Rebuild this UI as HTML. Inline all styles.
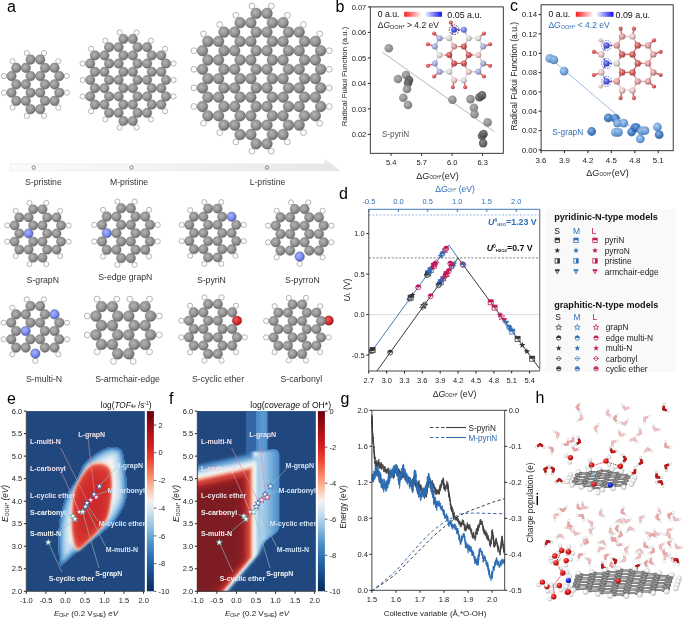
<!DOCTYPE html>
<html><head><meta charset="utf-8"><style>
html,body{margin:0;padding:0;background:#fff;}
svg{display:block;will-change:transform;}
text{font-family:"Liberation Sans", sans-serif;}
</style></head><body>
<svg width="685" height="618" viewBox="0 0 685 618">
<defs><radialGradient id="gC" cx="40%" cy="38%" r="62%"><stop offset="0" stop-color="#b4b4b4"/><stop offset="0.6" stop-color="#939393"/><stop offset="1" stop-color="#6c6c6c"/></radialGradient>
<radialGradient id="gN" cx="40%" cy="38%" r="62%"><stop offset="0" stop-color="#a8b4ff"/><stop offset="0.6" stop-color="#7a8cf0"/><stop offset="1" stop-color="#5060c8"/></radialGradient>
<radialGradient id="gO" cx="40%" cy="38%" r="62%"><stop offset="0" stop-color="#f06060"/><stop offset="0.6" stop-color="#d42a2a"/><stop offset="1" stop-color="#a01818"/></radialGradient>
<linearGradient id="arrowG" x1="0" x2="1" y1="0" y2="0"><stop offset="0" stop-color="#fbfbfb"/><stop offset="0.5" stop-color="#f2f2f2"/><stop offset="1" stop-color="#e6e6e6"/></linearGradient>
<radialGradient id="gGr" cx="38%" cy="35%" r="65%"><stop offset="0" stop-color="#a8a8a8"/><stop offset="0.55" stop-color="#8a8a8a"/><stop offset="1" stop-color="#6a6a6a"/></radialGradient><radialGradient id="gGr2" cx="38%" cy="35%" r="65%"><stop offset="0" stop-color="#7a7a7a"/><stop offset="0.55" stop-color="#5a5a5a"/><stop offset="1" stop-color="#3a3a3a"/></radialGradient><radialGradient id="gBl" cx="38%" cy="35%" r="65%"><stop offset="0" stop-color="#a6c8ee"/><stop offset="0.55" stop-color="#6c9fd8"/><stop offset="1" stop-color="#4378ba"/></radialGradient><radialGradient id="gBl2" cx="38%" cy="35%" r="65%"><stop offset="0" stop-color="#7eaae0"/><stop offset="0.55" stop-color="#3a74bc"/><stop offset="1" stop-color="#275d9e"/></radialGradient><linearGradient id="redbar" x1="0" x2="1"><stop offset="0" stop-color="#ff1a1a"/><stop offset="1" stop-color="#fff0f0"/></linearGradient><linearGradient id="bluebar" x1="0" x2="1"><stop offset="0" stop-color="#eef0ff"/><stop offset="1" stop-color="#1010f0"/></linearGradient><radialGradient id="bg0" cx="38%" cy="35%" r="65%"><stop offset="0" stop-color="#eda3a3"/><stop offset="0.5" stop-color="#e05858"/><stop offset="1" stop-color="#a13f3f"/></radialGradient><radialGradient id="bg1" cx="38%" cy="35%" r="65%"><stop offset="0" stop-color="#edcaca"/><stop offset="0.5" stop-color="#e0a0a0"/><stop offset="1" stop-color="#a17373"/></radialGradient><radialGradient id="bg2" cx="38%" cy="35%" r="65%"><stop offset="0" stop-color="#e6a4a4"/><stop offset="0.5" stop-color="#d25a5a"/><stop offset="1" stop-color="#974040"/></radialGradient><radialGradient id="bg3" cx="38%" cy="35%" r="65%"><stop offset="0" stop-color="#ebebeb"/><stop offset="0.5" stop-color="#dcdcdc"/><stop offset="1" stop-color="#9e9e9e"/></radialGradient><radialGradient id="bg4" cx="38%" cy="35%" r="65%"><stop offset="0" stop-color="#d0d3ed"/><stop offset="0.5" stop-color="#aab0e0"/><stop offset="1" stop-color="#7a7ea1"/></radialGradient><radialGradient id="bg5" cx="38%" cy="35%" r="65%"><stop offset="0" stop-color="#9b9fed"/><stop offset="0.5" stop-color="#4a52e0"/><stop offset="1" stop-color="#353ba1"/></radialGradient><radialGradient id="bg6" cx="38%" cy="35%" r="65%"><stop offset="0" stop-color="#b6bdf2"/><stop offset="0.5" stop-color="#7c88e8"/><stop offset="1" stop-color="#5961a7"/></radialGradient><radialGradient id="bg7" cx="38%" cy="35%" r="65%"><stop offset="0" stop-color="#f4e0e0"/><stop offset="0.5" stop-color="#ecc8c8"/><stop offset="1" stop-color="#a99090"/></radialGradient><radialGradient id="bg8" cx="38%" cy="35%" r="65%"><stop offset="0" stop-color="#e9a4a4"/><stop offset="0.5" stop-color="#d85a5a"/><stop offset="1" stop-color="#9b4040"/></radialGradient><radialGradient id="bg9" cx="38%" cy="35%" r="65%"><stop offset="0" stop-color="#f4dede"/><stop offset="0.5" stop-color="#ecc4c4"/><stop offset="1" stop-color="#a98d8d"/></radialGradient><radialGradient id="bg10" cx="38%" cy="35%" r="65%"><stop offset="0" stop-color="#e7a9a9"/><stop offset="0.5" stop-color="#d46464"/><stop offset="1" stop-color="#984848"/></radialGradient><radialGradient id="bg11" cx="38%" cy="35%" r="65%"><stop offset="0" stop-color="#a4a4ed"/><stop offset="0.5" stop-color="#5a5ae0"/><stop offset="1" stop-color="#4040a1"/></radialGradient><radialGradient id="bg12" cx="38%" cy="35%" r="65%"><stop offset="0" stop-color="#f4e1e1"/><stop offset="0.5" stop-color="#ebcaca"/><stop offset="1" stop-color="#a99191"/></radialGradient><radialGradient id="bg13" cx="38%" cy="35%" r="65%"><stop offset="0" stop-color="#efcccc"/><stop offset="0.5" stop-color="#e2a4a4"/><stop offset="1" stop-color="#a27676"/></radialGradient><linearGradient id="cbar" x1="0" y1="0" x2="0" y2="1"><stop offset="0" stop-color="#67000d"/><stop offset="0.1" stop-color="#a50f15"/><stop offset="0.2" stop-color="#d42020"/><stop offset="0.28" stop-color="#ef4a35"/><stop offset="0.36" stop-color="#f98a6a"/><stop offset="0.43" stop-color="#fcc0a8"/><stop offset="0.5" stop-color="#f5f3f3"/><stop offset="0.57" stop-color="#c9ddef"/><stop offset="0.65" stop-color="#8cbde0"/><stop offset="0.73" stop-color="#4f93cb"/><stop offset="0.82" stop-color="#2a6cae"/><stop offset="0.91" stop-color="#174a8a"/><stop offset="1" stop-color="#0a2a5c"/></linearGradient><filter id="bl0_7" x="-30%" y="-30%" width="160%" height="160%"><feGaussianBlur stdDeviation="0.7"/></filter><filter id="bl1" x="-30%" y="-30%" width="160%" height="160%"><feGaussianBlur stdDeviation="1"/></filter><filter id="bl1_5" x="-30%" y="-30%" width="160%" height="160%"><feGaussianBlur stdDeviation="1.5"/></filter><filter id="bl2" x="-30%" y="-30%" width="160%" height="160%"><feGaussianBlur stdDeviation="2"/></filter><filter id="bl2_5" x="-30%" y="-30%" width="160%" height="160%"><feGaussianBlur stdDeviation="2.5"/></filter><filter id="bl3" x="-30%" y="-30%" width="160%" height="160%"><feGaussianBlur stdDeviation="3"/></filter><filter id="bl4" x="-30%" y="-30%" width="160%" height="160%"><feGaussianBlur stdDeviation="4"/></filter><filter id="bl5" x="-30%" y="-30%" width="160%" height="160%"><feGaussianBlur stdDeviation="5"/></filter><clipPath id="clipE"><rect x="26.3" y="411.1" width="118.6" height="180.2"/></clipPath><clipPath id="clipEo"><path d="M114.5,447.2 C117.1,447.5 120.1,447.7 121.8,450.5 C123.5,453.3 124.0,459.2 124.7,464.0 C125.5,468.8 126.0,473.9 126.3,479.0 C126.6,484.1 126.8,490.3 126.5,494.6 C126.2,498.9 126.4,500.2 124.3,504.8 C122.2,509.4 117.8,517.6 114.1,522.2 C110.4,526.8 106.5,529.0 102.4,532.4 C98.3,535.8 93.7,539.2 89.3,542.6 C84.9,546.0 80.3,549.4 76.2,552.8 C72.1,556.2 67.3,560.9 64.6,563.0 C61.9,565.1 61.2,567.6 60.2,565.2 C59.2,562.8 58.9,555.3 58.7,548.4 C58.5,541.5 58.2,532.0 59.2,524.0 C60.2,516.0 62.7,506.3 64.6,500.4 C66.5,494.5 68.2,492.4 70.4,488.7 C72.6,485.0 75.5,482.1 77.7,478.0 C79.9,473.9 80.8,468.2 83.8,464.2 C86.8,460.2 91.8,456.6 95.5,454.0 C99.2,451.4 102.8,449.6 106.0,448.5 C109.2,447.4 111.9,446.9 114.5,447.2 Z"/></clipPath><clipPath id="clipF"><rect x="197.3" y="411.1" width="118.6" height="180.2"/></clipPath><linearGradient id="colF" x1="0" x2="1"><stop offset="0" stop-color="#21487e" stop-opacity="0"/><stop offset="0.3" stop-color="#6aa3d6"/><stop offset="0.55" stop-color="#b6d6ee"/><stop offset="0.8" stop-color="#5d98cf"/><stop offset="1" stop-color="#21487e" stop-opacity="0"/></linearGradient><linearGradient id="colFv" x1="0" x2="0" y1="0" y2="1"><stop offset="0" stop-color="#fff" stop-opacity="0.5"/><stop offset="1" stop-color="#fff" stop-opacity="1"/></linearGradient><linearGradient id="platF" x1="0" x2="1"><stop offset="0" stop-color="#ffffff"/><stop offset="0.25" stop-color="#c8e0f2"/><stop offset="0.6" stop-color="#8abde3"/><stop offset="0.85" stop-color="#5290cc"/><stop offset="1" stop-color="#3a76b6"/></linearGradient><linearGradient id="redF" x1="0" x2="1"><stop offset="0" stop-color="#8e1a20"/><stop offset="0.7" stop-color="#9a1c22"/><stop offset="0.86" stop-color="#b81f26"/><stop offset="0.96" stop-color="#dc5a44"/><stop offset="1" stop-color="#f1b39c"/></linearGradient><linearGradient id="colF2" x1="0" x2="1"><stop offset="0" stop-color="#4a88c6"/><stop offset="0.6" stop-color="#5e9ad2"/><stop offset="1" stop-color="#4f8ccb"/></linearGradient><linearGradient id="platG" x1="0" x2="1"><stop offset="0" stop-color="#f4f7fa"/><stop offset="0.3" stop-color="#b9d8ee"/><stop offset="0.65" stop-color="#7fb4de"/><stop offset="1" stop-color="#4e8ecb"/></linearGradient><radialGradient id="gWh" cx="38%" cy="35%" r="65%"><stop offset="0" stop-color="#ffffff"/><stop offset="0.55" stop-color="#f0f0f0"/><stop offset="1" stop-color="#b8b8b8"/></radialGradient><radialGradient id="gRd" cx="38%" cy="35%" r="65%"><stop offset="0" stop-color="#ff7070"/><stop offset="0.55" stop-color="#e01a1a"/><stop offset="1" stop-color="#a00c0c"/></radialGradient><radialGradient id="gBn" cx="38%" cy="35%" r="65%"><stop offset="0" stop-color="#5a6aff"/><stop offset="0.55" stop-color="#1a2ae0"/><stop offset="1" stop-color="#0a148c"/></radialGradient><radialGradient id="gGy" cx="38%" cy="35%" r="65%"><stop offset="0" stop-color="#b0b0b0"/><stop offset="0.55" stop-color="#8a8a8a"/><stop offset="1" stop-color="#5a5a5a"/></radialGradient></defs>
<rect width="685" height="618" fill="#fff"/>
<text x="7.0" y="11.6" font-size="16" fill="#000" text-anchor="start" font-weight="normal" font-style="normal" >a</text>
<circle cx="3.9" cy="76.1" r="2.58" fill="#fff" stroke="#9c9c9c" stroke-width="0.75"/>
<circle cx="12.5" cy="61.2" r="2.58" fill="#fff" stroke="#9c9c9c" stroke-width="0.75"/>
<circle cx="12.5" cy="107.6" r="2.58" fill="#fff" stroke="#9c9c9c" stroke-width="0.75"/>
<circle cx="3.9" cy="92.7" r="2.58" fill="#fff" stroke="#9c9c9c" stroke-width="0.75"/>
<circle cx="26.8" cy="53.0" r="2.58" fill="#fff" stroke="#9c9c9c" stroke-width="0.75"/>
<circle cx="44.0" cy="53.0" r="2.58" fill="#fff" stroke="#9c9c9c" stroke-width="0.75"/>
<circle cx="44.0" cy="115.8" r="2.58" fill="#fff" stroke="#9c9c9c" stroke-width="0.75"/>
<circle cx="26.8" cy="115.8" r="2.58" fill="#fff" stroke="#9c9c9c" stroke-width="0.75"/>
<circle cx="66.9" cy="76.1" r="2.58" fill="#fff" stroke="#9c9c9c" stroke-width="0.75"/>
<circle cx="58.3" cy="61.2" r="2.58" fill="#fff" stroke="#9c9c9c" stroke-width="0.75"/>
<circle cx="66.9" cy="92.7" r="2.58" fill="#fff" stroke="#9c9c9c" stroke-width="0.75"/>
<circle cx="58.3" cy="107.6" r="2.58" fill="#fff" stroke="#9c9c9c" stroke-width="0.75"/>
<circle cx="30.6" cy="59.6" r="4.78" fill="url(#gC)" stroke="#5e5e5e" stroke-width="0.35"/>
<circle cx="40.2" cy="59.6" r="4.78" fill="url(#gC)" stroke="#5e5e5e" stroke-width="0.35"/>
<circle cx="16.3" cy="67.9" r="4.78" fill="url(#gC)" stroke="#5e5e5e" stroke-width="0.35"/>
<circle cx="25.8" cy="67.9" r="4.78" fill="url(#gC)" stroke="#5e5e5e" stroke-width="0.35"/>
<circle cx="45.0" cy="67.9" r="4.78" fill="url(#gC)" stroke="#5e5e5e" stroke-width="0.35"/>
<circle cx="54.5" cy="67.9" r="4.78" fill="url(#gC)" stroke="#5e5e5e" stroke-width="0.35"/>
<circle cx="11.5" cy="76.1" r="4.78" fill="url(#gC)" stroke="#5e5e5e" stroke-width="0.35"/>
<circle cx="30.6" cy="76.1" r="4.78" fill="url(#gC)" stroke="#5e5e5e" stroke-width="0.35"/>
<circle cx="40.2" cy="76.1" r="4.78" fill="url(#gC)" stroke="#5e5e5e" stroke-width="0.35"/>
<circle cx="59.3" cy="76.1" r="4.78" fill="url(#gC)" stroke="#5e5e5e" stroke-width="0.35"/>
<circle cx="16.3" cy="84.4" r="4.78" fill="url(#gC)" stroke="#5e5e5e" stroke-width="0.35"/>
<circle cx="25.8" cy="84.4" r="4.78" fill="url(#gC)" stroke="#5e5e5e" stroke-width="0.35"/>
<circle cx="45.0" cy="84.4" r="4.78" fill="url(#gC)" stroke="#5e5e5e" stroke-width="0.35"/>
<circle cx="54.5" cy="84.4" r="4.78" fill="url(#gC)" stroke="#5e5e5e" stroke-width="0.35"/>
<circle cx="11.5" cy="92.7" r="4.78" fill="url(#gC)" stroke="#5e5e5e" stroke-width="0.35"/>
<circle cx="30.6" cy="92.7" r="4.78" fill="url(#gC)" stroke="#5e5e5e" stroke-width="0.35"/>
<circle cx="40.2" cy="92.7" r="4.78" fill="url(#gC)" stroke="#5e5e5e" stroke-width="0.35"/>
<circle cx="59.3" cy="92.7" r="4.78" fill="url(#gC)" stroke="#5e5e5e" stroke-width="0.35"/>
<circle cx="16.3" cy="100.9" r="4.78" fill="url(#gC)" stroke="#5e5e5e" stroke-width="0.35"/>
<circle cx="25.8" cy="100.9" r="4.78" fill="url(#gC)" stroke="#5e5e5e" stroke-width="0.35"/>
<circle cx="45.0" cy="100.9" r="4.78" fill="url(#gC)" stroke="#5e5e5e" stroke-width="0.35"/>
<circle cx="54.5" cy="100.9" r="4.78" fill="url(#gC)" stroke="#5e5e5e" stroke-width="0.35"/>
<circle cx="30.6" cy="109.2" r="4.78" fill="url(#gC)" stroke="#5e5e5e" stroke-width="0.35"/>
<circle cx="40.2" cy="109.2" r="4.78" fill="url(#gC)" stroke="#5e5e5e" stroke-width="0.35"/>
<circle cx="82.6" cy="63.6" r="2.56" fill="#fff" stroke="#9c9c9c" stroke-width="0.75"/>
<circle cx="91.1" cy="48.8" r="2.56" fill="#fff" stroke="#9c9c9c" stroke-width="0.75"/>
<circle cx="82.6" cy="80.0" r="2.56" fill="#fff" stroke="#9c9c9c" stroke-width="0.75"/>
<circle cx="91.1" cy="111.2" r="2.56" fill="#fff" stroke="#9c9c9c" stroke-width="0.75"/>
<circle cx="82.6" cy="96.4" r="2.56" fill="#fff" stroke="#9c9c9c" stroke-width="0.75"/>
<circle cx="105.3" cy="40.6" r="2.56" fill="#fff" stroke="#9c9c9c" stroke-width="0.75"/>
<circle cx="105.3" cy="119.4" r="2.56" fill="#fff" stroke="#9c9c9c" stroke-width="0.75"/>
<circle cx="119.6" cy="32.4" r="2.56" fill="#fff" stroke="#9c9c9c" stroke-width="0.75"/>
<circle cx="136.6" cy="32.4" r="2.56" fill="#fff" stroke="#9c9c9c" stroke-width="0.75"/>
<circle cx="136.6" cy="127.6" r="2.56" fill="#fff" stroke="#9c9c9c" stroke-width="0.75"/>
<circle cx="119.6" cy="127.6" r="2.56" fill="#fff" stroke="#9c9c9c" stroke-width="0.75"/>
<circle cx="150.9" cy="40.6" r="2.56" fill="#fff" stroke="#9c9c9c" stroke-width="0.75"/>
<circle cx="150.9" cy="119.4" r="2.56" fill="#fff" stroke="#9c9c9c" stroke-width="0.75"/>
<circle cx="173.6" cy="63.6" r="2.56" fill="#fff" stroke="#9c9c9c" stroke-width="0.75"/>
<circle cx="165.1" cy="48.8" r="2.56" fill="#fff" stroke="#9c9c9c" stroke-width="0.75"/>
<circle cx="173.6" cy="80.0" r="2.56" fill="#fff" stroke="#9c9c9c" stroke-width="0.75"/>
<circle cx="173.6" cy="96.4" r="2.56" fill="#fff" stroke="#9c9c9c" stroke-width="0.75"/>
<circle cx="165.1" cy="111.2" r="2.56" fill="#fff" stroke="#9c9c9c" stroke-width="0.75"/>
<circle cx="123.4" cy="39.0" r="4.74" fill="url(#gC)" stroke="#5e5e5e" stroke-width="0.35"/>
<circle cx="132.8" cy="39.0" r="4.74" fill="url(#gC)" stroke="#5e5e5e" stroke-width="0.35"/>
<circle cx="109.1" cy="47.2" r="4.74" fill="url(#gC)" stroke="#5e5e5e" stroke-width="0.35"/>
<circle cx="118.6" cy="47.2" r="4.74" fill="url(#gC)" stroke="#5e5e5e" stroke-width="0.35"/>
<circle cx="137.6" cy="47.2" r="4.74" fill="url(#gC)" stroke="#5e5e5e" stroke-width="0.35"/>
<circle cx="147.1" cy="47.2" r="4.74" fill="url(#gC)" stroke="#5e5e5e" stroke-width="0.35"/>
<circle cx="94.9" cy="55.4" r="4.74" fill="url(#gC)" stroke="#5e5e5e" stroke-width="0.35"/>
<circle cx="104.4" cy="55.4" r="4.74" fill="url(#gC)" stroke="#5e5e5e" stroke-width="0.35"/>
<circle cx="123.4" cy="55.4" r="4.74" fill="url(#gC)" stroke="#5e5e5e" stroke-width="0.35"/>
<circle cx="132.8" cy="55.4" r="4.74" fill="url(#gC)" stroke="#5e5e5e" stroke-width="0.35"/>
<circle cx="151.8" cy="55.4" r="4.74" fill="url(#gC)" stroke="#5e5e5e" stroke-width="0.35"/>
<circle cx="161.3" cy="55.4" r="4.74" fill="url(#gC)" stroke="#5e5e5e" stroke-width="0.35"/>
<circle cx="90.2" cy="63.6" r="4.74" fill="url(#gC)" stroke="#5e5e5e" stroke-width="0.35"/>
<circle cx="109.1" cy="63.6" r="4.74" fill="url(#gC)" stroke="#5e5e5e" stroke-width="0.35"/>
<circle cx="118.6" cy="63.6" r="4.74" fill="url(#gC)" stroke="#5e5e5e" stroke-width="0.35"/>
<circle cx="137.6" cy="63.6" r="4.74" fill="url(#gC)" stroke="#5e5e5e" stroke-width="0.35"/>
<circle cx="147.1" cy="63.6" r="4.74" fill="url(#gC)" stroke="#5e5e5e" stroke-width="0.35"/>
<circle cx="166.0" cy="63.6" r="4.74" fill="url(#gC)" stroke="#5e5e5e" stroke-width="0.35"/>
<circle cx="94.9" cy="71.8" r="4.74" fill="url(#gC)" stroke="#5e5e5e" stroke-width="0.35"/>
<circle cx="104.4" cy="71.8" r="4.74" fill="url(#gC)" stroke="#5e5e5e" stroke-width="0.35"/>
<circle cx="123.4" cy="71.8" r="4.74" fill="url(#gC)" stroke="#5e5e5e" stroke-width="0.35"/>
<circle cx="132.8" cy="71.8" r="4.74" fill="url(#gC)" stroke="#5e5e5e" stroke-width="0.35"/>
<circle cx="151.8" cy="71.8" r="4.74" fill="url(#gC)" stroke="#5e5e5e" stroke-width="0.35"/>
<circle cx="161.3" cy="71.8" r="4.74" fill="url(#gC)" stroke="#5e5e5e" stroke-width="0.35"/>
<circle cx="90.2" cy="80.0" r="4.74" fill="url(#gC)" stroke="#5e5e5e" stroke-width="0.35"/>
<circle cx="109.1" cy="80.0" r="4.74" fill="url(#gC)" stroke="#5e5e5e" stroke-width="0.35"/>
<circle cx="118.6" cy="80.0" r="4.74" fill="url(#gC)" stroke="#5e5e5e" stroke-width="0.35"/>
<circle cx="137.6" cy="80.0" r="4.74" fill="url(#gC)" stroke="#5e5e5e" stroke-width="0.35"/>
<circle cx="147.1" cy="80.0" r="4.74" fill="url(#gC)" stroke="#5e5e5e" stroke-width="0.35"/>
<circle cx="166.0" cy="80.0" r="4.74" fill="url(#gC)" stroke="#5e5e5e" stroke-width="0.35"/>
<circle cx="94.9" cy="88.2" r="4.74" fill="url(#gC)" stroke="#5e5e5e" stroke-width="0.35"/>
<circle cx="104.4" cy="88.2" r="4.74" fill="url(#gC)" stroke="#5e5e5e" stroke-width="0.35"/>
<circle cx="123.4" cy="88.2" r="4.74" fill="url(#gC)" stroke="#5e5e5e" stroke-width="0.35"/>
<circle cx="132.8" cy="88.2" r="4.74" fill="url(#gC)" stroke="#5e5e5e" stroke-width="0.35"/>
<circle cx="151.8" cy="88.2" r="4.74" fill="url(#gC)" stroke="#5e5e5e" stroke-width="0.35"/>
<circle cx="161.3" cy="88.2" r="4.74" fill="url(#gC)" stroke="#5e5e5e" stroke-width="0.35"/>
<circle cx="90.2" cy="96.4" r="4.74" fill="url(#gC)" stroke="#5e5e5e" stroke-width="0.35"/>
<circle cx="109.1" cy="96.4" r="4.74" fill="url(#gC)" stroke="#5e5e5e" stroke-width="0.35"/>
<circle cx="118.6" cy="96.4" r="4.74" fill="url(#gC)" stroke="#5e5e5e" stroke-width="0.35"/>
<circle cx="137.6" cy="96.4" r="4.74" fill="url(#gC)" stroke="#5e5e5e" stroke-width="0.35"/>
<circle cx="147.1" cy="96.4" r="4.74" fill="url(#gC)" stroke="#5e5e5e" stroke-width="0.35"/>
<circle cx="166.0" cy="96.4" r="4.74" fill="url(#gC)" stroke="#5e5e5e" stroke-width="0.35"/>
<circle cx="94.9" cy="104.6" r="4.74" fill="url(#gC)" stroke="#5e5e5e" stroke-width="0.35"/>
<circle cx="104.4" cy="104.6" r="4.74" fill="url(#gC)" stroke="#5e5e5e" stroke-width="0.35"/>
<circle cx="123.4" cy="104.6" r="4.74" fill="url(#gC)" stroke="#5e5e5e" stroke-width="0.35"/>
<circle cx="132.8" cy="104.6" r="4.74" fill="url(#gC)" stroke="#5e5e5e" stroke-width="0.35"/>
<circle cx="151.8" cy="104.6" r="4.74" fill="url(#gC)" stroke="#5e5e5e" stroke-width="0.35"/>
<circle cx="161.3" cy="104.6" r="4.74" fill="url(#gC)" stroke="#5e5e5e" stroke-width="0.35"/>
<circle cx="109.1" cy="112.8" r="4.74" fill="url(#gC)" stroke="#5e5e5e" stroke-width="0.35"/>
<circle cx="118.6" cy="112.8" r="4.74" fill="url(#gC)" stroke="#5e5e5e" stroke-width="0.35"/>
<circle cx="137.6" cy="112.8" r="4.74" fill="url(#gC)" stroke="#5e5e5e" stroke-width="0.35"/>
<circle cx="147.1" cy="112.8" r="4.74" fill="url(#gC)" stroke="#5e5e5e" stroke-width="0.35"/>
<circle cx="123.4" cy="121.0" r="4.74" fill="url(#gC)" stroke="#5e5e5e" stroke-width="0.35"/>
<circle cx="132.8" cy="121.0" r="4.74" fill="url(#gC)" stroke="#5e5e5e" stroke-width="0.35"/>
<circle cx="193.9" cy="50.7" r="2.90" fill="#fff" stroke="#9c9c9c" stroke-width="0.75"/>
<circle cx="203.5" cy="33.9" r="2.90" fill="#fff" stroke="#9c9c9c" stroke-width="0.75"/>
<circle cx="193.9" cy="69.3" r="2.90" fill="#fff" stroke="#9c9c9c" stroke-width="0.75"/>
<circle cx="193.9" cy="87.9" r="2.90" fill="#fff" stroke="#9c9c9c" stroke-width="0.75"/>
<circle cx="203.5" cy="123.3" r="2.90" fill="#fff" stroke="#9c9c9c" stroke-width="0.75"/>
<circle cx="193.9" cy="106.5" r="2.90" fill="#fff" stroke="#9c9c9c" stroke-width="0.75"/>
<circle cx="219.7" cy="24.6" r="2.90" fill="#fff" stroke="#9c9c9c" stroke-width="0.75"/>
<circle cx="219.7" cy="132.6" r="2.90" fill="#fff" stroke="#9c9c9c" stroke-width="0.75"/>
<circle cx="235.8" cy="15.3" r="2.90" fill="#fff" stroke="#9c9c9c" stroke-width="0.75"/>
<circle cx="235.8" cy="141.9" r="2.90" fill="#fff" stroke="#9c9c9c" stroke-width="0.75"/>
<circle cx="251.9" cy="6.0" r="2.90" fill="#fff" stroke="#9c9c9c" stroke-width="0.75"/>
<circle cx="271.3" cy="6.0" r="2.90" fill="#fff" stroke="#9c9c9c" stroke-width="0.75"/>
<circle cx="271.3" cy="151.2" r="2.90" fill="#fff" stroke="#9c9c9c" stroke-width="0.75"/>
<circle cx="251.9" cy="151.2" r="2.90" fill="#fff" stroke="#9c9c9c" stroke-width="0.75"/>
<circle cx="287.4" cy="15.3" r="2.90" fill="#fff" stroke="#9c9c9c" stroke-width="0.75"/>
<circle cx="287.4" cy="141.9" r="2.90" fill="#fff" stroke="#9c9c9c" stroke-width="0.75"/>
<circle cx="303.5" cy="24.6" r="2.90" fill="#fff" stroke="#9c9c9c" stroke-width="0.75"/>
<circle cx="303.5" cy="132.6" r="2.90" fill="#fff" stroke="#9c9c9c" stroke-width="0.75"/>
<circle cx="329.3" cy="50.7" r="2.90" fill="#fff" stroke="#9c9c9c" stroke-width="0.75"/>
<circle cx="319.7" cy="33.9" r="2.90" fill="#fff" stroke="#9c9c9c" stroke-width="0.75"/>
<circle cx="329.3" cy="69.3" r="2.90" fill="#fff" stroke="#9c9c9c" stroke-width="0.75"/>
<circle cx="329.3" cy="87.9" r="2.90" fill="#fff" stroke="#9c9c9c" stroke-width="0.75"/>
<circle cx="329.3" cy="106.5" r="2.90" fill="#fff" stroke="#9c9c9c" stroke-width="0.75"/>
<circle cx="319.7" cy="123.3" r="2.90" fill="#fff" stroke="#9c9c9c" stroke-width="0.75"/>
<circle cx="256.2" cy="13.4" r="5.38" fill="url(#gC)" stroke="#5e5e5e" stroke-width="0.35"/>
<circle cx="267.0" cy="13.4" r="5.38" fill="url(#gC)" stroke="#5e5e5e" stroke-width="0.35"/>
<circle cx="240.1" cy="22.7" r="5.38" fill="url(#gC)" stroke="#5e5e5e" stroke-width="0.35"/>
<circle cx="250.9" cy="22.7" r="5.38" fill="url(#gC)" stroke="#5e5e5e" stroke-width="0.35"/>
<circle cx="272.4" cy="22.7" r="5.38" fill="url(#gC)" stroke="#5e5e5e" stroke-width="0.35"/>
<circle cx="283.1" cy="22.7" r="5.38" fill="url(#gC)" stroke="#5e5e5e" stroke-width="0.35"/>
<circle cx="224.0" cy="32.1" r="5.38" fill="url(#gC)" stroke="#5e5e5e" stroke-width="0.35"/>
<circle cx="234.7" cy="32.1" r="5.38" fill="url(#gC)" stroke="#5e5e5e" stroke-width="0.35"/>
<circle cx="256.2" cy="32.1" r="5.38" fill="url(#gC)" stroke="#5e5e5e" stroke-width="0.35"/>
<circle cx="267.0" cy="32.1" r="5.38" fill="url(#gC)" stroke="#5e5e5e" stroke-width="0.35"/>
<circle cx="288.5" cy="32.1" r="5.38" fill="url(#gC)" stroke="#5e5e5e" stroke-width="0.35"/>
<circle cx="299.2" cy="32.1" r="5.38" fill="url(#gC)" stroke="#5e5e5e" stroke-width="0.35"/>
<circle cx="207.9" cy="41.4" r="5.38" fill="url(#gC)" stroke="#5e5e5e" stroke-width="0.35"/>
<circle cx="218.6" cy="41.4" r="5.38" fill="url(#gC)" stroke="#5e5e5e" stroke-width="0.35"/>
<circle cx="240.1" cy="41.4" r="5.38" fill="url(#gC)" stroke="#5e5e5e" stroke-width="0.35"/>
<circle cx="250.9" cy="41.4" r="5.38" fill="url(#gC)" stroke="#5e5e5e" stroke-width="0.35"/>
<circle cx="272.4" cy="41.4" r="5.38" fill="url(#gC)" stroke="#5e5e5e" stroke-width="0.35"/>
<circle cx="283.1" cy="41.4" r="5.38" fill="url(#gC)" stroke="#5e5e5e" stroke-width="0.35"/>
<circle cx="304.6" cy="41.4" r="5.38" fill="url(#gC)" stroke="#5e5e5e" stroke-width="0.35"/>
<circle cx="315.4" cy="41.4" r="5.38" fill="url(#gC)" stroke="#5e5e5e" stroke-width="0.35"/>
<circle cx="202.5" cy="50.7" r="5.38" fill="url(#gC)" stroke="#5e5e5e" stroke-width="0.35"/>
<circle cx="224.0" cy="50.7" r="5.38" fill="url(#gC)" stroke="#5e5e5e" stroke-width="0.35"/>
<circle cx="234.7" cy="50.7" r="5.38" fill="url(#gC)" stroke="#5e5e5e" stroke-width="0.35"/>
<circle cx="256.2" cy="50.7" r="5.38" fill="url(#gC)" stroke="#5e5e5e" stroke-width="0.35"/>
<circle cx="267.0" cy="50.7" r="5.38" fill="url(#gC)" stroke="#5e5e5e" stroke-width="0.35"/>
<circle cx="288.5" cy="50.7" r="5.38" fill="url(#gC)" stroke="#5e5e5e" stroke-width="0.35"/>
<circle cx="299.2" cy="50.7" r="5.38" fill="url(#gC)" stroke="#5e5e5e" stroke-width="0.35"/>
<circle cx="320.7" cy="50.7" r="5.38" fill="url(#gC)" stroke="#5e5e5e" stroke-width="0.35"/>
<circle cx="207.9" cy="60.0" r="5.38" fill="url(#gC)" stroke="#5e5e5e" stroke-width="0.35"/>
<circle cx="218.6" cy="60.0" r="5.38" fill="url(#gC)" stroke="#5e5e5e" stroke-width="0.35"/>
<circle cx="240.1" cy="60.0" r="5.38" fill="url(#gC)" stroke="#5e5e5e" stroke-width="0.35"/>
<circle cx="250.9" cy="60.0" r="5.38" fill="url(#gC)" stroke="#5e5e5e" stroke-width="0.35"/>
<circle cx="272.4" cy="60.0" r="5.38" fill="url(#gC)" stroke="#5e5e5e" stroke-width="0.35"/>
<circle cx="283.1" cy="60.0" r="5.38" fill="url(#gC)" stroke="#5e5e5e" stroke-width="0.35"/>
<circle cx="304.6" cy="60.0" r="5.38" fill="url(#gC)" stroke="#5e5e5e" stroke-width="0.35"/>
<circle cx="315.4" cy="60.0" r="5.38" fill="url(#gC)" stroke="#5e5e5e" stroke-width="0.35"/>
<circle cx="202.5" cy="69.3" r="5.38" fill="url(#gC)" stroke="#5e5e5e" stroke-width="0.35"/>
<circle cx="224.0" cy="69.3" r="5.38" fill="url(#gC)" stroke="#5e5e5e" stroke-width="0.35"/>
<circle cx="234.7" cy="69.3" r="5.38" fill="url(#gC)" stroke="#5e5e5e" stroke-width="0.35"/>
<circle cx="256.2" cy="69.3" r="5.38" fill="url(#gC)" stroke="#5e5e5e" stroke-width="0.35"/>
<circle cx="267.0" cy="69.3" r="5.38" fill="url(#gC)" stroke="#5e5e5e" stroke-width="0.35"/>
<circle cx="288.5" cy="69.3" r="5.38" fill="url(#gC)" stroke="#5e5e5e" stroke-width="0.35"/>
<circle cx="299.2" cy="69.3" r="5.38" fill="url(#gC)" stroke="#5e5e5e" stroke-width="0.35"/>
<circle cx="320.7" cy="69.3" r="5.38" fill="url(#gC)" stroke="#5e5e5e" stroke-width="0.35"/>
<circle cx="207.9" cy="78.6" r="5.38" fill="url(#gC)" stroke="#5e5e5e" stroke-width="0.35"/>
<circle cx="218.6" cy="78.6" r="5.38" fill="url(#gC)" stroke="#5e5e5e" stroke-width="0.35"/>
<circle cx="240.1" cy="78.6" r="5.38" fill="url(#gC)" stroke="#5e5e5e" stroke-width="0.35"/>
<circle cx="250.9" cy="78.6" r="5.38" fill="url(#gC)" stroke="#5e5e5e" stroke-width="0.35"/>
<circle cx="272.4" cy="78.6" r="5.38" fill="url(#gC)" stroke="#5e5e5e" stroke-width="0.35"/>
<circle cx="283.1" cy="78.6" r="5.38" fill="url(#gC)" stroke="#5e5e5e" stroke-width="0.35"/>
<circle cx="304.6" cy="78.6" r="5.38" fill="url(#gC)" stroke="#5e5e5e" stroke-width="0.35"/>
<circle cx="315.4" cy="78.6" r="5.38" fill="url(#gC)" stroke="#5e5e5e" stroke-width="0.35"/>
<circle cx="202.5" cy="87.9" r="5.38" fill="url(#gC)" stroke="#5e5e5e" stroke-width="0.35"/>
<circle cx="224.0" cy="87.9" r="5.38" fill="url(#gC)" stroke="#5e5e5e" stroke-width="0.35"/>
<circle cx="234.7" cy="87.9" r="5.38" fill="url(#gC)" stroke="#5e5e5e" stroke-width="0.35"/>
<circle cx="256.2" cy="87.9" r="5.38" fill="url(#gC)" stroke="#5e5e5e" stroke-width="0.35"/>
<circle cx="267.0" cy="87.9" r="5.38" fill="url(#gC)" stroke="#5e5e5e" stroke-width="0.35"/>
<circle cx="288.5" cy="87.9" r="5.38" fill="url(#gC)" stroke="#5e5e5e" stroke-width="0.35"/>
<circle cx="299.2" cy="87.9" r="5.38" fill="url(#gC)" stroke="#5e5e5e" stroke-width="0.35"/>
<circle cx="320.7" cy="87.9" r="5.38" fill="url(#gC)" stroke="#5e5e5e" stroke-width="0.35"/>
<circle cx="207.9" cy="97.2" r="5.38" fill="url(#gC)" stroke="#5e5e5e" stroke-width="0.35"/>
<circle cx="218.6" cy="97.2" r="5.38" fill="url(#gC)" stroke="#5e5e5e" stroke-width="0.35"/>
<circle cx="240.1" cy="97.2" r="5.38" fill="url(#gC)" stroke="#5e5e5e" stroke-width="0.35"/>
<circle cx="250.9" cy="97.2" r="5.38" fill="url(#gC)" stroke="#5e5e5e" stroke-width="0.35"/>
<circle cx="272.4" cy="97.2" r="5.38" fill="url(#gC)" stroke="#5e5e5e" stroke-width="0.35"/>
<circle cx="283.1" cy="97.2" r="5.38" fill="url(#gC)" stroke="#5e5e5e" stroke-width="0.35"/>
<circle cx="304.6" cy="97.2" r="5.38" fill="url(#gC)" stroke="#5e5e5e" stroke-width="0.35"/>
<circle cx="315.4" cy="97.2" r="5.38" fill="url(#gC)" stroke="#5e5e5e" stroke-width="0.35"/>
<circle cx="202.5" cy="106.5" r="5.38" fill="url(#gC)" stroke="#5e5e5e" stroke-width="0.35"/>
<circle cx="224.0" cy="106.5" r="5.38" fill="url(#gC)" stroke="#5e5e5e" stroke-width="0.35"/>
<circle cx="234.7" cy="106.5" r="5.38" fill="url(#gC)" stroke="#5e5e5e" stroke-width="0.35"/>
<circle cx="256.2" cy="106.5" r="5.38" fill="url(#gC)" stroke="#5e5e5e" stroke-width="0.35"/>
<circle cx="267.0" cy="106.5" r="5.38" fill="url(#gC)" stroke="#5e5e5e" stroke-width="0.35"/>
<circle cx="288.5" cy="106.5" r="5.38" fill="url(#gC)" stroke="#5e5e5e" stroke-width="0.35"/>
<circle cx="299.2" cy="106.5" r="5.38" fill="url(#gC)" stroke="#5e5e5e" stroke-width="0.35"/>
<circle cx="320.7" cy="106.5" r="5.38" fill="url(#gC)" stroke="#5e5e5e" stroke-width="0.35"/>
<circle cx="207.9" cy="115.8" r="5.38" fill="url(#gC)" stroke="#5e5e5e" stroke-width="0.35"/>
<circle cx="218.6" cy="115.8" r="5.38" fill="url(#gC)" stroke="#5e5e5e" stroke-width="0.35"/>
<circle cx="240.1" cy="115.8" r="5.38" fill="url(#gC)" stroke="#5e5e5e" stroke-width="0.35"/>
<circle cx="250.9" cy="115.8" r="5.38" fill="url(#gC)" stroke="#5e5e5e" stroke-width="0.35"/>
<circle cx="272.4" cy="115.8" r="5.38" fill="url(#gC)" stroke="#5e5e5e" stroke-width="0.35"/>
<circle cx="283.1" cy="115.8" r="5.38" fill="url(#gC)" stroke="#5e5e5e" stroke-width="0.35"/>
<circle cx="304.6" cy="115.8" r="5.38" fill="url(#gC)" stroke="#5e5e5e" stroke-width="0.35"/>
<circle cx="315.4" cy="115.8" r="5.38" fill="url(#gC)" stroke="#5e5e5e" stroke-width="0.35"/>
<circle cx="224.0" cy="125.1" r="5.38" fill="url(#gC)" stroke="#5e5e5e" stroke-width="0.35"/>
<circle cx="234.7" cy="125.1" r="5.38" fill="url(#gC)" stroke="#5e5e5e" stroke-width="0.35"/>
<circle cx="256.2" cy="125.1" r="5.38" fill="url(#gC)" stroke="#5e5e5e" stroke-width="0.35"/>
<circle cx="267.0" cy="125.1" r="5.38" fill="url(#gC)" stroke="#5e5e5e" stroke-width="0.35"/>
<circle cx="288.5" cy="125.1" r="5.38" fill="url(#gC)" stroke="#5e5e5e" stroke-width="0.35"/>
<circle cx="299.2" cy="125.1" r="5.38" fill="url(#gC)" stroke="#5e5e5e" stroke-width="0.35"/>
<circle cx="240.1" cy="134.5" r="5.38" fill="url(#gC)" stroke="#5e5e5e" stroke-width="0.35"/>
<circle cx="250.9" cy="134.5" r="5.38" fill="url(#gC)" stroke="#5e5e5e" stroke-width="0.35"/>
<circle cx="272.4" cy="134.5" r="5.38" fill="url(#gC)" stroke="#5e5e5e" stroke-width="0.35"/>
<circle cx="283.1" cy="134.5" r="5.38" fill="url(#gC)" stroke="#5e5e5e" stroke-width="0.35"/>
<circle cx="256.2" cy="143.8" r="5.38" fill="url(#gC)" stroke="#5e5e5e" stroke-width="0.35"/>
<circle cx="267.0" cy="143.8" r="5.38" fill="url(#gC)" stroke="#5e5e5e" stroke-width="0.35"/>
<path d="M10,164 L325,164 L325,159.5 L340,170.8 L10,170.8 Z" fill="url(#arrowG)" stroke="#e4e4e4" stroke-width="0.6"/>
<circle cx="33.7" cy="167.6" r="1.7" fill="none" stroke="#666" stroke-width="0.75"/>
<circle cx="131.5" cy="167.6" r="1.7" fill="none" stroke="#666" stroke-width="0.75"/>
<circle cx="267" cy="167.6" r="1.7" fill="none" stroke="#666" stroke-width="0.75"/>
<text x="43.4" y="184.8" font-size="8.7" fill="#333" text-anchor="middle" font-weight="normal" font-style="normal" >S-pristine</text>
<text x="129.0" y="184.8" font-size="8.7" fill="#333" text-anchor="middle" font-weight="normal" font-style="normal" >M-pristine</text>
<text x="267.5" y="184.8" font-size="8.7" fill="#333" text-anchor="middle" font-weight="normal" font-style="normal" >L-pristine</text>
<circle cx="7.2" cy="225.4" r="2.51" fill="#fff" stroke="#9c9c9c" stroke-width="0.75"/>
<circle cx="15.6" cy="210.9" r="2.51" fill="#fff" stroke="#9c9c9c" stroke-width="0.75"/>
<circle cx="15.6" cy="256.1" r="2.51" fill="#fff" stroke="#9c9c9c" stroke-width="0.75"/>
<circle cx="7.2" cy="241.6" r="2.51" fill="#fff" stroke="#9c9c9c" stroke-width="0.75"/>
<circle cx="29.5" cy="202.9" r="2.51" fill="#fff" stroke="#9c9c9c" stroke-width="0.75"/>
<circle cx="46.3" cy="202.9" r="2.51" fill="#fff" stroke="#9c9c9c" stroke-width="0.75"/>
<circle cx="46.3" cy="264.1" r="2.51" fill="#fff" stroke="#9c9c9c" stroke-width="0.75"/>
<circle cx="29.5" cy="264.1" r="2.51" fill="#fff" stroke="#9c9c9c" stroke-width="0.75"/>
<circle cx="68.6" cy="225.4" r="2.51" fill="#fff" stroke="#9c9c9c" stroke-width="0.75"/>
<circle cx="60.2" cy="210.9" r="2.51" fill="#fff" stroke="#9c9c9c" stroke-width="0.75"/>
<circle cx="68.6" cy="241.6" r="2.51" fill="#fff" stroke="#9c9c9c" stroke-width="0.75"/>
<circle cx="60.2" cy="256.1" r="2.51" fill="#fff" stroke="#9c9c9c" stroke-width="0.75"/>
<circle cx="33.2" cy="209.3" r="4.65" fill="url(#gC)" stroke="#5e5e5e" stroke-width="0.35"/>
<circle cx="42.5" cy="209.3" r="4.65" fill="url(#gC)" stroke="#5e5e5e" stroke-width="0.35"/>
<circle cx="19.3" cy="217.4" r="4.65" fill="url(#gC)" stroke="#5e5e5e" stroke-width="0.35"/>
<circle cx="28.6" cy="217.4" r="4.65" fill="url(#gC)" stroke="#5e5e5e" stroke-width="0.35"/>
<circle cx="47.2" cy="217.4" r="4.65" fill="url(#gC)" stroke="#5e5e5e" stroke-width="0.35"/>
<circle cx="56.5" cy="217.4" r="4.65" fill="url(#gC)" stroke="#5e5e5e" stroke-width="0.35"/>
<circle cx="14.6" cy="225.4" r="4.65" fill="url(#gC)" stroke="#5e5e5e" stroke-width="0.35"/>
<circle cx="33.2" cy="225.4" r="4.65" fill="url(#gC)" stroke="#5e5e5e" stroke-width="0.35"/>
<circle cx="42.5" cy="225.4" r="4.65" fill="url(#gC)" stroke="#5e5e5e" stroke-width="0.35"/>
<circle cx="61.1" cy="225.4" r="4.65" fill="url(#gC)" stroke="#5e5e5e" stroke-width="0.35"/>
<circle cx="19.3" cy="233.5" r="4.65" fill="url(#gC)" stroke="#5e5e5e" stroke-width="0.35"/>
<circle cx="28.6" cy="233.5" r="4.65" fill="url(#gN)" stroke="#5e5e5e" stroke-width="0.35"/>
<circle cx="47.2" cy="233.5" r="4.65" fill="url(#gC)" stroke="#5e5e5e" stroke-width="0.35"/>
<circle cx="56.5" cy="233.5" r="4.65" fill="url(#gC)" stroke="#5e5e5e" stroke-width="0.35"/>
<circle cx="14.6" cy="241.6" r="4.65" fill="url(#gC)" stroke="#5e5e5e" stroke-width="0.35"/>
<circle cx="33.2" cy="241.6" r="4.65" fill="url(#gC)" stroke="#5e5e5e" stroke-width="0.35"/>
<circle cx="42.5" cy="241.6" r="4.65" fill="url(#gC)" stroke="#5e5e5e" stroke-width="0.35"/>
<circle cx="61.1" cy="241.6" r="4.65" fill="url(#gC)" stroke="#5e5e5e" stroke-width="0.35"/>
<circle cx="19.3" cy="249.6" r="4.65" fill="url(#gC)" stroke="#5e5e5e" stroke-width="0.35"/>
<circle cx="28.6" cy="249.6" r="4.65" fill="url(#gC)" stroke="#5e5e5e" stroke-width="0.35"/>
<circle cx="47.2" cy="249.6" r="4.65" fill="url(#gC)" stroke="#5e5e5e" stroke-width="0.35"/>
<circle cx="56.5" cy="249.6" r="4.65" fill="url(#gC)" stroke="#5e5e5e" stroke-width="0.35"/>
<circle cx="33.2" cy="257.7" r="4.65" fill="url(#gC)" stroke="#5e5e5e" stroke-width="0.35"/>
<circle cx="42.5" cy="257.7" r="4.65" fill="url(#gC)" stroke="#5e5e5e" stroke-width="0.35"/>
<circle cx="94.3" cy="224.9" r="2.59" fill="#fff" stroke="#9c9c9c" stroke-width="0.75"/>
<circle cx="103.0" cy="209.9" r="2.59" fill="#fff" stroke="#9c9c9c" stroke-width="0.75"/>
<circle cx="103.0" cy="256.5" r="2.59" fill="#fff" stroke="#9c9c9c" stroke-width="0.75"/>
<circle cx="94.3" cy="241.5" r="2.59" fill="#fff" stroke="#9c9c9c" stroke-width="0.75"/>
<circle cx="117.4" cy="201.6" r="2.59" fill="#fff" stroke="#9c9c9c" stroke-width="0.75"/>
<circle cx="134.6" cy="201.6" r="2.59" fill="#fff" stroke="#9c9c9c" stroke-width="0.75"/>
<circle cx="134.6" cy="264.8" r="2.59" fill="#fff" stroke="#9c9c9c" stroke-width="0.75"/>
<circle cx="117.4" cy="264.8" r="2.59" fill="#fff" stroke="#9c9c9c" stroke-width="0.75"/>
<circle cx="157.7" cy="224.9" r="2.59" fill="#fff" stroke="#9c9c9c" stroke-width="0.75"/>
<circle cx="149.0" cy="209.9" r="2.59" fill="#fff" stroke="#9c9c9c" stroke-width="0.75"/>
<circle cx="157.7" cy="241.5" r="2.59" fill="#fff" stroke="#9c9c9c" stroke-width="0.75"/>
<circle cx="149.0" cy="256.5" r="2.59" fill="#fff" stroke="#9c9c9c" stroke-width="0.75"/>
<circle cx="121.2" cy="208.3" r="4.80" fill="url(#gC)" stroke="#5e5e5e" stroke-width="0.35"/>
<circle cx="130.8" cy="208.3" r="4.80" fill="url(#gC)" stroke="#5e5e5e" stroke-width="0.35"/>
<circle cx="106.8" cy="216.6" r="4.80" fill="url(#gC)" stroke="#5e5e5e" stroke-width="0.35"/>
<circle cx="116.4" cy="216.6" r="4.80" fill="url(#gC)" stroke="#5e5e5e" stroke-width="0.35"/>
<circle cx="135.6" cy="216.6" r="4.80" fill="url(#gC)" stroke="#5e5e5e" stroke-width="0.35"/>
<circle cx="145.2" cy="216.6" r="4.80" fill="url(#gC)" stroke="#5e5e5e" stroke-width="0.35"/>
<circle cx="102.0" cy="224.9" r="4.80" fill="url(#gC)" stroke="#5e5e5e" stroke-width="0.35"/>
<circle cx="121.2" cy="224.9" r="4.80" fill="url(#gC)" stroke="#5e5e5e" stroke-width="0.35"/>
<circle cx="130.8" cy="224.9" r="4.80" fill="url(#gC)" stroke="#5e5e5e" stroke-width="0.35"/>
<circle cx="150.0" cy="224.9" r="4.80" fill="url(#gC)" stroke="#5e5e5e" stroke-width="0.35"/>
<circle cx="106.8" cy="233.2" r="4.80" fill="url(#gN)" stroke="#5e5e5e" stroke-width="0.35"/>
<circle cx="116.4" cy="233.2" r="4.80" fill="url(#gC)" stroke="#5e5e5e" stroke-width="0.35"/>
<circle cx="135.6" cy="233.2" r="4.80" fill="url(#gC)" stroke="#5e5e5e" stroke-width="0.35"/>
<circle cx="145.2" cy="233.2" r="4.80" fill="url(#gC)" stroke="#5e5e5e" stroke-width="0.35"/>
<circle cx="102.0" cy="241.5" r="4.80" fill="url(#gC)" stroke="#5e5e5e" stroke-width="0.35"/>
<circle cx="121.2" cy="241.5" r="4.80" fill="url(#gC)" stroke="#5e5e5e" stroke-width="0.35"/>
<circle cx="130.8" cy="241.5" r="4.80" fill="url(#gC)" stroke="#5e5e5e" stroke-width="0.35"/>
<circle cx="150.0" cy="241.5" r="4.80" fill="url(#gC)" stroke="#5e5e5e" stroke-width="0.35"/>
<circle cx="106.8" cy="249.8" r="4.80" fill="url(#gC)" stroke="#5e5e5e" stroke-width="0.35"/>
<circle cx="116.4" cy="249.8" r="4.80" fill="url(#gC)" stroke="#5e5e5e" stroke-width="0.35"/>
<circle cx="135.6" cy="249.8" r="4.80" fill="url(#gC)" stroke="#5e5e5e" stroke-width="0.35"/>
<circle cx="145.2" cy="249.8" r="4.80" fill="url(#gC)" stroke="#5e5e5e" stroke-width="0.35"/>
<circle cx="121.2" cy="258.1" r="4.80" fill="url(#gC)" stroke="#5e5e5e" stroke-width="0.35"/>
<circle cx="130.8" cy="258.1" r="4.80" fill="url(#gC)" stroke="#5e5e5e" stroke-width="0.35"/>
<circle cx="181.8" cy="224.9" r="2.54" fill="#fff" stroke="#9c9c9c" stroke-width="0.75"/>
<circle cx="190.2" cy="210.2" r="2.54" fill="#fff" stroke="#9c9c9c" stroke-width="0.75"/>
<circle cx="190.2" cy="255.8" r="2.54" fill="#fff" stroke="#9c9c9c" stroke-width="0.75"/>
<circle cx="181.8" cy="241.1" r="2.54" fill="#fff" stroke="#9c9c9c" stroke-width="0.75"/>
<circle cx="204.3" cy="202.1" r="2.54" fill="#fff" stroke="#9c9c9c" stroke-width="0.75"/>
<circle cx="221.3" cy="202.1" r="2.54" fill="#fff" stroke="#9c9c9c" stroke-width="0.75"/>
<circle cx="221.3" cy="263.9" r="2.54" fill="#fff" stroke="#9c9c9c" stroke-width="0.75"/>
<circle cx="204.3" cy="263.9" r="2.54" fill="#fff" stroke="#9c9c9c" stroke-width="0.75"/>
<circle cx="243.8" cy="224.9" r="2.54" fill="#fff" stroke="#9c9c9c" stroke-width="0.75"/>
<circle cx="243.8" cy="241.1" r="2.54" fill="#fff" stroke="#9c9c9c" stroke-width="0.75"/>
<circle cx="235.4" cy="255.8" r="2.54" fill="#fff" stroke="#9c9c9c" stroke-width="0.75"/>
<circle cx="208.1" cy="208.6" r="4.70" fill="url(#gC)" stroke="#5e5e5e" stroke-width="0.35"/>
<circle cx="217.5" cy="208.6" r="4.70" fill="url(#gC)" stroke="#5e5e5e" stroke-width="0.35"/>
<circle cx="194.0" cy="216.7" r="4.70" fill="url(#gC)" stroke="#5e5e5e" stroke-width="0.35"/>
<circle cx="203.4" cy="216.7" r="4.70" fill="url(#gC)" stroke="#5e5e5e" stroke-width="0.35"/>
<circle cx="222.2" cy="216.7" r="4.70" fill="url(#gC)" stroke="#5e5e5e" stroke-width="0.35"/>
<circle cx="231.6" cy="216.7" r="4.70" fill="url(#gN)" stroke="#5e5e5e" stroke-width="0.35"/>
<circle cx="189.3" cy="224.9" r="4.70" fill="url(#gC)" stroke="#5e5e5e" stroke-width="0.35"/>
<circle cx="208.1" cy="224.9" r="4.70" fill="url(#gC)" stroke="#5e5e5e" stroke-width="0.35"/>
<circle cx="217.5" cy="224.9" r="4.70" fill="url(#gC)" stroke="#5e5e5e" stroke-width="0.35"/>
<circle cx="236.3" cy="224.9" r="4.70" fill="url(#gC)" stroke="#5e5e5e" stroke-width="0.35"/>
<circle cx="194.0" cy="233.0" r="4.70" fill="url(#gC)" stroke="#5e5e5e" stroke-width="0.35"/>
<circle cx="203.4" cy="233.0" r="4.70" fill="url(#gC)" stroke="#5e5e5e" stroke-width="0.35"/>
<circle cx="222.2" cy="233.0" r="4.70" fill="url(#gC)" stroke="#5e5e5e" stroke-width="0.35"/>
<circle cx="231.6" cy="233.0" r="4.70" fill="url(#gC)" stroke="#5e5e5e" stroke-width="0.35"/>
<circle cx="189.3" cy="241.1" r="4.70" fill="url(#gC)" stroke="#5e5e5e" stroke-width="0.35"/>
<circle cx="208.1" cy="241.1" r="4.70" fill="url(#gC)" stroke="#5e5e5e" stroke-width="0.35"/>
<circle cx="217.5" cy="241.1" r="4.70" fill="url(#gC)" stroke="#5e5e5e" stroke-width="0.35"/>
<circle cx="236.3" cy="241.1" r="4.70" fill="url(#gC)" stroke="#5e5e5e" stroke-width="0.35"/>
<circle cx="194.0" cy="249.3" r="4.70" fill="url(#gC)" stroke="#5e5e5e" stroke-width="0.35"/>
<circle cx="203.4" cy="249.3" r="4.70" fill="url(#gC)" stroke="#5e5e5e" stroke-width="0.35"/>
<circle cx="222.2" cy="249.3" r="4.70" fill="url(#gC)" stroke="#5e5e5e" stroke-width="0.35"/>
<circle cx="231.6" cy="249.3" r="4.70" fill="url(#gC)" stroke="#5e5e5e" stroke-width="0.35"/>
<circle cx="208.1" cy="257.4" r="4.70" fill="url(#gC)" stroke="#5e5e5e" stroke-width="0.35"/>
<circle cx="217.5" cy="257.4" r="4.70" fill="url(#gC)" stroke="#5e5e5e" stroke-width="0.35"/>
<circle cx="268.0" cy="225.7" r="2.59" fill="#fff" stroke="#9c9c9c" stroke-width="0.75"/>
<circle cx="276.7" cy="210.7" r="2.59" fill="#fff" stroke="#9c9c9c" stroke-width="0.75"/>
<circle cx="276.7" cy="257.3" r="2.59" fill="#fff" stroke="#9c9c9c" stroke-width="0.75"/>
<circle cx="268.0" cy="242.3" r="2.59" fill="#fff" stroke="#9c9c9c" stroke-width="0.75"/>
<circle cx="291.1" cy="202.4" r="2.59" fill="#fff" stroke="#9c9c9c" stroke-width="0.75"/>
<circle cx="308.3" cy="202.4" r="2.59" fill="#fff" stroke="#9c9c9c" stroke-width="0.75"/>
<circle cx="331.4" cy="225.7" r="2.59" fill="#fff" stroke="#9c9c9c" stroke-width="0.75"/>
<circle cx="322.7" cy="210.7" r="2.59" fill="#fff" stroke="#9c9c9c" stroke-width="0.75"/>
<circle cx="331.4" cy="242.3" r="2.59" fill="#fff" stroke="#9c9c9c" stroke-width="0.75"/>
<circle cx="322.7" cy="257.3" r="2.59" fill="#fff" stroke="#9c9c9c" stroke-width="0.75"/>
<circle cx="299.7" cy="263.8" r="2.59" fill="#fff" stroke="#9c9c9c" stroke-width="0.75"/>
<circle cx="294.9" cy="209.1" r="4.80" fill="url(#gC)" stroke="#5e5e5e" stroke-width="0.35"/>
<circle cx="304.5" cy="209.1" r="4.80" fill="url(#gC)" stroke="#5e5e5e" stroke-width="0.35"/>
<circle cx="280.5" cy="217.4" r="4.80" fill="url(#gC)" stroke="#5e5e5e" stroke-width="0.35"/>
<circle cx="290.1" cy="217.4" r="4.80" fill="url(#gC)" stroke="#5e5e5e" stroke-width="0.35"/>
<circle cx="309.3" cy="217.4" r="4.80" fill="url(#gC)" stroke="#5e5e5e" stroke-width="0.35"/>
<circle cx="318.9" cy="217.4" r="4.80" fill="url(#gC)" stroke="#5e5e5e" stroke-width="0.35"/>
<circle cx="275.7" cy="225.7" r="4.80" fill="url(#gC)" stroke="#5e5e5e" stroke-width="0.35"/>
<circle cx="294.9" cy="225.7" r="4.80" fill="url(#gC)" stroke="#5e5e5e" stroke-width="0.35"/>
<circle cx="304.5" cy="225.7" r="4.80" fill="url(#gC)" stroke="#5e5e5e" stroke-width="0.35"/>
<circle cx="323.7" cy="225.7" r="4.80" fill="url(#gC)" stroke="#5e5e5e" stroke-width="0.35"/>
<circle cx="280.5" cy="234.0" r="4.80" fill="url(#gC)" stroke="#5e5e5e" stroke-width="0.35"/>
<circle cx="290.1" cy="234.0" r="4.80" fill="url(#gC)" stroke="#5e5e5e" stroke-width="0.35"/>
<circle cx="309.3" cy="234.0" r="4.80" fill="url(#gC)" stroke="#5e5e5e" stroke-width="0.35"/>
<circle cx="318.9" cy="234.0" r="4.80" fill="url(#gC)" stroke="#5e5e5e" stroke-width="0.35"/>
<circle cx="275.7" cy="242.3" r="4.80" fill="url(#gC)" stroke="#5e5e5e" stroke-width="0.35"/>
<circle cx="294.9" cy="242.3" r="4.80" fill="url(#gC)" stroke="#5e5e5e" stroke-width="0.35"/>
<circle cx="304.5" cy="242.3" r="4.80" fill="url(#gC)" stroke="#5e5e5e" stroke-width="0.35"/>
<circle cx="323.7" cy="242.3" r="4.80" fill="url(#gC)" stroke="#5e5e5e" stroke-width="0.35"/>
<circle cx="280.5" cy="250.6" r="4.80" fill="url(#gC)" stroke="#5e5e5e" stroke-width="0.35"/>
<circle cx="290.1" cy="250.6" r="4.80" fill="url(#gC)" stroke="#5e5e5e" stroke-width="0.35"/>
<circle cx="309.3" cy="250.6" r="4.80" fill="url(#gC)" stroke="#5e5e5e" stroke-width="0.35"/>
<circle cx="318.9" cy="250.6" r="4.80" fill="url(#gC)" stroke="#5e5e5e" stroke-width="0.35"/>
<circle cx="299.7" cy="256.6" r="4.80" fill="url(#gN)" stroke="#5e5e5e" stroke-width="0.35"/>
<text x="42.8" y="282.7" font-size="8.7" fill="#333" text-anchor="middle" font-weight="normal" font-style="normal" >S-grapN</text>
<text x="125.3" y="279.7" font-size="8.7" fill="#333" text-anchor="middle" font-weight="normal" font-style="normal" >S-edge grapN</text>
<text x="211.4" y="282.5" font-size="8.7" fill="#333" text-anchor="middle" font-weight="normal" font-style="normal" >S-pyriN</text>
<text x="302.3" y="282.5" font-size="8.7" fill="#333" text-anchor="middle" font-weight="normal" font-style="normal" >S-pyrroN</text>
<circle cx="3.6" cy="322.7" r="2.59" fill="#fff" stroke="#9c9c9c" stroke-width="0.75"/>
<circle cx="12.3" cy="307.7" r="2.59" fill="#fff" stroke="#9c9c9c" stroke-width="0.75"/>
<circle cx="12.3" cy="354.3" r="2.59" fill="#fff" stroke="#9c9c9c" stroke-width="0.75"/>
<circle cx="3.6" cy="339.3" r="2.59" fill="#fff" stroke="#9c9c9c" stroke-width="0.75"/>
<circle cx="26.7" cy="299.4" r="2.59" fill="#fff" stroke="#9c9c9c" stroke-width="0.75"/>
<circle cx="43.9" cy="299.4" r="2.59" fill="#fff" stroke="#9c9c9c" stroke-width="0.75"/>
<circle cx="67.0" cy="322.7" r="2.59" fill="#fff" stroke="#9c9c9c" stroke-width="0.75"/>
<circle cx="67.0" cy="339.3" r="2.59" fill="#fff" stroke="#9c9c9c" stroke-width="0.75"/>
<circle cx="58.3" cy="354.3" r="2.59" fill="#fff" stroke="#9c9c9c" stroke-width="0.75"/>
<circle cx="35.3" cy="360.8" r="2.59" fill="#fff" stroke="#9c9c9c" stroke-width="0.75"/>
<circle cx="30.5" cy="306.1" r="4.80" fill="url(#gC)" stroke="#5e5e5e" stroke-width="0.35"/>
<circle cx="40.1" cy="306.1" r="4.80" fill="url(#gC)" stroke="#5e5e5e" stroke-width="0.35"/>
<circle cx="16.1" cy="314.4" r="4.80" fill="url(#gC)" stroke="#5e5e5e" stroke-width="0.35"/>
<circle cx="25.7" cy="314.4" r="4.80" fill="url(#gC)" stroke="#5e5e5e" stroke-width="0.35"/>
<circle cx="44.9" cy="314.4" r="4.80" fill="url(#gC)" stroke="#5e5e5e" stroke-width="0.35"/>
<circle cx="54.5" cy="314.4" r="4.80" fill="url(#gN)" stroke="#5e5e5e" stroke-width="0.35"/>
<circle cx="11.3" cy="322.7" r="4.80" fill="url(#gC)" stroke="#5e5e5e" stroke-width="0.35"/>
<circle cx="30.5" cy="322.7" r="4.80" fill="url(#gC)" stroke="#5e5e5e" stroke-width="0.35"/>
<circle cx="40.1" cy="322.7" r="4.80" fill="url(#gC)" stroke="#5e5e5e" stroke-width="0.35"/>
<circle cx="59.3" cy="322.7" r="4.80" fill="url(#gC)" stroke="#5e5e5e" stroke-width="0.35"/>
<circle cx="16.1" cy="331.0" r="4.80" fill="url(#gC)" stroke="#5e5e5e" stroke-width="0.35"/>
<circle cx="25.7" cy="331.0" r="4.80" fill="url(#gN)" stroke="#5e5e5e" stroke-width="0.35"/>
<circle cx="44.9" cy="331.0" r="4.80" fill="url(#gC)" stroke="#5e5e5e" stroke-width="0.35"/>
<circle cx="54.5" cy="331.0" r="4.80" fill="url(#gC)" stroke="#5e5e5e" stroke-width="0.35"/>
<circle cx="11.3" cy="339.3" r="4.80" fill="url(#gC)" stroke="#5e5e5e" stroke-width="0.35"/>
<circle cx="30.5" cy="339.3" r="4.80" fill="url(#gC)" stroke="#5e5e5e" stroke-width="0.35"/>
<circle cx="40.1" cy="339.3" r="4.80" fill="url(#gC)" stroke="#5e5e5e" stroke-width="0.35"/>
<circle cx="59.3" cy="339.3" r="4.80" fill="url(#gC)" stroke="#5e5e5e" stroke-width="0.35"/>
<circle cx="16.1" cy="347.6" r="4.80" fill="url(#gC)" stroke="#5e5e5e" stroke-width="0.35"/>
<circle cx="25.7" cy="347.6" r="4.80" fill="url(#gC)" stroke="#5e5e5e" stroke-width="0.35"/>
<circle cx="44.9" cy="347.6" r="4.80" fill="url(#gC)" stroke="#5e5e5e" stroke-width="0.35"/>
<circle cx="54.5" cy="347.6" r="4.80" fill="url(#gC)" stroke="#5e5e5e" stroke-width="0.35"/>
<circle cx="35.3" cy="353.6" r="4.80" fill="url(#gN)" stroke="#5e5e5e" stroke-width="0.35"/>
<circle cx="87.3" cy="316.1" r="2.94" fill="#fff" stroke="#9c9c9c" stroke-width="0.75"/>
<circle cx="97.1" cy="299.1" r="2.94" fill="#fff" stroke="#9c9c9c" stroke-width="0.75"/>
<circle cx="116.8" cy="299.1" r="2.94" fill="#fff" stroke="#9c9c9c" stroke-width="0.75"/>
<circle cx="97.1" cy="351.9" r="2.94" fill="#fff" stroke="#9c9c9c" stroke-width="0.75"/>
<circle cx="87.3" cy="334.9" r="2.94" fill="#fff" stroke="#9c9c9c" stroke-width="0.75"/>
<circle cx="133.1" cy="361.4" r="2.94" fill="#fff" stroke="#9c9c9c" stroke-width="0.75"/>
<circle cx="113.5" cy="361.4" r="2.94" fill="#fff" stroke="#9c9c9c" stroke-width="0.75"/>
<circle cx="159.3" cy="316.1" r="2.94" fill="#fff" stroke="#9c9c9c" stroke-width="0.75"/>
<circle cx="129.8" cy="299.1" r="2.94" fill="#fff" stroke="#9c9c9c" stroke-width="0.75"/>
<circle cx="149.5" cy="299.1" r="2.94" fill="#fff" stroke="#9c9c9c" stroke-width="0.75"/>
<circle cx="159.3" cy="334.9" r="2.94" fill="#fff" stroke="#9c9c9c" stroke-width="0.75"/>
<circle cx="149.5" cy="351.9" r="2.94" fill="#fff" stroke="#9c9c9c" stroke-width="0.75"/>
<circle cx="101.5" cy="306.6" r="5.45" fill="url(#gC)" stroke="#5e5e5e" stroke-width="0.35"/>
<circle cx="112.4" cy="306.6" r="5.45" fill="url(#gC)" stroke="#5e5e5e" stroke-width="0.35"/>
<circle cx="134.2" cy="306.6" r="5.45" fill="url(#gC)" stroke="#5e5e5e" stroke-width="0.35"/>
<circle cx="145.1" cy="306.6" r="5.45" fill="url(#gC)" stroke="#5e5e5e" stroke-width="0.35"/>
<circle cx="96.0" cy="316.1" r="5.45" fill="url(#gC)" stroke="#5e5e5e" stroke-width="0.35"/>
<circle cx="117.8" cy="316.1" r="5.45" fill="url(#gC)" stroke="#5e5e5e" stroke-width="0.35"/>
<circle cx="128.8" cy="316.1" r="5.45" fill="url(#gC)" stroke="#5e5e5e" stroke-width="0.35"/>
<circle cx="150.6" cy="316.1" r="5.45" fill="url(#gC)" stroke="#5e5e5e" stroke-width="0.35"/>
<circle cx="101.5" cy="325.5" r="5.45" fill="url(#gC)" stroke="#5e5e5e" stroke-width="0.35"/>
<circle cx="112.4" cy="325.5" r="5.45" fill="url(#gC)" stroke="#5e5e5e" stroke-width="0.35"/>
<circle cx="134.2" cy="325.5" r="5.45" fill="url(#gC)" stroke="#5e5e5e" stroke-width="0.35"/>
<circle cx="145.1" cy="325.5" r="5.45" fill="url(#gC)" stroke="#5e5e5e" stroke-width="0.35"/>
<circle cx="96.0" cy="334.9" r="5.45" fill="url(#gC)" stroke="#5e5e5e" stroke-width="0.35"/>
<circle cx="117.8" cy="334.9" r="5.45" fill="url(#gC)" stroke="#5e5e5e" stroke-width="0.35"/>
<circle cx="128.8" cy="334.9" r="5.45" fill="url(#gC)" stroke="#5e5e5e" stroke-width="0.35"/>
<circle cx="150.6" cy="334.9" r="5.45" fill="url(#gC)" stroke="#5e5e5e" stroke-width="0.35"/>
<circle cx="101.5" cy="344.4" r="5.45" fill="url(#gC)" stroke="#5e5e5e" stroke-width="0.35"/>
<circle cx="112.4" cy="344.4" r="5.45" fill="url(#gC)" stroke="#5e5e5e" stroke-width="0.35"/>
<circle cx="134.2" cy="344.4" r="5.45" fill="url(#gC)" stroke="#5e5e5e" stroke-width="0.35"/>
<circle cx="145.1" cy="344.4" r="5.45" fill="url(#gC)" stroke="#5e5e5e" stroke-width="0.35"/>
<circle cx="117.8" cy="353.8" r="5.45" fill="url(#gC)" stroke="#5e5e5e" stroke-width="0.35"/>
<circle cx="128.8" cy="353.8" r="5.45" fill="url(#gC)" stroke="#5e5e5e" stroke-width="0.35"/>
<circle cx="181.3" cy="320.7" r="2.59" fill="#fff" stroke="#9c9c9c" stroke-width="0.75"/>
<circle cx="190.0" cy="305.7" r="2.59" fill="#fff" stroke="#9c9c9c" stroke-width="0.75"/>
<circle cx="190.0" cy="352.3" r="2.59" fill="#fff" stroke="#9c9c9c" stroke-width="0.75"/>
<circle cx="181.3" cy="337.3" r="2.59" fill="#fff" stroke="#9c9c9c" stroke-width="0.75"/>
<circle cx="204.4" cy="297.4" r="2.59" fill="#fff" stroke="#9c9c9c" stroke-width="0.75"/>
<circle cx="221.6" cy="297.4" r="2.59" fill="#fff" stroke="#9c9c9c" stroke-width="0.75"/>
<circle cx="221.6" cy="360.6" r="2.59" fill="#fff" stroke="#9c9c9c" stroke-width="0.75"/>
<circle cx="204.4" cy="360.6" r="2.59" fill="#fff" stroke="#9c9c9c" stroke-width="0.75"/>
<circle cx="236.0" cy="305.7" r="2.59" fill="#fff" stroke="#9c9c9c" stroke-width="0.75"/>
<circle cx="244.7" cy="337.3" r="2.59" fill="#fff" stroke="#9c9c9c" stroke-width="0.75"/>
<circle cx="236.0" cy="352.3" r="2.59" fill="#fff" stroke="#9c9c9c" stroke-width="0.75"/>
<circle cx="208.2" cy="304.1" r="4.80" fill="url(#gC)" stroke="#5e5e5e" stroke-width="0.35"/>
<circle cx="217.8" cy="304.1" r="4.80" fill="url(#gC)" stroke="#5e5e5e" stroke-width="0.35"/>
<circle cx="193.8" cy="312.4" r="4.80" fill="url(#gC)" stroke="#5e5e5e" stroke-width="0.35"/>
<circle cx="203.4" cy="312.4" r="4.80" fill="url(#gC)" stroke="#5e5e5e" stroke-width="0.35"/>
<circle cx="222.6" cy="312.4" r="4.80" fill="url(#gC)" stroke="#5e5e5e" stroke-width="0.35"/>
<circle cx="232.2" cy="312.4" r="4.80" fill="url(#gC)" stroke="#5e5e5e" stroke-width="0.35"/>
<circle cx="189.0" cy="320.7" r="4.80" fill="url(#gC)" stroke="#5e5e5e" stroke-width="0.35"/>
<circle cx="208.2" cy="320.7" r="4.80" fill="url(#gC)" stroke="#5e5e5e" stroke-width="0.35"/>
<circle cx="217.8" cy="320.7" r="4.80" fill="url(#gC)" stroke="#5e5e5e" stroke-width="0.35"/>
<circle cx="237.0" cy="320.7" r="4.80" fill="url(#gO)" stroke="#5e5e5e" stroke-width="0.35"/>
<circle cx="193.8" cy="329.0" r="4.80" fill="url(#gC)" stroke="#5e5e5e" stroke-width="0.35"/>
<circle cx="203.4" cy="329.0" r="4.80" fill="url(#gC)" stroke="#5e5e5e" stroke-width="0.35"/>
<circle cx="222.6" cy="329.0" r="4.80" fill="url(#gC)" stroke="#5e5e5e" stroke-width="0.35"/>
<circle cx="232.2" cy="329.0" r="4.80" fill="url(#gC)" stroke="#5e5e5e" stroke-width="0.35"/>
<circle cx="189.0" cy="337.3" r="4.80" fill="url(#gC)" stroke="#5e5e5e" stroke-width="0.35"/>
<circle cx="208.2" cy="337.3" r="4.80" fill="url(#gC)" stroke="#5e5e5e" stroke-width="0.35"/>
<circle cx="217.8" cy="337.3" r="4.80" fill="url(#gC)" stroke="#5e5e5e" stroke-width="0.35"/>
<circle cx="237.0" cy="337.3" r="4.80" fill="url(#gC)" stroke="#5e5e5e" stroke-width="0.35"/>
<circle cx="193.8" cy="345.6" r="4.80" fill="url(#gC)" stroke="#5e5e5e" stroke-width="0.35"/>
<circle cx="203.4" cy="345.6" r="4.80" fill="url(#gC)" stroke="#5e5e5e" stroke-width="0.35"/>
<circle cx="222.6" cy="345.6" r="4.80" fill="url(#gC)" stroke="#5e5e5e" stroke-width="0.35"/>
<circle cx="232.2" cy="345.6" r="4.80" fill="url(#gC)" stroke="#5e5e5e" stroke-width="0.35"/>
<circle cx="208.2" cy="353.9" r="4.80" fill="url(#gC)" stroke="#5e5e5e" stroke-width="0.35"/>
<circle cx="217.8" cy="353.9" r="4.80" fill="url(#gC)" stroke="#5e5e5e" stroke-width="0.35"/>
<circle cx="266.1" cy="321.0" r="2.57" fill="#fff" stroke="#9c9c9c" stroke-width="0.75"/>
<circle cx="274.6" cy="306.2" r="2.57" fill="#fff" stroke="#9c9c9c" stroke-width="0.75"/>
<circle cx="274.6" cy="352.2" r="2.57" fill="#fff" stroke="#9c9c9c" stroke-width="0.75"/>
<circle cx="266.1" cy="337.4" r="2.57" fill="#fff" stroke="#9c9c9c" stroke-width="0.75"/>
<circle cx="288.8" cy="297.9" r="2.57" fill="#fff" stroke="#9c9c9c" stroke-width="0.75"/>
<circle cx="306.0" cy="297.9" r="2.57" fill="#fff" stroke="#9c9c9c" stroke-width="0.75"/>
<circle cx="306.0" cy="360.5" r="2.57" fill="#fff" stroke="#9c9c9c" stroke-width="0.75"/>
<circle cx="288.8" cy="360.5" r="2.57" fill="#fff" stroke="#9c9c9c" stroke-width="0.75"/>
<circle cx="320.2" cy="306.2" r="2.57" fill="#fff" stroke="#9c9c9c" stroke-width="0.75"/>
<circle cx="328.7" cy="337.4" r="2.57" fill="#fff" stroke="#9c9c9c" stroke-width="0.75"/>
<circle cx="320.2" cy="352.2" r="2.57" fill="#fff" stroke="#9c9c9c" stroke-width="0.75"/>
<circle cx="292.6" cy="304.5" r="4.75" fill="url(#gC)" stroke="#5e5e5e" stroke-width="0.35"/>
<circle cx="302.1" cy="304.5" r="4.75" fill="url(#gC)" stroke="#5e5e5e" stroke-width="0.35"/>
<circle cx="278.4" cy="312.7" r="4.75" fill="url(#gC)" stroke="#5e5e5e" stroke-width="0.35"/>
<circle cx="287.9" cy="312.7" r="4.75" fill="url(#gC)" stroke="#5e5e5e" stroke-width="0.35"/>
<circle cx="306.9" cy="312.7" r="4.75" fill="url(#gC)" stroke="#5e5e5e" stroke-width="0.35"/>
<circle cx="316.4" cy="312.7" r="4.75" fill="url(#gC)" stroke="#5e5e5e" stroke-width="0.35"/>
<circle cx="328.8" cy="320.6" r="4.75" fill="url(#gO)" stroke="#5e5e5e" stroke-width="0.35"/>
<circle cx="273.6" cy="321.0" r="4.75" fill="url(#gC)" stroke="#5e5e5e" stroke-width="0.35"/>
<circle cx="292.6" cy="321.0" r="4.75" fill="url(#gC)" stroke="#5e5e5e" stroke-width="0.35"/>
<circle cx="302.1" cy="321.0" r="4.75" fill="url(#gC)" stroke="#5e5e5e" stroke-width="0.35"/>
<circle cx="321.1" cy="321.0" r="4.75" fill="url(#gC)" stroke="#5e5e5e" stroke-width="0.35"/>
<circle cx="278.4" cy="329.2" r="4.75" fill="url(#gC)" stroke="#5e5e5e" stroke-width="0.35"/>
<circle cx="287.9" cy="329.2" r="4.75" fill="url(#gC)" stroke="#5e5e5e" stroke-width="0.35"/>
<circle cx="306.9" cy="329.2" r="4.75" fill="url(#gC)" stroke="#5e5e5e" stroke-width="0.35"/>
<circle cx="316.4" cy="329.2" r="4.75" fill="url(#gC)" stroke="#5e5e5e" stroke-width="0.35"/>
<circle cx="273.6" cy="337.4" r="4.75" fill="url(#gC)" stroke="#5e5e5e" stroke-width="0.35"/>
<circle cx="292.6" cy="337.4" r="4.75" fill="url(#gC)" stroke="#5e5e5e" stroke-width="0.35"/>
<circle cx="302.1" cy="337.4" r="4.75" fill="url(#gC)" stroke="#5e5e5e" stroke-width="0.35"/>
<circle cx="321.1" cy="337.4" r="4.75" fill="url(#gC)" stroke="#5e5e5e" stroke-width="0.35"/>
<circle cx="278.4" cy="345.7" r="4.75" fill="url(#gC)" stroke="#5e5e5e" stroke-width="0.35"/>
<circle cx="287.9" cy="345.7" r="4.75" fill="url(#gC)" stroke="#5e5e5e" stroke-width="0.35"/>
<circle cx="306.9" cy="345.7" r="4.75" fill="url(#gC)" stroke="#5e5e5e" stroke-width="0.35"/>
<circle cx="316.4" cy="345.7" r="4.75" fill="url(#gC)" stroke="#5e5e5e" stroke-width="0.35"/>
<circle cx="292.6" cy="353.9" r="4.75" fill="url(#gC)" stroke="#5e5e5e" stroke-width="0.35"/>
<circle cx="302.1" cy="353.9" r="4.75" fill="url(#gC)" stroke="#5e5e5e" stroke-width="0.35"/>
<text x="44.0" y="381.6" font-size="8.7" fill="#333" text-anchor="middle" font-weight="normal" font-style="normal" >S-multi-N</text>
<text x="127.5" y="381.6" font-size="8.7" fill="#333" text-anchor="middle" font-weight="normal" font-style="normal" >S-armchair-edge</text>
<text x="218.0" y="381.7" font-size="8.7" fill="#333" text-anchor="middle" font-weight="normal" font-style="normal" >S-cyclic ether</text>
<text x="301.3" y="381.7" font-size="8.7" fill="#333" text-anchor="middle" font-weight="normal" font-style="normal" >S-carbonyl</text>
<text x="335.5" y="11.8" font-size="16" fill="#000" text-anchor="start" font-weight="normal" font-style="normal" >b</text>
<rect x="370.3" y="6.9" width="133.0" height="146.4" fill="none" stroke="#222" stroke-width="0.9"/>
<line x1="367.8" y1="6.9" x2="370.3" y2="6.9" stroke="#222" stroke-width="1"/>
<text x="366.3" y="9.5" font-size="7.5" fill="#222" text-anchor="end" font-weight="normal" font-style="normal" >0.07</text>
<line x1="367.8" y1="32.4" x2="370.3" y2="32.4" stroke="#222" stroke-width="1"/>
<text x="366.3" y="35.0" font-size="7.5" fill="#222" text-anchor="end" font-weight="normal" font-style="normal" >0.06</text>
<line x1="367.8" y1="57.9" x2="370.3" y2="57.9" stroke="#222" stroke-width="1"/>
<text x="366.3" y="60.5" font-size="7.5" fill="#222" text-anchor="end" font-weight="normal" font-style="normal" >0.05</text>
<line x1="367.8" y1="83.4" x2="370.3" y2="83.4" stroke="#222" stroke-width="1"/>
<text x="366.3" y="86.0" font-size="7.5" fill="#222" text-anchor="end" font-weight="normal" font-style="normal" >0.04</text>
<line x1="367.8" y1="108.9" x2="370.3" y2="108.9" stroke="#222" stroke-width="1"/>
<text x="366.3" y="111.5" font-size="7.5" fill="#222" text-anchor="end" font-weight="normal" font-style="normal" >0.03</text>
<line x1="367.8" y1="134.4" x2="370.3" y2="134.4" stroke="#222" stroke-width="1"/>
<text x="366.3" y="137.0" font-size="7.5" fill="#222" text-anchor="end" font-weight="normal" font-style="normal" >0.02</text>
<line x1="391.1" y1="153.3" x2="391.1" y2="155.8" stroke="#222" stroke-width="1"/>
<text x="391.1" y="165.2" font-size="7.5" fill="#222" text-anchor="middle" font-weight="normal" font-style="normal" >5.4</text>
<line x1="421.6" y1="153.3" x2="421.6" y2="155.8" stroke="#222" stroke-width="1"/>
<text x="421.6" y="165.2" font-size="7.5" fill="#222" text-anchor="middle" font-weight="normal" font-style="normal" >5.7</text>
<line x1="452.1" y1="153.3" x2="452.1" y2="155.8" stroke="#222" stroke-width="1"/>
<text x="452.1" y="165.2" font-size="7.5" fill="#222" text-anchor="middle" font-weight="normal" font-style="normal" >6.0</text>
<line x1="482.6" y1="153.3" x2="482.6" y2="155.8" stroke="#222" stroke-width="1"/>
<text x="482.6" y="165.2" font-size="7.5" fill="#222" text-anchor="middle" font-weight="normal" font-style="normal" >6.3</text>
<text x="347.0" y="76.5" font-size="7.8" fill="#222" text-anchor="middle" font-weight="normal" font-style="normal" transform="rotate(-90 347 76.5)">Radical Fukui Function (a.u.)</text>
<text x="437.5" y="178.8" font-size="9" fill="#222" text-anchor="middle" font-weight="normal" font-style="normal" >&#916;<tspan font-style="italic">G</tspan><tspan font-size="4.6">OOH*</tspan>(eV)</text>
<line x1="382.3" y1="52.1" x2="494.4" y2="131.8" stroke="#888" stroke-width="0.6"/>
<circle cx="388.8" cy="48.3" r="4.3" fill="url(#gGr)" opacity="0.88"/>
<circle cx="398" cy="79" r="4.3" fill="url(#gGr)" opacity="0.88"/>
<circle cx="406" cy="75" r="4.3" fill="url(#gGr)" opacity="0.88"/>
<circle cx="409" cy="80" r="4.3" fill="url(#gGr2)" opacity="0.88"/>
<circle cx="408" cy="83" r="4.3" fill="url(#gGr2)" opacity="0.88"/>
<circle cx="407" cy="89" r="4.3" fill="url(#gGr)" opacity="0.88"/>
<circle cx="403.3" cy="97.8" r="4.3" fill="url(#gGr)" opacity="0.88"/>
<circle cx="408" cy="105" r="4.3" fill="url(#gGr)" opacity="0.88"/>
<circle cx="452.4" cy="99.7" r="4.3" fill="url(#gGr)" opacity="0.88"/>
<circle cx="470.5" cy="99.1" r="4.3" fill="url(#gGr)" opacity="0.88"/>
<circle cx="479.5" cy="97.3" r="4.3" fill="url(#gGr2)" opacity="0.88"/>
<circle cx="482" cy="95.4" r="4.3" fill="url(#gGr2)" opacity="0.88"/>
<circle cx="473.9" cy="107.8" r="4.3" fill="url(#gGr)" opacity="0.88"/>
<circle cx="474.5" cy="114.3" r="4.3" fill="url(#gGr)" opacity="0.88"/>
<circle cx="487.6" cy="122.4" r="4.3" fill="url(#gGr)" opacity="0.88"/>
<circle cx="482" cy="135.8" r="4.3" fill="url(#gGr2)" opacity="0.88"/>
<circle cx="483.5" cy="134" r="4.3" fill="url(#gGr2)" opacity="0.88"/>
<circle cx="483.1" cy="143.1" r="4.3" fill="url(#gGr2)" opacity="0.88"/>
<text x="381.9" y="137.2" font-size="8.2" fill="#555" text-anchor="start" font-weight="normal" font-style="normal" >S-pyriN</text>
<text x="377.7" y="16.9" font-size="8.7" fill="#111" text-anchor="start" font-weight="normal" font-style="normal" >0 a.u.</text>
<rect x="404.2" y="11.8" width="16.5" height="5" fill="url(#redbar)"/>
<rect x="425.4" y="11.8" width="16.5" height="5" fill="url(#bluebar)"/>
<text x="447.3" y="17.6" font-size="8.9" fill="#111" text-anchor="start" font-weight="normal" font-style="normal" >0.05 a.u.</text>
<text x="377.7" y="27.7" font-size="8.5" fill="#222" text-anchor="start" font-weight="normal" font-style="normal" >&#916;<tspan font-style="italic">G</tspan><tspan font-size="5.5" dy="1.5">OOH*</tspan><tspan dy="-1.5"> &gt; 4.2 eV</tspan></text>
<line x1="454.1" y1="29.8" x2="450.8" y2="22.5" stroke="#e05858" stroke-width="1.3"/>
<line x1="439.6" y1="38.2" x2="434.1" y2="33.4" stroke="#e05858" stroke-width="1.3"/>
<line x1="478.4" y1="38.2" x2="483.9" y2="33.4" stroke="#e05858" stroke-width="1.3"/>
<line x1="434.8" y1="46.6" x2="427.9" y2="44.2" stroke="#e05858" stroke-width="1.3"/>
<line x1="483.2" y1="46.6" x2="490.1" y2="44.2" stroke="#e05858" stroke-width="1.3"/>
<line x1="434.8" y1="63.4" x2="427.9" y2="65.8" stroke="#e05858" stroke-width="1.3"/>
<line x1="483.2" y1="63.4" x2="490.1" y2="65.8" stroke="#e05858" stroke-width="1.3"/>
<line x1="439.6" y1="71.8" x2="434.1" y2="76.6" stroke="#e05858" stroke-width="1.3"/>
<line x1="478.4" y1="71.8" x2="483.9" y2="76.6" stroke="#e05858" stroke-width="1.3"/>
<line x1="454.1" y1="80.2" x2="452.8" y2="87.3" stroke="#e05858" stroke-width="1.3"/>
<line x1="463.9" y1="80.2" x2="465.2" y2="87.3" stroke="#e05858" stroke-width="1.3"/>
<line x1="454.1" y1="63.4" x2="459.0" y2="63.4" stroke="#d25a5a" stroke-width="1.3"/>
<line x1="459.0" y1="63.4" x2="463.9" y2="63.4" stroke="#d25a5a" stroke-width="1.3"/>
<line x1="439.6" y1="55.0" x2="444.5" y2="55.0" stroke="#dcdcdc" stroke-width="1.3"/>
<line x1="444.5" y1="55.0" x2="449.3" y2="55.0" stroke="#d25a5a" stroke-width="1.3"/>
<line x1="434.8" y1="46.6" x2="437.2" y2="50.8" stroke="#aab0e0" stroke-width="1.3"/>
<line x1="437.2" y1="50.8" x2="439.6" y2="55.0" stroke="#dcdcdc" stroke-width="1.3"/>
<line x1="463.9" y1="46.6" x2="466.3" y2="42.4" stroke="#d25a5a" stroke-width="1.3"/>
<line x1="466.3" y1="42.4" x2="468.7" y2="38.2" stroke="#dcdcdc" stroke-width="1.3"/>
<line x1="449.3" y1="71.8" x2="451.7" y2="67.6" stroke="#dcdcdc" stroke-width="1.3"/>
<line x1="451.7" y1="67.6" x2="454.1" y2="63.4" stroke="#d25a5a" stroke-width="1.3"/>
<line x1="449.3" y1="55.0" x2="451.7" y2="59.2" stroke="#d25a5a" stroke-width="1.3"/>
<line x1="451.7" y1="59.2" x2="454.1" y2="63.4" stroke="#d25a5a" stroke-width="1.3"/>
<line x1="449.3" y1="38.2" x2="451.7" y2="42.4" stroke="#dcdcdc" stroke-width="1.3"/>
<line x1="451.7" y1="42.4" x2="454.1" y2="46.6" stroke="#e0a0a0" stroke-width="1.3"/>
<line x1="478.4" y1="55.0" x2="480.8" y2="59.2" stroke="#ecc8c8" stroke-width="1.3"/>
<line x1="480.8" y1="59.2" x2="483.2" y2="63.4" stroke="#aab0e0" stroke-width="1.3"/>
<line x1="478.4" y1="38.2" x2="480.8" y2="42.4" stroke="#dcdcdc" stroke-width="1.3"/>
<line x1="480.8" y1="42.4" x2="483.2" y2="46.6" stroke="#aab0e0" stroke-width="1.3"/>
<line x1="449.3" y1="71.8" x2="451.7" y2="76.0" stroke="#dcdcdc" stroke-width="1.3"/>
<line x1="451.7" y1="76.0" x2="454.1" y2="80.2" stroke="#ecc8c8" stroke-width="1.3"/>
<line x1="449.3" y1="38.2" x2="451.7" y2="34.0" stroke="#dcdcdc" stroke-width="1.3"/>
<line x1="451.7" y1="34.0" x2="454.1" y2="29.8" stroke="#4a52e0" stroke-width="1.3"/>
<line x1="454.1" y1="46.6" x2="459.0" y2="46.6" stroke="#e0a0a0" stroke-width="1.3"/>
<line x1="459.0" y1="46.6" x2="463.9" y2="46.6" stroke="#d25a5a" stroke-width="1.3"/>
<line x1="463.9" y1="63.4" x2="466.3" y2="59.2" stroke="#d25a5a" stroke-width="1.3"/>
<line x1="466.3" y1="59.2" x2="468.7" y2="55.0" stroke="#d25a5a" stroke-width="1.3"/>
<line x1="478.4" y1="55.0" x2="480.8" y2="50.8" stroke="#ecc8c8" stroke-width="1.3"/>
<line x1="480.8" y1="50.8" x2="483.2" y2="46.6" stroke="#aab0e0" stroke-width="1.3"/>
<line x1="468.7" y1="38.2" x2="473.5" y2="38.2" stroke="#dcdcdc" stroke-width="1.3"/>
<line x1="473.5" y1="38.2" x2="478.4" y2="38.2" stroke="#dcdcdc" stroke-width="1.3"/>
<line x1="463.9" y1="80.2" x2="466.3" y2="76.0" stroke="#dcdcdc" stroke-width="1.3"/>
<line x1="466.3" y1="76.0" x2="468.7" y2="71.8" stroke="#ecc8c8" stroke-width="1.3"/>
<line x1="463.9" y1="63.4" x2="466.3" y2="67.6" stroke="#d25a5a" stroke-width="1.3"/>
<line x1="466.3" y1="67.6" x2="468.7" y2="71.8" stroke="#ecc8c8" stroke-width="1.3"/>
<line x1="468.7" y1="55.0" x2="473.5" y2="55.0" stroke="#d25a5a" stroke-width="1.3"/>
<line x1="473.5" y1="55.0" x2="478.4" y2="55.0" stroke="#ecc8c8" stroke-width="1.3"/>
<line x1="439.6" y1="71.8" x2="444.5" y2="71.8" stroke="#aab0e0" stroke-width="1.3"/>
<line x1="444.5" y1="71.8" x2="449.3" y2="71.8" stroke="#dcdcdc" stroke-width="1.3"/>
<line x1="468.7" y1="71.8" x2="473.5" y2="71.8" stroke="#ecc8c8" stroke-width="1.3"/>
<line x1="473.5" y1="71.8" x2="478.4" y2="71.8" stroke="#aab0e0" stroke-width="1.3"/>
<line x1="449.3" y1="55.0" x2="451.7" y2="50.8" stroke="#d25a5a" stroke-width="1.3"/>
<line x1="451.7" y1="50.8" x2="454.1" y2="46.6" stroke="#e0a0a0" stroke-width="1.3"/>
<line x1="434.8" y1="63.4" x2="437.2" y2="59.2" stroke="#aab0e0" stroke-width="1.3"/>
<line x1="437.2" y1="59.2" x2="439.6" y2="55.0" stroke="#dcdcdc" stroke-width="1.3"/>
<line x1="439.6" y1="38.2" x2="444.5" y2="38.2" stroke="#aab0e0" stroke-width="1.3"/>
<line x1="444.5" y1="38.2" x2="449.3" y2="38.2" stroke="#dcdcdc" stroke-width="1.3"/>
<line x1="463.9" y1="46.6" x2="466.3" y2="50.8" stroke="#d25a5a" stroke-width="1.3"/>
<line x1="466.3" y1="50.8" x2="468.7" y2="55.0" stroke="#d25a5a" stroke-width="1.3"/>
<line x1="463.9" y1="29.8" x2="466.3" y2="34.0" stroke="#7c88e8" stroke-width="1.3"/>
<line x1="466.3" y1="34.0" x2="468.7" y2="38.2" stroke="#dcdcdc" stroke-width="1.3"/>
<line x1="454.1" y1="80.2" x2="459.0" y2="80.2" stroke="#ecc8c8" stroke-width="1.3"/>
<line x1="459.0" y1="80.2" x2="463.9" y2="80.2" stroke="#dcdcdc" stroke-width="1.3"/>
<line x1="478.4" y1="71.8" x2="480.8" y2="67.6" stroke="#aab0e0" stroke-width="1.3"/>
<line x1="480.8" y1="67.6" x2="483.2" y2="63.4" stroke="#aab0e0" stroke-width="1.3"/>
<line x1="434.8" y1="46.6" x2="437.2" y2="42.4" stroke="#aab0e0" stroke-width="1.3"/>
<line x1="437.2" y1="42.4" x2="439.6" y2="38.2" stroke="#aab0e0" stroke-width="1.3"/>
<line x1="434.8" y1="63.4" x2="437.2" y2="67.6" stroke="#aab0e0" stroke-width="1.3"/>
<line x1="437.2" y1="67.6" x2="439.6" y2="71.8" stroke="#aab0e0" stroke-width="1.3"/>
<line x1="454.1" y1="29.8" x2="459.0" y2="29.8" stroke="#4a52e0" stroke-width="1.3"/>
<line x1="459.0" y1="29.8" x2="463.9" y2="29.8" stroke="#7c88e8" stroke-width="1.3"/>
<circle cx="450.8" cy="22.5" r="2.0" fill="url(#bg0)"/>
<circle cx="434.1" cy="33.4" r="2.0" fill="url(#bg0)"/>
<circle cx="483.9" cy="33.4" r="2.0" fill="url(#bg0)"/>
<circle cx="427.9" cy="44.2" r="2.0" fill="url(#bg0)"/>
<circle cx="490.1" cy="44.2" r="2.0" fill="url(#bg0)"/>
<circle cx="427.9" cy="65.8" r="2.0" fill="url(#bg0)"/>
<circle cx="490.1" cy="65.8" r="2.0" fill="url(#bg0)"/>
<circle cx="434.1" cy="76.6" r="2.0" fill="url(#bg0)"/>
<circle cx="483.9" cy="76.6" r="2.0" fill="url(#bg0)"/>
<circle cx="452.8" cy="87.3" r="2.0" fill="url(#bg0)"/>
<circle cx="465.2" cy="87.3" r="2.0" fill="url(#bg0)"/>
<circle cx="454.1" cy="46.6" r="3.0" fill="url(#bg1)"/>
<circle cx="449.3" cy="55.0" r="3.0" fill="url(#bg2)"/>
<circle cx="439.6" cy="55.0" r="3.0" fill="url(#bg3)"/>
<circle cx="434.8" cy="46.6" r="3.0" fill="url(#bg4)"/>
<circle cx="439.6" cy="38.2" r="3.0" fill="url(#bg4)"/>
<circle cx="449.3" cy="38.2" r="3.0" fill="url(#bg3)"/>
<circle cx="454.1" cy="63.4" r="3.0" fill="url(#bg2)"/>
<circle cx="449.3" cy="71.8" r="3.0" fill="url(#bg3)"/>
<circle cx="439.6" cy="71.8" r="3.0" fill="url(#bg4)"/>
<circle cx="434.8" cy="63.4" r="3.0" fill="url(#bg4)"/>
<circle cx="468.7" cy="38.2" r="3.0" fill="url(#bg3)"/>
<circle cx="463.9" cy="46.6" r="3.0" fill="url(#bg2)"/>
<circle cx="454.1" cy="29.8" r="3.0" fill="url(#bg5)"/>
<circle cx="463.9" cy="29.8" r="3.0" fill="url(#bg6)"/>
<circle cx="468.7" cy="55.0" r="3.0" fill="url(#bg2)"/>
<circle cx="463.9" cy="63.4" r="3.0" fill="url(#bg2)"/>
<circle cx="468.7" cy="71.8" r="3.0" fill="url(#bg7)"/>
<circle cx="463.9" cy="80.2" r="3.0" fill="url(#bg3)"/>
<circle cx="454.1" cy="80.2" r="3.0" fill="url(#bg7)"/>
<circle cx="483.2" cy="46.6" r="3.0" fill="url(#bg4)"/>
<circle cx="478.4" cy="55.0" r="3.0" fill="url(#bg7)"/>
<circle cx="478.4" cy="38.2" r="3.0" fill="url(#bg3)"/>
<circle cx="483.2" cy="63.4" r="3.0" fill="url(#bg4)"/>
<circle cx="478.4" cy="71.8" r="3.0" fill="url(#bg4)"/>
<circle cx="454.1" cy="29.8" r="4.8" fill="none" stroke="#111" stroke-width="0.8" stroke-dasharray="1.6,1.1"/>
<text x="510.0" y="11.2" font-size="16" fill="#000" text-anchor="start" font-weight="normal" font-style="normal" >c</text>
<rect x="541.1" y="4.8" width="132.10000000000002" height="145.89999999999998" fill="none" stroke="#222" stroke-width="0.9"/>
<line x1="538.6" y1="14.6" x2="541.1" y2="14.6" stroke="#222" stroke-width="1"/>
<text x="537.1" y="17.4" font-size="7.9" fill="#222" text-anchor="end" font-weight="normal" font-style="normal" >0.14</text>
<line x1="538.6" y1="33.9" x2="541.1" y2="33.9" stroke="#222" stroke-width="1"/>
<text x="537.1" y="36.7" font-size="7.9" fill="#222" text-anchor="end" font-weight="normal" font-style="normal" >0.12</text>
<line x1="538.6" y1="53.3" x2="541.1" y2="53.3" stroke="#222" stroke-width="1"/>
<text x="537.1" y="56.0" font-size="7.9" fill="#222" text-anchor="end" font-weight="normal" font-style="normal" >0.10</text>
<line x1="538.6" y1="72.6" x2="541.1" y2="72.6" stroke="#222" stroke-width="1"/>
<text x="537.1" y="75.4" font-size="7.9" fill="#222" text-anchor="end" font-weight="normal" font-style="normal" >0.08</text>
<line x1="538.6" y1="91.9" x2="541.1" y2="91.9" stroke="#222" stroke-width="1"/>
<text x="537.1" y="94.7" font-size="7.9" fill="#222" text-anchor="end" font-weight="normal" font-style="normal" >0.06</text>
<line x1="538.6" y1="111.2" x2="541.1" y2="111.2" stroke="#222" stroke-width="1"/>
<text x="537.1" y="114.0" font-size="7.9" fill="#222" text-anchor="end" font-weight="normal" font-style="normal" >0.04</text>
<line x1="538.6" y1="130.6" x2="541.1" y2="130.6" stroke="#222" stroke-width="1"/>
<text x="537.1" y="133.3" font-size="7.9" fill="#222" text-anchor="end" font-weight="normal" font-style="normal" >0.02</text>
<line x1="538.6" y1="149.9" x2="541.1" y2="149.9" stroke="#222" stroke-width="1"/>
<text x="537.1" y="152.7" font-size="7.9" fill="#222" text-anchor="end" font-weight="normal" font-style="normal" >0.00</text>
<line x1="541.0" y1="150.7" x2="541.0" y2="153.2" stroke="#222" stroke-width="1"/>
<text x="541.0" y="163.1" font-size="7.9" fill="#222" text-anchor="middle" font-weight="normal" font-style="normal" >3.6</text>
<line x1="564.4" y1="150.7" x2="564.4" y2="153.2" stroke="#222" stroke-width="1"/>
<text x="564.4" y="163.1" font-size="7.9" fill="#222" text-anchor="middle" font-weight="normal" font-style="normal" >3.9</text>
<line x1="587.9" y1="150.7" x2="587.9" y2="153.2" stroke="#222" stroke-width="1"/>
<text x="587.9" y="163.1" font-size="7.9" fill="#222" text-anchor="middle" font-weight="normal" font-style="normal" >4.2</text>
<line x1="611.3" y1="150.7" x2="611.3" y2="153.2" stroke="#222" stroke-width="1"/>
<text x="611.3" y="163.1" font-size="7.9" fill="#222" text-anchor="middle" font-weight="normal" font-style="normal" >4.5</text>
<line x1="634.8" y1="150.7" x2="634.8" y2="153.2" stroke="#222" stroke-width="1"/>
<text x="634.8" y="163.1" font-size="7.9" fill="#222" text-anchor="middle" font-weight="normal" font-style="normal" >4.8</text>
<line x1="658.2" y1="150.7" x2="658.2" y2="153.2" stroke="#222" stroke-width="1"/>
<text x="658.2" y="163.1" font-size="7.9" fill="#222" text-anchor="middle" font-weight="normal" font-style="normal" >5.1</text>
<text x="517.3" y="76.2" font-size="8.5" fill="#222" text-anchor="middle" font-weight="normal" font-style="normal" transform="rotate(-90 517.3 76.2)">Radical Fukui Function (a.u.)</text>
<text x="607.5" y="176.0" font-size="9" fill="#222" text-anchor="middle" font-weight="normal" font-style="normal" >&#916;<tspan font-style="italic">G</tspan><tspan font-size="4.6">OOH*</tspan>(eV)</text>
<line x1="550" y1="58" x2="645" y2="139" stroke="#5a8fd0" stroke-width="0.6"/>
<circle cx="549.8" cy="58.4" r="4.4" fill="url(#gBl)" opacity="0.9"/>
<circle cx="553.9" cy="59.9" r="4.4" fill="url(#gBl)" opacity="0.9"/>
<circle cx="564.1" cy="71.1" r="4.4" fill="url(#gBl)" opacity="0.9"/>
<circle cx="608.3" cy="117.9" r="4.4" fill="url(#gBl2)" opacity="0.9"/>
<circle cx="615.4" cy="118.4" r="4.4" fill="url(#gBl2)" opacity="0.9"/>
<circle cx="617.5" cy="123.1" r="4.4" fill="url(#gBl)" opacity="0.9"/>
<circle cx="623.8" cy="123.1" r="4.4" fill="url(#gBl)" opacity="0.9"/>
<circle cx="591.7" cy="131.5" r="4.4" fill="url(#gBl2)" opacity="0.9"/>
<circle cx="615.4" cy="132.3" r="4.4" fill="url(#gBl)" opacity="0.9"/>
<circle cx="618.5" cy="132.3" r="4.4" fill="url(#gBl)" opacity="0.9"/>
<circle cx="631.6" cy="132" r="4.4" fill="url(#gBl2)" opacity="0.9"/>
<circle cx="635" cy="127.6" r="4.4" fill="url(#gBl2)" opacity="0.9"/>
<circle cx="636.4" cy="127.6" r="4.4" fill="url(#gBl2)" opacity="0.9"/>
<circle cx="641.6" cy="131" r="4.4" fill="url(#gBl)" opacity="0.9"/>
<circle cx="645" cy="130.7" r="4.4" fill="url(#gBl)" opacity="0.9"/>
<circle cx="640.3" cy="138.9" r="4.4" fill="url(#gBl)" opacity="0.9"/>
<circle cx="657.4" cy="127" r="4.4" fill="url(#gBl)" opacity="0.9"/>
<circle cx="659.2" cy="134.7" r="4.4" fill="url(#gBl2)" opacity="0.9"/>
<text x="552.3" y="134.5" font-size="8.3" fill="#2f6db5" text-anchor="start" font-weight="normal" font-style="normal" >S-grapN</text>
<text x="548.4" y="16.9" font-size="8.7" fill="#111" text-anchor="start" font-weight="normal" font-style="normal" >0 a.u.</text>
<rect x="575.8" y="11.8" width="16.5" height="5" fill="url(#redbar)"/>
<rect x="597" y="11.8" width="16.5" height="5" fill="url(#bluebar)"/>
<text x="615.5" y="17.9" font-size="8.9" fill="#111" text-anchor="start" font-weight="normal" font-style="normal" >0.09 a.u.</text>
<text x="548.4" y="27.7" font-size="8.5" fill="#2f6db5" text-anchor="start" font-weight="normal" font-style="normal" >&#916;<tspan font-style="italic">G</tspan><tspan font-size="5.5" dy="1.5">OOH*</tspan><tspan dy="-1.5"> &lt; 4.2 eV</tspan></text>
<line x1="622.1" y1="36.4" x2="620.6" y2="28.7" stroke="#d85a5a" stroke-width="1.4"/>
<line x1="632.5" y1="36.4" x2="634.0" y2="28.7" stroke="#d85a5a" stroke-width="1.4"/>
<line x1="606.5" y1="45.4" x2="600.6" y2="40.3" stroke="#ecc4c4" stroke-width="1.4"/>
<line x1="648.1" y1="45.4" x2="654.0" y2="40.3" stroke="#d85a5a" stroke-width="1.4"/>
<line x1="601.3" y1="54.4" x2="593.9" y2="51.8" stroke="#d85a5a" stroke-width="1.4"/>
<line x1="653.3" y1="54.4" x2="660.7" y2="51.8" stroke="#d85a5a" stroke-width="1.4"/>
<line x1="601.3" y1="72.4" x2="593.9" y2="75.0" stroke="#d85a5a" stroke-width="1.4"/>
<line x1="653.3" y1="72.4" x2="660.7" y2="75.0" stroke="#d85a5a" stroke-width="1.4"/>
<line x1="606.5" y1="81.4" x2="600.6" y2="86.5" stroke="#ecc4c4" stroke-width="1.4"/>
<line x1="648.1" y1="81.4" x2="654.0" y2="86.5" stroke="#d85a5a" stroke-width="1.4"/>
<line x1="622.1" y1="90.4" x2="620.6" y2="98.1" stroke="#d85a5a" stroke-width="1.4"/>
<line x1="632.5" y1="90.4" x2="634.0" y2="98.1" stroke="#d85a5a" stroke-width="1.4"/>
<line x1="622.1" y1="72.4" x2="627.3" y2="72.4" stroke="#d46464" stroke-width="1.4"/>
<line x1="627.3" y1="72.4" x2="632.5" y2="72.4" stroke="#d46464" stroke-width="1.4"/>
<line x1="606.5" y1="63.4" x2="611.7" y2="63.4" stroke="#5a5ae0" stroke-width="1.4"/>
<line x1="611.7" y1="63.4" x2="616.9" y2="63.4" stroke="#dcdcdc" stroke-width="1.4"/>
<line x1="601.3" y1="54.4" x2="603.9" y2="58.9" stroke="#ebcaca" stroke-width="1.4"/>
<line x1="603.9" y1="58.9" x2="606.5" y2="63.4" stroke="#5a5ae0" stroke-width="1.4"/>
<line x1="632.5" y1="54.4" x2="635.1" y2="49.9" stroke="#d46464" stroke-width="1.4"/>
<line x1="635.1" y1="49.9" x2="637.7" y2="45.4" stroke="#d46464" stroke-width="1.4"/>
<line x1="616.9" y1="81.4" x2="619.5" y2="76.9" stroke="#e2a4a4" stroke-width="1.4"/>
<line x1="619.5" y1="76.9" x2="622.1" y2="72.4" stroke="#d46464" stroke-width="1.4"/>
<line x1="616.9" y1="63.4" x2="619.5" y2="67.9" stroke="#dcdcdc" stroke-width="1.4"/>
<line x1="619.5" y1="67.9" x2="622.1" y2="72.4" stroke="#d46464" stroke-width="1.4"/>
<line x1="616.9" y1="45.4" x2="619.5" y2="49.9" stroke="#e2a4a4" stroke-width="1.4"/>
<line x1="619.5" y1="49.9" x2="622.1" y2="54.4" stroke="#d46464" stroke-width="1.4"/>
<line x1="648.1" y1="63.4" x2="650.7" y2="67.9" stroke="#e2a4a4" stroke-width="1.4"/>
<line x1="650.7" y1="67.9" x2="653.3" y2="72.4" stroke="#e2a4a4" stroke-width="1.4"/>
<line x1="648.1" y1="45.4" x2="650.7" y2="49.9" stroke="#e2a4a4" stroke-width="1.4"/>
<line x1="650.7" y1="49.9" x2="653.3" y2="54.4" stroke="#e2a4a4" stroke-width="1.4"/>
<line x1="616.9" y1="81.4" x2="619.5" y2="85.9" stroke="#e2a4a4" stroke-width="1.4"/>
<line x1="619.5" y1="85.9" x2="622.1" y2="90.4" stroke="#ebcaca" stroke-width="1.4"/>
<line x1="616.9" y1="45.4" x2="619.5" y2="40.9" stroke="#e2a4a4" stroke-width="1.4"/>
<line x1="619.5" y1="40.9" x2="622.1" y2="36.4" stroke="#e2a4a4" stroke-width="1.4"/>
<line x1="622.1" y1="54.4" x2="627.3" y2="54.4" stroke="#d46464" stroke-width="1.4"/>
<line x1="627.3" y1="54.4" x2="632.5" y2="54.4" stroke="#d46464" stroke-width="1.4"/>
<line x1="632.5" y1="72.4" x2="635.1" y2="67.9" stroke="#d46464" stroke-width="1.4"/>
<line x1="635.1" y1="67.9" x2="637.7" y2="63.4" stroke="#d46464" stroke-width="1.4"/>
<line x1="648.1" y1="63.4" x2="650.7" y2="58.9" stroke="#e2a4a4" stroke-width="1.4"/>
<line x1="650.7" y1="58.9" x2="653.3" y2="54.4" stroke="#e2a4a4" stroke-width="1.4"/>
<line x1="637.7" y1="45.4" x2="642.9" y2="45.4" stroke="#d46464" stroke-width="1.4"/>
<line x1="642.9" y1="45.4" x2="648.1" y2="45.4" stroke="#e2a4a4" stroke-width="1.4"/>
<line x1="632.5" y1="90.4" x2="635.1" y2="85.9" stroke="#ebcaca" stroke-width="1.4"/>
<line x1="635.1" y1="85.9" x2="637.7" y2="81.4" stroke="#e2a4a4" stroke-width="1.4"/>
<line x1="632.5" y1="72.4" x2="635.1" y2="76.9" stroke="#d46464" stroke-width="1.4"/>
<line x1="635.1" y1="76.9" x2="637.7" y2="81.4" stroke="#e2a4a4" stroke-width="1.4"/>
<line x1="637.7" y1="63.4" x2="642.9" y2="63.4" stroke="#d46464" stroke-width="1.4"/>
<line x1="642.9" y1="63.4" x2="648.1" y2="63.4" stroke="#e2a4a4" stroke-width="1.4"/>
<line x1="606.5" y1="81.4" x2="611.7" y2="81.4" stroke="#5a5ae0" stroke-width="1.4"/>
<line x1="611.7" y1="81.4" x2="616.9" y2="81.4" stroke="#e2a4a4" stroke-width="1.4"/>
<line x1="637.7" y1="81.4" x2="642.9" y2="81.4" stroke="#e2a4a4" stroke-width="1.4"/>
<line x1="642.9" y1="81.4" x2="648.1" y2="81.4" stroke="#e2a4a4" stroke-width="1.4"/>
<line x1="616.9" y1="63.4" x2="619.5" y2="58.9" stroke="#dcdcdc" stroke-width="1.4"/>
<line x1="619.5" y1="58.9" x2="622.1" y2="54.4" stroke="#d46464" stroke-width="1.4"/>
<line x1="601.3" y1="72.4" x2="603.9" y2="67.9" stroke="#ebcaca" stroke-width="1.4"/>
<line x1="603.9" y1="67.9" x2="606.5" y2="63.4" stroke="#5a5ae0" stroke-width="1.4"/>
<line x1="606.5" y1="45.4" x2="611.7" y2="45.4" stroke="#5a5ae0" stroke-width="1.4"/>
<line x1="611.7" y1="45.4" x2="616.9" y2="45.4" stroke="#e2a4a4" stroke-width="1.4"/>
<line x1="632.5" y1="54.4" x2="635.1" y2="58.9" stroke="#d46464" stroke-width="1.4"/>
<line x1="635.1" y1="58.9" x2="637.7" y2="63.4" stroke="#d46464" stroke-width="1.4"/>
<line x1="632.5" y1="36.4" x2="635.1" y2="40.9" stroke="#ebcaca" stroke-width="1.4"/>
<line x1="635.1" y1="40.9" x2="637.7" y2="45.4" stroke="#d46464" stroke-width="1.4"/>
<line x1="622.1" y1="90.4" x2="627.3" y2="90.4" stroke="#ebcaca" stroke-width="1.4"/>
<line x1="627.3" y1="90.4" x2="632.5" y2="90.4" stroke="#ebcaca" stroke-width="1.4"/>
<line x1="648.1" y1="81.4" x2="650.7" y2="76.9" stroke="#e2a4a4" stroke-width="1.4"/>
<line x1="650.7" y1="76.9" x2="653.3" y2="72.4" stroke="#e2a4a4" stroke-width="1.4"/>
<line x1="601.3" y1="54.4" x2="603.9" y2="49.9" stroke="#ebcaca" stroke-width="1.4"/>
<line x1="603.9" y1="49.9" x2="606.5" y2="45.4" stroke="#5a5ae0" stroke-width="1.4"/>
<line x1="601.3" y1="72.4" x2="603.9" y2="76.9" stroke="#ebcaca" stroke-width="1.4"/>
<line x1="603.9" y1="76.9" x2="606.5" y2="81.4" stroke="#5a5ae0" stroke-width="1.4"/>
<line x1="622.1" y1="36.4" x2="627.3" y2="36.4" stroke="#e2a4a4" stroke-width="1.4"/>
<line x1="627.3" y1="36.4" x2="632.5" y2="36.4" stroke="#ebcaca" stroke-width="1.4"/>
<circle cx="620.6" cy="28.7" r="2.1" fill="url(#bg8)"/>
<circle cx="634.0" cy="28.7" r="2.1" fill="url(#bg8)"/>
<circle cx="600.6" cy="40.3" r="2.1" fill="url(#bg9)"/>
<circle cx="654.0" cy="40.3" r="2.1" fill="url(#bg8)"/>
<circle cx="593.9" cy="51.8" r="2.1" fill="url(#bg8)"/>
<circle cx="660.7" cy="51.8" r="2.1" fill="url(#bg8)"/>
<circle cx="593.9" cy="75.0" r="2.1" fill="url(#bg8)"/>
<circle cx="660.7" cy="75.0" r="2.1" fill="url(#bg8)"/>
<circle cx="600.6" cy="86.5" r="2.1" fill="url(#bg9)"/>
<circle cx="654.0" cy="86.5" r="2.1" fill="url(#bg8)"/>
<circle cx="620.6" cy="98.1" r="2.1" fill="url(#bg8)"/>
<circle cx="634.0" cy="98.1" r="2.1" fill="url(#bg8)"/>
<circle cx="622.1" cy="54.4" r="3.2" fill="url(#bg10)"/>
<circle cx="616.9" cy="63.4" r="3.2" fill="url(#bg3)"/>
<circle cx="606.5" cy="63.4" r="3.2" fill="url(#bg11)"/>
<circle cx="601.3" cy="54.4" r="3.2" fill="url(#bg12)"/>
<circle cx="606.5" cy="45.4" r="3.2" fill="url(#bg11)"/>
<circle cx="616.9" cy="45.4" r="3.2" fill="url(#bg13)"/>
<circle cx="622.1" cy="72.4" r="3.2" fill="url(#bg10)"/>
<circle cx="616.9" cy="81.4" r="3.2" fill="url(#bg13)"/>
<circle cx="606.5" cy="81.4" r="3.2" fill="url(#bg11)"/>
<circle cx="601.3" cy="72.4" r="3.2" fill="url(#bg12)"/>
<circle cx="637.7" cy="45.4" r="3.2" fill="url(#bg10)"/>
<circle cx="632.5" cy="54.4" r="3.2" fill="url(#bg10)"/>
<circle cx="622.1" cy="36.4" r="3.2" fill="url(#bg13)"/>
<circle cx="632.5" cy="36.4" r="3.2" fill="url(#bg12)"/>
<circle cx="637.7" cy="63.4" r="3.2" fill="url(#bg10)"/>
<circle cx="632.5" cy="72.4" r="3.2" fill="url(#bg10)"/>
<circle cx="637.7" cy="81.4" r="3.2" fill="url(#bg13)"/>
<circle cx="632.5" cy="90.4" r="3.2" fill="url(#bg12)"/>
<circle cx="622.1" cy="90.4" r="3.2" fill="url(#bg12)"/>
<circle cx="653.3" cy="54.4" r="3.2" fill="url(#bg13)"/>
<circle cx="648.1" cy="63.4" r="3.2" fill="url(#bg13)"/>
<circle cx="648.1" cy="45.4" r="3.2" fill="url(#bg13)"/>
<circle cx="653.3" cy="72.4" r="3.2" fill="url(#bg13)"/>
<circle cx="648.1" cy="81.4" r="3.2" fill="url(#bg13)"/>
<circle cx="606.5" cy="45.4" r="5.0" fill="none" stroke="#2f6db5" stroke-width="0.8" stroke-dasharray="1.6,1.1"/>
<circle cx="606.5" cy="63.4" r="5.0" fill="none" stroke="#2f6db5" stroke-width="0.8" stroke-dasharray="1.6,1.1"/>
<circle cx="606.5" cy="81.4" r="5.0" fill="none" stroke="#2f6db5" stroke-width="0.8" stroke-dasharray="1.6,1.1"/>
<text x="339.0" y="198.5" font-size="16" fill="#000" text-anchor="start" font-weight="normal" font-style="normal" >d</text>
<rect x="545" y="209" width="131" height="163" fill="#f9f9f9"/>
<line x1="368.8" y1="314.6" x2="539.7" y2="314.6" stroke="#cfcfcf" stroke-width="0.7"/>
<line x1="368.8" y1="215.0" x2="539.7" y2="215.0" stroke="#8ab4e0" stroke-width="0.9" stroke-dasharray="2,1.6"/>
<line x1="368.8" y1="257.9" x2="539.7" y2="257.9" stroke="#777" stroke-width="0.9" stroke-dasharray="2.2,1.6"/>
<polyline points="368.7,355.4 448.8,245.0 458.1,258.0" fill="none" stroke="#2f6db5" stroke-width="0.9"/>
<polyline points="376.9,371 458.1,258.0 539.7,368.8" fill="none" stroke="#222" stroke-width="0.9"/>
<line x1="368.8" y1="209.3" x2="368.8" y2="371.0" stroke="#333" stroke-width="0.9"/>
<line x1="368.8" y1="371.0" x2="539.7" y2="371.0" stroke="#333" stroke-width="0.9"/>
<line x1="539.7" y1="209.3" x2="539.7" y2="371.0" stroke="#888" stroke-width="1.3"/>
<line x1="368.8" y1="209.3" x2="539.7" y2="209.3" stroke="#2f6db5" stroke-width="0.9"/>
<line x1="366.3" y1="233.6" x2="368.8" y2="233.6" stroke="#222" stroke-width="1"/>
<text x="364.8" y="236.2" font-size="7.5" fill="#222" text-anchor="end" font-weight="normal" font-style="normal" >1.0</text>
<line x1="366.3" y1="274.1" x2="368.8" y2="274.1" stroke="#222" stroke-width="1"/>
<text x="364.8" y="276.7" font-size="7.5" fill="#222" text-anchor="end" font-weight="normal" font-style="normal" >0.5</text>
<line x1="366.3" y1="314.6" x2="368.8" y2="314.6" stroke="#222" stroke-width="1"/>
<text x="364.8" y="317.2" font-size="7.5" fill="#222" text-anchor="end" font-weight="normal" font-style="normal" >0.0</text>
<line x1="366.3" y1="355.1" x2="368.8" y2="355.1" stroke="#222" stroke-width="1"/>
<text x="364.8" y="357.7" font-size="7.5" fill="#222" text-anchor="end" font-weight="normal" font-style="normal" >-0.5</text>
<line x1="368.7" y1="371.0" x2="368.7" y2="373.5" stroke="#222" stroke-width="1"/>
<text x="368.7" y="382.9" font-size="7.5" fill="#222" text-anchor="middle" font-weight="normal" font-style="normal" >2.7</text>
<line x1="386.6" y1="371.0" x2="386.6" y2="373.5" stroke="#222" stroke-width="1"/>
<text x="386.6" y="382.9" font-size="7.5" fill="#222" text-anchor="middle" font-weight="normal" font-style="normal" >3.0</text>
<line x1="404.5" y1="371.0" x2="404.5" y2="373.5" stroke="#222" stroke-width="1"/>
<text x="404.5" y="382.9" font-size="7.5" fill="#222" text-anchor="middle" font-weight="normal" font-style="normal" >3.3</text>
<line x1="422.3" y1="371.0" x2="422.3" y2="373.5" stroke="#222" stroke-width="1"/>
<text x="422.3" y="382.9" font-size="7.5" fill="#222" text-anchor="middle" font-weight="normal" font-style="normal" >3.6</text>
<line x1="440.2" y1="371.0" x2="440.2" y2="373.5" stroke="#222" stroke-width="1"/>
<text x="440.2" y="382.9" font-size="7.5" fill="#222" text-anchor="middle" font-weight="normal" font-style="normal" >3.9</text>
<line x1="458.1" y1="371.0" x2="458.1" y2="373.5" stroke="#222" stroke-width="1"/>
<text x="458.1" y="382.9" font-size="7.5" fill="#222" text-anchor="middle" font-weight="normal" font-style="normal" >4.2</text>
<line x1="476.0" y1="371.0" x2="476.0" y2="373.5" stroke="#222" stroke-width="1"/>
<text x="476.0" y="382.9" font-size="7.5" fill="#222" text-anchor="middle" font-weight="normal" font-style="normal" >4.5</text>
<line x1="493.9" y1="371.0" x2="493.9" y2="373.5" stroke="#222" stroke-width="1"/>
<text x="493.9" y="382.9" font-size="7.5" fill="#222" text-anchor="middle" font-weight="normal" font-style="normal" >4.8</text>
<line x1="511.7" y1="371.0" x2="511.7" y2="373.5" stroke="#222" stroke-width="1"/>
<text x="511.7" y="382.9" font-size="7.5" fill="#222" text-anchor="middle" font-weight="normal" font-style="normal" >5.1</text>
<line x1="529.6" y1="371.0" x2="529.6" y2="373.5" stroke="#222" stroke-width="1"/>
<text x="529.6" y="382.9" font-size="7.5" fill="#222" text-anchor="middle" font-weight="normal" font-style="normal" >5.4</text>
<line x1="368.9" y1="211.8" x2="368.9" y2="209.3" stroke="#2f6db5" stroke-width="1"/>
<text x="368.9" y="204.3" font-size="7.5" fill="#2f6db5" text-anchor="middle" font-weight="normal" font-style="normal" >-0.5</text>
<line x1="398.4" y1="211.8" x2="398.4" y2="209.3" stroke="#2f6db5" stroke-width="1"/>
<text x="398.4" y="204.3" font-size="7.5" fill="#2f6db5" text-anchor="middle" font-weight="normal" font-style="normal" >0.0</text>
<line x1="427.8" y1="211.8" x2="427.8" y2="209.3" stroke="#2f6db5" stroke-width="1"/>
<text x="427.8" y="204.3" font-size="7.5" fill="#2f6db5" text-anchor="middle" font-weight="normal" font-style="normal" >0.5</text>
<line x1="457.3" y1="211.8" x2="457.3" y2="209.3" stroke="#2f6db5" stroke-width="1"/>
<text x="457.3" y="204.3" font-size="7.5" fill="#2f6db5" text-anchor="middle" font-weight="normal" font-style="normal" >1.0</text>
<line x1="486.8" y1="211.8" x2="486.8" y2="209.3" stroke="#2f6db5" stroke-width="1"/>
<text x="486.8" y="204.3" font-size="7.5" fill="#2f6db5" text-anchor="middle" font-weight="normal" font-style="normal" >1.5</text>
<line x1="516.2" y1="211.8" x2="516.2" y2="209.3" stroke="#2f6db5" stroke-width="1"/>
<text x="516.2" y="204.3" font-size="7.5" fill="#2f6db5" text-anchor="middle" font-weight="normal" font-style="normal" >2.0</text>
<text x="455.0" y="192.2" font-size="8.6" fill="#2f6db5" text-anchor="middle" font-weight="normal" font-style="normal" >&#916;<tspan font-style="italic">G</tspan><tspan font-size="4.6">OH*</tspan> (eV)</text>
<text x="454.5" y="396.6" font-size="8.7" fill="#222" text-anchor="middle" font-weight="normal" font-style="normal" >&#916;<tspan font-style="italic">G</tspan><tspan font-size="4.6">OOH*</tspan> (eV)</text>
<text x="349.5" y="290.0" font-size="8.5" fill="#222" text-anchor="middle" font-weight="normal" font-style="normal" transform="rotate(-90 349.5 290)"><tspan font-style="italic">U</tspan><tspan font-size="5.5">L</tspan> (V)</text>
<text x="536.6" y="224.5" font-size="8.8" fill="#2f6db5" text-anchor="end" font-weight="bold" font-style="normal" ><tspan font-style="italic">U</tspan><tspan font-size="5" dy="-3">0</tspan><tspan font-size="4.3" dy="4">H2O</tspan><tspan dy="-1">=1.23 V</tspan></text>
<text x="532.7" y="250.5" font-size="8.8" fill="#111" text-anchor="end" font-weight="bold" font-style="normal" ><tspan font-style="italic">U</tspan><tspan font-size="5" dy="-3">0</tspan><tspan font-size="4.3" dy="4">H2O2</tspan><tspan dy="-1">=0.7 V</tspan></text>
<circle cx="371.8" cy="351.1" r="2.5" fill="none" stroke="#333" stroke-width="0.8"/>
<path d="M369.3,351.1 A2.5,2.5 0 0 1 374.3,351.1 Z" fill="#333"/>
<rect x="370.1" y="347.5" width="5.0" height="5.0" fill="none" stroke="#333" stroke-width="0.8"/>
<rect x="370.1" y="347.5" width="5.0" height="2.5" fill="#333"/>
<polygon points="409.5,296.4 412.2,299.2 409.5,301.9 406.8,299.2" fill="none" stroke="#333" stroke-width="0.7"/>
<line x1="406.8" y1="299.2" x2="412.2" y2="299.2" stroke="#333" stroke-width="0.6"/>
<rect x="408.1" y="295.2" width="5.0" height="5.0" fill="none" stroke="#333" stroke-width="0.8"/>
<rect x="408.1" y="295.2" width="5.0" height="2.5" fill="#333"/>
<polygon points="412.4,291.7 413.2,294.1 415.7,294.1 413.7,295.6 414.5,298.0 412.4,296.6 410.3,298.0 411.1,295.6 409.1,294.1 411.6,294.1" fill="#333"/>
<circle cx="418.2" cy="287.2" r="2.5" fill="none" stroke="#c0185a" stroke-width="0.8"/>
<path d="M415.7,287.2 A2.5,2.5 0 0 1 420.7,287.2 Z" fill="#c0185a"/>
<circle cx="427.0" cy="275.1" r="2.5" fill="none" stroke="#333" stroke-width="0.8"/>
<path d="M424.5,275.1 A2.5,2.5 0 0 1 429.5,275.1 Z" fill="#333"/>
<rect x="425.7" y="270.9" width="5.0" height="5.0" fill="none" stroke="#333" stroke-width="0.8"/>
<rect x="425.7" y="270.9" width="5.0" height="2.5" fill="#333"/>
<circle cx="429.2" cy="272.0" r="2.5" fill="none" stroke="#2f6db5" stroke-width="0.8"/>
<path d="M426.7,272.0 A2.5,2.5 0 0 1 431.7,272.0 Z" fill="#2f6db5"/>
<rect x="428.1" y="267.6" width="5.0" height="5.0" fill="none" stroke="#2f6db5" stroke-width="0.8"/>
<rect x="428.1" y="267.6" width="5.0" height="2.5" fill="#2f6db5"/>
<polygon points="432.8,263.6 433.6,266.0 436.1,266.0 434.1,267.5 434.9,269.9 432.8,268.4 430.7,269.9 431.5,267.5 429.5,266.0 432.0,266.0" fill="#c0185a"/>
<rect x="431.3" y="263.2" width="5.0" height="5.0" fill="none" stroke="#c0185a" stroke-width="0.8"/>
<rect x="431.3" y="263.2" width="5.0" height="2.5" fill="#c0185a"/>
<circle cx="435.0" cy="264.0" r="2.5" fill="none" stroke="#c0185a" stroke-width="0.8"/>
<path d="M432.5,264.0 A2.5,2.5 0 0 1 437.5,264.0 Z" fill="#c0185a"/>
<polygon points="436.2,259.6 438.9,262.4 436.2,265.1 433.4,262.4" fill="none" stroke="#c0185a" stroke-width="0.7"/>
<line x1="433.4" y1="262.4" x2="438.9" y2="262.4" stroke="#c0185a" stroke-width="0.6"/>
<polygon points="440.8,252.5 441.6,254.9 444.1,255.0 442.1,256.5 442.9,258.9 440.8,257.4 438.7,258.9 439.5,256.5 437.5,255.0 440.0,254.9" fill="#2f6db5"/>
<circle cx="442.3" cy="254.0" r="2.5" fill="none" stroke="#2f6db5" stroke-width="0.8"/>
<path d="M439.8,254.0 A2.5,2.5 0 0 1 444.8,254.0 Z" fill="#2f6db5"/>
<polygon points="443.7,249.3 446.4,252.0 443.7,254.8 440.9,252.0" fill="none" stroke="#2f6db5" stroke-width="0.7"/>
<line x1="440.9" y1="252.0" x2="446.4" y2="252.0" stroke="#2f6db5" stroke-width="0.6"/>
<polygon points="445.2,246.5 446.0,248.9 448.5,248.9 446.5,250.4 447.3,252.8 445.2,251.4 443.1,252.8 443.9,250.4 441.9,248.9 444.4,248.9" fill="none" stroke="#c0185a" stroke-width="0.7"/>
<circle cx="446.2" cy="248.6" r="2.5" fill="none" stroke="#c0185a" stroke-width="0.8"/>
<path d="M443.7,248.6 A2.5,2.5 0 0 1 448.7,248.6 Z" fill="#c0185a"/>
<circle cx="390.2" cy="352.5" r="2.5" fill="none" stroke="#333" stroke-width="0.8"/>
<path d="M387.7,352.5 A2.5,2.5 0 0 1 392.7,352.5 Z" fill="#333"/>
<polygon points="422.6,304.6 425.4,307.4 422.6,310.1 419.9,307.4" fill="none" stroke="#333" stroke-width="0.7"/>
<line x1="419.9" y1="307.4" x2="425.4" y2="307.4" stroke="#333" stroke-width="0.6"/>
<polygon points="423.8,302.2 424.6,304.6 427.1,304.6 425.1,306.1 425.9,308.5 423.8,307.1 421.7,308.5 422.5,306.1 420.5,304.6 423.0,304.6" fill="none" stroke="#333" stroke-width="0.7"/>
<polygon points="424.8,301.6 427.6,304.3 424.8,307.1 422.1,304.3" fill="none" stroke="#333" stroke-width="0.7"/>
<line x1="422.1" y1="304.3" x2="427.6" y2="304.3" stroke="#333" stroke-width="0.6"/>
<circle cx="430.6" cy="296.2" r="2.5" fill="none" stroke="#c0185a" stroke-width="0.8"/>
<path d="M428.1,296.2 A2.5,2.5 0 0 1 433.1,296.2 Z" fill="#c0185a"/>
<circle cx="438.6" cy="285.1" r="2.5" fill="none" stroke="#333" stroke-width="0.8"/>
<path d="M436.1,285.1 A2.5,2.5 0 0 1 441.1,285.1 Z" fill="#333"/>
<circle cx="439.6" cy="283.7" r="2.5" fill="none" stroke="#333" stroke-width="0.8"/>
<path d="M437.1,283.7 A2.5,2.5 0 0 1 442.1,283.7 Z" fill="#333"/>
<rect x="438.3" y="279.6" width="5.0" height="5.0" fill="none" stroke="#2f6db5" stroke-width="0.8"/>
<rect x="438.3" y="279.6" width="5.0" height="2.5" fill="#2f6db5"/>
<circle cx="443.0" cy="279.0" r="2.5" fill="none" stroke="#2f6db5" stroke-width="0.8"/>
<path d="M440.5,279.0 A2.5,2.5 0 0 1 445.5,279.0 Z" fill="#2f6db5"/>
<polygon points="443.7,274.5 444.5,276.9 447.0,276.9 445.0,278.4 445.8,280.8 443.7,279.4 441.6,280.8 442.4,278.4 440.4,276.9 442.9,276.9" fill="none" stroke="#c0185a" stroke-width="0.7"/>
<circle cx="445.5" cy="275.5" r="2.5" fill="none" stroke="#c0185a" stroke-width="0.8"/>
<path d="M443.0,275.5 A2.5,2.5 0 0 1 448.0,275.5 Z" fill="#c0185a"/>
<rect x="444.0" y="271.6" width="5.0" height="5.0" fill="none" stroke="#c0185a" stroke-width="0.8"/>
<rect x="444.0" y="271.6" width="5.0" height="2.5" fill="#c0185a"/>
<circle cx="448.8" cy="270.9" r="2.5" fill="none" stroke="#c0185a" stroke-width="0.8"/>
<path d="M446.3,270.9 A2.5,2.5 0 0 1 451.3,270.9 Z" fill="#c0185a"/>
<circle cx="452.0" cy="266.5" r="2.5" fill="none" stroke="#2f6db5" stroke-width="0.8"/>
<path d="M449.5,266.5 A2.5,2.5 0 0 1 454.5,266.5 Z" fill="#2f6db5"/>
<polygon points="454.0,260.2 454.8,262.6 457.3,262.6 455.3,264.1 456.1,266.5 454.0,265.1 451.9,266.5 452.7,264.1 450.7,262.6 453.2,262.6" fill="#2f6db5"/>
<circle cx="450.3" cy="263.5" r="2.5" fill="none" stroke="#c0185a" stroke-width="0.8"/>
<path d="M447.8,263.5 A2.5,2.5 0 0 1 452.8,263.5 Z" fill="#c0185a"/>
<circle cx="451.5" cy="266.0" r="2.5" fill="none" stroke="#c0185a" stroke-width="0.8"/>
<path d="M449.0,266.0 A2.5,2.5 0 0 1 454.0,266.0 Z" fill="#c0185a"/>
<circle cx="462.7" cy="264.3" r="2.5" fill="none" stroke="#c0185a" stroke-width="0.8"/>
<path d="M460.2,264.3 A2.5,2.5 0 0 1 465.2,264.3 Z" fill="#c0185a"/>
<circle cx="463.3" cy="265.1" r="2.5" fill="none" stroke="#2f6db5" stroke-width="0.8"/>
<path d="M460.8,265.1 A2.5,2.5 0 0 1 465.8,265.1 Z" fill="#2f6db5"/>
<rect x="488.2" y="299.8" width="5.0" height="5.0" fill="none" stroke="#c0185a" stroke-width="0.8"/>
<rect x="488.2" y="299.8" width="5.0" height="2.5" fill="#c0185a"/>
<rect x="492.1" y="305.1" width="5.0" height="5.0" fill="none" stroke="#c0185a" stroke-width="0.8"/>
<rect x="492.1" y="305.1" width="5.0" height="2.5" fill="#c0185a"/>
<polygon points="500.0,311.4 500.8,313.8 503.3,313.8 501.3,315.4 502.1,317.8 500.0,316.3 497.9,317.8 498.7,315.4 496.7,313.8 499.2,313.8" fill="#c0185a"/>
<polygon points="501.5,313.5 502.3,315.9 504.8,315.9 502.8,317.4 503.6,319.8 501.5,318.3 499.4,319.8 500.2,317.4 498.2,315.9 500.7,315.9" fill="none" stroke="#c0185a" stroke-width="0.7"/>
<polygon points="501.6,318.5 506.6,318.5 504.1,323.0" fill="none" stroke="#c0185a" stroke-width="0.8"/>
<polygon points="501.6,318.5 506.6,318.5 505.5,320.2 502.7,320.2" fill="#c0185a"/>
<polygon points="503.6,321.2 508.6,321.2 506.1,325.7" fill="none" stroke="#2f6db5" stroke-width="0.8"/>
<polygon points="503.6,321.2 508.6,321.2 507.5,323.0 504.7,323.0" fill="#2f6db5"/>
<circle cx="509.2" cy="327.4" r="2.5" fill="none" stroke="#2f6db5" stroke-width="0.8"/>
<path d="M506.7,327.4 A2.5,2.5 0 0 1 511.7,327.4 Z" fill="#2f6db5"/>
<polygon points="510.2,325.3 511.0,327.7 513.5,327.7 511.5,329.2 512.3,331.6 510.2,330.2 508.1,331.6 508.9,329.2 506.9,327.7 509.4,327.7" fill="#2f6db5"/>
<rect x="509.8" y="329.1" width="5.0" height="5.0" fill="none" stroke="#2f6db5" stroke-width="0.8"/>
<rect x="509.8" y="329.1" width="5.0" height="2.5" fill="#2f6db5"/>
<rect x="515.1" y="336.3" width="5.0" height="5.0" fill="none" stroke="#333" stroke-width="0.8"/>
<rect x="515.1" y="336.3" width="5.0" height="2.5" fill="#333"/>
<polygon points="522.3,341.7 523.1,344.1 525.6,344.1 523.6,345.6 524.4,348.0 522.3,346.6 520.2,348.0 521.0,345.6 519.0,344.1 521.5,344.1" fill="#333"/>
<polygon points="526.9,348.0 527.7,350.3 530.2,350.4 528.2,351.9 529.0,354.3 526.9,352.8 524.8,354.3 525.6,351.9 523.6,350.4 526.1,350.3" fill="#333"/>
<rect x="529.7" y="356.2" width="5.0" height="5.0" fill="none" stroke="#333" stroke-width="0.8"/>
<rect x="529.7" y="356.2" width="5.0" height="2.5" fill="#333"/>
<text x="554.2" y="219.5" font-size="9.1" fill="#111" text-anchor="start" font-weight="bold" font-style="normal" >pyridinic-N-type models</text>
<text x="554.2" y="233.8" font-size="8.5" fill="#111" text-anchor="start" font-weight="normal" font-style="normal" >S</text>
<text x="573.0" y="233.8" font-size="8.5" fill="#2f6db5" text-anchor="start" font-weight="normal" font-style="normal" >M</text>
<text x="591.6" y="233.8" font-size="8.5" fill="#c0185a" text-anchor="start" font-weight="normal" font-style="normal" >L</text>
<rect x="555.1" y="238.1" width="4.4" height="4.4" fill="none" stroke="#333" stroke-width="0.8"/>
<rect x="555.1" y="238.1" width="4.4" height="2.2" fill="#333"/>
<rect x="573.8" y="238.1" width="4.4" height="4.4" fill="none" stroke="#2f6db5" stroke-width="0.8"/>
<rect x="573.8" y="238.1" width="4.4" height="2.2" fill="#2f6db5"/>
<rect x="592.8" y="238.1" width="4.4" height="4.4" fill="none" stroke="#c0185a" stroke-width="0.8"/>
<rect x="592.8" y="238.1" width="4.4" height="2.2" fill="#c0185a"/>
<text x="604.7" y="243.3" font-size="8.4" fill="#222" text-anchor="start" font-weight="normal" font-style="normal" >pyriN</text>
<polygon points="557.3,247.4 558.0,249.5 560.2,249.5 558.5,250.9 559.1,253.0 557.3,251.7 555.5,253.0 556.1,250.9 554.4,249.5 556.6,249.5" fill="#333"/>
<polygon points="576.0,247.4 576.7,249.5 578.9,249.5 577.2,250.9 577.8,253.0 576.0,251.7 574.2,253.0 574.8,250.9 573.1,249.5 575.3,249.5" fill="#2f6db5"/>
<polygon points="595.0,247.4 595.7,249.5 597.9,249.5 596.2,250.9 596.8,253.0 595.0,251.7 593.2,253.0 593.8,250.9 592.1,249.5 594.3,249.5" fill="#c0185a"/>
<text x="604.7" y="253.5" font-size="8.4" fill="#222" text-anchor="start" font-weight="normal" font-style="normal" >pyrroN</text>
<rect x="555.1" y="258.7" width="4.4" height="4.4" fill="none" stroke="#333" stroke-width="0.8"/>
<rect x="557.3" y="258.7" width="2.2" height="4.4" fill="#333"/>
<rect x="573.8" y="258.7" width="4.4" height="4.4" fill="none" stroke="#2f6db5" stroke-width="0.8"/>
<rect x="576.0" y="258.7" width="2.2" height="4.4" fill="#2f6db5"/>
<rect x="592.8" y="258.7" width="4.4" height="4.4" fill="none" stroke="#c0185a" stroke-width="0.8"/>
<rect x="595.0" y="258.7" width="2.2" height="4.4" fill="#c0185a"/>
<text x="604.7" y="263.9" font-size="8.4" fill="#222" text-anchor="start" font-weight="normal" font-style="normal" >pristine</text>
<polygon points="555.1,269.7 559.5,269.7 557.3,273.7" fill="none" stroke="#333" stroke-width="0.8"/>
<polygon points="555.1,269.7 559.5,269.7 558.5,271.3 556.1,271.3" fill="#333"/>
<polygon points="573.8,269.7 578.2,269.7 576.0,273.7" fill="none" stroke="#2f6db5" stroke-width="0.8"/>
<polygon points="573.8,269.7 578.2,269.7 577.2,271.3 574.8,271.3" fill="#2f6db5"/>
<polygon points="592.8,269.7 597.2,269.7 595.0,273.7" fill="none" stroke="#c0185a" stroke-width="0.8"/>
<polygon points="592.8,269.7 597.2,269.7 596.2,271.3 593.8,271.3" fill="#c0185a"/>
<text x="604.7" y="274.5" font-size="8.4" fill="#222" text-anchor="start" font-weight="normal" font-style="normal" >armchair-edge</text>
<text x="554.2" y="307.5" font-size="9.1" fill="#111" text-anchor="start" font-weight="bold" font-style="normal" >graphitic-N-type models</text>
<text x="555.2" y="319.7" font-size="8.5" fill="#111" text-anchor="start" font-weight="normal" font-style="normal" >S</text>
<text x="573.6" y="319.7" font-size="8.5" fill="#2f6db5" text-anchor="start" font-weight="normal" font-style="normal" >M</text>
<text x="592.6" y="319.7" font-size="8.5" fill="#c0185a" text-anchor="start" font-weight="normal" font-style="normal" >L</text>
<polygon points="558.7,324.3 559.4,326.4 561.6,326.4 559.9,327.8 560.5,329.9 558.7,328.6 556.9,329.9 557.5,327.8 555.8,326.4 558.0,326.4" fill="none" stroke="#333" stroke-width="0.7"/>
<polygon points="577.3,324.3 578.0,326.4 580.2,326.4 578.5,327.8 579.1,329.9 577.3,328.6 575.5,329.9 576.1,327.8 574.4,326.4 576.6,326.4" fill="none" stroke="#2f6db5" stroke-width="0.7"/>
<polygon points="596.1,324.3 596.8,326.4 599.0,326.4 597.3,327.8 597.9,329.9 596.1,328.6 594.3,329.9 594.9,327.8 593.2,326.4 595.4,326.4" fill="none" stroke="#c0185a" stroke-width="0.7"/>
<text x="605.7" y="330.4" font-size="8.4" fill="#222" text-anchor="start" font-weight="normal" font-style="normal" >grapN</text>
<circle cx="558.7" cy="338.0" r="2.2" fill="none" stroke="#333" stroke-width="0.8"/>
<path d="M556.5,338.0 A2.2,2.2 0 0 1 560.9,338.0 Z" fill="#333"/>
<circle cx="577.3" cy="338.0" r="2.2" fill="none" stroke="#2f6db5" stroke-width="0.8"/>
<path d="M575.1,338.0 A2.2,2.2 0 0 1 579.5,338.0 Z" fill="#2f6db5"/>
<circle cx="596.1" cy="338.0" r="2.2" fill="none" stroke="#c0185a" stroke-width="0.8"/>
<path d="M593.9,338.0 A2.2,2.2 0 0 1 598.3,338.0 Z" fill="#c0185a"/>
<text x="605.7" y="341.0" font-size="8.4" fill="#222" text-anchor="start" font-weight="normal" font-style="normal" >edge multi-N</text>
<polygon points="558.7,345.1 559.4,347.2 561.6,347.2 559.9,348.6 560.5,350.7 558.7,349.4 556.9,350.7 557.5,348.6 555.8,347.2 558.0,347.2" fill="#333"/>
<polygon points="577.3,345.1 578.0,347.2 580.2,347.2 578.5,348.6 579.1,350.7 577.3,349.4 575.5,350.7 576.1,348.6 574.4,347.2 576.6,347.2" fill="#2f6db5"/>
<polygon points="596.1,345.1 596.8,347.2 599.0,347.2 597.3,348.6 597.9,350.7 596.1,349.4 594.3,350.7 594.9,348.6 593.2,347.2 595.4,347.2" fill="#c0185a"/>
<text x="605.7" y="351.2" font-size="8.4" fill="#222" text-anchor="start" font-weight="normal" font-style="normal" >multi-N</text>
<polygon points="558.7,356.1 561.1,358.5 558.7,360.9 556.3,358.5" fill="none" stroke="#333" stroke-width="0.7"/>
<line x1="556.3" y1="358.5" x2="561.1" y2="358.5" stroke="#333" stroke-width="0.6"/>
<polygon points="577.3,356.1 579.7,358.5 577.3,360.9 574.9,358.5" fill="none" stroke="#2f6db5" stroke-width="0.7"/>
<line x1="574.9" y1="358.5" x2="579.7" y2="358.5" stroke="#2f6db5" stroke-width="0.6"/>
<polygon points="596.1,356.1 598.5,358.5 596.1,360.9 593.7,358.5" fill="none" stroke="#c0185a" stroke-width="0.7"/>
<line x1="593.7" y1="358.5" x2="598.5" y2="358.5" stroke="#c0185a" stroke-width="0.6"/>
<text x="605.7" y="361.5" font-size="8.4" fill="#222" text-anchor="start" font-weight="normal" font-style="normal" >carbonyl</text>
<circle cx="558.7" cy="368.7" r="2.2" fill="none" stroke="#333" stroke-width="0.8"/>
<path d="M556.5,369.2 A2.2,2.2 0 0 1 560.9,369.2 Z" fill="#333"/>
<circle cx="577.3" cy="368.7" r="2.2" fill="none" stroke="#2f6db5" stroke-width="0.8"/>
<path d="M575.1,369.2 A2.2,2.2 0 0 1 579.5,369.2 Z" fill="#2f6db5"/>
<circle cx="596.1" cy="368.7" r="2.2" fill="none" stroke="#c0185a" stroke-width="0.8"/>
<path d="M593.9,369.2 A2.2,2.2 0 0 1 598.3,369.2 Z" fill="#c0185a"/>
<text x="605.7" y="371.7" font-size="8.4" fill="#222" text-anchor="start" font-weight="normal" font-style="normal" >cyclic ether</text>
<text x="7.0" y="404.0" font-size="16" fill="#000" text-anchor="start" font-weight="normal" font-style="normal" >e</text>
<g clip-path="url(#clipE)">
<rect x="26.3" y="411.1" width="118.6" height="180.2" fill="#21487e"/>
<g clip-path="url(#clipEo)">
<path d="M114.5,447.2 C117.1,447.5 120.1,447.7 121.8,450.5 C123.5,453.3 124.0,459.2 124.7,464.0 C125.5,468.8 126.0,473.9 126.3,479.0 C126.6,484.1 126.8,490.3 126.5,494.6 C126.2,498.9 126.4,500.2 124.3,504.8 C122.2,509.4 117.8,517.6 114.1,522.2 C110.4,526.8 106.5,529.0 102.4,532.4 C98.3,535.8 93.7,539.2 89.3,542.6 C84.9,546.0 80.3,549.4 76.2,552.8 C72.1,556.2 67.3,560.9 64.6,563.0 C61.9,565.1 61.2,567.6 60.2,565.2 C59.2,562.8 58.9,555.3 58.7,548.4 C58.5,541.5 58.2,532.0 59.2,524.0 C60.2,516.0 62.7,506.3 64.6,500.4 C66.5,494.5 68.2,492.4 70.4,488.7 C72.6,485.0 75.5,482.1 77.7,478.0 C79.9,473.9 80.8,468.2 83.8,464.2 C86.8,460.2 91.8,456.6 95.5,454.0 C99.2,451.4 102.8,449.6 106.0,448.5 C109.2,447.4 111.9,446.9 114.5,447.2 Z" fill="#f6f6f6"/>
<path d="M114.5,447.2 C117.1,447.5 120.1,447.7 121.8,450.5 C123.5,453.3 124.0,459.2 124.7,464.0 C125.5,468.8 126.0,473.9 126.3,479.0 C126.6,484.1 126.8,490.3 126.5,494.6 C126.2,498.9 126.4,500.2 124.3,504.8 C122.2,509.4 117.8,517.6 114.1,522.2 C110.4,526.8 106.5,529.0 102.4,532.4 C98.3,535.8 93.7,539.2 89.3,542.6 C84.9,546.0 80.3,549.4 76.2,552.8 C72.1,556.2 67.3,560.9 64.6,563.0 C61.9,565.1 61.2,567.6 60.2,565.2 C59.2,562.8 58.9,555.3 58.7,548.4 C58.5,541.5 58.2,532.0 59.2,524.0 C60.2,516.0 62.7,506.3 64.6,500.4 C66.5,494.5 68.2,492.4 70.4,488.7 C72.6,485.0 75.5,482.1 77.7,478.0 C79.9,473.9 80.8,468.2 83.8,464.2 C86.8,460.2 91.8,456.6 95.5,454.0 C99.2,451.4 102.8,449.6 106.0,448.5 C109.2,447.4 111.9,446.9 114.5,447.2 Z" fill="none" stroke="#c2dcef" stroke-width="20" filter="url(#bl2)"/>
<path d="M114.5,447.2 C117.1,447.5 120.1,447.7 121.8,450.5 C123.5,453.3 124.0,459.2 124.7,464.0 C125.5,468.8 126.0,473.9 126.3,479.0 C126.6,484.1 126.8,490.3 126.5,494.6 C126.2,498.9 126.4,500.2 124.3,504.8 C122.2,509.4 117.8,517.6 114.1,522.2 C110.4,526.8 106.5,529.0 102.4,532.4 C98.3,535.8 93.7,539.2 89.3,542.6 C84.9,546.0 80.3,549.4 76.2,552.8 C72.1,556.2 67.3,560.9 64.6,563.0 C61.9,565.1 61.2,567.6 60.2,565.2 C59.2,562.8 58.9,555.3 58.7,548.4 C58.5,541.5 58.2,532.0 59.2,524.0 C60.2,516.0 62.7,506.3 64.6,500.4 C66.5,494.5 68.2,492.4 70.4,488.7 C72.6,485.0 75.5,482.1 77.7,478.0 C79.9,473.9 80.8,468.2 83.8,464.2 C86.8,460.2 91.8,456.6 95.5,454.0 C99.2,451.4 102.8,449.6 106.0,448.5 C109.2,447.4 111.9,446.9 114.5,447.2 Z" fill="none" stroke="#86b9e0" stroke-width="11" filter="url(#bl1_5)"/>
<path d="M114.5,447.2 C117.1,447.5 120.1,447.7 121.8,450.5 C123.5,453.3 124.0,459.2 124.7,464.0 C125.5,468.8 126.0,473.9 126.3,479.0 C126.6,484.1 126.8,490.3 126.5,494.6 C126.2,498.9 126.4,500.2 124.3,504.8 C122.2,509.4 117.8,517.6 114.1,522.2 C110.4,526.8 106.5,529.0 102.4,532.4 C98.3,535.8 93.7,539.2 89.3,542.6 C84.9,546.0 80.3,549.4 76.2,552.8 C72.1,556.2 67.3,560.9 64.6,563.0 C61.9,565.1 61.2,567.6 60.2,565.2 C59.2,562.8 58.9,555.3 58.7,548.4 C58.5,541.5 58.2,532.0 59.2,524.0 C60.2,516.0 62.7,506.3 64.6,500.4 C66.5,494.5 68.2,492.4 70.4,488.7 C72.6,485.0 75.5,482.1 77.7,478.0 C79.9,473.9 80.8,468.2 83.8,464.2 C86.8,460.2 91.8,456.6 95.5,454.0 C99.2,451.4 102.8,449.6 106.0,448.5 C109.2,447.4 111.9,446.9 114.5,447.2 Z" fill="none" stroke="#4485c4" stroke-width="5" filter="url(#bl1)"/>
<path d="M114.5,447.2 C117.1,447.5 120.1,447.7 121.8,450.5 C123.5,453.3 124.0,459.2 124.7,464.0 C125.5,468.8 126.0,473.9 126.3,479.0 C126.6,484.1 126.8,490.3 126.5,494.6 C126.2,498.9 126.4,500.2 124.3,504.8 C122.2,509.4 117.8,517.6 114.1,522.2 C110.4,526.8 106.5,529.0 102.4,532.4 C98.3,535.8 93.7,539.2 89.3,542.6 C84.9,546.0 80.3,549.4 76.2,552.8 C72.1,556.2 67.3,560.9 64.6,563.0 C61.9,565.1 61.2,567.6 60.2,565.2 C59.2,562.8 58.9,555.3 58.7,548.4 C58.5,541.5 58.2,532.0 59.2,524.0 C60.2,516.0 62.7,506.3 64.6,500.4 C66.5,494.5 68.2,492.4 70.4,488.7 C72.6,485.0 75.5,482.1 77.7,478.0 C79.9,473.9 80.8,468.2 83.8,464.2 C86.8,460.2 91.8,456.6 95.5,454.0 C99.2,451.4 102.8,449.6 106.0,448.5 C109.2,447.4 111.9,446.9 114.5,447.2 Z" fill="none" stroke="#2c66a8" stroke-width="1.6"/>
</g>
<path d="M97.4,461.7 C99.6,461.6 102.8,461.9 105.0,462.8 C107.1,463.7 108.9,464.6 110.1,467.1 C111.4,469.6 112.0,473.4 112.3,477.9 C112.6,482.4 112.5,488.4 112.0,494.1 C111.5,499.9 110.5,507.6 109.3,512.5 C108.1,517.3 106.8,520.0 105.0,523.3 C103.2,526.5 101.2,528.9 98.5,531.9 C95.8,535.0 92.0,538.6 88.8,541.6 C85.5,544.7 81.4,549.2 79.0,550.3 C76.7,551.4 76.0,551.2 74.7,548.1 C73.5,545.1 72.0,537.3 71.5,531.9 C70.9,526.5 71.3,521.1 71.5,515.7 C71.7,510.3 72.0,504.0 72.6,499.5 C73.1,495.0 73.5,492.3 74.7,488.7 C75.9,485.1 77.7,481.5 79.8,477.9 C81.9,474.3 85.1,469.6 87.1,467.1 C89.2,464.7 90.3,464.2 92.0,463.3 C93.7,462.4 95.2,461.8 97.4,461.7 Z" fill="#f9d2c0" filter="url(#bl1_5)"/>
<path d="M97.2,463.8 C99.2,463.7 102.3,463.9 104.4,464.8 C106.4,465.7 108.1,466.5 109.3,468.9 C110.5,471.3 111.1,474.9 111.4,479.2 C111.7,483.5 111.5,489.2 111.1,494.7 C110.6,500.2 109.6,507.5 108.5,512.2 C107.4,516.8 106.1,519.4 104.4,522.5 C102.6,525.6 100.8,527.8 98.2,530.7 C95.6,533.6 92.0,537.1 88.9,540.0 C85.8,542.9 81.9,547.2 79.6,548.2 C77.4,549.3 76.7,549.1 75.5,546.2 C74.3,543.3 72.9,535.9 72.4,530.7 C71.9,525.6 72.3,520.4 72.4,515.3 C72.6,510.1 72.9,504.1 73.5,499.8 C74.0,495.5 74.4,493.0 75.5,489.5 C76.7,486.1 78.4,482.7 80.4,479.2 C82.3,475.8 85.4,471.2 87.4,468.9 C89.3,466.6 90.4,466.2 92.0,465.3 C93.6,464.5 95.1,463.9 97.2,463.8 Z" fill="#f08a70" filter="url(#bl1)"/>
<path d="M97.0,465.0 C99.0,464.9 102.0,465.2 104.0,466.0 C106.0,466.8 107.7,467.7 108.8,470.0 C109.9,472.3 110.5,475.8 110.8,480.0 C111.1,484.2 111.0,489.7 110.5,495.0 C110.0,500.3 109.1,507.5 108.0,512.0 C106.9,516.5 105.7,519.0 104.0,522.0 C102.3,525.0 100.5,527.2 98.0,530.0 C95.5,532.8 92.0,536.2 89.0,539.0 C86.0,541.8 82.2,546.0 80.0,547.0 C77.8,548.0 77.2,547.8 76.0,545.0 C74.8,542.2 73.5,535.0 73.0,530.0 C72.5,525.0 72.8,520.0 73.0,515.0 C73.2,510.0 73.5,504.2 74.0,500.0 C74.5,495.8 74.9,493.3 76.0,490.0 C77.1,486.7 78.8,483.3 80.7,480.0 C82.6,476.7 85.6,472.2 87.5,470.0 C89.4,467.8 90.4,467.3 92.0,466.5 C93.6,465.7 95.0,465.1 97.0,465.0 Z" fill="#e04a3c" filter="url(#bl1)"/>
<path d="M96.5,469.1 C98.3,469.0 101.0,469.2 102.8,470.0 C104.6,470.8 106.1,471.5 107.1,473.6 C108.1,475.7 108.7,478.9 108.9,482.6 C109.2,486.4 109.1,491.3 108.7,496.1 C108.2,500.9 107.4,507.3 106.4,511.4 C105.4,515.4 104.3,517.7 102.8,520.4 C101.3,523.1 99.7,525.0 97.4,527.6 C95.2,530.2 92.0,533.2 89.3,535.7 C86.6,538.2 83.2,542.0 81.2,542.9 C79.2,543.8 78.6,543.6 77.6,541.1 C76.5,538.6 75.4,532.1 74.9,527.6 C74.5,523.1 74.8,518.6 74.9,514.1 C75.1,509.6 75.3,504.4 75.8,500.6 C76.2,496.9 76.6,494.6 77.6,491.6 C78.6,488.6 80.1,485.6 81.8,482.6 C83.6,479.6 86.3,475.6 88.0,473.6 C89.6,471.6 90.6,471.2 92.0,470.4 C93.4,469.7 94.7,469.2 96.5,469.1 Z" fill="#d4352f" filter="url(#bl1_5)"/>
<path d="M95.5,477.3 C96.9,477.2 99.0,477.4 100.4,478.0 C101.8,478.6 103.0,479.2 103.8,480.8 C104.6,482.4 105.0,484.9 105.2,487.8 C105.4,490.7 105.3,494.6 105.0,498.3 C104.6,502.0 104.0,507.0 103.2,510.2 C102.4,513.4 101.6,515.1 100.4,517.2 C99.2,519.3 98.0,520.8 96.2,522.8 C94.5,524.8 92.0,527.1 89.9,529.1 C87.8,531.1 85.1,534.0 83.6,534.7 C82.1,535.4 81.6,535.3 80.8,533.3 C80.0,531.3 79.0,526.3 78.7,522.8 C78.4,519.3 78.6,515.8 78.7,512.3 C78.8,508.8 79.1,504.7 79.4,501.8 C79.8,498.9 80.0,497.1 80.8,494.8 C81.6,492.5 82.7,490.1 84.1,487.8 C85.4,485.5 87.5,482.4 88.8,480.8 C90.2,479.2 90.9,478.9 92.0,478.4 C93.1,477.8 94.1,477.4 95.5,477.3 Z" fill="#cc2a2a" filter="url(#bl3)"/>
</g>
<line x1="26.3" y1="411.1" x2="26.3" y2="591.3" stroke="#333" stroke-width="0.9"/>
<line x1="26.3" y1="591.3" x2="144.9" y2="591.3" stroke="#333" stroke-width="0.9"/>
<line x1="23.8" y1="411.1" x2="26.3" y2="411.1" stroke="#222" stroke-width="1"/>
<text x="22.3" y="413.7" font-size="7.5" fill="#222" text-anchor="end" font-weight="normal" font-style="normal" >6.0</text>
<line x1="23.8" y1="433.6" x2="26.3" y2="433.6" stroke="#222" stroke-width="1"/>
<text x="22.3" y="436.2" font-size="7.5" fill="#222" text-anchor="end" font-weight="normal" font-style="normal" >5.5</text>
<line x1="23.8" y1="456.1" x2="26.3" y2="456.1" stroke="#222" stroke-width="1"/>
<text x="22.3" y="458.8" font-size="7.5" fill="#222" text-anchor="end" font-weight="normal" font-style="normal" >5.0</text>
<line x1="23.8" y1="478.7" x2="26.3" y2="478.7" stroke="#222" stroke-width="1"/>
<text x="22.3" y="481.3" font-size="7.5" fill="#222" text-anchor="end" font-weight="normal" font-style="normal" >4.5</text>
<line x1="23.8" y1="501.2" x2="26.3" y2="501.2" stroke="#222" stroke-width="1"/>
<text x="22.3" y="503.8" font-size="7.5" fill="#222" text-anchor="end" font-weight="normal" font-style="normal" >4.0</text>
<line x1="23.8" y1="523.7" x2="26.3" y2="523.7" stroke="#222" stroke-width="1"/>
<text x="22.3" y="526.3" font-size="7.5" fill="#222" text-anchor="end" font-weight="normal" font-style="normal" >3.5</text>
<line x1="23.8" y1="546.2" x2="26.3" y2="546.2" stroke="#222" stroke-width="1"/>
<text x="22.3" y="548.9" font-size="7.5" fill="#222" text-anchor="end" font-weight="normal" font-style="normal" >3.0</text>
<line x1="23.8" y1="568.8" x2="26.3" y2="568.8" stroke="#222" stroke-width="1"/>
<text x="22.3" y="571.4" font-size="7.5" fill="#222" text-anchor="end" font-weight="normal" font-style="normal" >2.5</text>
<line x1="23.8" y1="591.3" x2="26.3" y2="591.3" stroke="#222" stroke-width="1"/>
<text x="22.3" y="593.9" font-size="7.5" fill="#222" text-anchor="end" font-weight="normal" font-style="normal" >2.0</text>
<line x1="26.3" y1="591.3" x2="26.3" y2="593.8" stroke="#222" stroke-width="1"/>
<text x="26.3" y="603.2" font-size="7.5" fill="#222" text-anchor="middle" font-weight="normal" font-style="normal" >-1.0</text>
<line x1="45.9" y1="591.3" x2="45.9" y2="593.8" stroke="#222" stroke-width="1"/>
<text x="45.9" y="603.2" font-size="7.5" fill="#222" text-anchor="middle" font-weight="normal" font-style="normal" >-0.5</text>
<line x1="65.4" y1="591.3" x2="65.4" y2="593.8" stroke="#222" stroke-width="1"/>
<text x="65.4" y="603.2" font-size="7.5" fill="#222" text-anchor="middle" font-weight="normal" font-style="normal" >0.0</text>
<line x1="85.0" y1="591.3" x2="85.0" y2="593.8" stroke="#222" stroke-width="1"/>
<text x="85.0" y="603.2" font-size="7.5" fill="#222" text-anchor="middle" font-weight="normal" font-style="normal" >0.5</text>
<line x1="104.5" y1="591.3" x2="104.5" y2="593.8" stroke="#222" stroke-width="1"/>
<text x="104.5" y="603.2" font-size="7.5" fill="#222" text-anchor="middle" font-weight="normal" font-style="normal" >1.0</text>
<line x1="124.0" y1="591.3" x2="124.0" y2="593.8" stroke="#222" stroke-width="1"/>
<text x="124.0" y="603.2" font-size="7.5" fill="#222" text-anchor="middle" font-weight="normal" font-style="normal" >1.5</text>
<line x1="143.6" y1="591.3" x2="143.6" y2="593.8" stroke="#222" stroke-width="1"/>
<text x="143.6" y="603.2" font-size="7.5" fill="#222" text-anchor="middle" font-weight="normal" font-style="normal" >2.0</text>
<rect x="146.9" y="411.1" width="7" height="180.2" fill="url(#cbar)"/>
<line x1="153.9" y1="425.0" x2="156.4" y2="425.0" stroke="#333" stroke-width="0.8"/>
<text x="158.6" y="427.7" font-size="7.5" fill="#222" text-anchor="start" font-weight="normal" font-style="normal" >2</text>
<line x1="153.9" y1="452.7" x2="156.4" y2="452.7" stroke="#333" stroke-width="0.8"/>
<text x="158.6" y="455.4" font-size="7.5" fill="#222" text-anchor="start" font-weight="normal" font-style="normal" >0</text>
<line x1="153.9" y1="480.4" x2="156.4" y2="480.4" stroke="#333" stroke-width="0.8"/>
<text x="158.6" y="483.1" font-size="7.5" fill="#222" text-anchor="start" font-weight="normal" font-style="normal" >-2</text>
<line x1="153.9" y1="508.1" x2="156.4" y2="508.1" stroke="#333" stroke-width="0.8"/>
<text x="158.6" y="510.8" font-size="7.5" fill="#222" text-anchor="start" font-weight="normal" font-style="normal" >-4</text>
<line x1="153.9" y1="535.9" x2="156.4" y2="535.9" stroke="#333" stroke-width="0.8"/>
<text x="158.6" y="538.6" font-size="7.5" fill="#222" text-anchor="start" font-weight="normal" font-style="normal" >-6</text>
<line x1="153.9" y1="563.6" x2="156.4" y2="563.6" stroke="#333" stroke-width="0.8"/>
<text x="158.6" y="566.3" font-size="7.5" fill="#222" text-anchor="start" font-weight="normal" font-style="normal" >-8</text>
<line x1="153.9" y1="591.3" x2="156.4" y2="591.3" stroke="#333" stroke-width="0.8"/>
<text x="158.6" y="594.0" font-size="7.5" fill="#222" text-anchor="start" font-weight="normal" font-style="normal" >-10</text>
<text x="151.5" y="408.0" font-size="8.2" fill="#111" text-anchor="end" font-weight="normal" font-style="normal" >log(<tspan font-style="italic">TOF</tspan><tspan font-size="4.5" font-style="italic">4e</tspan> /s<tspan font-size="5" dy="-3">-1</tspan><tspan dy="3">)</tspan></text>
<text x="7.8" y="503.5" font-size="8.2" fill="#222" text-anchor="middle" font-weight="normal" font-style="normal" transform="rotate(-90 7.8 503.5)"><tspan font-style="italic">E</tspan><tspan font-size="5.2" dy="1.2">OOH*</tspan><tspan dy="-1.2" font-style="italic"> (eV)</tspan></text>
<text x="86.0" y="615.5" font-size="8" fill="#222" text-anchor="middle" font-weight="normal" font-style="normal" ><tspan font-style="italic">E</tspan><tspan font-size="5.2" dy="1.2">OH*</tspan><tspan dy="-1.2"> (0.2 V</tspan><tspan font-size="5.2" dy="1.2">SHE</tspan><tspan dy="-1.2">) </tspan><tspan font-style="italic">eV</tspan></text>
<text x="169.0" y="404.0" font-size="16" fill="#000" text-anchor="start" font-weight="normal" font-style="normal" >f</text>
<g clip-path="url(#clipF)">
<rect x="197.3" y="411.1" width="118.6" height="180.2" fill="#21487e"/>
<rect x="246" y="405" width="21.4" height="60" fill="#3366a6"/>
<rect x="256" y="405" width="11.4" height="60" fill="url(#colF2)"/>
<path d="M250,452 L274,449 Q279.3,449 279.3,455 L279.3,527 Q279.3,532 272,536 L266,541 L250,564.7 Z" fill="#4a8aca" filter="url(#bl0_7)"/>
<path d="M188.0,467.2 L262.0,451.2 L262.0,549.0 L219.4,600.0 L188.0,600.0 Z" fill="#3f7fc0" filter="url(#bl1_5)"/>
<path d="M253,452 L274,451 Q278.5,451 278.5,457 L278.5,526 Q278,531 270,536 L262,543 L253,559.6 Z" fill="url(#platG)" filter="url(#bl1)"/>
<path d="M188.0,471.2 L260.0,455.6 L260.0,550.8 L218.9,600.0 L188.0,600.0 Z" fill="#94c2e4" filter="url(#bl2)"/>
<path d="M188.0,474.7 L257.0,459.8 L257.0,553.8 L218.4,600.0 L188.0,600.0 Z" fill="#d6e8f4" filter="url(#bl1_5)"/>
<path d="M188.0,477.7 L255.5,463.1 L255.5,554.9 L217.8,600.0 L188.0,600.0 Z" fill="#f7f7f7" filter="url(#bl1_5)"/>
<path d="M188.0,480.2 L252.8,466.2 L252.8,556.3 L216.3,600.0 L188.0,600.0 Z" fill="#f5b59c" filter="url(#bl1)"/>
<path d="M188.0,482.7 L250.5,469.2 L250.5,557.6 L215.1,600.0 L188.0,600.0 Z" fill="#d6473c" filter="url(#bl1)"/>
<path d="M188.0,488.2 L245.5,475.8 L245.5,559.6 L211.7,600.0 L188.0,600.0 Z" fill="#981c24" filter="url(#bl2)"/>
<path d="M188.0,493.7 L240.0,482.5 L240.0,560.1 L206.7,600.0 L188.0,600.0 Z" fill="#7d1b23" filter="url(#bl3)"/>
</g>
<line x1="197.3" y1="411.1" x2="197.3" y2="591.3" stroke="#333" stroke-width="0.9"/>
<line x1="197.3" y1="591.3" x2="315.9" y2="591.3" stroke="#333" stroke-width="0.9"/>
<line x1="194.8" y1="411.1" x2="197.3" y2="411.1" stroke="#222" stroke-width="1"/>
<text x="193.3" y="413.7" font-size="7.5" fill="#222" text-anchor="end" font-weight="normal" font-style="normal" >6.0</text>
<line x1="194.8" y1="433.6" x2="197.3" y2="433.6" stroke="#222" stroke-width="1"/>
<text x="193.3" y="436.2" font-size="7.5" fill="#222" text-anchor="end" font-weight="normal" font-style="normal" >5.5</text>
<line x1="194.8" y1="456.1" x2="197.3" y2="456.1" stroke="#222" stroke-width="1"/>
<text x="193.3" y="458.8" font-size="7.5" fill="#222" text-anchor="end" font-weight="normal" font-style="normal" >5.0</text>
<line x1="194.8" y1="478.7" x2="197.3" y2="478.7" stroke="#222" stroke-width="1"/>
<text x="193.3" y="481.3" font-size="7.5" fill="#222" text-anchor="end" font-weight="normal" font-style="normal" >4.5</text>
<line x1="194.8" y1="501.2" x2="197.3" y2="501.2" stroke="#222" stroke-width="1"/>
<text x="193.3" y="503.8" font-size="7.5" fill="#222" text-anchor="end" font-weight="normal" font-style="normal" >4.0</text>
<line x1="194.8" y1="523.7" x2="197.3" y2="523.7" stroke="#222" stroke-width="1"/>
<text x="193.3" y="526.3" font-size="7.5" fill="#222" text-anchor="end" font-weight="normal" font-style="normal" >3.5</text>
<line x1="194.8" y1="546.2" x2="197.3" y2="546.2" stroke="#222" stroke-width="1"/>
<text x="193.3" y="548.9" font-size="7.5" fill="#222" text-anchor="end" font-weight="normal" font-style="normal" >3.0</text>
<line x1="194.8" y1="568.8" x2="197.3" y2="568.8" stroke="#222" stroke-width="1"/>
<text x="193.3" y="571.4" font-size="7.5" fill="#222" text-anchor="end" font-weight="normal" font-style="normal" >2.5</text>
<line x1="194.8" y1="591.3" x2="197.3" y2="591.3" stroke="#222" stroke-width="1"/>
<text x="193.3" y="593.9" font-size="7.5" fill="#222" text-anchor="end" font-weight="normal" font-style="normal" >2.0</text>
<line x1="197.3" y1="591.3" x2="197.3" y2="593.8" stroke="#222" stroke-width="1"/>
<text x="197.3" y="603.2" font-size="7.5" fill="#222" text-anchor="middle" font-weight="normal" font-style="normal" >-1.0</text>
<line x1="216.9" y1="591.3" x2="216.9" y2="593.8" stroke="#222" stroke-width="1"/>
<text x="216.9" y="603.2" font-size="7.5" fill="#222" text-anchor="middle" font-weight="normal" font-style="normal" >-0.5</text>
<line x1="236.4" y1="591.3" x2="236.4" y2="593.8" stroke="#222" stroke-width="1"/>
<text x="236.4" y="603.2" font-size="7.5" fill="#222" text-anchor="middle" font-weight="normal" font-style="normal" >0.0</text>
<line x1="256.0" y1="591.3" x2="256.0" y2="593.8" stroke="#222" stroke-width="1"/>
<text x="256.0" y="603.2" font-size="7.5" fill="#222" text-anchor="middle" font-weight="normal" font-style="normal" >0.5</text>
<line x1="275.5" y1="591.3" x2="275.5" y2="593.8" stroke="#222" stroke-width="1"/>
<text x="275.5" y="603.2" font-size="7.5" fill="#222" text-anchor="middle" font-weight="normal" font-style="normal" >1.0</text>
<line x1="295.1" y1="591.3" x2="295.1" y2="593.8" stroke="#222" stroke-width="1"/>
<text x="295.1" y="603.2" font-size="7.5" fill="#222" text-anchor="middle" font-weight="normal" font-style="normal" >1.5</text>
<line x1="314.6" y1="591.3" x2="314.6" y2="593.8" stroke="#222" stroke-width="1"/>
<text x="314.6" y="603.2" font-size="7.5" fill="#222" text-anchor="middle" font-weight="normal" font-style="normal" >2.0</text>
<rect x="317.9" y="411.1" width="7" height="180.2" fill="url(#cbar)"/>
<line x1="324.9" y1="411.1" x2="327.4" y2="411.1" stroke="#333" stroke-width="0.8"/>
<text x="329.6" y="413.8" font-size="7.5" fill="#222" text-anchor="start" font-weight="normal" font-style="normal" >0</text>
<line x1="324.9" y1="447.1" x2="327.4" y2="447.1" stroke="#333" stroke-width="0.8"/>
<text x="329.6" y="449.8" font-size="7.5" fill="#222" text-anchor="start" font-weight="normal" font-style="normal" >-2</text>
<line x1="324.9" y1="483.2" x2="327.4" y2="483.2" stroke="#333" stroke-width="0.8"/>
<text x="329.6" y="485.9" font-size="7.5" fill="#222" text-anchor="start" font-weight="normal" font-style="normal" >-4</text>
<line x1="324.9" y1="519.2" x2="327.4" y2="519.2" stroke="#333" stroke-width="0.8"/>
<text x="329.6" y="521.9" font-size="7.5" fill="#222" text-anchor="start" font-weight="normal" font-style="normal" >-6</text>
<line x1="324.9" y1="555.3" x2="327.4" y2="555.3" stroke="#333" stroke-width="0.8"/>
<text x="329.6" y="558.0" font-size="7.5" fill="#222" text-anchor="start" font-weight="normal" font-style="normal" >-8</text>
<line x1="324.9" y1="591.3" x2="327.4" y2="591.3" stroke="#333" stroke-width="0.8"/>
<text x="329.6" y="594.0" font-size="7.5" fill="#222" text-anchor="start" font-weight="normal" font-style="normal" >-10</text>
<text x="331.0" y="408.0" font-size="8.6" fill="#111" text-anchor="end" font-weight="normal" font-style="normal" >log(<tspan font-style="italic">coverage</tspan> of OH*)</text>
<text x="178.8" y="503.5" font-size="8.2" fill="#222" text-anchor="middle" font-weight="normal" font-style="normal" transform="rotate(-90 178.8 503.5)"><tspan font-style="italic">E</tspan><tspan font-size="5.2" dy="1.2">OOH*</tspan><tspan dy="-1.2" font-style="italic"> (eV)</tspan></text>
<text x="257.0" y="615.5" font-size="8" fill="#222" text-anchor="middle" font-weight="normal" font-style="normal" ><tspan font-style="italic">E</tspan><tspan font-size="5.2" dy="1.2">OH*</tspan><tspan dy="-1.2"> (0.2 V</tspan><tspan font-size="5.2" dy="1.2">SHE</tspan><tspan dy="-1.2">) </tspan><tspan font-style="italic">eV</tspan></text>
<line x1="88.0" y1="438.3" x2="94.6" y2="494.0" stroke="#d88aa0" stroke-width="0.6"/>
<line x1="60.7" y1="448.0" x2="87.0" y2="500.5" stroke="#d88aa0" stroke-width="0.6"/>
<line x1="61.8" y1="473.2" x2="79.3" y2="511.4" stroke="#d88aa0" stroke-width="0.6"/>
<line x1="72.8" y1="496.5" x2="78.2" y2="510.0" stroke="#d88aa0" stroke-width="0.6"/>
<line x1="116.4" y1="467.8" x2="100.0" y2="485.2" stroke="#8cc4c4" stroke-width="0.6"/>
<line x1="107.7" y1="490.7" x2="96.8" y2="495.0" stroke="#8cc4c4" stroke-width="0.6"/>
<line x1="97.9" y1="521.0" x2="87.0" y2="504.9" stroke="#8cc4c4" stroke-width="0.6"/>
<line x1="105.5" y1="546.4" x2="85.9" y2="507.0" stroke="#8cc4c4" stroke-width="0.6"/>
<line x1="99.0" y1="568.0" x2="82.6" y2="512.5" stroke="#8cc4c4" stroke-width="0.6"/>
<line x1="67.3" y1="514.7" x2="72.8" y2="516.2" stroke="#8cc4c4" stroke-width="0.6"/>
<line x1="60.7" y1="531.0" x2="74.9" y2="519.0" stroke="#8cc4c4" stroke-width="0.6"/>
<line x1="48.3" y1="542.4" x2="61.8" y2="572.0" stroke="#8cc4c4" stroke-width="0.6"/>
<text x="78.3" y="436.7" font-size="7" fill="#f3e2ea" text-anchor="start" font-weight="bold" font-style="normal" >L-grapN</text>
<text x="30.0" y="444.1" font-size="7" fill="#f3e2ea" text-anchor="start" font-weight="bold" font-style="normal" >L-multi-N</text>
<text x="114.6" y="467.8" font-size="7" fill="#d2e4f5" text-anchor="start" font-weight="bold" font-style="normal" >M-grapN</text>
<text x="30.0" y="471.3" font-size="7" fill="#f3e2ea" text-anchor="start" font-weight="bold" font-style="normal" >L-carbonyl</text>
<text x="107.6" y="492.5" font-size="7" fill="#d2e4f5" text-anchor="start" font-weight="bold" font-style="normal" >M-carbonyl</text>
<text x="30.0" y="497.7" font-size="7" fill="#f3e2ea" text-anchor="start" font-weight="bold" font-style="normal" >L-cyclic ether</text>
<text x="30.0" y="514.7" font-size="7" fill="#eef3f3" text-anchor="start" font-weight="bold" font-style="normal" >S-carbonyl</text>
<text x="98.8" y="526.0" font-size="7" fill="#d2e4f5" text-anchor="start" font-weight="bold" font-style="normal" >M-cyclic ether</text>
<text x="30.0" y="535.8" font-size="7" fill="#eef3f3" text-anchor="start" font-weight="bold" font-style="normal" >S-multi-N</text>
<text x="105.8" y="551.7" font-size="7" fill="#d2e4f5" text-anchor="start" font-weight="bold" font-style="normal" >M-multi-N</text>
<text x="95.2" y="576.0" font-size="7" fill="#eef3f3" text-anchor="start" font-weight="bold" font-style="normal" >S-grapN</text>
<text x="48.7" y="581.3" font-size="7" fill="#eef3f3" text-anchor="start" font-weight="bold" font-style="normal" >S-cyclic ether</text>
<polygon points="99.4,483.1 100.2,485.2 102.4,485.3 100.7,486.7 101.3,488.9 99.4,487.7 97.5,488.9 98.1,486.7 96.4,485.3 98.6,485.2" fill="#fff" stroke="#2a5aa8" stroke-width="0.7" stroke-linejoin="round"/>
<polygon points="94.1,491.2 94.9,493.3 97.1,493.4 95.4,494.8 96.0,497.0 94.1,495.8 92.2,497.0 92.8,494.8 91.1,493.4 93.3,493.3" fill="#fff" stroke="#2a5aa8" stroke-width="0.7" stroke-linejoin="round"/>
<polygon points="96.3,494.0 97.1,496.1 99.3,496.2 97.6,497.6 98.2,499.8 96.3,498.6 94.4,499.8 95.0,497.6 93.3,496.2 95.5,496.1" fill="#fff" stroke="#c02050" stroke-width="0.7" stroke-linejoin="round"/>
<polygon points="90.7,496.8 91.5,498.9 93.7,499.0 92.0,500.4 92.6,502.6 90.7,501.4 88.8,502.6 89.4,500.4 87.7,499.0 89.9,498.9" fill="#fff" stroke="#c02050" stroke-width="0.7" stroke-linejoin="round"/>
<polygon points="86.9,499.9 87.7,502.0 89.9,502.1 88.2,503.5 88.8,505.7 86.9,504.5 85.0,505.7 85.6,503.5 83.9,502.1 86.1,502.0" fill="#fff" stroke="#2a5aa8" stroke-width="0.7" stroke-linejoin="round"/>
<polygon points="85.4,503.4 86.2,505.5 88.4,505.6 86.7,507.0 87.3,509.2 85.4,508.0 83.5,509.2 84.1,507.0 82.4,505.6 84.6,505.5" fill="#fff" stroke="#2a5aa8" stroke-width="0.7" stroke-linejoin="round"/>
<polygon points="79.3,508.7 80.1,510.8 82.3,510.9 80.6,512.3 81.2,514.5 79.3,513.3 77.4,514.5 78.0,512.3 76.3,510.9 78.5,510.8" fill="#fff" stroke="#c02050" stroke-width="0.7" stroke-linejoin="round"/>
<polygon points="82.6,508.7 83.4,510.8 85.6,510.9 83.9,512.3 84.5,514.5 82.6,513.3 80.7,514.5 81.3,512.3 79.6,510.9 81.8,510.8" fill="#fff" stroke="#5aaaa0" stroke-width="0.7" stroke-linejoin="round"/>
<polygon points="72.8,513.0 73.6,515.1 75.8,515.2 74.1,516.6 74.7,518.8 72.8,517.6 70.9,518.8 71.5,516.6 69.8,515.2 72.0,515.1" fill="#fff" stroke="#5aaaa0" stroke-width="0.7" stroke-linejoin="round"/>
<polygon points="74.9,515.9 75.7,518.0 77.9,518.1 76.2,519.5 76.8,521.7 74.9,520.5 73.0,521.7 73.6,519.5 71.9,518.1 74.1,518.0" fill="#fff" stroke="#5aaaa0" stroke-width="0.7" stroke-linejoin="round"/>
<polygon points="48.3,539.2 49.1,541.3 51.3,541.4 49.6,542.8 50.2,545.0 48.3,543.8 46.4,545.0 47.0,542.8 45.3,541.4 47.5,541.3" fill="#fff" stroke="#5aaaa0" stroke-width="0.7" stroke-linejoin="round"/>
<line x1="259.0" y1="438.3" x2="265.6" y2="494.0" stroke="#d88aa0" stroke-width="0.6"/>
<line x1="231.7" y1="448.0" x2="258.0" y2="500.5" stroke="#d88aa0" stroke-width="0.6"/>
<line x1="232.8" y1="473.2" x2="250.3" y2="511.4" stroke="#d88aa0" stroke-width="0.6"/>
<line x1="243.8" y1="496.5" x2="249.2" y2="510.0" stroke="#d88aa0" stroke-width="0.6"/>
<line x1="287.4" y1="467.8" x2="271.0" y2="485.2" stroke="#8cc4c4" stroke-width="0.6"/>
<line x1="278.7" y1="490.7" x2="267.8" y2="495.0" stroke="#8cc4c4" stroke-width="0.6"/>
<line x1="268.9" y1="521.0" x2="258.0" y2="504.9" stroke="#8cc4c4" stroke-width="0.6"/>
<line x1="276.5" y1="546.4" x2="256.9" y2="507.0" stroke="#8cc4c4" stroke-width="0.6"/>
<line x1="270.0" y1="568.0" x2="253.6" y2="512.5" stroke="#8cc4c4" stroke-width="0.6"/>
<line x1="238.3" y1="514.7" x2="243.8" y2="516.2" stroke="#8cc4c4" stroke-width="0.6"/>
<line x1="231.7" y1="531.0" x2="245.9" y2="519.0" stroke="#8cc4c4" stroke-width="0.6"/>
<line x1="219.3" y1="542.4" x2="232.8" y2="572.0" stroke="#8cc4c4" stroke-width="0.6"/>
<text x="249.3" y="436.7" font-size="7" fill="#f3e2ea" text-anchor="start" font-weight="bold" font-style="normal" >L-grapN</text>
<text x="201.0" y="444.1" font-size="7" fill="#f3e2ea" text-anchor="start" font-weight="bold" font-style="normal" >L-multi-N</text>
<text x="285.6" y="467.8" font-size="7" fill="#d2e4f5" text-anchor="start" font-weight="bold" font-style="normal" >M-grapN</text>
<text x="201.0" y="471.3" font-size="7" fill="#f3e2ea" text-anchor="start" font-weight="bold" font-style="normal" >L-carbonyl</text>
<text x="278.6" y="492.5" font-size="7" fill="#d2e4f5" text-anchor="start" font-weight="bold" font-style="normal" >M-carbonyl</text>
<text x="201.0" y="497.7" font-size="7" fill="#f3e2ea" text-anchor="start" font-weight="bold" font-style="normal" >L-cyclic ether</text>
<text x="201.0" y="514.7" font-size="7" fill="#eef3f3" text-anchor="start" font-weight="bold" font-style="normal" >S-carbonyl</text>
<text x="269.8" y="526.0" font-size="7" fill="#d2e4f5" text-anchor="start" font-weight="bold" font-style="normal" >M-cyclic ether</text>
<text x="201.0" y="535.8" font-size="7" fill="#eef3f3" text-anchor="start" font-weight="bold" font-style="normal" >S-multi-N</text>
<text x="276.8" y="551.7" font-size="7" fill="#d2e4f5" text-anchor="start" font-weight="bold" font-style="normal" >M-multi-N</text>
<text x="266.2" y="576.0" font-size="7" fill="#eef3f3" text-anchor="start" font-weight="bold" font-style="normal" >S-grapN</text>
<text x="219.7" y="581.3" font-size="7" fill="#eef3f3" text-anchor="start" font-weight="bold" font-style="normal" >S-cyclic ether</text>
<polygon points="270.4,483.1 271.2,485.2 273.4,485.3 271.7,486.7 272.3,488.9 270.4,487.7 268.5,488.9 269.1,486.7 267.4,485.3 269.6,485.2" fill="#fff" stroke="#2a5aa8" stroke-width="0.7" stroke-linejoin="round"/>
<polygon points="265.1,491.2 265.9,493.3 268.1,493.4 266.4,494.8 267.0,497.0 265.1,495.8 263.2,497.0 263.8,494.8 262.1,493.4 264.3,493.3" fill="#fff" stroke="#2a5aa8" stroke-width="0.7" stroke-linejoin="round"/>
<polygon points="267.3,494.0 268.1,496.1 270.3,496.2 268.6,497.6 269.2,499.8 267.3,498.6 265.4,499.8 266.0,497.6 264.3,496.2 266.5,496.1" fill="#fff" stroke="#c02050" stroke-width="0.7" stroke-linejoin="round"/>
<polygon points="261.7,496.8 262.5,498.9 264.7,499.0 263.0,500.4 263.6,502.6 261.7,501.4 259.8,502.6 260.4,500.4 258.7,499.0 260.9,498.9" fill="#fff" stroke="#c02050" stroke-width="0.7" stroke-linejoin="round"/>
<polygon points="257.9,499.9 258.7,502.0 260.9,502.1 259.2,503.5 259.8,505.7 257.9,504.5 256.0,505.7 256.6,503.5 254.9,502.1 257.1,502.0" fill="#fff" stroke="#2a5aa8" stroke-width="0.7" stroke-linejoin="round"/>
<polygon points="256.4,503.4 257.2,505.5 259.4,505.6 257.7,507.0 258.3,509.2 256.4,508.0 254.5,509.2 255.1,507.0 253.4,505.6 255.6,505.5" fill="#fff" stroke="#2a5aa8" stroke-width="0.7" stroke-linejoin="round"/>
<polygon points="250.3,508.7 251.1,510.8 253.3,510.9 251.6,512.3 252.2,514.5 250.3,513.3 248.4,514.5 249.0,512.3 247.3,510.9 249.5,510.8" fill="#fff" stroke="#c02050" stroke-width="0.7" stroke-linejoin="round"/>
<polygon points="253.6,508.7 254.4,510.8 256.6,510.9 254.9,512.3 255.5,514.5 253.6,513.3 251.7,514.5 252.3,512.3 250.6,510.9 252.8,510.8" fill="#fff" stroke="#5aaaa0" stroke-width="0.7" stroke-linejoin="round"/>
<polygon points="243.8,513.0 244.6,515.1 246.8,515.2 245.1,516.6 245.7,518.8 243.8,517.6 241.9,518.8 242.5,516.6 240.8,515.2 243.0,515.1" fill="#fff" stroke="#5aaaa0" stroke-width="0.7" stroke-linejoin="round"/>
<polygon points="245.9,515.9 246.7,518.0 248.9,518.1 247.2,519.5 247.8,521.7 245.9,520.5 244.0,521.7 244.6,519.5 242.9,518.1 245.1,518.0" fill="#fff" stroke="#5aaaa0" stroke-width="0.7" stroke-linejoin="round"/>
<polygon points="219.3,539.2 220.1,541.3 222.3,541.4 220.6,542.8 221.2,545.0 219.3,543.8 217.4,545.0 218.0,542.8 216.3,541.4 218.5,541.3" fill="#fff" stroke="#5aaaa0" stroke-width="0.7" stroke-linejoin="round"/>
<text x="340.5" y="404.0" font-size="16" fill="#000" text-anchor="start" font-weight="normal" font-style="normal" >g</text>
<path d="M371.8,590.9 C373.7,589.6 379.4,586.0 383.4,583.2 C387.4,580.4 391.6,577.6 395.7,574.0 C399.8,570.4 403.9,565.8 408.0,561.7 C412.1,557.6 416.2,553.5 420.3,549.4 C424.4,545.3 428.5,540.9 432.6,537.1 C436.7,533.3 440.8,529.7 444.9,526.4 C449.0,523.0 453.1,519.7 457.2,517.1 C461.3,514.6 465.4,512.8 469.5,511.0 C473.6,509.2 477.6,507.9 481.7,506.4 C485.8,504.8 490.2,503.1 494.0,501.8 C497.9,500.5 503.0,499.2 504.8,498.7" fill="none" stroke="#404040" stroke-width="1.0" stroke-dasharray="3.2,2.4"/>
<path d="M371.8,590.9 C373.7,589.3 379.4,585.0 383.4,581.7 C387.4,578.3 391.6,575.0 395.7,570.9 C399.8,566.8 403.9,561.7 408.0,557.1 C412.1,552.5 416.2,547.6 420.3,543.2 C424.4,538.9 428.5,534.5 432.6,531.0 C436.7,527.4 441.3,524.0 444.9,521.7 C448.5,519.4 451.5,518.4 454.1,517.1 C456.7,515.9 457.2,514.7 460.2,514.1 C463.3,513.4 467.9,513.2 472.5,513.1 C477.1,513.0 482.5,513.3 487.9,513.4 C493.3,513.6 502.0,513.7 504.8,513.8" fill="none" stroke="#2a6ab0" stroke-width="1.0" stroke-dasharray="3.2,2.4"/>
<path d="M371.9,415.1 L371.9,414.7 L371.9,415.0 L371.9,415.1 L371.9,415.3 L371.9,415.7 L372.0,417.5 L372.0,417.4 L372.0,416.1 L372.0,416.4 L372.0,416.6 L372.0,416.3 L372.0,417.3 L372.0,419.8 L372.0,420.4 L372.0,419.4 L372.0,419.4 L372.1,419.5 L372.1,419.0 L372.1,420.9 L372.1,421.3 L372.1,419.5 L372.1,421.5 L372.1,421.8 L372.1,421.0 L372.1,421.2 L372.1,423.1 L372.1,423.6 L372.1,423.2 L372.2,422.0 L372.2,421.8 L372.2,421.7 L372.2,422.6 L372.2,420.8 L372.2,423.3 L372.2,424.0 L372.2,422.7 L372.2,423.1 L372.2,425.7 L372.2,425.7 L372.3,426.5 L372.3,426.7 L372.3,427.4 L372.3,429.4 L372.3,429.0 L372.3,428.7 L372.3,426.4 L372.3,428.5 L372.4,430.9 L372.4,429.9 L372.4,430.4 L372.4,431.4 L372.4,430.8 L372.4,430.4 L372.5,431.9 L372.5,430.6 L372.5,431.5 L372.5,431.4 L372.5,430.1 L372.6,429.4 L372.6,431.7 L372.6,432.7 L372.6,433.0 L372.6,433.9 L372.7,434.3 L372.7,434.1 L372.7,434.6 L372.7,434.3 L372.7,434.6 L372.8,435.9 L372.8,436.4 L372.8,433.0 L372.8,435.1 L372.8,435.9 L372.8,437.2 L372.9,436.6 L372.9,436.4 L372.9,437.3 L372.9,437.7 L373.0,438.2 L373.0,436.8 L373.0,438.8 L373.1,440.2 L373.1,440.3 L373.1,440.9 L373.1,437.6 L373.2,437.0 L373.2,436.9 L373.2,439.8 L373.3,440.8 L373.3,441.1 L373.3,443.1 L373.4,442.2 L373.4,440.3 L373.4,440.9 L373.5,442.7 L373.5,443.7 L373.5,442.9 L373.6,442.3 L373.6,442.1 L373.6,443.5 L373.6,442.7 L373.7,442.8 L373.7,445.3 L373.7,447.6 L373.8,446.6 L373.8,448.7 L373.8,447.4 L373.9,447.6 L373.9,446.0 L373.9,447.9 L374.0,447.4 L374.0,449.2 L374.0,449.2 L374.0,448.4 L374.1,449.1 L374.1,450.7 L374.1,449.7 L374.1,450.7 L374.2,452.0 L374.2,452.6 L374.2,453.1 L374.2,453.7 L374.3,452.5 L374.3,454.0 L374.3,453.7 L374.3,453.3 L374.4,453.6 L374.4,452.8 L374.4,454.0 L374.4,452.8 L374.5,454.7 L374.5,454.6 L374.5,455.1 L374.5,455.9 L374.6,454.5 L374.6,455.0 L374.6,454.4 L374.6,454.8 L374.7,456.0 L374.7,457.1 L374.7,458.0 L374.7,456.0 L374.8,456.1 L374.8,456.7 L374.8,456.7 L374.8,458.0 L374.9,458.5 L374.9,459.0 L375.0,457.1 L375.0,459.2 L375.1,459.4 L375.1,457.4 L375.2,461.1 L375.2,462.2 L375.3,461.1 L375.4,462.1 L375.4,462.4 L375.5,463.1 L375.5,462.7 L375.6,462.9 L375.6,462.7 L375.7,462.6 L375.7,463.2 L375.8,460.8 L375.9,462.0 L376.0,462.1 L376.1,462.9 L376.2,464.2 L376.3,462.4 L376.4,463.3 L376.5,462.4 L376.6,461.9 L376.7,460.6 L376.8,460.7 L376.9,460.2 L377.0,461.2 L377.0,461.8 L377.1,462.7 L377.2,462.6 L377.3,463.3 L377.3,463.4 L377.4,463.7 L377.5,463.7 L377.6,464.9 L377.6,463.9 L377.7,464.5 L377.8,464.9 L377.9,464.7 L377.9,463.1 L378.0,464.1 L378.1,463.3 L378.1,462.0 L378.2,462.9 L378.2,463.6 L378.3,460.6 L378.4,462.9 L378.4,460.9 L378.5,461.7 L378.6,461.2 L378.6,461.0 L378.7,461.3 L378.7,461.0 L378.8,459.0 L379.0,460.5 L379.1,461.8 L379.3,462.2 L379.5,464.5 L379.7,462.7 L379.8,465.0 L380.0,464.9 L380.2,463.5 L380.4,463.8 L380.5,464.4 L380.7,463.7 L380.8,463.9 L380.9,463.9 L380.9,464.8 L381.0,464.4 L381.1,463.1 L381.2,462.0 L381.2,464.1 L381.3,464.4 L381.4,463.7 L381.5,464.5 L381.5,464.1 L381.6,463.5 L381.7,465.6 L382.0,466.7 L382.3,464.6 L382.6,465.0 L383.0,464.5 L383.3,465.5 L383.6,466.4 L383.7,467.4 L383.9,467.6 L384.0,467.0 L384.2,467.5 L384.3,466.1 L384.5,467.6 L384.6,467.9 L384.7,467.7 L384.9,468.6 L385.0,468.5 L385.2,466.5 L385.3,468.5 L385.5,470.1 L385.6,469.0 L385.9,469.2 L386.1,470.0 L386.4,469.1 L386.7,469.4 L387.0,469.5 L387.2,468.5 L387.5,468.2 L387.7,469.3 L387.9,470.0 L388.0,469.7 L388.2,469.0 L388.4,469.7 L388.6,467.7 L388.8,470.0 L389.0,473.0 L389.1,473.9 L389.3,474.1 L389.5,473.3 L389.7,471.5 L390.0,470.1 L390.2,472.7 L390.4,472.3 L390.7,471.3 L390.9,471.7 L391.2,471.7 L391.4,473.2 L391.6,471.7 L391.9,471.1 L392.1,470.1 L392.4,470.2 L392.6,472.0 L392.8,471.6 L393.1,473.2 L393.3,473.4 L393.5,473.4 L393.7,475.3 L394.0,474.6 L394.2,473.5 L394.4,474.9 L394.6,471.5 L394.9,470.2 L395.1,469.3 L395.3,469.4 L395.6,469.0 L395.8,468.4 L396.1,469.8 L396.4,470.0 L396.7,471.1 L396.9,473.0 L397.2,472.0 L397.4,471.1 L397.6,471.0 L397.9,471.2 L398.1,472.7 L398.3,472.0 L398.5,468.2 L398.8,469.3 L399.0,469.7 L399.2,470.0 L399.4,470.9 L399.5,470.5 L399.7,469.5 L399.9,471.1 L400.1,472.0 L400.2,471.8 L400.4,471.5 L400.6,472.3 L400.8,471.6 L400.9,472.8 L401.1,473.8 L401.3,472.2 L401.5,472.5 L401.8,472.6 L402.0,472.1 L402.2,472.9 L402.4,475.4 L402.7,472.8 L402.9,473.1 L403.1,474.0 L403.4,474.5 L403.7,473.3 L404.1,472.8 L404.4,474.2 L404.7,474.0 L405.0,476.3 L405.2,475.3 L405.4,475.6 L405.7,474.8 L405.9,475.2 L406.1,475.8 L406.3,476.5 L406.6,476.3 L406.8,477.6 L407.0,476.3 L407.2,475.5 L407.5,477.0 L407.7,476.2 L407.9,477.1 L408.2,478.1 L408.4,478.7 L408.7,477.0 L408.9,477.8 L409.1,479.3 L409.3,478.7 L409.6,477.1 L409.8,478.3 L410.0,478.4 L410.2,478.3 L410.5,480.6 L410.7,483.2 L410.9,482.4 L411.1,482.7 L411.4,480.5 L411.6,481.3 L411.9,483.8 L412.1,483.2 L412.3,482.8 L412.6,480.8 L412.8,478.3 L413.0,479.0 L413.3,481.8 L413.5,481.3 L413.8,480.5 L414.0,481.5 L414.2,481.1 L414.5,481.7 L414.7,480.6 L414.8,480.4 L415.0,482.7 L415.1,481.1 L415.3,481.3 L415.4,483.9 L415.6,484.0 L415.7,483.2 L415.8,484.7 L416.0,483.7 L416.1,483.6 L416.3,483.0 L416.4,481.3 L416.6,483.4 L416.7,483.0 L416.9,484.9 L417.1,485.2 L417.3,483.8 L417.5,482.4 L417.8,482.4 L418.0,483.6 L418.2,481.5 L418.4,482.6 L418.6,483.2 L418.7,482.6 L418.9,481.1 L419.0,480.2 L419.2,481.4 L419.3,483.4 L419.5,483.3 L419.6,485.2 L419.7,485.4 L419.9,485.1 L420.0,488.3 L420.2,484.4 L420.3,485.5 L420.5,486.1 L420.6,485.4 L420.7,487.0 L420.9,486.4 L421.0,484.8 L421.1,485.6 L421.3,485.6 L421.4,486.6 L421.6,486.7 L421.7,488.2 L421.8,489.8 L422.0,489.5 L422.1,492.0 L422.2,491.3 L422.4,489.2 L422.5,489.5 L422.6,490.9 L422.8,488.5 L422.9,489.5 L423.1,490.6 L423.2,490.4 L423.4,490.4 L423.5,490.2 L423.6,493.0 L423.8,492.7 L423.9,492.6 L424.1,493.8 L424.2,494.1 L424.4,495.5 L424.5,494.6 L424.7,493.8 L425.0,493.1 L425.2,493.7 L425.4,491.9 L425.7,492.1 L425.9,493.3 L426.2,492.5 L426.4,493.1 L426.5,493.1 L426.5,494.9 L426.6,494.5 L426.6,493.9 L426.7,488.9 L426.8,490.0 L426.8,489.2 L426.9,488.4 L426.9,490.2 L427.0,491.3 L427.1,490.4 L427.1,489.0 L427.2,487.3 L427.2,487.6 L427.3,488.6 L427.4,488.3 L427.4,487.9 L427.5,487.6 L427.6,484.1 L427.6,485.2 L427.7,483.3 L427.7,484.3 L427.8,483.7 L427.9,482.8 L427.9,482.8 L428.0,482.5 L428.0,484.6 L428.1,483.4 L428.2,484.1 L428.2,483.8 L428.3,483.5 L428.3,480.9 L428.4,481.1 L428.6,481.1 L428.9,480.7 L429.1,480.5 L429.4,480.3 L429.6,481.5 L429.8,482.1 L430.1,482.0 L430.3,480.8 L430.4,481.2 L430.6,479.4 L430.7,480.7 L430.9,481.4 L431.0,482.1 L431.2,482.5 L431.3,482.7 L431.4,482.6 L431.6,481.2 L431.7,482.2 L431.9,483.2 L432.0,483.1 L432.2,480.2 L432.3,480.3 L432.5,484.4 L432.8,485.4 L433.0,484.8 L433.2,482.7 L433.5,484.0 L433.7,484.2 L434.0,484.3 L434.2,484.6 L434.3,486.1 L434.5,487.1 L434.6,487.5 L434.7,487.4 L434.9,489.1 L435.0,487.2 L435.1,488.9 L435.3,489.3 L435.4,488.8 L435.5,487.7 L435.7,488.1 L435.8,489.7 L436.0,489.5 L436.1,489.0 L436.2,489.1 L436.4,491.6 L436.5,491.9 L436.6,491.4 L436.8,490.7 L436.9,489.6 L437.1,489.9 L437.3,490.3 L437.6,490.3 L437.8,489.9 L438.0,490.5 L438.2,490.5 L438.5,490.1 L438.7,489.5 L438.9,489.8 L439.0,490.7 L439.1,489.8 L439.2,488.7 L439.3,489.6 L439.4,489.5 L439.5,489.1 L439.6,486.7 L439.7,487.6 L439.8,486.8 L439.9,486.6 L439.9,485.8 L440.0,484.8 L440.1,487.4 L440.2,486.6 L440.3,486.7 L440.4,486.1 L440.5,485.3 L440.6,484.6 L440.7,485.6 L440.8,485.3 L440.9,483.9 L441.1,484.5 L441.2,483.9 L441.3,481.8 L441.5,481.6 L441.6,480.8 L441.7,480.2 L441.9,481.2 L442.0,481.5 L442.1,483.1 L442.3,480.5 L442.4,479.8 L442.5,479.9 L442.7,478.6 L442.8,480.5 L442.9,479.7 L443.1,479.3 L443.2,479.9 L443.3,477.6 L443.3,477.8 L443.4,478.1 L443.4,481.4 L443.5,480.6 L443.5,479.0 L443.6,480.9 L443.6,479.7 L443.7,481.8 L443.7,482.0 L443.8,483.6 L443.8,483.9 L443.9,484.0 L443.9,484.9 L444.0,485.3 L444.0,485.0 L444.1,483.8 L444.1,483.0 L444.2,484.1 L444.2,486.6 L444.3,484.2 L444.3,485.3 L444.4,484.1 L444.4,485.6 L444.5,486.5 L444.5,485.2 L444.6,485.3 L444.6,486.1 L444.7,487.2 L444.8,486.6 L445.0,487.9 L445.1,487.3 L445.3,488.7 L445.4,488.6 L445.6,486.9 L445.7,485.1 L445.8,485.1 L446.0,486.3 L446.1,487.3 L446.3,486.2 L446.4,485.0 L446.6,484.0 L446.7,483.7 L446.8,480.8 L447.0,481.5 L447.1,482.6 L447.2,483.5 L447.3,484.9 L447.5,486.2 L447.6,485.1 L447.6,483.2 L447.7,483.8 L447.7,484.1 L447.8,482.6 L447.8,482.7 L447.8,484.3 L447.9,484.0 L447.9,484.2 L447.9,485.4 L448.0,484.5 L448.0,487.0 L448.1,487.7 L448.1,487.4 L448.1,485.7 L448.2,487.1 L448.2,488.5 L448.3,487.1 L448.3,488.2 L448.3,486.9 L448.4,488.2 L448.4,487.8 L448.4,489.1 L448.5,487.7 L448.5,488.9 L448.6,490.3 L448.6,490.5 L448.6,491.2 L448.7,490.4 L448.7,491.7 L448.8,492.1 L448.8,491.4 L448.8,490.8 L448.9,492.7 L448.9,493.1 L448.9,493.4 L449.0,494.9 L449.0,493.4 L449.1,493.1 L449.1,494.3 L449.1,495.8 L449.2,494.6 L449.2,494.6 L449.3,495.5 L449.3,493.7 L449.3,493.0 L449.4,492.9 L449.4,493.8 L449.4,496.6 L449.5,497.2 L449.5,495.7 L449.6,496.3 L449.6,497.9 L449.7,497.6 L449.7,496.3 L449.8,498.6 L449.9,497.9 L450.0,499.2 L450.0,499.4 L450.1,501.0 L450.2,500.1 L450.3,500.9 L450.3,501.2 L450.4,501.6 L450.5,500.4 L450.6,502.9 L450.6,504.0 L450.7,505.0 L450.8,505.5 L450.8,505.0 L450.9,505.5 L451.0,504.7 L451.1,505.7 L451.1,506.0 L451.2,507.0 L451.3,505.5 L451.4,507.2 L451.4,507.2 L451.5,507.6 L451.6,505.7 L451.7,506.7 L451.7,509.2 L451.8,509.8 L451.9,507.0 L452.0,507.7 L452.0,507.9 L452.1,507.1 L452.2,507.0 L452.3,508.5 L452.3,509.3 L452.4,508.9 L452.5,510.1 L452.6,511.4 L452.7,512.0 L452.7,510.9 L452.8,509.5 L452.9,510.4 L453.0,509.5 L453.0,511.7 L453.1,511.9 L453.2,511.6 L453.3,511.7 L453.3,512.5 L453.4,514.6 L453.5,514.8 L453.6,513.0 L453.8,515.1 L453.9,514.3 L454.0,513.0 L454.2,511.8 L454.3,514.5 L454.4,515.1 L454.6,516.6 L454.7,516.4 L454.9,516.9 L455.0,517.0 L455.1,517.3 L455.3,517.7 L455.4,517.6 L455.7,517.0 L456.0,517.9 L456.3,516.5 L456.5,518.0 L456.8,517.8 L457.1,517.2 L457.4,517.5 L457.6,516.2 L457.7,520.3 L457.9,520.2 L458.1,519.7 L458.3,518.5 L458.4,521.1 L458.6,521.9 L458.8,521.6 L459.0,522.2 L459.1,522.7 L459.3,521.3 L459.4,520.5 L459.6,521.3 L459.7,522.1 L459.9,521.1 L460.0,522.7 L460.2,524.2 L460.3,522.9 L460.4,523.1 L460.6,522.4 L460.7,523.2 L460.9,523.6 L461.0,523.1 L461.2,522.8 L461.3,522.8 L461.4,522.8 L461.6,522.1 L461.7,522.2 L461.8,521.9 L462.0,521.9 L462.1,522.5 L462.2,520.3 L462.4,520.5 L462.5,519.3 L462.7,520.2 L462.8,521.8 L462.9,522.7 L463.1,520.6 L463.2,520.6 L463.3,521.1 L463.4,520.2 L463.5,520.3 L463.6,521.1 L463.7,521.1 L463.8,521.5 L463.9,522.7 L464.0,522.8 L464.1,523.4 L464.2,523.4 L464.3,525.2 L464.4,525.8 L464.5,525.8 L464.6,525.1 L464.7,524.9 L464.8,525.4 L464.9,524.2 L465.0,524.9 L465.1,525.0 L465.2,527.0 L465.3,529.2 L465.5,527.8 L465.6,526.6 L465.7,525.8 L465.9,527.3 L466.0,527.7 L466.1,526.6 L466.3,527.0 L466.4,526.8 L466.6,526.6 L466.7,526.8 L466.8,524.8 L467.0,525.6 L467.1,523.3 L467.2,523.4 L467.4,523.9 L467.5,522.5 L467.6,524.8 L467.8,524.0 L467.9,524.2 L468.1,526.1 L468.2,527.3 L468.3,525.9 L468.5,525.1 L468.6,525.5 L468.7,527.0 L468.9,524.9 L469.0,525.8 L469.2,524.5 L469.4,525.7 L469.7,524.8 L469.9,524.4 L470.1,526.4 L470.3,527.1 L470.6,529.2 L470.8,528.6 L471.0,528.3 L471.1,529.1 L471.2,531.1 L471.3,529.6 L471.4,530.4 L471.5,529.8 L471.6,529.8 L471.7,529.3 L471.8,530.9 L471.9,531.8 L471.9,533.2 L472.0,534.2 L472.1,534.6 L472.2,534.2 L472.3,533.5 L472.4,534.1 L472.5,533.5 L472.6,533.5 L472.7,534.0 L472.8,534.0 L472.9,533.4 L473.1,534.1 L473.3,533.6 L473.6,533.4 L473.8,531.8 L474.0,533.9 L474.2,535.4 L474.5,536.0 L474.7,536.1 L474.9,537.5 L475.0,536.5 L475.1,535.8 L475.2,536.8 L475.3,537.4 L475.4,534.9 L475.5,534.0 L475.6,534.4 L475.7,532.5 L475.8,533.3 L475.9,534.3 L475.9,532.0 L476.0,532.0 L476.1,530.6 L476.2,529.4 L476.3,530.3 L476.4,528.4 L476.5,528.9 L476.6,529.3 L476.7,530.1 L476.8,530.7 L476.9,530.7 L477.0,530.9 L477.0,530.2 L477.1,529.2 L477.2,528.8 L477.3,531.0 L477.3,527.9 L477.4,528.6 L477.5,529.0 L477.6,527.0 L477.6,527.7 L477.7,526.2 L477.8,526.0 L477.9,526.4 L478.0,525.1 L478.0,526.5 L478.1,527.1 L478.2,526.8 L478.3,525.1 L478.3,525.7 L478.4,527.3 L478.5,527.1 L478.6,525.8 L478.6,524.4 L478.7,524.2 L478.8,524.3 L479.0,526.3 L479.1,523.9 L479.3,523.4 L479.5,522.4 L479.7,521.3 L479.8,521.1 L480.0,520.1 L480.2,520.3 L480.4,519.1 L480.5,520.4 L480.7,519.6 L480.8,520.1 L480.9,521.8 L481.1,521.1 L481.2,521.5 L481.3,521.3 L481.4,522.4 L481.5,521.8 L481.6,520.8 L481.8,522.1 L481.9,521.6 L482.0,522.2 L482.1,521.9 L482.2,520.9 L482.3,522.5 L482.5,522.5 L482.6,522.9 L482.7,525.4 L482.8,526.2 L482.9,527.4 L483.0,526.6 L483.1,527.4 L483.2,527.9 L483.3,525.5 L483.4,528.0 L483.5,529.4 L483.6,529.0 L483.6,528.1 L483.7,528.6 L483.8,528.8 L483.9,528.6 L484.0,529.3 L484.1,531.4 L484.2,530.8 L484.3,530.1 L484.4,530.0 L484.5,530.2 L484.6,530.2 L484.7,529.2 L484.9,530.3 L485.0,531.4 L485.2,532.3 L485.3,532.9 L485.5,532.2 L485.6,533.3 L485.7,532.8 L485.9,530.7 L486.0,533.0 L486.2,532.3 L486.3,535.1 L486.5,534.0 L486.6,535.3 L486.7,536.9 L486.9,534.1 L487.0,532.8 L487.1,534.2 L487.3,533.9 L487.4,536.2 L487.6,536.1 L487.7,536.6 L487.8,537.8 L488.0,537.7 L488.1,537.0 L488.2,536.7 L488.4,535.4 L488.5,536.7 L488.6,537.3 L488.8,537.6 L488.9,538.3 L489.0,538.7 L489.2,539.5 L489.3,539.4 L489.4,541.6 L489.6,542.0 L489.7,541.2 L489.9,542.6 L490.0,542.5 L490.1,542.7 L490.3,543.7 L490.4,544.2 L490.5,543.5 L490.5,541.3 L490.6,541.1 L490.6,542.3 L490.7,542.3 L490.7,541.0 L490.8,541.3 L490.8,541.7 L490.9,542.0 L490.9,540.5 L491.0,539.1 L491.0,538.8 L491.1,541.6 L491.1,541.9 L491.2,540.4 L491.2,538.1 L491.3,537.7 L491.3,538.4 L491.4,537.8 L491.4,536.2 L491.5,536.7 L491.5,537.7 L491.6,535.8 L491.6,534.1 L491.7,532.7 L491.7,532.1 L491.8,531.2 L491.8,531.8 L491.9,532.4 L491.9,531.3 L492.0,532.4 L492.0,532.2 L492.1,530.0 L492.1,530.4 L492.2,531.5 L492.2,530.6 L492.3,531.8 L492.3,532.1 L492.4,529.3 L492.4,530.5 L492.5,531.7 L492.5,532.6 L492.6,532.5 L492.6,531.9 L492.6,530.5 L492.7,531.3 L492.7,533.7 L492.8,533.7 L492.8,533.8 L492.9,532.7 L492.9,533.2 L492.9,534.2 L493.0,533.8 L493.0,535.9 L493.1,538.3 L493.1,536.5 L493.1,536.8 L493.2,537.9 L493.2,537.1 L493.3,536.6 L493.3,538.0 L493.4,537.7 L493.4,538.1 L493.4,538.9 L493.5,538.1 L493.5,538.7 L493.6,537.8 L493.6,535.5 L493.6,536.5 L493.7,538.7 L493.7,539.9 L493.8,540.8 L493.8,540.4 L493.8,543.8 L493.9,542.9 L493.9,544.0 L494.0,545.0 L494.0,543.8 L494.1,542.2 L494.1,542.3 L494.1,543.3 L494.2,545.0 L494.2,544.5 L494.3,544.3 L494.3,544.8 L494.4,543.9 L494.5,543.9 L494.6,543.8 L494.7,542.7 L494.8,542.6 L494.9,541.5 L495.0,540.9 L495.1,541.7 L495.2,542.3 L495.3,541.7 L495.4,541.9 L495.5,541.4 L495.6,540.2 L495.7,541.0 L495.8,540.7 L495.9,538.7 L496.0,541.1 L496.1,539.3 L496.2,537.9 L496.3,538.5 L496.4,539.7 L496.4,539.0 L496.5,541.5 L496.6,541.6 L496.7,541.7 L496.7,542.0 L496.8,541.2 L496.9,541.3 L497.0,541.6 L497.0,542.0 L497.1,543.0 L497.2,543.6 L497.2,544.0 L497.3,544.0 L497.4,543.2 L497.5,544.5 L497.5,544.6 L497.6,544.0 L497.7,545.5 L497.8,544.6 L497.8,546.5 L497.9,548.3 L498.0,549.5 L498.1,548.4 L498.1,547.9 L498.2,546.8 L498.3,545.8 L498.5,547.1 L498.6,547.1 L498.8,546.9 L498.9,547.7 L499.1,549.8 L499.2,550.7 L499.3,549.9 L499.5,550.0 L499.6,551.3 L499.8,552.3 L499.9,551.9 L500.1,552.5 L500.2,552.1 L500.2,551.8 L500.3,551.6 L500.3,551.6 L500.4,549.0 L500.4,547.0 L500.5,547.9 L500.5,547.7 L500.5,547.0 L500.6,548.2 L500.6,547.0 L500.7,545.9 L500.7,545.7 L500.7,546.7 L500.8,544.8 L500.8,545.0 L500.9,545.5 L500.9,546.2 L501.0,545.4 L501.0,544.6 L501.0,543.0 L501.1,542.5 L501.1,543.8 L501.2,543.5 L501.2,541.3 L501.3,542.0 L501.3,540.7 L501.3,541.1 L501.4,542.0 L501.4,543.6 L501.5,542.1 L501.5,540.7 L501.6,538.6 L501.6,539.6 L501.6,538.9 L501.7,538.0 L501.7,536.6 L501.8,536.9 L501.8,537.5 L501.8,538.6 L501.9,537.9 L501.9,537.4 L502.0,535.8 L502.0,537.5 L502.1,536.4 L502.1,536.4 L502.1,536.9 L502.2,537.8 L502.2,538.5 L502.3,537.1 L502.3,538.4 L502.4,538.9 L502.4,538.4 L502.5,541.0 L502.5,541.3 L502.5,542.7 L502.6,541.8 L502.6,542.4 L502.7,541.5 L502.7,539.5 L502.8,540.7 L502.8,541.9 L502.9,542.1 L502.9,543.6 L502.9,543.7 L503.0,544.6 L503.0,544.8 L503.1,544.4 L503.1,543.7 L503.2,544.4 L503.2,544.0 L503.3,544.9 L503.3,545.6 L503.3,545.6 L503.4,544.7 L503.4,544.1 L503.5,544.6 L503.5,546.0 L503.6,546.2 L503.6,545.9 L503.7,547.8 L503.7,545.6 L503.7,548.0 L503.8,546.6 L503.8,548.3 L503.9,547.8 L503.9,549.7 L504.0,551.5 L504.0,551.2 L504.1,550.7 L504.1,549.1 L504.1,551.7 L504.1,552.5 L504.0,553.5 L504.0,553.4 L503.9,552.2 L503.9,551.0 L503.8,551.4 L503.8,550.5 L503.7,552.0 L503.7,549.6 L503.7,551.3 L503.6,549.4 L503.6,549.9 L503.5,548.5 L503.5,546.8 L503.4,546.4 L503.4,548.3 L503.3,548.5 L503.3,548.7 L503.3,549.0 L503.2,548.3 L503.2,548.5 L503.1,547.4 L503.1,547.0 L503.0,547.1 L503.0,547.1 L502.9,546.4 L502.9,547.0 L502.9,545.3 L502.8,544.6 L502.8,543.8 L502.7,542.1 L502.7,543.7 L502.6,545.1 L502.6,543.5 L502.5,545.1 L502.5,544.5 L502.5,543.5 L502.4,541.3 L502.4,540.9 L502.3,541.1 L502.3,539.6 L502.2,541.1 L502.2,540.5 L502.1,540.2 L502.1,539.1 L502.1,540.0 L502.0,540.1 L502.0,538.3 L501.9,540.3 L501.9,540.9 L501.8,541.2 L501.8,541.1 L501.8,539.5 L501.7,539.9 L501.7,542.0 L501.6,542.3 L501.6,542.3 L501.6,541.4 L501.5,543.5 L501.5,545.4 L501.4,547.4 L501.4,546.0 L501.3,544.6 L501.3,544.1 L501.3,545.0 L501.2,544.5 L501.2,545.8 L501.1,545.8 L501.1,545.4 L501.0,546.2 L501.0,547.4 L501.0,548.8 L500.9,549.0 L500.9,548.7 L500.8,548.2 L500.8,548.0 L500.7,550.4 L500.7,548.3 L500.7,548.8 L500.6,549.4 L500.6,550.5 L500.5,550.2 L500.5,552.0 L500.5,551.8 L500.4,551.2 L500.4,552.8 L500.3,554.6 L500.3,554.9 L500.2,554.4 L500.2,554.8 L500.1,555.0 L499.9,555.2 L499.8,554.8 L499.6,554.3 L499.5,552.1 L499.3,551.7 L499.2,552.5 L499.1,552.0 L498.9,549.8 L498.8,549.8 L498.6,549.5 L498.5,549.9 L498.3,549.0 L498.2,549.2 L498.1,550.1 L498.1,550.6 L498.0,552.1 L497.9,549.9 L497.8,548.6 L497.8,547.2 L497.7,547.6 L497.6,547.3 L497.5,548.0 L497.5,547.7 L497.4,545.7 L497.3,546.9 L497.2,547.0 L497.2,546.4 L497.1,546.4 L497.0,544.3 L497.0,543.7 L496.9,543.9 L496.8,544.2 L496.7,544.2 L496.7,543.9 L496.6,543.2 L496.5,543.6 L496.4,541.4 L496.4,541.9 L496.3,540.0 L496.2,539.9 L496.1,542.3 L496.0,543.8 L495.9,542.4 L495.8,543.0 L495.7,542.8 L495.6,542.6 L495.5,545.2 L495.4,544.2 L495.3,544.6 L495.2,546.3 L495.1,544.7 L495.0,543.4 L494.9,544.1 L494.8,544.8 L494.7,544.2 L494.6,545.8 L494.5,547.0 L494.4,546.5 L494.3,547.3 L494.3,546.0 L494.2,546.2 L494.2,547.3 L494.1,545.3 L494.1,545.1 L494.1,545.5 L494.0,546.7 L494.0,546.8 L493.9,545.5 L493.9,545.0 L493.8,545.4 L493.8,542.6 L493.8,543.6 L493.7,542.3 L493.7,542.4 L493.6,540.4 L493.6,539.6 L493.6,541.5 L493.5,541.8 L493.5,542.0 L493.4,541.6 L493.4,540.1 L493.4,540.7 L493.3,540.0 L493.3,539.5 L493.2,538.7 L493.2,540.1 L493.1,539.6 L493.1,538.3 L493.1,539.7 L493.0,537.7 L493.0,535.9 L492.9,535.9 L492.9,535.4 L492.9,536.1 L492.8,535.9 L492.8,536.4 L492.7,536.0 L492.7,534.9 L492.6,534.2 L492.6,535.2 L492.6,535.3 L492.5,535.9 L492.5,534.3 L492.4,532.6 L492.4,532.0 L492.3,534.0 L492.3,533.7 L492.2,532.8 L492.2,533.3 L492.1,532.6 L492.1,532.6 L492.0,534.0 L492.0,534.4 L491.9,534.3 L491.9,535.4 L491.8,535.0 L491.8,534.2 L491.7,534.9 L491.7,535.3 L491.6,536.8 L491.6,537.7 L491.5,540.4 L491.5,540.3 L491.4,540.1 L491.4,540.7 L491.3,540.7 L491.3,541.3 L491.2,541.3 L491.2,543.0 L491.1,544.1 L491.1,543.8 L491.0,541.1 L491.0,542.3 L490.9,543.6 L490.9,544.1 L490.8,544.3 L490.8,543.5 L490.7,542.9 L490.7,544.4 L490.6,545.2 L490.6,543.4 L490.5,544.9 L490.5,546.9 L490.4,546.8 L490.3,546.4 L490.1,545.6 L490.0,545.1 L489.9,545.8 L489.7,544.9 L489.6,545.3 L489.4,544.0 L489.3,542.2 L489.2,541.2 L489.0,540.6 L488.9,540.1 L488.8,540.2 L488.6,540.1 L488.5,540.2 L488.4,539.4 L488.2,540.9 L488.1,540.9 L488.0,540.5 L487.8,539.9 L487.7,539.2 L487.6,539.0 L487.4,539.9 L487.3,538.6 L487.1,538.0 L487.0,536.1 L486.9,536.8 L486.7,538.8 L486.6,538.0 L486.5,536.5 L486.3,537.2 L486.2,535.4 L486.0,535.6 L485.9,534.2 L485.7,535.5 L485.6,536.1 L485.5,533.9 L485.3,535.2 L485.2,534.8 L485.0,533.8 L484.9,533.7 L484.7,532.6 L484.6,532.8 L484.5,532.8 L484.4,533.7 L484.3,532.9 L484.2,533.9 L484.1,534.3 L484.0,532.4 L483.9,531.7 L483.8,531.3 L483.7,531.2 L483.6,532.0 L483.6,532.6 L483.5,531.4 L483.4,530.7 L483.3,529.1 L483.2,531.2 L483.1,529.7 L483.0,529.9 L482.9,529.7 L482.8,529.1 L482.7,529.1 L482.6,526.4 L482.5,526.1 L482.3,525.5 L482.2,524.5 L482.1,524.9 L482.0,524.9 L481.9,524.4 L481.8,524.9 L481.6,523.5 L481.5,523.7 L481.4,524.9 L481.3,523.6 L481.2,524.6 L481.1,524.1 L480.9,525.1 L480.8,522.9 L480.7,523.0 L480.5,523.7 L480.4,522.4 L480.2,523.3 L480.0,523.2 L479.8,524.2 L479.7,524.3 L479.5,525.9 L479.3,527.1 L479.1,527.6 L479.0,528.1 L478.8,527.0 L478.7,526.9 L478.6,527.9 L478.6,530.5 L478.5,531.1 L478.4,529.9 L478.3,529.1 L478.3,528.4 L478.2,530.0 L478.1,530.2 L478.0,530.0 L478.0,527.7 L477.9,529.2 L477.8,528.8 L477.7,529.3 L477.6,530.6 L477.6,531.2 L477.5,533.6 L477.4,532.6 L477.3,532.1 L477.3,534.7 L477.2,533.0 L477.1,531.8 L477.0,532.8 L477.0,533.5 L476.9,533.1 L476.8,533.5 L476.7,532.8 L476.6,531.1 L476.5,531.5 L476.4,531.3 L476.3,533.2 L476.2,531.6 L476.1,534.0 L476.0,535.6 L475.9,536.1 L475.9,537.5 L475.8,536.9 L475.7,536.9 L475.6,536.5 L475.5,536.1 L475.4,537.0 L475.3,540.6 L475.2,540.4 L475.1,537.9 L475.0,538.9 L474.9,539.1 L474.7,538.2 L474.5,539.2 L474.2,538.7 L474.0,537.3 L473.8,535.8 L473.6,537.3 L473.3,536.6 L473.1,537.2 L472.9,537.6 L472.8,538.6 L472.7,536.6 L472.6,536.1 L472.5,536.9 L472.4,537.9 L472.3,536.8 L472.2,536.7 L472.1,536.6 L472.0,536.6 L471.9,536.3 L471.9,534.4 L471.8,533.0 L471.7,532.4 L471.6,532.0 L471.5,533.2 L471.4,534.2 L471.3,532.4 L471.2,533.5 L471.1,531.2 L471.0,530.5 L470.8,531.7 L470.6,531.8 L470.3,528.9 L470.1,529.0 L469.9,527.0 L469.7,528.3 L469.4,528.6 L469.2,528.4 L469.0,529.9 L468.9,527.9 L468.7,529.2 L468.6,528.5 L468.5,527.4 L468.3,527.3 L468.2,529.0 L468.1,528.0 L467.9,527.1 L467.8,527.8 L467.6,527.3 L467.5,525.7 L467.4,528.1 L467.2,525.9 L467.1,526.5 L467.0,527.2 L466.8,526.9 L466.7,529.0 L466.6,529.5 L466.4,528.5 L466.3,529.3 L466.1,529.5 L466.0,531.1 L465.9,529.9 L465.7,529.1 L465.6,530.2 L465.5,530.2 L465.3,531.4 L465.2,528.5 L465.1,527.2 L465.0,527.8 L464.9,527.3 L464.8,529.4 L464.7,527.8 L464.6,528.3 L464.5,529.6 L464.4,530.5 L464.3,529.7 L464.2,527.1 L464.1,526.2 L464.0,525.3 L463.9,525.5 L463.8,524.8 L463.7,523.5 L463.6,524.9 L463.5,523.9 L463.4,523.5 L463.3,524.3 L463.2,523.6 L463.1,522.3 L462.9,525.0 L462.8,524.3 L462.7,522.8 L462.5,522.5 L462.4,523.0 L462.2,523.3 L462.1,525.3 L462.0,524.5 L461.8,524.2 L461.7,524.6 L461.6,524.5 L461.4,525.3 L461.3,526.3 L461.2,525.6 L461.0,527.1 L460.9,527.3 L460.7,526.9 L460.6,526.0 L460.4,526.4 L460.3,524.7 L460.2,526.3 L460.0,524.6 L459.9,522.7 L459.7,523.8 L459.6,523.7 L459.4,523.4 L459.3,523.9 L459.1,524.6 L459.0,524.5 L458.8,523.0 L458.6,523.8 L458.4,523.1 L458.3,520.8 L458.1,522.0 L457.9,521.7 L457.7,522.0 L457.6,518.7 L457.4,520.8 L457.1,519.3 L456.8,520.4 L456.5,519.9 L456.3,518.4 L456.0,520.2 L455.7,520.3 L455.4,519.0 L455.3,519.5 L455.1,519.5 L455.0,519.3 L454.9,519.2 L454.7,518.1 L454.6,518.2 L454.4,517.1 L454.3,517.6 L454.2,514.5 L454.0,515.0 L453.9,516.8 L453.8,519.0 L453.6,516.8 L453.5,517.6 L453.4,517.8 L453.3,515.9 L453.3,515.2 L453.2,516.3 L453.1,515.4 L453.0,516.1 L453.0,514.0 L452.9,514.7 L452.8,513.0 L452.7,512.9 L452.7,514.0 L452.6,514.1 L452.5,513.2 L452.4,512.5 L452.3,511.6 L452.3,511.1 L452.2,510.1 L452.1,509.9 L452.0,510.2 L452.0,510.1 L451.9,510.0 L451.8,512.1 L451.7,512.0 L451.7,509.1 L451.6,509.2 L451.5,511.1 L451.4,510.0 L451.4,510.5 L451.3,508.9 L451.2,509.7 L451.1,508.2 L451.1,508.0 L451.0,508.1 L450.9,508.4 L450.8,508.1 L450.8,509.1 L450.7,506.8 L450.6,506.5 L450.6,504.7 L450.5,503.1 L450.4,503.4 L450.3,503.7 L450.3,504.9 L450.2,504.0 L450.1,504.6 L450.0,502.6 L450.0,501.2 L449.9,500.7 L449.8,501.2 L449.7,498.1 L449.7,499.6 L449.6,500.0 L449.6,498.9 L449.5,498.9 L449.5,500.3 L449.4,498.9 L449.4,496.4 L449.4,496.2 L449.3,495.6 L449.3,495.8 L449.3,497.4 L449.2,496.5 L449.2,497.5 L449.1,497.8 L449.1,497.3 L449.1,495.1 L449.0,495.6 L449.0,496.9 L448.9,496.4 L448.9,496.6 L448.9,496.2 L448.8,494.4 L448.8,496.0 L448.8,496.3 L448.7,496.2 L448.7,494.0 L448.6,493.7 L448.6,492.9 L448.6,493.2 L448.5,491.9 L448.5,490.4 L448.4,492.5 L448.4,491.3 L448.4,491.6 L448.3,489.9 L448.3,491.2 L448.3,489.5 L448.2,491.7 L448.2,489.4 L448.1,488.0 L448.1,489.2 L448.1,490.3 L448.0,489.2 L448.0,488.0 L447.9,488.3 L447.9,487.1 L447.9,486.7 L447.8,486.4 L447.8,485.3 L447.8,485.6 L447.7,488.1 L447.7,487.1 L447.6,485.7 L447.6,487.6 L447.5,488.6 L447.3,487.1 L447.2,486.4 L447.1,485.0 L447.0,485.2 L446.8,484.0 L446.7,487.0 L446.6,486.8 L446.4,487.6 L446.3,488.2 L446.1,489.3 L446.0,488.7 L445.8,489.0 L445.7,488.7 L445.6,490.2 L445.4,491.0 L445.3,491.5 L445.1,490.5 L445.0,490.4 L444.8,489.4 L444.7,490.0 L444.6,488.4 L444.6,487.9 L444.5,489.0 L444.5,490.1 L444.4,489.7 L444.4,488.8 L444.3,489.5 L444.3,487.3 L444.2,488.9 L444.2,487.5 L444.1,485.4 L444.1,486.5 L444.0,488.3 L444.0,488.6 L443.9,489.1 L443.9,487.4 L443.8,487.8 L443.8,486.0 L443.7,483.6 L443.7,483.1 L443.6,481.3 L443.6,482.2 L443.5,480.7 L443.5,482.9 L443.4,484.5 L443.4,481.3 L443.3,480.6 L443.3,480.4 L443.2,482.8 L443.1,482.4 L442.9,482.8 L442.8,483.1 L442.7,481.2 L442.5,481.9 L442.4,482.1 L442.3,482.7 L442.1,485.4 L442.0,484.5 L441.9,484.2 L441.7,483.3 L441.6,484.4 L441.5,486.0 L441.3,485.4 L441.2,487.8 L441.1,487.1 L440.9,486.6 L440.8,487.6 L440.7,489.2 L440.6,488.4 L440.5,489.4 L440.4,490.0 L440.3,489.6 L440.2,490.4 L440.1,490.7 L440.0,488.6 L439.9,488.7 L439.9,490.0 L439.8,491.4 L439.7,491.2 L439.6,491.6 L439.5,493.6 L439.4,493.3 L439.3,493.9 L439.2,491.5 L439.1,493.1 L439.0,494.7 L438.9,494.1 L438.7,493.5 L438.5,493.2 L438.2,493.6 L438.0,492.4 L437.8,492.7 L437.6,493.7 L437.3,492.9 L437.1,491.7 L436.9,491.9 L436.8,494.2 L436.6,494.5 L436.5,494.7 L436.4,494.7 L436.2,493.6 L436.1,492.7 L436.0,493.1 L435.8,494.6 L435.7,490.6 L435.5,491.8 L435.4,492.2 L435.3,493.7 L435.1,492.8 L435.0,490.4 L434.9,493.5 L434.7,490.9 L434.6,490.1 L434.5,490.2 L434.3,488.5 L434.2,488.5 L434.0,488.4 L433.7,488.1 L433.5,488.2 L433.2,486.5 L433.0,488.3 L432.8,488.2 L432.5,488.9 L432.3,484.3 L432.2,485.2 L432.0,486.5 L431.9,485.6 L431.7,485.3 L431.6,484.4 L431.4,485.9 L431.3,486.3 L431.2,486.7 L431.0,485.8 L430.9,484.1 L430.7,483.6 L430.6,482.7 L430.4,484.2 L430.3,484.4 L430.1,483.8 L429.8,483.9 L429.6,483.6 L429.4,482.9 L429.1,483.4 L428.9,484.5 L428.6,484.9 L428.4,485.3 L428.3,484.1 L428.3,486.9 L428.2,486.5 L428.2,487.5 L428.1,486.5 L428.0,487.1 L428.0,486.5 L427.9,487.1 L427.9,487.7 L427.8,488.2 L427.7,488.5 L427.7,488.9 L427.6,489.1 L427.6,488.3 L427.5,491.1 L427.4,490.2 L427.4,491.9 L427.3,491.6 L427.2,491.5 L427.2,489.9 L427.1,492.8 L427.1,492.6 L427.0,493.3 L426.9,493.2 L426.9,493.5 L426.8,492.6 L426.8,493.7 L426.7,493.6 L426.6,496.4 L426.6,497.1 L426.5,497.4 L426.5,496.2 L426.4,496.9 L426.2,495.4 L425.9,496.1 L425.7,495.9 L425.4,495.5 L425.2,496.9 L425.0,496.5 L424.7,497.8 L424.5,497.8 L424.4,499.0 L424.2,497.8 L424.1,497.0 L423.9,495.4 L423.8,496.7 L423.6,496.9 L423.5,494.8 L423.4,495.2 L423.2,495.2 L423.1,494.8 L422.9,493.8 L422.8,492.3 L422.6,493.2 L422.5,493.2 L422.4,492.4 L422.2,493.5 L422.1,494.1 L422.0,492.7 L421.8,494.0 L421.7,491.5 L421.6,489.7 L421.4,489.4 L421.3,489.2 L421.1,488.6 L421.0,487.9 L420.9,489.1 L420.7,490.6 L420.6,489.1 L420.5,490.6 L420.3,489.6 L420.2,489.2 L420.0,491.2 L419.9,489.6 L419.7,489.0 L419.6,488.9 L419.5,486.6 L419.3,486.5 L419.2,484.7 L419.0,484.4 L418.9,485.0 L418.7,486.2 L418.6,486.1 L418.4,486.6 L418.2,487.0 L418.0,487.6 L417.8,486.8 L417.5,487.3 L417.3,488.4 L417.1,488.5 L416.9,488.7 L416.7,487.3 L416.6,486.6 L416.4,485.0 L416.3,486.9 L416.1,487.0 L416.0,486.6 L415.8,487.0 L415.7,486.7 L415.6,487.3 L415.4,486.5 L415.3,485.6 L415.1,484.5 L415.0,485.5 L414.8,484.4 L414.7,484.3 L414.5,484.8 L414.2,484.2 L414.0,484.3 L413.8,483.8 L413.5,485.3 L413.3,486.3 L413.0,483.3 L412.8,482.3 L412.6,485.9 L412.3,487.1 L412.1,487.0 L411.9,487.7 L411.6,484.7 L411.4,482.8 L411.1,485.9 L410.9,485.2 L410.7,486.3 L410.5,484.5 L410.2,482.1 L410.0,482.2 L409.8,481.3 L409.6,480.6 L409.3,481.5 L409.1,482.0 L408.9,480.6 L408.7,479.1 L408.4,481.2 L408.2,480.7 L407.9,481.2 L407.7,481.1 L407.5,481.0 L407.2,480.0 L407.0,480.5 L406.8,480.4 L406.6,479.2 L406.3,479.0 L406.1,478.1 L405.9,478.5 L405.7,477.6 L405.4,479.4 L405.2,478.6 L405.0,480.3 L404.7,478.1 L404.4,476.5 L404.1,475.8 L403.7,477.4 L403.4,477.1 L403.1,478.1 L402.9,477.2 L402.7,476.5 L402.4,478.0 L402.2,477.0 L402.0,476.9 L401.8,477.5 L401.5,476.5 L401.3,476.6 L401.1,476.5 L400.9,476.1 L400.8,474.9 L400.6,474.8 L400.4,475.3 L400.2,475.3 L400.1,474.4 L399.9,473.4 L399.7,472.3 L399.5,472.7 L399.4,474.3 L399.2,473.5 L399.0,473.5 L398.8,473.2 L398.5,473.5 L398.3,475.0 L398.1,476.4 L397.9,474.4 L397.6,473.5 L397.4,474.3 L397.2,475.7 L396.9,475.8 L396.7,474.0 L396.4,473.7 L396.1,473.2 L395.8,471.8 L395.6,472.4 L395.3,473.0 L395.1,473.1 L394.9,472.6 L394.6,475.2 L394.4,476.9 L394.2,476.4 L394.0,478.1 L393.7,478.8 L393.5,477.9 L393.3,476.7 L393.1,476.6 L392.8,476.1 L392.6,475.5 L392.4,474.8 L392.1,475.0 L391.9,475.3 L391.6,476.2 L391.4,476.2 L391.2,475.5 L390.9,475.0 L390.7,475.8 L390.4,475.9 L390.2,477.0 L390.0,474.8 L389.7,475.7 L389.5,477.5 L389.3,478.3 L389.1,477.9 L389.0,477.0 L388.8,473.7 L388.6,472.9 L388.4,474.8 L388.2,474.2 L388.0,473.0 L387.9,472.5 L387.7,471.7 L387.5,471.2 L387.2,471.6 L387.0,473.4 L386.7,472.7 L386.4,472.6 L386.1,473.5 L385.9,472.1 L385.6,471.7 L385.5,472.0 L385.3,471.1 L385.2,469.8 L385.0,472.0 L384.9,472.3 L384.7,470.8 L384.6,470.7 L384.5,470.1 L384.3,469.6 L384.2,470.3 L384.0,469.4 L383.9,470.6 L383.7,472.1 L383.6,470.1 L383.3,468.4 L383.0,466.8 L382.6,467.3 L382.3,468.1 L382.0,469.3 L381.7,469.9 L381.6,467.5 L381.5,469.0 L381.5,469.3 L381.4,467.0 L381.3,467.9 L381.2,466.8 L381.2,464.9 L381.1,466.1 L381.0,467.1 L380.9,468.3 L380.9,467.9 L380.8,468.2 L380.7,467.7 L380.5,467.9 L380.4,466.7 L380.2,467.7 L380.0,468.3 L379.8,468.9 L379.7,467.1 L379.5,468.0 L379.3,466.1 L379.1,465.3 L379.0,464.5 L378.8,463.9 L378.7,466.0 L378.7,465.2 L378.6,465.4 L378.6,464.4 L378.5,464.0 L378.4,463.3 L378.4,464.8 L378.3,462.6 L378.2,465.9 L378.2,465.3 L378.1,465.9 L378.1,467.2 L378.0,467.7 L377.9,466.3 L377.9,468.0 L377.8,468.0 L377.7,467.5 L377.6,467.3 L377.6,468.3 L377.5,467.6 L377.4,467.0 L377.3,466.0 L377.3,466.1 L377.2,465.0 L377.1,466.5 L377.0,467.2 L377.0,465.8 L376.9,463.4 L376.8,465.5 L376.7,463.6 L376.6,465.2 L376.5,465.2 L376.4,467.7 L376.3,465.7 L376.2,466.9 L376.1,467.2 L376.0,467.4 L375.9,466.6 L375.8,465.6 L375.7,468.4 L375.7,465.5 L375.6,466.4 L375.6,465.5 L375.5,466.2 L375.5,466.6 L375.4,465.7 L375.4,466.6 L375.3,465.8 L375.2,465.5 L375.2,465.7 L375.1,462.4 L375.1,463.1 L375.0,463.8 L375.0,461.5 L374.9,463.8 L374.9,462.6 L374.8,461.8 L374.8,459.7 L374.8,458.8 L374.8,459.3 L374.7,457.9 L374.7,459.4 L374.7,458.9 L374.7,457.9 L374.6,457.6 L374.6,458.0 L374.6,457.2 L374.6,458.0 L374.5,459.4 L374.5,458.6 L374.5,456.7 L374.5,457.8 L374.4,456.5 L374.4,458.2 L374.4,457.1 L374.4,456.0 L374.3,455.6 L374.3,455.3 L374.3,455.6 L374.3,454.7 L374.2,457.1 L374.2,457.6 L374.2,456.0 L374.2,455.3 L374.1,453.9 L374.1,452.6 L374.1,452.6 L374.1,451.9 L374.0,453.0 L374.0,452.8 L374.0,453.0 L374.0,452.6 L373.9,452.8 L373.9,450.6 L373.9,451.1 L373.8,450.3 L373.8,451.2 L373.8,450.6 L373.7,450.8 L373.7,449.7 L373.7,446.9 L373.6,447.5 L373.6,447.5 L373.6,444.8 L373.6,445.7 L373.5,445.5 L373.5,447.8 L373.5,447.2 L373.4,446.3 L373.4,446.3 L373.4,446.6 L373.3,446.8 L373.3,445.2 L373.3,444.4 L373.2,443.9 L373.2,441.3 L373.2,441.5 L373.1,441.5 L373.1,443.6 L373.1,442.9 L373.1,444.3 L373.0,442.2 L373.0,440.4 L373.0,440.4 L372.9,441.2 L372.9,441.2 L372.9,441.8 L372.9,440.1 L372.8,440.3 L372.8,439.5 L372.8,438.4 L372.8,437.8 L372.8,439.7 L372.8,439.6 L372.7,438.6 L372.7,439.7 L372.7,438.8 L372.7,438.0 L372.7,437.8 L372.6,437.7 L372.6,437.2 L372.6,437.0 L372.6,435.2 L372.6,434.2 L372.5,434.4 L372.5,434.4 L372.5,434.3 L372.5,435.0 L372.5,434.9 L372.4,434.4 L372.4,433.8 L372.4,435.0 L372.4,434.0 L372.4,433.2 L372.4,433.2 L372.3,431.8 L372.3,430.0 L372.3,431.1 L372.3,432.8 L372.3,432.2 L372.3,431.9 L372.3,431.5 L372.3,430.2 L372.2,429.4 L372.2,428.2 L372.2,426.3 L372.2,425.3 L372.2,428.1 L372.2,425.9 L372.2,424.8 L372.2,425.2 L372.2,425.1 L372.2,426.0 L372.2,426.0 L372.1,427.7 L372.1,427.0 L372.1,425.4 L372.1,424.6 L372.1,423.7 L372.1,424.0 L372.1,424.9 L372.1,422.8 L372.1,423.9 L372.1,423.8 L372.1,422.1 L372.1,423.2 L372.0,422.4 L372.0,422.4 L372.0,424.0 L372.0,422.9 L372.0,421.1 L372.0,419.9 L372.0,419.6 L372.0,418.5 L372.0,418.3 L372.0,420.8 L372.0,420.0 L371.9,419.9 L371.9,419.6 L371.9,418.9 L371.9,417.4 L371.9,417.5 L371.9,417.6 Z" fill="#404040" stroke="#404040" stroke-width="0.7" stroke-linejoin="round"/>
<path d="M371.9,477.3 L372.1,474.6 L372.3,475.2 L372.6,475.5 L372.8,474.1 L373.0,473.8 L373.2,473.6 L373.5,473.2 L373.7,470.8 L373.9,470.9 L374.0,471.6 L374.2,471.9 L374.3,472.4 L374.4,471.5 L374.6,473.6 L374.7,473.2 L374.9,473.1 L375.0,472.6 L375.1,468.9 L375.3,467.2 L375.4,469.3 L375.5,469.8 L375.7,468.2 L375.8,467.0 L376.1,465.7 L376.4,466.5 L376.7,466.0 L376.9,466.2 L377.2,466.9 L377.5,466.5 L377.8,467.1 L377.9,466.2 L378.0,467.7 L378.1,468.5 L378.2,468.2 L378.4,469.2 L378.5,470.9 L378.6,471.3 L378.7,471.4 L378.8,472.1 L378.9,470.2 L379.0,473.8 L379.1,474.0 L379.3,471.3 L379.4,472.2 L379.5,473.4 L379.6,472.2 L379.7,473.2 L379.8,473.4 L379.9,475.3 L380.0,476.4 L380.1,474.4 L380.2,474.9 L380.3,475.3 L380.4,473.0 L380.5,474.9 L380.6,472.6 L380.7,476.3 L380.8,474.6 L380.9,476.2 L381.0,475.5 L381.1,478.2 L381.2,480.4 L381.3,479.4 L381.4,480.1 L381.5,479.5 L381.6,479.8 L381.7,479.2 L381.8,478.4 L382.0,478.4 L382.1,479.5 L382.2,480.5 L382.4,480.7 L382.5,483.6 L382.6,481.2 L382.8,480.2 L382.9,480.9 L383.1,480.0 L383.2,478.7 L383.3,479.5 L383.5,482.3 L383.6,487.9 L383.8,485.7 L384.0,482.4 L384.3,481.1 L384.5,479.2 L384.7,483.3 L384.9,481.0 L385.2,484.6 L385.4,482.8 L385.6,483.3 L385.7,483.5 L385.9,483.4 L386.0,481.8 L386.1,481.4 L386.3,480.5 L386.4,483.4 L386.6,482.8 L386.7,481.8 L386.8,482.5 L387.0,481.0 L387.1,480.4 L387.2,480.6 L387.4,482.6 L387.5,482.1 L387.6,479.4 L387.7,481.8 L387.8,482.8 L387.9,482.2 L388.0,477.7 L388.1,476.7 L388.2,477.4 L388.3,478.1 L388.4,475.2 L388.5,473.7 L388.6,475.8 L388.7,477.1 L388.8,477.8 L388.9,476.7 L389.0,479.0 L389.1,476.6 L389.2,476.1 L389.3,475.3 L389.4,473.8 L389.5,476.5 L389.6,475.2 L389.8,474.9 L389.9,473.3 L390.0,473.5 L390.2,472.9 L390.3,472.3 L390.4,468.8 L390.6,469.6 L390.7,471.1 L390.9,470.5 L391.0,470.3 L391.1,471.8 L391.3,470.3 L391.4,470.0 L391.6,472.4 L391.9,470.8 L392.1,468.5 L392.4,469.4 L392.6,468.8 L392.8,470.6 L393.1,467.4 L393.3,466.8 L393.4,467.1 L393.6,465.6 L393.7,465.7 L393.9,468.5 L394.0,465.6 L394.2,467.1 L394.3,470.0 L394.4,467.2 L394.6,466.7 L394.7,467.0 L394.9,466.5 L395.0,465.5 L395.2,464.4 L395.3,467.0 L395.5,466.7 L395.8,467.4 L396.0,464.6 L396.2,464.1 L396.5,464.8 L396.7,467.0 L397.0,469.3 L397.2,468.0 L397.3,466.1 L397.3,468.3 L397.4,465.3 L397.4,468.6 L397.5,467.7 L397.5,468.6 L397.6,469.5 L397.7,469.6 L397.7,468.6 L397.8,471.8 L397.8,471.6 L397.9,471.0 L397.9,471.5 L398.0,469.2 L398.1,471.9 L398.1,472.5 L398.2,469.6 L398.2,471.9 L398.3,473.6 L398.3,473.0 L398.4,473.1 L398.5,474.2 L398.5,473.6 L398.6,476.0 L398.6,475.8 L398.7,476.1 L398.7,476.8 L398.8,477.1 L398.9,478.1 L398.9,477.7 L399.0,478.6 L399.0,477.5 L399.1,475.5 L399.1,475.4 L399.2,474.4 L399.3,474.3 L399.4,478.5 L399.5,481.3 L399.6,478.5 L399.8,479.3 L399.9,478.4 L400.0,475.7 L400.1,474.7 L400.2,476.7 L400.3,475.3 L400.4,473.1 L400.5,472.9 L400.7,474.3 L400.8,474.9 L400.9,474.3 L401.0,473.6 L401.1,473.5 L401.2,472.9 L401.3,473.0 L401.4,468.1 L401.5,468.9 L401.6,469.3 L401.7,471.7 L401.8,472.8 L401.9,472.3 L402.0,471.2 L402.1,468.7 L402.2,469.7 L402.3,468.2 L402.4,468.9 L402.5,468.8 L402.6,466.1 L402.7,465.0 L402.8,465.6 L402.9,466.1 L403.0,464.8 L403.1,468.3 L403.2,466.1 L403.4,465.5 L403.5,463.9 L403.6,464.4 L403.8,464.9 L403.9,466.2 L404.1,469.1 L404.2,468.7 L404.3,468.6 L404.5,471.9 L404.6,470.7 L404.7,469.9 L404.9,470.8 L405.0,469.9 L405.1,469.1 L405.3,470.0 L405.4,470.5 L405.6,472.4 L405.7,472.3 L405.9,473.2 L406.0,475.9 L406.1,475.3 L406.3,473.4 L406.4,472.7 L406.6,473.0 L406.7,473.6 L406.9,473.2 L407.0,474.9 L407.2,476.0 L407.5,475.9 L407.7,474.8 L407.9,476.1 L408.2,477.3 L408.4,476.2 L408.7,478.5 L408.9,478.1 L409.0,478.2 L409.2,479.0 L409.3,481.5 L409.5,479.7 L409.6,477.3 L409.8,477.8 L409.9,479.9 L410.0,479.0 L410.2,480.3 L410.3,478.9 L410.5,477.7 L410.6,478.9 L410.8,479.3 L410.9,480.3 L411.0,480.9 L411.2,482.8 L411.3,483.1 L411.4,482.7 L411.6,480.9 L411.7,479.7 L411.9,480.4 L412.0,482.1 L412.1,481.0 L412.3,483.3 L412.4,482.6 L412.5,483.2 L412.7,482.9 L412.8,487.0 L412.8,483.2 L412.9,483.3 L412.9,484.7 L413.0,483.9 L413.0,483.5 L413.1,483.0 L413.1,483.1 L413.1,484.1 L413.2,483.8 L413.2,480.5 L413.3,480.5 L413.3,478.6 L413.3,478.4 L413.4,480.0 L413.4,478.5 L413.5,477.1 L413.5,479.5 L413.6,476.4 L413.6,478.3 L413.6,478.3 L413.7,478.1 L413.7,478.2 L413.8,477.1 L413.8,476.4 L413.9,478.0 L413.9,477.3 L413.9,475.2 L414.0,476.1 L414.0,478.1 L414.1,477.5 L414.1,475.1 L414.2,471.9 L414.2,471.6 L414.2,471.5 L414.3,473.8 L414.3,471.2 L414.4,473.2 L414.4,474.4 L414.4,474.9 L414.5,474.8 L414.5,471.9 L414.6,470.0 L414.6,471.8 L414.7,470.4 L414.7,469.9 L414.8,471.3 L414.8,470.2 L414.9,470.7 L414.9,472.1 L415.0,472.4 L415.1,470.3 L415.1,471.6 L415.2,473.4 L415.3,473.4 L415.3,475.7 L415.4,476.3 L415.4,476.9 L415.5,474.8 L415.6,476.2 L415.6,474.4 L415.7,473.8 L415.8,472.9 L415.8,472.0 L415.9,471.3 L415.9,472.4 L416.0,475.6 L416.1,475.1 L416.1,477.1 L416.2,474.2 L416.3,476.9 L416.3,478.8 L416.4,482.7 L416.4,481.3 L416.5,481.3 L416.6,480.2 L416.6,480.3 L416.7,480.8 L416.8,480.7 L416.8,481.7 L416.9,483.6 L417.0,483.1 L417.1,483.5 L417.1,484.5 L417.2,485.8 L417.3,483.3 L417.4,486.1 L417.4,484.2 L417.5,484.8 L417.6,485.3 L417.6,484.3 L417.7,483.4 L417.8,485.0 L417.9,489.3 L417.9,487.5 L418.0,486.3 L418.1,489.0 L418.2,486.8 L418.2,487.4 L418.3,488.6 L418.4,486.7 L418.5,485.9 L418.5,488.4 L418.6,489.5 L418.7,488.0 L418.9,486.1 L419.0,487.7 L419.2,488.3 L419.3,490.1 L419.5,488.9 L419.6,488.5 L419.7,488.2 L419.9,489.0 L420.0,489.2 L420.2,490.8 L420.3,492.4 L420.5,493.7 L420.6,493.2 L420.7,494.2 L420.9,495.1 L421.0,493.5 L421.1,494.6 L421.3,490.8 L421.4,489.9 L421.6,489.3 L421.7,489.7 L421.8,487.5 L422.0,487.4 L422.1,487.9 L422.2,489.9 L422.4,490.4 L422.5,491.4 L422.7,491.1 L422.9,489.3 L423.2,487.9 L423.4,487.7 L423.6,488.0 L423.8,489.1 L424.1,488.4 L424.3,490.0 L424.5,488.5 L424.6,489.0 L424.7,489.6 L424.8,489.9 L424.9,488.2 L425.0,489.3 L425.1,486.5 L425.2,488.2 L425.3,488.2 L425.4,489.8 L425.4,487.1 L425.5,486.2 L425.6,485.7 L425.7,488.0 L425.8,487.3 L425.9,487.8 L426.0,484.8 L426.1,485.9 L426.2,483.9 L426.3,485.8 L426.4,485.9 L426.5,484.1 L426.5,482.1 L426.6,484.7 L426.6,483.9 L426.7,483.3 L426.8,483.1 L426.8,485.9 L426.9,485.6 L426.9,484.7 L427.0,484.3 L427.1,483.6 L427.1,482.5 L427.2,477.6 L427.2,476.9 L427.3,478.7 L427.4,482.0 L427.4,482.4 L427.5,480.1 L427.6,479.6 L427.6,478.8 L427.7,476.5 L427.7,476.6 L427.8,475.8 L427.9,478.1 L427.9,477.2 L428.0,477.9 L428.0,477.7 L428.1,477.1 L428.2,476.9 L428.2,476.4 L428.3,475.6 L428.3,474.8 L428.4,473.2 L428.5,475.2 L428.6,474.9 L428.7,473.3 L428.8,476.2 L428.9,473.5 L429.0,476.3 L429.1,476.9 L429.2,477.7 L429.3,480.0 L429.4,479.5 L429.4,476.7 L429.5,475.9 L429.6,476.1 L429.7,477.3 L429.8,478.6 L429.9,479.9 L430.0,479.5 L430.1,480.4 L430.2,481.9 L430.3,482.0 L430.4,478.5 L430.5,478.6 L430.6,482.1 L430.7,483.8 L430.8,483.6 L430.9,483.3 L431.0,483.7 L431.1,483.6 L431.2,484.7 L431.3,485.0 L431.4,482.3 L431.5,484.6 L431.6,484.7 L431.7,483.9 L431.8,486.3 L431.9,483.0 L432.0,485.1 L432.1,488.7 L432.2,487.0 L432.3,485.7 L432.4,487.0 L432.4,482.8 L432.5,486.3 L432.5,488.9 L432.6,488.7 L432.7,487.9 L432.7,485.8 L432.8,486.9 L432.8,486.0 L432.9,488.0 L433.0,489.8 L433.0,489.5 L433.1,490.6 L433.1,489.7 L433.2,492.4 L433.2,490.3 L433.3,492.0 L433.4,490.4 L433.4,493.3 L433.5,493.3 L433.5,494.9 L433.6,494.6 L433.7,494.2 L433.7,496.4 L433.8,495.6 L433.8,494.4 L433.9,496.4 L434.0,497.8 L434.0,496.8 L434.1,498.2 L434.1,500.5 L434.2,499.3 L434.3,498.6 L434.4,499.9 L434.5,497.2 L434.6,498.7 L434.8,497.3 L434.9,497.0 L435.0,496.8 L435.1,497.5 L435.2,500.1 L435.3,497.4 L435.4,499.6 L435.5,501.2 L435.7,501.0 L435.8,500.7 L435.9,501.0 L436.0,501.3 L436.1,500.6 L436.4,501.9 L436.6,503.5 L436.9,501.8 L437.1,501.9 L437.4,501.0 L437.6,501.9 L437.9,501.7 L438.1,500.7 L438.4,502.4 L438.6,502.3 L438.9,502.3 L439.0,503.3 L439.1,500.6 L439.2,501.3 L439.3,502.5 L439.5,502.4 L439.6,503.2 L439.7,502.9 L439.8,504.1 L439.9,503.9 L440.0,503.3 L440.1,504.5 L440.2,504.8 L440.4,504.6 L440.5,502.9 L440.6,504.8 L440.7,505.1 L440.8,506.5 L441.0,507.3 L441.2,506.2 L441.5,506.4 L441.7,506.3 L441.9,508.4 L442.1,506.4 L442.4,505.7 L442.6,508.4 L442.8,509.9 L442.9,510.2 L443.0,510.7 L443.1,510.6 L443.2,511.2 L443.3,511.8 L443.4,510.4 L443.5,509.5 L443.6,510.3 L443.7,509.4 L443.8,510.2 L443.8,511.3 L443.9,513.5 L444.0,511.9 L444.1,512.5 L444.2,511.7 L444.3,510.1 L444.4,511.0 L444.5,513.1 L444.6,513.9 L444.7,516.0 L444.9,515.2 L445.1,515.5 L445.4,515.0 L445.6,514.7 L445.8,516.0 L446.0,515.6 L446.3,514.6 L446.5,513.2 L446.7,514.7 L446.8,517.2 L446.9,517.7 L447.0,516.5 L447.1,517.8 L447.2,517.9 L447.3,517.5 L447.4,517.2 L447.5,517.1 L447.6,515.6 L447.6,518.5 L447.7,516.5 L447.8,516.7 L447.9,517.5 L448.0,519.2 L448.1,519.7 L448.2,521.4 L448.3,521.8 L448.4,522.5 L448.5,523.3 L448.6,523.1 L448.9,523.4 L449.2,523.3 L449.5,520.9 L449.7,520.5 L450.0,521.3 L450.3,521.0 L450.6,520.7 L450.7,520.5 L450.8,521.7 L450.9,521.5 L451.0,520.3 L451.2,522.8 L451.3,523.8 L451.4,521.8 L451.5,523.7 L451.6,522.2 L451.7,521.8 L451.8,523.5 L451.9,526.0 L452.1,524.3 L452.2,524.1 L452.3,525.3 L452.4,526.4 L452.5,525.7 L452.8,526.1 L453.1,524.8 L453.4,524.2 L453.6,525.0 L453.9,525.1 L454.2,524.5 L454.5,523.8 L454.7,523.6 L454.8,526.5 L455.0,527.9 L455.2,525.4 L455.4,524.4 L455.5,526.3 L455.7,526.8 L455.9,527.6 L456.1,525.8 L456.2,527.2 L456.4,528.0 L456.5,528.0 L456.6,528.1 L456.7,528.9 L456.8,529.4 L456.9,527.8 L457.0,530.1 L457.1,529.5 L457.2,531.1 L457.3,529.5 L457.4,529.0 L457.4,528.7 L457.5,531.6 L457.6,529.2 L457.7,529.9 L457.8,529.1 L457.9,528.1 L458.0,530.5 L458.1,530.7 L458.2,531.8 L458.3,531.3 L458.4,531.9 L458.5,531.6 L458.5,532.0 L458.6,530.6 L458.7,532.4 L458.8,533.7 L458.8,536.4 L458.9,536.0 L459.0,536.3 L459.1,536.2 L459.1,537.3 L459.2,534.7 L459.3,536.9 L459.4,536.1 L459.5,536.3 L459.5,535.7 L459.6,536.1 L459.7,537.5 L459.8,537.5 L459.8,538.4 L459.9,539.1 L460.0,539.3 L460.1,539.1 L460.1,540.9 L460.2,541.7 L460.3,541.5 L460.4,540.0 L460.5,540.0 L460.6,540.6 L460.7,542.1 L460.9,541.2 L461.0,538.8 L461.1,538.7 L461.2,537.3 L461.3,540.3 L461.4,535.5 L461.5,537.4 L461.6,536.4 L461.8,536.3 L461.9,536.5 L462.0,538.1 L462.1,538.6 L462.2,537.1 L462.5,536.3 L462.8,535.9 L463.1,533.5 L463.3,535.8 L463.6,533.3 L463.9,533.6 L464.2,533.3 L464.3,533.4 L464.3,534.1 L464.4,534.7 L464.4,536.3 L464.5,534.9 L464.5,537.2 L464.6,538.1 L464.7,537.0 L464.7,537.7 L464.8,537.1 L464.8,536.1 L464.9,536.6 L464.9,537.8 L465.0,539.6 L465.1,539.3 L465.1,540.4 L465.2,540.1 L465.2,542.4 L465.3,543.8 L465.4,544.2 L465.4,544.9 L465.5,544.7 L465.5,543.0 L465.6,544.5 L465.6,543.1 L465.7,544.0 L465.8,543.4 L465.8,542.8 L465.9,542.7 L465.9,542.0 L466.0,541.3 L466.0,543.0 L466.1,544.8 L466.2,543.9 L466.4,543.6 L466.5,545.2 L466.7,544.9 L466.8,545.5 L467.0,545.2 L467.1,545.3 L467.2,545.5 L467.4,547.5 L467.5,546.5 L467.7,543.5 L467.8,547.2 L468.0,549.6 L468.1,549.6 L468.3,547.2 L468.5,546.0 L468.7,545.1 L468.9,545.9 L469.2,544.6 L469.4,547.7 L469.6,548.0 L469.8,546.6 L470.0,548.2 L470.1,548.0 L470.3,546.4 L470.4,549.0 L470.6,546.6 L470.7,547.0 L470.9,546.8 L471.0,548.1 L471.1,548.4 L471.3,546.7 L471.4,548.3 L471.6,550.9 L471.7,549.3 L471.9,550.4 L472.0,552.1 L472.1,550.0 L472.3,552.1 L472.4,552.1 L472.5,553.0 L472.7,552.1 L472.8,551.5 L472.9,552.4 L473.1,551.5 L473.2,552.5 L473.4,551.9 L473.5,553.4 L473.6,553.1 L473.8,552.6 L473.9,554.7 L474.0,555.9 L474.1,557.1 L474.2,557.4 L474.3,557.1 L474.4,558.4 L474.5,559.1 L474.6,560.6 L474.7,561.6 L474.8,558.8 L474.9,557.5 L475.0,556.0 L475.1,557.1 L475.2,558.3 L475.3,560.0 L475.4,561.4 L475.5,559.8 L475.6,560.2 L475.7,559.3 L475.8,560.4 L475.9,558.0 L476.1,558.6 L476.3,560.4 L476.5,561.0 L476.7,562.9 L477.0,561.5 L477.2,559.2 L477.4,560.1 L477.6,561.5 L477.8,562.3 L477.8,560.6 L477.9,559.3 L477.9,559.5 L478.0,558.2 L478.0,555.3 L478.1,557.3 L478.1,559.6 L478.1,562.7 L478.2,562.2 L478.2,561.5 L478.3,559.7 L478.3,560.3 L478.3,558.2 L478.4,560.1 L478.4,556.8 L478.5,557.4 L478.5,556.7 L478.6,555.0 L478.6,555.3 L478.6,555.5 L478.7,556.3 L478.7,557.3 L478.8,557.0 L478.8,556.2 L478.9,555.6 L478.9,553.9 L478.9,554.0 L479.0,554.8 L479.0,553.9 L479.1,552.7 L479.1,551.8 L479.2,551.2 L479.2,552.7 L479.2,549.2 L479.3,550.1 L479.3,551.8 L479.4,549.5 L479.4,550.7 L479.4,550.3 L479.5,553.2 L479.5,550.1 L479.6,549.6 L479.6,549.4 L479.7,550.2 L479.7,550.8 L479.9,548.3 L480.1,547.7 L480.4,548.8 L480.6,549.9 L480.8,548.9 L481.0,550.5 L481.3,550.8 L481.5,551.5 L481.7,551.2 L481.8,551.4 L481.8,551.4 L481.9,552.0 L482.0,552.9 L482.1,552.9 L482.1,551.4 L482.2,551.7 L482.3,552.2 L482.4,551.5 L482.4,553.9 L482.5,554.8 L482.6,553.9 L482.6,555.6 L482.7,555.5 L482.8,555.4 L482.9,556.4 L482.9,554.9 L483.0,554.2 L483.1,557.0 L483.2,557.9 L483.2,556.6 L483.3,559.2 L483.4,556.8 L483.5,557.5 L483.5,557.9 L483.6,557.8 L483.8,558.0 L484.0,557.0 L484.3,557.8 L484.5,557.2 L484.7,555.4 L484.9,556.7 L485.2,556.7 L485.4,556.9 L485.6,559.0 L485.8,560.1 L486.0,559.9 L486.2,561.4 L486.4,560.3 L486.7,561.0 L486.9,564.3 L487.1,562.8 L487.3,563.6 L487.5,563.0 L487.6,564.1 L487.6,563.8 L487.7,564.4 L487.7,562.0 L487.8,563.2 L487.8,565.3 L487.9,565.7 L487.9,566.6 L488.0,567.0 L488.0,567.2 L488.1,566.2 L488.1,567.4 L488.2,565.8 L488.2,565.8 L488.3,565.8 L488.3,565.6 L488.4,568.4 L488.4,568.0 L488.5,568.3 L488.5,570.1 L488.6,570.6 L488.6,569.2 L488.7,568.2 L488.7,569.1 L488.8,568.8 L488.8,571.8 L488.9,571.2 L488.9,570.8 L489.0,571.6 L489.0,570.4 L489.1,570.4 L489.1,570.2 L489.2,572.4 L489.2,572.2 L489.3,570.9 L489.3,569.7 L489.4,570.3 L489.4,570.7 L489.5,574.6 L489.7,573.6 L490.0,574.2 L490.2,574.5 L490.4,575.6 L490.7,576.2 L490.9,576.9 L491.2,577.9 L491.4,576.5 L491.5,573.6 L491.6,573.4 L491.6,572.3 L491.7,571.1 L491.8,571.1 L491.9,572.2 L491.9,574.6 L492.0,575.1 L492.1,575.8 L492.2,573.5 L492.2,572.7 L492.3,575.0 L492.4,574.8 L492.5,573.0 L492.6,571.6 L492.6,571.0 L492.7,570.3 L492.8,569.7 L492.9,569.3 L492.9,569.1 L493.0,568.4 L493.1,566.5 L493.2,567.3 L493.2,567.7 L493.3,567.8 L493.4,567.8 L493.5,566.4 L493.7,566.7 L493.8,567.1 L493.9,566.1 L494.1,566.6 L494.2,568.1 L494.4,565.0 L494.5,563.6 L494.6,561.6 L494.8,562.7 L494.9,562.9 L495.0,562.6 L495.2,562.7 L495.3,563.1 L495.4,563.1 L495.6,560.2 L495.7,561.2 L495.9,559.9 L496.0,561.0 L496.2,559.1 L496.3,560.0 L496.4,557.1 L496.6,557.5 L496.7,559.9 L496.9,559.8 L497.0,561.6 L497.2,561.0 L497.3,559.4 L497.6,562.2 L497.8,562.1 L498.1,563.0 L498.4,561.1 L498.6,562.8 L498.9,563.7 L499.1,565.3 L499.4,564.6 L499.7,564.6 L499.9,561.9 L500.2,560.5 L500.5,561.4 L500.7,562.3 L501.0,564.2 L501.3,563.9 L501.5,559.9 L501.8,560.8 L502.0,558.5 L502.3,561.3 L502.6,561.7 L502.8,560.3 L503.1,560.8 L503.4,560.0 L503.7,560.1 L503.9,559.2 L504.2,561.4 L504.5,559.0 L504.5,563.4 L504.2,564.6 L503.9,562.3 L503.7,562.8 L503.4,562.8 L503.1,562.1 L502.8,561.9 L502.6,563.9 L502.3,563.8 L502.0,561.8 L501.8,564.0 L501.5,563.9 L501.3,566.0 L501.0,566.3 L500.7,565.6 L500.5,565.2 L500.2,563.4 L499.9,564.5 L499.7,567.3 L499.4,567.6 L499.1,568.1 L498.9,566.6 L498.6,565.8 L498.4,564.0 L498.1,565.8 L497.8,565.0 L497.6,564.9 L497.3,561.7 L497.2,563.5 L497.0,564.9 L496.9,563.6 L496.7,562.7 L496.6,560.9 L496.4,560.5 L496.3,562.9 L496.2,561.7 L496.0,563.4 L495.9,563.5 L495.7,564.7 L495.6,564.0 L495.4,565.7 L495.3,565.0 L495.2,565.4 L495.0,564.7 L494.9,565.7 L494.8,567.2 L494.6,566.4 L494.5,568.5 L494.4,569.3 L494.2,570.7 L494.1,569.9 L493.9,569.1 L493.8,568.9 L493.7,569.0 L493.5,568.6 L493.4,569.8 L493.3,569.9 L493.2,570.3 L493.2,570.6 L493.1,570.7 L493.0,572.6 L492.9,572.8 L492.9,572.2 L492.8,572.9 L492.7,573.6 L492.6,573.8 L492.6,574.9 L492.5,576.2 L492.4,578.7 L492.3,577.8 L492.2,575.1 L492.2,576.6 L492.1,577.9 L492.0,577.9 L491.9,577.3 L491.9,576.2 L491.8,573.6 L491.7,573.0 L491.6,574.9 L491.6,576.0 L491.5,577.3 L491.4,579.5 L491.2,580.6 L490.9,579.8 L490.7,579.3 L490.4,578.0 L490.2,576.8 L490.0,577.0 L489.7,576.4 L489.5,577.6 L489.4,574.6 L489.4,573.5 L489.3,573.6 L489.3,573.8 L489.2,575.0 L489.2,575.6 L489.1,573.4 L489.1,573.7 L489.0,574.0 L489.0,574.0 L488.9,573.2 L488.9,574.7 L488.8,574.0 L488.8,571.4 L488.7,571.4 L488.7,570.9 L488.6,570.6 L488.6,572.5 L488.5,572.6 L488.5,572.0 L488.4,570.3 L488.4,571.1 L488.3,568.4 L488.3,568.8 L488.2,567.9 L488.2,568.6 L488.1,569.4 L488.1,568.6 L488.0,570.5 L488.0,570.2 L487.9,569.8 L487.9,568.6 L487.8,566.6 L487.8,564.7 L487.7,563.8 L487.7,566.7 L487.6,566.7 L487.6,567.3 L487.5,564.7 L487.3,566.0 L487.1,564.5 L486.9,566.7 L486.7,564.1 L486.4,563.1 L486.2,565.1 L486.0,562.7 L485.8,563.0 L485.6,561.2 L485.4,559.7 L485.2,559.5 L484.9,559.4 L484.7,557.5 L484.5,560.1 L484.3,561.0 L484.0,560.7 L483.8,560.6 L483.6,560.4 L483.5,562.1 L483.5,561.4 L483.4,559.8 L483.3,562.0 L483.2,560.4 L483.2,562.3 L483.1,559.8 L483.0,557.5 L482.9,557.7 L482.9,559.0 L482.8,557.8 L482.7,557.0 L482.6,557.6 L482.6,555.6 L482.5,556.8 L482.4,555.7 L482.4,553.6 L482.3,555.3 L482.2,555.0 L482.1,553.8 L482.1,555.1 L482.0,555.3 L481.9,554.8 L481.8,554.1 L481.8,555.2 L481.7,554.6 L481.5,553.2 L481.3,552.7 L481.0,552.6 L480.8,551.3 L480.6,552.0 L480.4,551.0 L480.1,551.0 L479.9,550.6 L479.7,553.9 L479.7,554.3 L479.6,552.8 L479.6,552.6 L479.5,552.1 L479.5,555.8 L479.4,553.7 L479.4,554.1 L479.4,552.6 L479.3,555.5 L479.3,553.3 L479.2,552.9 L479.2,555.2 L479.2,554.8 L479.1,554.8 L479.1,555.4 L479.0,556.0 L479.0,557.7 L478.9,556.6 L478.9,556.6 L478.9,558.1 L478.8,559.6 L478.8,560.5 L478.7,560.3 L478.7,560.0 L478.6,558.3 L478.6,559.7 L478.6,559.8 L478.5,560.9 L478.5,560.6 L478.4,559.4 L478.4,562.6 L478.3,560.6 L478.3,563.7 L478.3,562.8 L478.2,564.8 L478.2,565.3 L478.1,565.7 L478.1,561.9 L478.1,560.7 L478.0,558.0 L478.0,562.1 L477.9,563.6 L477.9,563.4 L477.8,562.8 L477.8,564.6 L477.6,564.4 L477.4,564.3 L477.2,563.0 L477.0,563.9 L476.7,565.4 L476.5,564.7 L476.3,564.0 L476.1,560.8 L475.9,561.1 L475.8,562.7 L475.7,562.1 L475.6,562.4 L475.5,562.0 L475.4,563.4 L475.3,561.6 L475.2,560.6 L475.1,559.7 L475.0,558.9 L474.9,560.6 L474.8,561.0 L474.7,563.8 L474.6,562.9 L474.5,561.3 L474.4,560.0 L474.3,558.5 L474.2,559.3 L474.1,559.3 L474.0,559.2 L473.9,557.5 L473.8,555.8 L473.6,557.0 L473.5,556.4 L473.4,555.5 L473.2,555.3 L473.1,553.8 L472.9,554.9 L472.8,553.3 L472.7,554.5 L472.5,555.7 L472.4,555.2 L472.3,555.8 L472.1,553.9 L472.0,555.7 L471.9,554.3 L471.7,551.0 L471.6,553.2 L471.4,551.9 L471.3,550.5 L471.1,551.7 L471.0,550.6 L470.9,549.5 L470.7,549.3 L470.6,550.3 L470.4,552.1 L470.3,549.7 L470.1,551.5 L470.0,550.8 L469.8,549.4 L469.6,550.3 L469.4,551.0 L469.2,548.4 L468.9,549.3 L468.7,548.8 L468.5,550.1 L468.3,550.5 L468.1,552.4 L468.0,553.2 L467.8,548.9 L467.7,545.9 L467.5,548.7 L467.4,549.2 L467.2,548.1 L467.1,547.0 L467.0,547.2 L466.8,547.7 L466.7,546.8 L466.5,547.5 L466.4,546.1 L466.2,546.7 L466.1,548.1 L466.0,545.0 L466.0,544.1 L465.9,543.7 L465.9,545.1 L465.8,545.5 L465.8,546.8 L465.7,547.2 L465.6,546.4 L465.6,547.1 L465.5,545.6 L465.5,547.5 L465.4,547.4 L465.4,548.2 L465.3,546.1 L465.2,545.1 L465.2,541.9 L465.1,543.1 L465.1,542.7 L465.0,542.2 L464.9,540.8 L464.9,539.2 L464.8,539.0 L464.8,540.1 L464.7,541.0 L464.7,539.8 L464.6,540.1 L464.5,539.0 L464.5,536.8 L464.4,538.5 L464.4,537.2 L464.3,537.2 L464.3,536.4 L464.2,536.9 L463.9,536.7 L463.6,536.1 L463.3,537.6 L463.1,536.2 L462.8,537.9 L462.5,539.3 L462.2,540.0 L462.1,540.8 L462.0,540.4 L461.9,539.6 L461.8,539.4 L461.6,539.0 L461.5,539.9 L461.4,539.5 L461.3,542.8 L461.2,539.9 L461.1,542.2 L461.0,541.5 L460.9,543.4 L460.7,544.9 L460.6,542.8 L460.5,543.4 L460.4,543.2 L460.3,544.3 L460.2,544.1 L460.1,543.6 L460.1,541.4 L460.0,541.7 L459.9,541.8 L459.8,541.2 L459.8,540.8 L459.7,540.5 L459.6,538.9 L459.5,538.3 L459.5,539.3 L459.4,538.1 L459.3,539.6 L459.2,537.5 L459.1,539.4 L459.1,538.4 L459.0,539.2 L458.9,539.2 L458.8,539.5 L458.8,537.5 L458.7,536.9 L458.6,534.8 L458.5,534.2 L458.5,534.1 L458.4,534.6 L458.3,533.3 L458.2,534.7 L458.1,533.6 L458.0,533.9 L457.9,531.3 L457.8,531.5 L457.7,532.3 L457.6,532.4 L457.5,533.8 L457.4,531.4 L457.4,531.8 L457.3,532.6 L457.2,534.2 L457.1,533.0 L457.0,533.9 L456.9,531.2 L456.8,533.1 L456.7,532.5 L456.6,530.9 L456.5,530.4 L456.4,530.6 L456.2,529.9 L456.1,528.3 L455.9,529.9 L455.7,529.3 L455.5,529.9 L455.4,528.0 L455.2,527.4 L455.0,529.9 L454.8,528.5 L454.7,526.2 L454.5,525.0 L454.2,526.0 L453.9,527.1 L453.6,527.8 L453.4,527.8 L453.1,527.5 L452.8,529.2 L452.5,528.9 L452.4,529.3 L452.3,528.7 L452.2,527.2 L452.1,527.2 L451.9,528.2 L451.8,525.6 L451.7,524.3 L451.6,525.6 L451.5,525.6 L451.4,523.9 L451.3,527.0 L451.2,526.0 L451.0,523.9 L450.9,524.7 L450.8,524.2 L450.7,523.1 L450.6,524.4 L450.3,524.1 L450.0,523.6 L449.7,523.2 L449.5,523.6 L449.2,526.5 L448.9,525.9 L448.6,526.0 L448.5,526.2 L448.4,524.7 L448.3,524.4 L448.2,524.0 L448.1,522.7 L448.0,521.4 L447.9,520.1 L447.8,519.4 L447.7,518.4 L447.6,521.2 L447.6,517.9 L447.5,520.2 L447.4,519.6 L447.3,521.2 L447.2,520.6 L447.1,520.4 L447.0,519.3 L446.9,520.0 L446.8,519.8 L446.7,517.6 L446.5,515.7 L446.3,517.0 L446.0,517.9 L445.8,518.5 L445.6,517.4 L445.4,517.9 L445.1,517.8 L444.9,517.8 L444.7,518.8 L444.6,517.8 L444.5,515.7 L444.4,514.1 L444.3,513.2 L444.2,514.8 L444.1,514.9 L444.0,514.2 L443.9,515.5 L443.8,514.3 L443.8,512.9 L443.7,512.1 L443.6,513.2 L443.5,513.1 L443.4,514.1 L443.3,514.5 L443.2,514.3 L443.1,513.6 L443.0,513.7 L442.9,512.6 L442.8,511.7 L442.6,510.6 L442.4,509.2 L442.1,509.5 L441.9,510.8 L441.7,509.4 L441.5,510.0 L441.2,509.5 L441.0,509.2 L440.8,508.4 L440.7,507.8 L440.6,508.2 L440.5,506.7 L440.4,509.3 L440.2,507.3 L440.1,507.1 L440.0,506.4 L439.9,506.7 L439.8,506.0 L439.7,505.6 L439.6,505.2 L439.5,505.5 L439.3,505.6 L439.2,505.2 L439.1,504.3 L439.0,506.9 L438.9,505.8 L438.6,506.1 L438.4,505.1 L438.1,503.5 L437.9,505.5 L437.6,505.6 L437.4,505.1 L437.1,507.0 L436.9,510.8 L436.6,509.3 L436.4,507.4 L436.1,508.1 L436.0,506.3 L435.9,503.8 L435.8,505.2 L435.7,507.3 L435.5,507.9 L435.4,505.8 L435.3,503.1 L435.2,503.8 L435.1,503.2 L435.0,503.3 L434.9,503.1 L434.8,501.4 L434.6,501.9 L434.5,502.6 L434.4,503.4 L434.3,501.8 L434.2,503.1 L434.1,503.5 L434.1,502.9 L434.0,504.3 L434.0,505.4 L433.9,502.8 L433.8,501.4 L433.8,502.9 L433.7,502.3 L433.7,499.6 L433.6,500.8 L433.5,501.7 L433.5,503.7 L433.4,500.6 L433.4,499.1 L433.3,498.9 L433.2,497.2 L433.2,496.8 L433.1,495.0 L433.1,497.4 L433.0,495.6 L433.0,496.1 L432.9,493.7 L432.8,491.9 L432.8,494.6 L432.7,495.1 L432.7,495.1 L432.6,497.0 L432.5,497.7 L432.5,495.1 L432.4,492.6 L432.4,493.1 L432.3,493.2 L432.2,494.1 L432.1,494.8 L432.0,492.6 L431.9,493.6 L431.8,493.6 L431.7,493.2 L431.6,490.8 L431.5,491.0 L431.4,490.9 L431.3,491.5 L431.2,491.7 L431.1,491.0 L431.0,491.8 L430.9,490.4 L430.8,487.0 L430.7,489.6 L430.6,486.3 L430.5,485.1 L430.4,488.0 L430.3,488.2 L430.2,487.8 L430.1,486.6 L430.0,487.6 L429.9,485.3 L429.8,485.9 L429.7,483.1 L429.6,482.1 L429.5,481.4 L429.4,481.5 L429.4,483.6 L429.3,482.1 L429.2,480.7 L429.1,480.0 L429.0,481.4 L428.9,479.9 L428.8,479.5 L428.7,478.9 L428.6,479.5 L428.5,480.9 L428.4,481.1 L428.3,480.3 L428.3,480.9 L428.2,481.0 L428.2,482.1 L428.1,483.3 L428.0,485.2 L428.0,484.5 L427.9,483.0 L427.9,482.9 L427.8,481.8 L427.7,484.4 L427.7,486.9 L427.6,486.1 L427.6,485.9 L427.5,487.3 L427.4,489.4 L427.4,489.3 L427.3,488.4 L427.2,485.8 L427.2,487.4 L427.1,487.8 L427.1,489.7 L427.0,493.7 L426.9,492.9 L426.9,489.9 L426.8,490.0 L426.8,488.1 L426.7,490.8 L426.6,490.4 L426.6,492.7 L426.5,489.2 L426.5,493.1 L426.4,493.9 L426.3,492.4 L426.2,492.5 L426.1,493.7 L426.0,491.1 L425.9,492.1 L425.8,494.6 L425.7,493.9 L425.6,493.4 L425.5,492.3 L425.4,495.0 L425.4,494.1 L425.3,493.8 L425.2,493.5 L425.1,492.6 L425.0,494.4 L424.9,496.1 L424.8,496.5 L424.7,497.2 L424.6,497.0 L424.5,496.1 L424.3,496.8 L424.1,494.3 L423.8,496.3 L423.6,495.1 L423.4,494.7 L423.2,495.8 L422.9,495.1 L422.7,496.5 L422.5,495.7 L422.4,495.9 L422.2,495.2 L422.1,494.6 L422.0,496.2 L421.8,497.9 L421.7,494.9 L421.6,496.1 L421.4,497.7 L421.3,496.9 L421.1,498.3 L421.0,500.1 L420.9,499.3 L420.7,499.0 L420.6,500.8 L420.5,500.2 L420.3,499.8 L420.2,496.1 L420.0,496.7 L419.9,496.6 L419.7,495.8 L419.6,496.5 L419.5,496.7 L419.3,495.5 L419.2,495.9 L419.0,496.8 L418.9,495.7 L418.7,497.7 L418.6,496.8 L418.5,493.6 L418.5,490.1 L418.4,494.1 L418.3,494.5 L418.2,493.8 L418.2,492.2 L418.1,494.3 L418.0,493.9 L417.9,492.9 L417.9,494.6 L417.8,490.6 L417.7,491.6 L417.6,493.1 L417.6,489.7 L417.5,489.2 L417.4,491.9 L417.4,492.7 L417.3,490.4 L417.2,492.2 L417.1,492.2 L417.1,490.1 L417.0,488.9 L416.9,490.5 L416.8,488.5 L416.8,487.0 L416.7,485.5 L416.6,488.8 L416.6,487.8 L416.5,489.7 L416.4,488.5 L416.4,488.2 L416.3,485.3 L416.3,482.5 L416.2,480.1 L416.1,483.0 L416.1,481.8 L416.0,481.5 L415.9,482.3 L415.9,480.5 L415.8,480.8 L415.8,480.8 L415.7,481.1 L415.6,479.8 L415.6,481.4 L415.5,482.4 L415.4,481.3 L415.4,480.7 L415.3,482.9 L415.3,480.4 L415.2,482.2 L415.1,479.6 L415.1,476.3 L415.0,478.4 L414.9,476.7 L414.9,478.2 L414.8,478.5 L414.8,477.3 L414.7,479.0 L414.7,478.7 L414.6,480.0 L414.6,477.7 L414.5,479.0 L414.5,481.4 L414.4,480.1 L414.4,480.7 L414.4,481.2 L414.3,480.7 L414.3,480.6 L414.2,479.7 L414.2,480.7 L414.2,480.9 L414.1,480.5 L414.1,482.8 L414.0,483.1 L414.0,482.6 L413.9,481.9 L413.9,485.0 L413.9,484.8 L413.8,482.6 L413.8,482.6 L413.7,483.8 L413.7,486.0 L413.6,486.3 L413.6,483.0 L413.6,481.8 L413.5,483.9 L413.5,481.2 L413.4,485.1 L413.4,485.8 L413.3,485.5 L413.3,486.1 L413.3,487.5 L413.2,486.6 L413.2,489.8 L413.1,488.8 L413.1,488.4 L413.1,491.0 L413.0,489.4 L413.0,490.2 L412.9,491.8 L412.9,491.5 L412.8,492.0 L412.8,493.1 L412.7,488.4 L412.5,487.7 L412.4,488.5 L412.3,490.1 L412.1,489.5 L412.0,491.7 L411.9,488.3 L411.7,489.4 L411.6,486.4 L411.4,486.7 L411.3,487.3 L411.2,486.8 L411.0,486.5 L410.9,486.4 L410.8,484.9 L410.6,485.8 L410.5,486.2 L410.3,484.1 L410.2,484.8 L410.0,486.9 L409.9,487.1 L409.8,488.7 L409.6,486.8 L409.5,485.3 L409.3,486.2 L409.2,486.6 L409.0,484.3 L408.9,483.9 L408.7,483.7 L408.4,481.0 L408.2,482.5 L407.9,481.5 L407.7,483.0 L407.5,483.0 L407.2,484.5 L407.0,483.6 L406.9,482.3 L406.7,478.8 L406.6,481.0 L406.4,481.8 L406.3,480.9 L406.1,480.1 L406.0,482.2 L405.9,479.5 L405.7,479.3 L405.6,478.0 L405.4,475.3 L405.3,476.7 L405.1,475.3 L405.0,477.4 L404.9,475.2 L404.7,475.1 L404.6,476.6 L404.5,478.4 L404.3,474.3 L404.2,476.1 L404.1,474.8 L403.9,472.8 L403.8,471.8 L403.6,471.5 L403.5,473.2 L403.4,472.7 L403.2,472.8 L403.1,475.5 L403.0,473.0 L402.9,470.7 L402.8,471.2 L402.7,471.7 L402.6,474.6 L402.5,475.2 L402.4,475.6 L402.3,474.6 L402.2,476.1 L402.1,473.7 L402.0,476.5 L401.9,476.8 L401.8,478.3 L401.7,477.9 L401.6,479.9 L401.5,477.1 L401.4,476.8 L401.3,479.0 L401.2,477.7 L401.1,478.1 L401.0,479.7 L400.9,479.3 L400.8,477.9 L400.7,478.4 L400.5,479.5 L400.4,478.4 L400.3,482.0 L400.2,481.7 L400.1,481.9 L400.0,483.1 L399.9,485.2 L399.8,486.5 L399.6,486.0 L399.5,488.5 L399.4,484.3 L399.3,482.0 L399.2,481.3 L399.1,482.9 L399.1,482.6 L399.0,482.7 L399.0,484.9 L398.9,482.6 L398.9,483.0 L398.8,482.5 L398.7,484.2 L398.7,484.4 L398.6,483.5 L398.6,481.2 L398.5,479.9 L398.5,481.3 L398.4,480.2 L398.3,480.5 L398.3,480.7 L398.2,478.1 L398.2,478.2 L398.1,480.5 L398.1,479.2 L398.0,477.8 L397.9,475.9 L397.9,476.1 L397.8,475.7 L397.8,476.8 L397.7,476.4 L397.7,475.1 L397.6,474.5 L397.5,475.4 L397.5,476.7 L397.4,476.7 L397.4,473.4 L397.3,474.4 L397.3,473.0 L397.2,473.3 L397.0,475.7 L396.7,474.5 L396.5,472.7 L396.2,472.2 L396.0,471.2 L395.8,471.5 L395.5,473.1 L395.3,472.3 L395.2,471.0 L395.0,471.6 L394.9,471.8 L394.7,471.8 L394.6,474.6 L394.4,473.7 L394.3,474.8 L394.2,473.1 L394.0,476.0 L393.9,474.9 L393.7,470.6 L393.6,471.8 L393.4,474.0 L393.3,475.2 L393.1,474.8 L392.8,475.1 L392.6,474.0 L392.4,477.9 L392.1,476.6 L391.9,476.2 L391.6,475.8 L391.4,474.3 L391.3,476.2 L391.1,478.3 L391.0,477.2 L390.9,478.2 L390.7,476.6 L390.6,475.9 L390.4,475.6 L390.3,476.9 L390.2,478.6 L390.0,480.5 L389.9,480.3 L389.8,481.2 L389.6,482.0 L389.5,482.0 L389.4,480.1 L389.3,482.4 L389.2,483.3 L389.1,483.8 L389.0,483.7 L388.9,481.9 L388.8,484.0 L388.7,482.4 L388.6,482.3 L388.5,480.3 L388.4,483.7 L388.3,485.5 L388.2,483.6 L388.1,484.7 L388.0,485.1 L387.9,488.2 L387.8,487.3 L387.7,486.4 L387.6,487.4 L387.5,488.2 L387.4,487.7 L387.2,485.8 L387.1,484.2 L387.0,487.0 L386.8,489.1 L386.7,490.7 L386.6,490.2 L386.4,487.6 L386.3,487.6 L386.1,489.4 L386.0,491.7 L385.9,490.6 L385.7,488.0 L385.6,489.1 L385.4,489.9 L385.2,489.9 L384.9,489.4 L384.7,488.8 L384.5,486.4 L384.3,487.3 L384.0,488.7 L383.8,492.4 L383.6,491.4 L383.5,487.6 L383.3,488.3 L383.2,485.7 L383.1,489.8 L382.9,487.6 L382.8,486.5 L382.6,488.8 L382.5,488.0 L382.4,486.8 L382.2,487.7 L382.1,486.1 L382.0,486.1 L381.8,484.8 L381.7,483.9 L381.6,484.3 L381.5,487.3 L381.4,487.4 L381.3,485.4 L381.2,487.9 L381.1,486.8 L381.0,485.9 L380.9,483.1 L380.8,483.2 L380.7,484.1 L380.6,479.4 L380.5,482.4 L380.4,481.4 L380.3,481.2 L380.2,479.4 L380.1,482.3 L380.0,482.3 L379.9,482.8 L379.8,481.8 L379.7,480.3 L379.6,480.1 L379.5,482.3 L379.4,483.0 L379.3,479.4 L379.1,481.2 L379.0,480.9 L378.9,479.9 L378.8,479.9 L378.7,479.9 L378.6,479.4 L378.5,477.8 L378.4,474.8 L378.2,475.8 L378.1,476.7 L378.0,476.7 L377.9,476.1 L377.8,475.6 L377.5,474.8 L377.2,476.7 L376.9,475.5 L376.7,475.2 L376.4,475.7 L376.1,475.5 L375.8,474.5 L375.7,475.0 L375.5,476.7 L375.4,476.8 L375.3,476.6 L375.1,478.8 L375.0,476.1 L374.9,475.9 L374.7,476.8 L374.6,478.3 L374.4,479.7 L374.3,479.2 L374.2,478.2 L374.0,478.7 L373.9,478.4 L373.7,481.6 L373.5,480.7 L373.2,482.4 L373.0,480.3 L372.8,478.6 L372.6,481.6 L372.3,479.5 L372.1,480.5 L371.9,479.8 Z" fill="#2a6ab0" stroke="#2a6ab0" stroke-width="0.7" stroke-linejoin="round"/>
<line x1="371.9" y1="410.3" x2="371.9" y2="590.3" stroke="#333" stroke-width="0.9"/>
<line x1="371.9" y1="590.3" x2="504.7" y2="590.3" stroke="#333" stroke-width="0.9"/>
<line x1="504.7" y1="410.3" x2="504.7" y2="590.3" stroke="#333" stroke-width="0.9"/>
<line x1="371.9" y1="410.3" x2="504.7" y2="410.3" stroke="#333" stroke-width="0.9"/>
<line x1="369.4" y1="410.3" x2="371.9" y2="410.3" stroke="#222" stroke-width="1"/>
<text x="367.9" y="412.9" font-size="7.5" fill="#222" text-anchor="end" font-weight="normal" font-style="normal" >2.0</text>
<line x1="369.4" y1="446.3" x2="371.9" y2="446.3" stroke="#222" stroke-width="1"/>
<text x="367.9" y="448.9" font-size="7.5" fill="#222" text-anchor="end" font-weight="normal" font-style="normal" >1.6</text>
<line x1="369.4" y1="482.3" x2="371.9" y2="482.3" stroke="#222" stroke-width="1"/>
<text x="367.9" y="484.9" font-size="7.5" fill="#222" text-anchor="end" font-weight="normal" font-style="normal" >1.2</text>
<line x1="369.4" y1="518.3" x2="371.9" y2="518.3" stroke="#222" stroke-width="1"/>
<text x="367.9" y="520.9" font-size="7.5" fill="#222" text-anchor="end" font-weight="normal" font-style="normal" >0.8</text>
<line x1="369.4" y1="554.3" x2="371.9" y2="554.3" stroke="#222" stroke-width="1"/>
<text x="367.9" y="556.9" font-size="7.5" fill="#222" text-anchor="end" font-weight="normal" font-style="normal" >0.4</text>
<line x1="369.4" y1="590.3" x2="371.9" y2="590.3" stroke="#222" stroke-width="1"/>
<text x="367.9" y="592.9" font-size="7.5" fill="#222" text-anchor="end" font-weight="normal" font-style="normal" >0.0</text>
<line x1="504.7" y1="410.3" x2="507.2" y2="410.3" stroke="#222" stroke-width="1"/>
<text x="508.7" y="412.9" font-size="7.5" fill="#222" text-anchor="start" font-weight="normal" font-style="normal" >0.0</text>
<line x1="504.7" y1="446.3" x2="507.2" y2="446.3" stroke="#222" stroke-width="1"/>
<text x="508.7" y="448.9" font-size="7.5" fill="#222" text-anchor="start" font-weight="normal" font-style="normal" >-0.1</text>
<line x1="504.7" y1="482.3" x2="507.2" y2="482.3" stroke="#222" stroke-width="1"/>
<text x="508.7" y="484.9" font-size="7.5" fill="#222" text-anchor="start" font-weight="normal" font-style="normal" >-0.2</text>
<line x1="504.7" y1="518.3" x2="507.2" y2="518.3" stroke="#222" stroke-width="1"/>
<text x="508.7" y="520.9" font-size="7.5" fill="#222" text-anchor="start" font-weight="normal" font-style="normal" >-0.3</text>
<line x1="504.7" y1="554.3" x2="507.2" y2="554.3" stroke="#222" stroke-width="1"/>
<text x="508.7" y="556.9" font-size="7.5" fill="#222" text-anchor="start" font-weight="normal" font-style="normal" >-0.4</text>
<line x1="504.7" y1="590.3" x2="507.2" y2="590.3" stroke="#222" stroke-width="1"/>
<text x="508.7" y="592.9" font-size="7.5" fill="#222" text-anchor="start" font-weight="normal" font-style="normal" >-0.5</text>
<line x1="371.9" y1="590.3" x2="371.9" y2="592.8" stroke="#222" stroke-width="1"/>
<text x="371.9" y="602.2" font-size="7.5" fill="#222" text-anchor="middle" font-weight="normal" font-style="normal" >1.5</text>
<line x1="395.9" y1="590.3" x2="395.9" y2="592.8" stroke="#222" stroke-width="1"/>
<text x="395.9" y="602.2" font-size="7.5" fill="#222" text-anchor="middle" font-weight="normal" font-style="normal" >1.6</text>
<line x1="420.0" y1="590.3" x2="420.0" y2="592.8" stroke="#222" stroke-width="1"/>
<text x="420.0" y="602.2" font-size="7.5" fill="#222" text-anchor="middle" font-weight="normal" font-style="normal" >1.7</text>
<line x1="444.0" y1="590.3" x2="444.0" y2="592.8" stroke="#222" stroke-width="1"/>
<text x="444.0" y="602.2" font-size="7.5" fill="#222" text-anchor="middle" font-weight="normal" font-style="normal" >1.8</text>
<line x1="468.1" y1="590.3" x2="468.1" y2="592.8" stroke="#222" stroke-width="1"/>
<text x="468.1" y="602.2" font-size="7.5" fill="#222" text-anchor="middle" font-weight="normal" font-style="normal" >1.9</text>
<line x1="492.1" y1="590.3" x2="492.1" y2="592.8" stroke="#222" stroke-width="1"/>
<text x="492.1" y="602.2" font-size="7.5" fill="#222" text-anchor="middle" font-weight="normal" font-style="normal" >2.0</text>
<text x="346.0" y="507.0" font-size="8.2" fill="#222" text-anchor="middle" font-weight="normal" font-style="normal" transform="rotate(-90 346 507)">Energy (eV)</text>
<text x="533.0" y="502.6" font-size="8.3" fill="#222" text-anchor="middle" font-weight="normal" font-style="normal" transform="rotate(-90 533 502.6)">Charge population (e)</text>
<text x="435.0" y="616.0" font-size="7.9" fill="#222" text-anchor="middle" font-weight="normal" font-style="normal" >Collective variable (&#197;,*O-OH)</text>
<line x1="430" y1="427.5" x2="445" y2="427.5" stroke="#404040" stroke-width="1.0" stroke-dasharray="3.2,2.4"/>
<line x1="446" y1="427.5" x2="466" y2="427.5" stroke="#404040" stroke-width="1.1"/>
<line x1="430" y1="437.5" x2="445" y2="437.5" stroke="#2a6ab0" stroke-width="1.0" stroke-dasharray="3.2,2.4"/>
<line x1="446" y1="437.5" x2="466" y2="437.5" stroke="#2a6ab0" stroke-width="1.1"/>
<text x="468.5" y="430.5" font-size="8.2" fill="#222" text-anchor="start" font-weight="normal" font-style="normal" >S-pyriN</text>
<text x="468.5" y="441.0" font-size="8.2" fill="#2a6ab0" text-anchor="start" font-weight="normal" font-style="normal" >M-pyriN</text>
<text x="535.5" y="402.5" font-size="16" fill="#000" text-anchor="start" font-weight="normal" font-style="normal" >h</text>
<text x="535.5" y="505.0" font-size="16" fill="#000" text-anchor="start" font-weight="normal" font-style="normal" >i</text>
<line x1="579.8" y1="419.7" x2="577.6" y2="421.1" stroke="#dadada" stroke-width="2.7" stroke-linecap="round"/>
<line x1="579.8" y1="419.7" x2="577.6" y2="421.1" stroke="#f6f6f6" stroke-width="1.9" stroke-linecap="round"/>
<line x1="581.2" y1="415.8" x2="580.4" y2="413.4" stroke="#dadada" stroke-width="2.7" stroke-linecap="round"/>
<line x1="581.2" y1="415.8" x2="580.4" y2="413.4" stroke="#f6f6f6" stroke-width="1.9" stroke-linecap="round"/>
<line x1="582.0" y1="418.3" x2="579.8" y2="419.7" stroke="#d8b0b0" stroke-width="2.7" stroke-linecap="round"/>
<line x1="582.0" y1="418.3" x2="579.8" y2="419.7" stroke="#f4c4c4" stroke-width="1.9" stroke-linecap="round"/>
<line x1="582.0" y1="418.3" x2="581.2" y2="415.8" stroke="#d8b0b0" stroke-width="2.7" stroke-linecap="round"/>
<line x1="582.0" y1="418.3" x2="581.2" y2="415.8" stroke="#f4c4c4" stroke-width="1.9" stroke-linecap="round"/>
<line x1="607.8" y1="411.3" x2="608.6" y2="408.9" stroke="#dadada" stroke-width="2.7" stroke-linecap="round"/>
<line x1="607.8" y1="411.3" x2="608.6" y2="408.9" stroke="#f6f6f6" stroke-width="1.9" stroke-linecap="round"/>
<line x1="609.2" y1="415.2" x2="611.4" y2="416.6" stroke="#dadada" stroke-width="2.7" stroke-linecap="round"/>
<line x1="609.2" y1="415.2" x2="611.4" y2="416.6" stroke="#f6f6f6" stroke-width="1.9" stroke-linecap="round"/>
<line x1="607.0" y1="413.8" x2="607.8" y2="411.3" stroke="#d8b0b0" stroke-width="2.7" stroke-linecap="round"/>
<line x1="607.0" y1="413.8" x2="607.8" y2="411.3" stroke="#f4c4c4" stroke-width="1.9" stroke-linecap="round"/>
<line x1="607.0" y1="413.8" x2="609.2" y2="415.2" stroke="#d8b0b0" stroke-width="2.7" stroke-linecap="round"/>
<line x1="607.0" y1="413.8" x2="609.2" y2="415.2" stroke="#f4c4c4" stroke-width="1.9" stroke-linecap="round"/>
<line x1="646.7" y1="417.3" x2="649.1" y2="416.4" stroke="#dadada" stroke-width="2.7" stroke-linecap="round"/>
<line x1="646.7" y1="417.3" x2="649.1" y2="416.4" stroke="#f6f6f6" stroke-width="1.9" stroke-linecap="round"/>
<line x1="644.7" y1="420.9" x2="645.0" y2="423.4" stroke="#dadada" stroke-width="2.7" stroke-linecap="round"/>
<line x1="644.7" y1="420.9" x2="645.0" y2="423.4" stroke="#f6f6f6" stroke-width="1.9" stroke-linecap="round"/>
<line x1="644.3" y1="418.3" x2="646.7" y2="417.3" stroke="#d8b0b0" stroke-width="2.7" stroke-linecap="round"/>
<line x1="644.3" y1="418.3" x2="646.7" y2="417.3" stroke="#f4c4c4" stroke-width="1.9" stroke-linecap="round"/>
<line x1="644.3" y1="418.3" x2="644.7" y2="420.9" stroke="#d8b0b0" stroke-width="2.7" stroke-linecap="round"/>
<line x1="644.3" y1="418.3" x2="644.7" y2="420.9" stroke="#f4c4c4" stroke-width="1.9" stroke-linecap="round"/>
<line x1="557.5" y1="436.5" x2="556.7" y2="438.9" stroke="#dadada" stroke-width="2.7" stroke-linecap="round"/>
<line x1="557.5" y1="436.5" x2="556.7" y2="438.9" stroke="#f6f6f6" stroke-width="1.9" stroke-linecap="round"/>
<line x1="556.1" y1="432.6" x2="553.9" y2="431.2" stroke="#dadada" stroke-width="2.7" stroke-linecap="round"/>
<line x1="556.1" y1="432.6" x2="553.9" y2="431.2" stroke="#f6f6f6" stroke-width="1.9" stroke-linecap="round"/>
<line x1="558.3" y1="434.0" x2="557.5" y2="436.5" stroke="#d8b0b0" stroke-width="2.7" stroke-linecap="round"/>
<line x1="558.3" y1="434.0" x2="557.5" y2="436.5" stroke="#f4c4c4" stroke-width="1.9" stroke-linecap="round"/>
<line x1="558.3" y1="434.0" x2="556.1" y2="432.6" stroke="#d8b0b0" stroke-width="2.7" stroke-linecap="round"/>
<line x1="558.3" y1="434.0" x2="556.1" y2="432.6" stroke="#f4c4c4" stroke-width="1.9" stroke-linecap="round"/>
<line x1="570.5" y1="441.5" x2="567.9" y2="442.1" stroke="#dadada" stroke-width="2.7" stroke-linecap="round"/>
<line x1="570.5" y1="441.5" x2="567.9" y2="442.1" stroke="#f6f6f6" stroke-width="1.9" stroke-linecap="round"/>
<line x1="573.1" y1="438.4" x2="573.2" y2="435.8" stroke="#dadada" stroke-width="2.7" stroke-linecap="round"/>
<line x1="573.1" y1="438.4" x2="573.2" y2="435.8" stroke="#f6f6f6" stroke-width="1.9" stroke-linecap="round"/>
<line x1="573.0" y1="441.0" x2="570.5" y2="441.5" stroke="#d8b0b0" stroke-width="2.7" stroke-linecap="round"/>
<line x1="573.0" y1="441.0" x2="570.5" y2="441.5" stroke="#eea0a0" stroke-width="1.9" stroke-linecap="round"/>
<line x1="573.0" y1="441.0" x2="573.1" y2="438.4" stroke="#d8b0b0" stroke-width="2.7" stroke-linecap="round"/>
<line x1="573.0" y1="441.0" x2="573.1" y2="438.4" stroke="#eea0a0" stroke-width="1.9" stroke-linecap="round"/>
<line x1="615.1" y1="441.5" x2="617.7" y2="440.9" stroke="#dadada" stroke-width="2.7" stroke-linecap="round"/>
<line x1="615.1" y1="441.5" x2="617.7" y2="440.9" stroke="#f6f6f6" stroke-width="1.9" stroke-linecap="round"/>
<line x1="612.5" y1="444.6" x2="612.4" y2="447.2" stroke="#dadada" stroke-width="2.7" stroke-linecap="round"/>
<line x1="612.5" y1="444.6" x2="612.4" y2="447.2" stroke="#f6f6f6" stroke-width="1.9" stroke-linecap="round"/>
<line x1="612.6" y1="442.0" x2="615.1" y2="441.5" stroke="#d8b0b0" stroke-width="2.7" stroke-linecap="round"/>
<line x1="612.6" y1="442.0" x2="615.1" y2="441.5" stroke="#f4c4c4" stroke-width="1.9" stroke-linecap="round"/>
<line x1="612.6" y1="442.0" x2="612.5" y2="444.6" stroke="#d8b0b0" stroke-width="2.7" stroke-linecap="round"/>
<line x1="612.6" y1="442.0" x2="612.5" y2="444.6" stroke="#f4c4c4" stroke-width="1.9" stroke-linecap="round"/>
<line x1="619.5" y1="432.8" x2="618.6" y2="430.4" stroke="#dadada" stroke-width="2.7" stroke-linecap="round"/>
<line x1="619.5" y1="432.8" x2="618.6" y2="430.4" stroke="#f6f6f6" stroke-width="1.9" stroke-linecap="round"/>
<line x1="623.1" y1="434.8" x2="625.6" y2="434.5" stroke="#dadada" stroke-width="2.7" stroke-linecap="round"/>
<line x1="623.1" y1="434.8" x2="625.6" y2="434.5" stroke="#f6f6f6" stroke-width="1.9" stroke-linecap="round"/>
<line x1="620.5" y1="435.2" x2="619.5" y2="432.8" stroke="#d8b0b0" stroke-width="2.7" stroke-linecap="round"/>
<line x1="620.5" y1="435.2" x2="619.5" y2="432.8" stroke="#f4c4c4" stroke-width="1.9" stroke-linecap="round"/>
<line x1="620.5" y1="435.2" x2="623.1" y2="434.8" stroke="#d8b0b0" stroke-width="2.7" stroke-linecap="round"/>
<line x1="620.5" y1="435.2" x2="623.1" y2="434.8" stroke="#f4c4c4" stroke-width="1.9" stroke-linecap="round"/>
<line x1="635.7" y1="440.5" x2="637.5" y2="442.5" stroke="#dadada" stroke-width="2.7" stroke-linecap="round"/>
<line x1="635.7" y1="440.5" x2="637.5" y2="442.5" stroke="#f6f6f6" stroke-width="1.9" stroke-linecap="round"/>
<line x1="631.7" y1="439.8" x2="629.4" y2="441.0" stroke="#dadada" stroke-width="2.7" stroke-linecap="round"/>
<line x1="631.7" y1="439.8" x2="629.4" y2="441.0" stroke="#f6f6f6" stroke-width="1.9" stroke-linecap="round"/>
<line x1="634.0" y1="438.6" x2="635.7" y2="440.5" stroke="#d8b0b0" stroke-width="2.7" stroke-linecap="round"/>
<line x1="634.0" y1="438.6" x2="635.7" y2="440.5" stroke="#f4c4c4" stroke-width="1.9" stroke-linecap="round"/>
<line x1="634.0" y1="438.6" x2="631.7" y2="439.8" stroke="#d8b0b0" stroke-width="2.7" stroke-linecap="round"/>
<line x1="634.0" y1="438.6" x2="631.7" y2="439.8" stroke="#f4c4c4" stroke-width="1.9" stroke-linecap="round"/>
<line x1="638.7" y1="434.4" x2="636.5" y2="435.8" stroke="#dadada" stroke-width="2.7" stroke-linecap="round"/>
<line x1="638.7" y1="434.4" x2="636.5" y2="435.8" stroke="#f6f6f6" stroke-width="1.9" stroke-linecap="round"/>
<line x1="640.1" y1="430.5" x2="639.3" y2="428.1" stroke="#dadada" stroke-width="2.7" stroke-linecap="round"/>
<line x1="640.1" y1="430.5" x2="639.3" y2="428.1" stroke="#f6f6f6" stroke-width="1.9" stroke-linecap="round"/>
<line x1="640.9" y1="433.0" x2="638.7" y2="434.4" stroke="#d8b0b0" stroke-width="2.7" stroke-linecap="round"/>
<line x1="640.9" y1="433.0" x2="638.7" y2="434.4" stroke="#f4c4c4" stroke-width="1.9" stroke-linecap="round"/>
<line x1="640.9" y1="433.0" x2="640.1" y2="430.5" stroke="#d8b0b0" stroke-width="2.7" stroke-linecap="round"/>
<line x1="640.9" y1="433.0" x2="640.1" y2="430.5" stroke="#f4c4c4" stroke-width="1.9" stroke-linecap="round"/>
<line x1="552.2" y1="451.4" x2="551.9" y2="453.9" stroke="#dadada" stroke-width="2.7" stroke-linecap="round"/>
<line x1="552.2" y1="451.4" x2="551.9" y2="453.9" stroke="#f6f6f6" stroke-width="1.9" stroke-linecap="round"/>
<line x1="550.2" y1="447.8" x2="547.8" y2="446.9" stroke="#dadada" stroke-width="2.7" stroke-linecap="round"/>
<line x1="550.2" y1="447.8" x2="547.8" y2="446.9" stroke="#f6f6f6" stroke-width="1.9" stroke-linecap="round"/>
<line x1="552.6" y1="448.8" x2="552.2" y2="451.4" stroke="#d8b0b0" stroke-width="2.7" stroke-linecap="round"/>
<line x1="552.6" y1="448.8" x2="552.2" y2="451.4" stroke="#eea0a0" stroke-width="1.9" stroke-linecap="round"/>
<line x1="552.6" y1="448.8" x2="550.2" y2="447.8" stroke="#d8b0b0" stroke-width="2.7" stroke-linecap="round"/>
<line x1="552.6" y1="448.8" x2="550.2" y2="447.8" stroke="#eea0a0" stroke-width="1.9" stroke-linecap="round"/>
<line x1="649.9" y1="450.0" x2="652.2" y2="451.2" stroke="#dadada" stroke-width="2.7" stroke-linecap="round"/>
<line x1="649.9" y1="450.0" x2="652.2" y2="451.2" stroke="#f6f6f6" stroke-width="1.9" stroke-linecap="round"/>
<line x1="645.9" y1="450.7" x2="644.1" y2="452.7" stroke="#dadada" stroke-width="2.7" stroke-linecap="round"/>
<line x1="645.9" y1="450.7" x2="644.1" y2="452.7" stroke="#f6f6f6" stroke-width="1.9" stroke-linecap="round"/>
<line x1="647.6" y1="448.8" x2="649.9" y2="450.0" stroke="#d8b0b0" stroke-width="2.7" stroke-linecap="round"/>
<line x1="647.6" y1="448.8" x2="649.9" y2="450.0" stroke="#f4c4c4" stroke-width="1.9" stroke-linecap="round"/>
<line x1="647.6" y1="448.8" x2="645.9" y2="450.7" stroke="#d8b0b0" stroke-width="2.7" stroke-linecap="round"/>
<line x1="647.6" y1="448.8" x2="645.9" y2="450.7" stroke="#f4c4c4" stroke-width="1.9" stroke-linecap="round"/>
<line x1="665.6" y1="444.0" x2="665.5" y2="441.4" stroke="#dadada" stroke-width="2.7" stroke-linecap="round"/>
<line x1="665.6" y1="444.0" x2="665.5" y2="441.4" stroke="#f6f6f6" stroke-width="1.9" stroke-linecap="round"/>
<line x1="668.2" y1="447.1" x2="670.8" y2="447.7" stroke="#dadada" stroke-width="2.7" stroke-linecap="round"/>
<line x1="668.2" y1="447.1" x2="670.8" y2="447.7" stroke="#f6f6f6" stroke-width="1.9" stroke-linecap="round"/>
<line x1="665.7" y1="446.6" x2="665.6" y2="444.0" stroke="#d8b0b0" stroke-width="2.7" stroke-linecap="round"/>
<line x1="665.7" y1="446.6" x2="665.6" y2="444.0" stroke="#eea0a0" stroke-width="1.9" stroke-linecap="round"/>
<line x1="665.7" y1="446.6" x2="668.2" y2="447.1" stroke="#d8b0b0" stroke-width="2.7" stroke-linecap="round"/>
<line x1="665.7" y1="446.6" x2="668.2" y2="447.1" stroke="#eea0a0" stroke-width="1.9" stroke-linecap="round"/>
<line x1="596.9" y1="426.3" x2="598.9" y2="424.5" stroke="#dadada" stroke-width="2.7" stroke-linecap="round"/>
<line x1="596.9" y1="426.3" x2="598.9" y2="424.5" stroke="#f6f6f6" stroke-width="1.9" stroke-linecap="round"/>
<line x1="596.2" y1="430.3" x2="597.4" y2="432.6" stroke="#dadada" stroke-width="2.7" stroke-linecap="round"/>
<line x1="596.2" y1="430.3" x2="597.4" y2="432.6" stroke="#f6f6f6" stroke-width="1.9" stroke-linecap="round"/>
<line x1="595.0" y1="428.0" x2="596.9" y2="426.3" stroke="#d8b0b0" stroke-width="2.7" stroke-linecap="round"/>
<line x1="595.0" y1="428.0" x2="596.9" y2="426.3" stroke="#f4c4c4" stroke-width="1.9" stroke-linecap="round"/>
<line x1="595.0" y1="428.0" x2="596.2" y2="430.3" stroke="#d8b0b0" stroke-width="2.7" stroke-linecap="round"/>
<line x1="595.0" y1="428.0" x2="596.2" y2="430.3" stroke="#f4c4c4" stroke-width="1.9" stroke-linecap="round"/>
<line x1="622.5" y1="423.2" x2="620.1" y2="422.4" stroke="#dadada" stroke-width="2.7" stroke-linecap="round"/>
<line x1="622.5" y1="423.2" x2="620.1" y2="422.4" stroke="#f6f6f6" stroke-width="1.9" stroke-linecap="round"/>
<line x1="626.4" y1="421.8" x2="627.8" y2="419.6" stroke="#dadada" stroke-width="2.7" stroke-linecap="round"/>
<line x1="626.4" y1="421.8" x2="627.8" y2="419.6" stroke="#f6f6f6" stroke-width="1.9" stroke-linecap="round"/>
<line x1="625.0" y1="424.0" x2="622.5" y2="423.2" stroke="#d8b0b0" stroke-width="2.7" stroke-linecap="round"/>
<line x1="625.0" y1="424.0" x2="622.5" y2="423.2" stroke="#f4c4c4" stroke-width="1.9" stroke-linecap="round"/>
<line x1="625.0" y1="424.0" x2="626.4" y2="421.8" stroke="#d8b0b0" stroke-width="2.7" stroke-linecap="round"/>
<line x1="625.0" y1="424.0" x2="626.4" y2="421.8" stroke="#f4c4c4" stroke-width="1.9" stroke-linecap="round"/>
<line x1="654.0" y1="427.6" x2="653.1" y2="425.2" stroke="#dadada" stroke-width="2.7" stroke-linecap="round"/>
<line x1="654.0" y1="427.6" x2="653.1" y2="425.2" stroke="#f6f6f6" stroke-width="1.9" stroke-linecap="round"/>
<line x1="657.6" y1="429.6" x2="660.1" y2="429.3" stroke="#dadada" stroke-width="2.7" stroke-linecap="round"/>
<line x1="657.6" y1="429.6" x2="660.1" y2="429.3" stroke="#f6f6f6" stroke-width="1.9" stroke-linecap="round"/>
<line x1="655.0" y1="430.0" x2="654.0" y2="427.6" stroke="#d8b0b0" stroke-width="2.7" stroke-linecap="round"/>
<line x1="655.0" y1="430.0" x2="654.0" y2="427.6" stroke="#f4c4c4" stroke-width="1.9" stroke-linecap="round"/>
<line x1="655.0" y1="430.0" x2="657.6" y2="429.6" stroke="#d8b0b0" stroke-width="2.7" stroke-linecap="round"/>
<line x1="655.0" y1="430.0" x2="657.6" y2="429.6" stroke="#f4c4c4" stroke-width="1.9" stroke-linecap="round"/>
<line x1="565.0" y1="444.5" x2="562.4" y2="444.6" stroke="#dadada" stroke-width="2.7" stroke-linecap="round"/>
<line x1="565.0" y1="444.5" x2="562.4" y2="444.6" stroke="#f6f6f6" stroke-width="1.9" stroke-linecap="round"/>
<line x1="568.1" y1="441.8" x2="568.6" y2="439.2" stroke="#dadada" stroke-width="2.7" stroke-linecap="round"/>
<line x1="568.1" y1="441.8" x2="568.6" y2="439.2" stroke="#f6f6f6" stroke-width="1.9" stroke-linecap="round"/>
<line x1="567.6" y1="444.3" x2="565.0" y2="444.5" stroke="#d8b0b0" stroke-width="2.7" stroke-linecap="round"/>
<line x1="567.6" y1="444.3" x2="565.0" y2="444.5" stroke="#eea0a0" stroke-width="1.9" stroke-linecap="round"/>
<line x1="567.6" y1="444.3" x2="568.1" y2="441.8" stroke="#d8b0b0" stroke-width="2.7" stroke-linecap="round"/>
<line x1="567.6" y1="444.3" x2="568.1" y2="441.8" stroke="#eea0a0" stroke-width="1.9" stroke-linecap="round"/>
<line x1="573.2" y1="448.0" x2="571.9" y2="445.7" stroke="#dadada" stroke-width="2.7" stroke-linecap="round"/>
<line x1="573.2" y1="448.0" x2="571.9" y2="445.7" stroke="#f6f6f6" stroke-width="1.9" stroke-linecap="round"/>
<line x1="577.1" y1="449.4" x2="579.6" y2="448.6" stroke="#dadada" stroke-width="2.7" stroke-linecap="round"/>
<line x1="577.1" y1="449.4" x2="579.6" y2="448.6" stroke="#f6f6f6" stroke-width="1.9" stroke-linecap="round"/>
<line x1="574.6" y1="450.2" x2="573.2" y2="448.0" stroke="#d8b0b0" stroke-width="2.7" stroke-linecap="round"/>
<line x1="574.6" y1="450.2" x2="573.2" y2="448.0" stroke="#eea0a0" stroke-width="1.9" stroke-linecap="round"/>
<line x1="574.6" y1="450.2" x2="577.1" y2="449.4" stroke="#d8b0b0" stroke-width="2.7" stroke-linecap="round"/>
<line x1="574.6" y1="450.2" x2="577.1" y2="449.4" stroke="#eea0a0" stroke-width="1.9" stroke-linecap="round"/>
<line x1="615.8" y1="416.4" x2="617.5" y2="414.4" stroke="#dadada" stroke-width="2.7" stroke-linecap="round"/>
<line x1="615.8" y1="416.4" x2="617.5" y2="414.4" stroke="#f6f6f6" stroke-width="1.9" stroke-linecap="round"/>
<line x1="615.8" y1="420.5" x2="617.3" y2="422.6" stroke="#dadada" stroke-width="2.7" stroke-linecap="round"/>
<line x1="615.8" y1="420.5" x2="617.3" y2="422.6" stroke="#f6f6f6" stroke-width="1.9" stroke-linecap="round"/>
<line x1="614.2" y1="418.5" x2="615.8" y2="416.4" stroke="#d8b0b0" stroke-width="2.7" stroke-linecap="round"/>
<line x1="614.2" y1="418.5" x2="615.8" y2="416.4" stroke="#eea0a0" stroke-width="1.9" stroke-linecap="round"/>
<line x1="614.2" y1="418.5" x2="615.8" y2="420.5" stroke="#d8b0b0" stroke-width="2.7" stroke-linecap="round"/>
<line x1="614.2" y1="418.5" x2="615.8" y2="420.5" stroke="#eea0a0" stroke-width="1.9" stroke-linecap="round"/>
<line x1="623.7" y1="406.9" x2="622.1" y2="404.8" stroke="#dadada" stroke-width="2.7" stroke-linecap="round"/>
<line x1="623.7" y1="406.9" x2="622.1" y2="404.8" stroke="#f6f6f6" stroke-width="1.9" stroke-linecap="round"/>
<line x1="627.6" y1="408.0" x2="630.0" y2="407.0" stroke="#dadada" stroke-width="2.7" stroke-linecap="round"/>
<line x1="627.6" y1="408.0" x2="630.0" y2="407.0" stroke="#f6f6f6" stroke-width="1.9" stroke-linecap="round"/>
<line x1="625.2" y1="408.9" x2="623.7" y2="406.9" stroke="#d8b0b0" stroke-width="2.7" stroke-linecap="round"/>
<line x1="625.2" y1="408.9" x2="623.7" y2="406.9" stroke="#f4c4c4" stroke-width="1.9" stroke-linecap="round"/>
<line x1="625.2" y1="408.9" x2="627.6" y2="408.0" stroke="#d8b0b0" stroke-width="2.7" stroke-linecap="round"/>
<line x1="625.2" y1="408.9" x2="627.6" y2="408.0" stroke="#f4c4c4" stroke-width="1.9" stroke-linecap="round"/>
<line x1="578.4" y1="405.3" x2="580.0" y2="403.3" stroke="#dadada" stroke-width="2.7" stroke-linecap="round"/>
<line x1="578.4" y1="405.3" x2="580.0" y2="403.3" stroke="#f6f6f6" stroke-width="1.9" stroke-linecap="round"/>
<line x1="578.5" y1="409.4" x2="580.1" y2="411.5" stroke="#dadada" stroke-width="2.7" stroke-linecap="round"/>
<line x1="578.5" y1="409.4" x2="580.1" y2="411.5" stroke="#f6f6f6" stroke-width="1.9" stroke-linecap="round"/>
<line x1="576.9" y1="407.4" x2="578.4" y2="405.3" stroke="#d8b0b0" stroke-width="2.7" stroke-linecap="round"/>
<line x1="576.9" y1="407.4" x2="578.4" y2="405.3" stroke="#eea0a0" stroke-width="1.9" stroke-linecap="round"/>
<line x1="576.9" y1="407.4" x2="578.5" y2="409.4" stroke="#d8b0b0" stroke-width="2.7" stroke-linecap="round"/>
<line x1="576.9" y1="407.4" x2="578.5" y2="409.4" stroke="#eea0a0" stroke-width="1.9" stroke-linecap="round"/>
<line x1="663.8" y1="406.8" x2="664.2" y2="404.3" stroke="#b0b0b0" stroke-width="2.6" stroke-linecap="round"/>
<line x1="663.8" y1="406.8" x2="664.2" y2="404.3" stroke="#f4f4f4" stroke-width="1.8" stroke-linecap="round"/>
<line x1="665.8" y1="410.1" x2="668.1" y2="411.1" stroke="#b0b0b0" stroke-width="2.6" stroke-linecap="round"/>
<line x1="665.8" y1="410.1" x2="668.1" y2="411.1" stroke="#f4f4f4" stroke-width="1.8" stroke-linecap="round"/>
<line x1="663.5" y1="409.2" x2="663.8" y2="406.8" stroke="#8a1010" stroke-width="2.6" stroke-linecap="round"/>
<line x1="663.5" y1="409.2" x2="663.8" y2="406.8" stroke="#d81818" stroke-width="1.8" stroke-linecap="round"/>
<line x1="663.5" y1="409.2" x2="665.8" y2="410.1" stroke="#8a1010" stroke-width="2.6" stroke-linecap="round"/>
<line x1="663.5" y1="409.2" x2="665.8" y2="410.1" stroke="#d81818" stroke-width="1.8" stroke-linecap="round"/>
<line x1="577.7" y1="443.3" x2="575.6" y2="444.6" stroke="#b0b0b0" stroke-width="2.6" stroke-linecap="round"/>
<line x1="577.7" y1="443.3" x2="575.6" y2="444.6" stroke="#f4f4f4" stroke-width="1.8" stroke-linecap="round"/>
<line x1="579.0" y1="439.7" x2="578.3" y2="437.3" stroke="#b0b0b0" stroke-width="2.6" stroke-linecap="round"/>
<line x1="579.0" y1="439.7" x2="578.3" y2="437.3" stroke="#f4f4f4" stroke-width="1.8" stroke-linecap="round"/>
<line x1="579.8" y1="442.0" x2="577.7" y2="443.3" stroke="#8a1010" stroke-width="2.6" stroke-linecap="round"/>
<line x1="579.8" y1="442.0" x2="577.7" y2="443.3" stroke="#d81818" stroke-width="1.8" stroke-linecap="round"/>
<line x1="579.8" y1="442.0" x2="579.0" y2="439.7" stroke="#8a1010" stroke-width="2.6" stroke-linecap="round"/>
<line x1="579.8" y1="442.0" x2="579.0" y2="439.7" stroke="#d81818" stroke-width="1.8" stroke-linecap="round"/>
<line x1="542.1" y1="445.8" x2="544.1" y2="447.3" stroke="#b0b0b0" stroke-width="2.6" stroke-linecap="round"/>
<line x1="542.1" y1="445.8" x2="544.1" y2="447.3" stroke="#f4f4f4" stroke-width="1.8" stroke-linecap="round"/>
<line x1="538.3" y1="445.8" x2="536.3" y2="447.3" stroke="#b0b0b0" stroke-width="2.6" stroke-linecap="round"/>
<line x1="538.3" y1="445.8" x2="536.3" y2="447.3" stroke="#f4f4f4" stroke-width="1.8" stroke-linecap="round"/>
<line x1="540.2" y1="444.3" x2="542.1" y2="445.8" stroke="#8a1010" stroke-width="2.6" stroke-linecap="round"/>
<line x1="540.2" y1="444.3" x2="542.1" y2="445.8" stroke="#d81818" stroke-width="1.8" stroke-linecap="round"/>
<line x1="540.2" y1="444.3" x2="538.3" y2="445.8" stroke="#8a1010" stroke-width="2.6" stroke-linecap="round"/>
<line x1="540.2" y1="444.3" x2="538.3" y2="445.8" stroke="#d81818" stroke-width="1.8" stroke-linecap="round"/>
<line x1="624.2" y1="460.9" x2="622.7" y2="462.9" stroke="#b0b0b0" stroke-width="2.6" stroke-linecap="round"/>
<line x1="624.2" y1="460.9" x2="622.7" y2="462.9" stroke="#f4f4f4" stroke-width="1.8" stroke-linecap="round"/>
<line x1="624.2" y1="457.1" x2="622.7" y2="455.1" stroke="#b0b0b0" stroke-width="2.6" stroke-linecap="round"/>
<line x1="624.2" y1="457.1" x2="622.7" y2="455.1" stroke="#f4f4f4" stroke-width="1.8" stroke-linecap="round"/>
<line x1="625.7" y1="459.0" x2="624.2" y2="460.9" stroke="#8a1010" stroke-width="2.6" stroke-linecap="round"/>
<line x1="625.7" y1="459.0" x2="624.2" y2="460.9" stroke="#d81818" stroke-width="1.8" stroke-linecap="round"/>
<line x1="625.7" y1="459.0" x2="624.2" y2="457.1" stroke="#8a1010" stroke-width="2.6" stroke-linecap="round"/>
<line x1="625.7" y1="459.0" x2="624.2" y2="457.1" stroke="#d81818" stroke-width="1.8" stroke-linecap="round"/>
<line x1="639.9" y1="463.7" x2="637.8" y2="465.0" stroke="#b0b0b0" stroke-width="2.6" stroke-linecap="round"/>
<line x1="639.9" y1="463.7" x2="637.8" y2="465.0" stroke="#f4f4f4" stroke-width="1.8" stroke-linecap="round"/>
<line x1="641.2" y1="460.1" x2="640.5" y2="457.7" stroke="#b0b0b0" stroke-width="2.6" stroke-linecap="round"/>
<line x1="641.2" y1="460.1" x2="640.5" y2="457.7" stroke="#f4f4f4" stroke-width="1.8" stroke-linecap="round"/>
<line x1="642.0" y1="462.4" x2="639.9" y2="463.7" stroke="#8a1010" stroke-width="2.6" stroke-linecap="round"/>
<line x1="642.0" y1="462.4" x2="639.9" y2="463.7" stroke="#d81818" stroke-width="1.8" stroke-linecap="round"/>
<line x1="642.0" y1="462.4" x2="641.2" y2="460.1" stroke="#8a1010" stroke-width="2.6" stroke-linecap="round"/>
<line x1="642.0" y1="462.4" x2="641.2" y2="460.1" stroke="#d81818" stroke-width="1.8" stroke-linecap="round"/>
<line x1="668.0" y1="464.9" x2="670.3" y2="463.9" stroke="#b0b0b0" stroke-width="2.6" stroke-linecap="round"/>
<line x1="668.0" y1="464.9" x2="670.3" y2="463.9" stroke="#f4f4f4" stroke-width="1.8" stroke-linecap="round"/>
<line x1="666.0" y1="468.2" x2="666.4" y2="470.7" stroke="#b0b0b0" stroke-width="2.6" stroke-linecap="round"/>
<line x1="666.0" y1="468.2" x2="666.4" y2="470.7" stroke="#f4f4f4" stroke-width="1.8" stroke-linecap="round"/>
<line x1="665.7" y1="465.8" x2="668.0" y2="464.9" stroke="#8a1010" stroke-width="2.6" stroke-linecap="round"/>
<line x1="665.7" y1="465.8" x2="668.0" y2="464.9" stroke="#d81818" stroke-width="1.8" stroke-linecap="round"/>
<line x1="665.7" y1="465.8" x2="666.0" y2="468.2" stroke="#8a1010" stroke-width="2.6" stroke-linecap="round"/>
<line x1="665.7" y1="465.8" x2="666.0" y2="468.2" stroke="#d81818" stroke-width="1.8" stroke-linecap="round"/>
<line x1="632.5" y1="473.2" x2="630.1" y2="473.7" stroke="#b0b0b0" stroke-width="2.6" stroke-linecap="round"/>
<line x1="632.5" y1="473.2" x2="630.1" y2="473.7" stroke="#f4f4f4" stroke-width="1.8" stroke-linecap="round"/>
<line x1="635.0" y1="470.2" x2="635.1" y2="467.8" stroke="#b0b0b0" stroke-width="2.6" stroke-linecap="round"/>
<line x1="635.0" y1="470.2" x2="635.1" y2="467.8" stroke="#f4f4f4" stroke-width="1.8" stroke-linecap="round"/>
<line x1="634.9" y1="472.7" x2="632.5" y2="473.2" stroke="#8a1010" stroke-width="2.6" stroke-linecap="round"/>
<line x1="634.9" y1="472.7" x2="632.5" y2="473.2" stroke="#d81818" stroke-width="1.8" stroke-linecap="round"/>
<line x1="634.9" y1="472.7" x2="635.0" y2="470.2" stroke="#8a1010" stroke-width="2.6" stroke-linecap="round"/>
<line x1="634.9" y1="472.7" x2="635.0" y2="470.2" stroke="#d81818" stroke-width="1.8" stroke-linecap="round"/>
<line x1="656.6" y1="474.6" x2="656.5" y2="472.2" stroke="#b0b0b0" stroke-width="2.6" stroke-linecap="round"/>
<line x1="656.6" y1="474.6" x2="656.5" y2="472.2" stroke="#f4f4f4" stroke-width="1.8" stroke-linecap="round"/>
<line x1="659.1" y1="477.6" x2="661.5" y2="478.1" stroke="#b0b0b0" stroke-width="2.6" stroke-linecap="round"/>
<line x1="659.1" y1="477.6" x2="661.5" y2="478.1" stroke="#f4f4f4" stroke-width="1.8" stroke-linecap="round"/>
<line x1="656.7" y1="477.1" x2="656.6" y2="474.6" stroke="#8a1010" stroke-width="2.6" stroke-linecap="round"/>
<line x1="656.7" y1="477.1" x2="656.6" y2="474.6" stroke="#d81818" stroke-width="1.8" stroke-linecap="round"/>
<line x1="656.7" y1="477.1" x2="659.1" y2="477.6" stroke="#8a1010" stroke-width="2.6" stroke-linecap="round"/>
<line x1="656.7" y1="477.1" x2="659.1" y2="477.6" stroke="#d81818" stroke-width="1.8" stroke-linecap="round"/>
<line x1="662.1" y1="483.9" x2="663.1" y2="486.2" stroke="#b0b0b0" stroke-width="2.6" stroke-linecap="round"/>
<line x1="662.1" y1="483.9" x2="663.1" y2="486.2" stroke="#f4f4f4" stroke-width="1.8" stroke-linecap="round"/>
<line x1="658.8" y1="481.9" x2="656.3" y2="482.3" stroke="#b0b0b0" stroke-width="2.6" stroke-linecap="round"/>
<line x1="658.8" y1="481.9" x2="656.3" y2="482.3" stroke="#f4f4f4" stroke-width="1.8" stroke-linecap="round"/>
<line x1="661.2" y1="481.6" x2="662.1" y2="483.9" stroke="#8a1010" stroke-width="2.6" stroke-linecap="round"/>
<line x1="661.2" y1="481.6" x2="662.1" y2="483.9" stroke="#d81818" stroke-width="1.8" stroke-linecap="round"/>
<line x1="661.2" y1="481.6" x2="658.8" y2="481.9" stroke="#8a1010" stroke-width="2.6" stroke-linecap="round"/>
<line x1="661.2" y1="481.6" x2="658.8" y2="481.9" stroke="#d81818" stroke-width="1.8" stroke-linecap="round"/>
<line x1="546.8" y1="467.9" x2="548.9" y2="466.6" stroke="#b0b0b0" stroke-width="2.6" stroke-linecap="round"/>
<line x1="546.8" y1="467.9" x2="548.9" y2="466.6" stroke="#f4f4f4" stroke-width="1.8" stroke-linecap="round"/>
<line x1="545.5" y1="471.5" x2="546.2" y2="473.9" stroke="#b0b0b0" stroke-width="2.6" stroke-linecap="round"/>
<line x1="545.5" y1="471.5" x2="546.2" y2="473.9" stroke="#f4f4f4" stroke-width="1.8" stroke-linecap="round"/>
<line x1="544.7" y1="469.2" x2="546.8" y2="467.9" stroke="#8a1010" stroke-width="2.6" stroke-linecap="round"/>
<line x1="544.7" y1="469.2" x2="546.8" y2="467.9" stroke="#d81818" stroke-width="1.8" stroke-linecap="round"/>
<line x1="544.7" y1="469.2" x2="545.5" y2="471.5" stroke="#8a1010" stroke-width="2.6" stroke-linecap="round"/>
<line x1="544.7" y1="469.2" x2="545.5" y2="471.5" stroke="#d81818" stroke-width="1.8" stroke-linecap="round"/>
<line x1="553.0" y1="471.5" x2="552.3" y2="473.9" stroke="#b0b0b0" stroke-width="2.6" stroke-linecap="round"/>
<line x1="553.0" y1="471.5" x2="552.3" y2="473.9" stroke="#f4f4f4" stroke-width="1.8" stroke-linecap="round"/>
<line x1="551.7" y1="467.9" x2="549.6" y2="466.6" stroke="#b0b0b0" stroke-width="2.6" stroke-linecap="round"/>
<line x1="551.7" y1="467.9" x2="549.6" y2="466.6" stroke="#f4f4f4" stroke-width="1.8" stroke-linecap="round"/>
<line x1="553.8" y1="469.2" x2="553.0" y2="471.5" stroke="#8a1010" stroke-width="2.6" stroke-linecap="round"/>
<line x1="553.8" y1="469.2" x2="553.0" y2="471.5" stroke="#d81818" stroke-width="1.8" stroke-linecap="round"/>
<line x1="553.8" y1="469.2" x2="551.7" y2="467.9" stroke="#8a1010" stroke-width="2.6" stroke-linecap="round"/>
<line x1="553.8" y1="469.2" x2="551.7" y2="467.9" stroke="#d81818" stroke-width="1.8" stroke-linecap="round"/>
<line x1="561.3" y1="480.9" x2="563.3" y2="482.4" stroke="#b0b0b0" stroke-width="2.6" stroke-linecap="round"/>
<line x1="561.3" y1="480.9" x2="563.3" y2="482.4" stroke="#f4f4f4" stroke-width="1.8" stroke-linecap="round"/>
<line x1="557.5" y1="480.9" x2="555.5" y2="482.4" stroke="#b0b0b0" stroke-width="2.6" stroke-linecap="round"/>
<line x1="557.5" y1="480.9" x2="555.5" y2="482.4" stroke="#f4f4f4" stroke-width="1.8" stroke-linecap="round"/>
<line x1="559.4" y1="479.4" x2="561.3" y2="480.9" stroke="#8a1010" stroke-width="2.6" stroke-linecap="round"/>
<line x1="559.4" y1="479.4" x2="561.3" y2="480.9" stroke="#d81818" stroke-width="1.8" stroke-linecap="round"/>
<line x1="559.4" y1="479.4" x2="557.5" y2="480.9" stroke="#8a1010" stroke-width="2.6" stroke-linecap="round"/>
<line x1="559.4" y1="479.4" x2="557.5" y2="480.9" stroke="#d81818" stroke-width="1.8" stroke-linecap="round"/>
<line x1="611.1" y1="449.7" x2="610.1" y2="447.4" stroke="#b0b0b0" stroke-width="2.6" stroke-linecap="round"/>
<line x1="611.1" y1="449.7" x2="610.1" y2="447.4" stroke="#f4f4f4" stroke-width="1.8" stroke-linecap="round"/>
<line x1="614.4" y1="451.7" x2="616.9" y2="451.3" stroke="#b0b0b0" stroke-width="2.6" stroke-linecap="round"/>
<line x1="614.4" y1="451.7" x2="616.9" y2="451.3" stroke="#f4f4f4" stroke-width="1.8" stroke-linecap="round"/>
<line x1="612.0" y1="452.0" x2="611.1" y2="449.7" stroke="#8a1010" stroke-width="2.6" stroke-linecap="round"/>
<line x1="612.0" y1="452.0" x2="611.1" y2="449.7" stroke="#d81818" stroke-width="1.8" stroke-linecap="round"/>
<line x1="612.0" y1="452.0" x2="614.4" y2="451.7" stroke="#8a1010" stroke-width="2.6" stroke-linecap="round"/>
<line x1="612.0" y1="452.0" x2="614.4" y2="451.7" stroke="#d81818" stroke-width="1.8" stroke-linecap="round"/>
<line x1="570.5" y1="457.6" x2="569.8" y2="462.4" stroke="#ccc" stroke-width="1.6"/>
<circle cx="569.8" cy="462.4" r="2.0" fill="url(#gWh)" stroke="#aaa" stroke-width="0.3"/>
<line x1="570.5" y1="457.6" x2="566.0" y2="455.8" stroke="#ccc" stroke-width="1.6"/>
<circle cx="566.0" cy="455.8" r="2.0" fill="url(#gWh)" stroke="#aaa" stroke-width="0.3"/>
<circle cx="570.5" cy="457.6" r="2.7" fill="url(#gRd)"/>
<line x1="591.5" y1="464.9" x2="587.4" y2="467.4" stroke="#ccc" stroke-width="1.6"/>
<circle cx="587.4" cy="467.4" r="2.0" fill="url(#gWh)" stroke="#aaa" stroke-width="0.3"/>
<line x1="591.5" y1="464.9" x2="590.0" y2="460.3" stroke="#ccc" stroke-width="1.6"/>
<circle cx="590.0" cy="460.3" r="2.0" fill="url(#gWh)" stroke="#aaa" stroke-width="0.3"/>
<circle cx="591.5" cy="464.9" r="2.7" fill="url(#gRd)"/>
<line x1="606.0" y1="460.9" x2="609.0" y2="457.1" stroke="#ccc" stroke-width="1.6"/>
<circle cx="609.0" cy="457.1" r="2.0" fill="url(#gWh)" stroke="#aaa" stroke-width="0.3"/>
<line x1="606.0" y1="460.9" x2="609.0" y2="464.7" stroke="#ccc" stroke-width="1.6"/>
<circle cx="609.0" cy="464.7" r="2.0" fill="url(#gWh)" stroke="#aaa" stroke-width="0.3"/>
<circle cx="606.0" cy="460.9" r="2.7" fill="url(#gRd)"/>
<line x1="620.4" y1="466.2" x2="622.2" y2="470.7" stroke="#ccc" stroke-width="1.6"/>
<circle cx="622.2" cy="470.7" r="2.0" fill="url(#gWh)" stroke="#aaa" stroke-width="0.3"/>
<line x1="620.4" y1="466.2" x2="615.6" y2="466.9" stroke="#ccc" stroke-width="1.6"/>
<circle cx="615.6" cy="466.9" r="2.0" fill="url(#gWh)" stroke="#aaa" stroke-width="0.3"/>
<circle cx="620.4" cy="466.2" r="2.7" fill="url(#gRd)"/>
<circle cx="599.5" cy="469.2" r="2.5" fill="url(#gWh)" stroke="#aaa" stroke-width="0.25"/>
<circle cx="611.9" cy="469.7" r="2.5" fill="url(#gWh)" stroke="#aaa" stroke-width="0.25"/>
<circle cx="588.9" cy="470.5" r="2.5" fill="url(#gWh)" stroke="#aaa" stroke-width="0.25"/>
<circle cx="601.7" cy="470.9" r="1.7" fill="url(#gGy)"/>
<line x1="601.7" y1="470.9" x2="608.2" y2="471.1" stroke="#555" stroke-width="2.3" stroke-linecap="round"/>
<line x1="601.7" y1="470.9" x2="608.2" y2="471.1" stroke="#a4a4a4" stroke-width="1.3" stroke-linecap="round"/>
<circle cx="608.2" cy="471.1" r="1.7" fill="url(#gGy)"/>
<line x1="597.6" y1="472.4" x2="601.7" y2="470.9" stroke="#555" stroke-width="2.3" stroke-linecap="round"/>
<line x1="597.6" y1="472.4" x2="601.7" y2="470.9" stroke="#a4a4a4" stroke-width="1.3" stroke-linecap="round"/>
<circle cx="578.3" cy="471.8" r="2.5" fill="url(#gWh)" stroke="#aaa" stroke-width="0.25"/>
<circle cx="620.9" cy="471.9" r="2.5" fill="url(#gWh)" stroke="#aaa" stroke-width="0.25"/>
<line x1="608.2" y1="471.1" x2="610.7" y2="473.0" stroke="#555" stroke-width="2.3" stroke-linecap="round"/>
<line x1="608.2" y1="471.1" x2="610.7" y2="473.0" stroke="#a4a4a4" stroke-width="1.3" stroke-linecap="round"/>
<circle cx="591.1" cy="472.2" r="1.7" fill="url(#gGy)"/>
<line x1="591.1" y1="472.2" x2="597.6" y2="472.4" stroke="#555" stroke-width="2.3" stroke-linecap="round"/>
<line x1="591.1" y1="472.2" x2="597.6" y2="472.4" stroke="#a4a4a4" stroke-width="1.3" stroke-linecap="round"/>
<circle cx="597.6" cy="472.4" r="1.7" fill="url(#gGy)"/>
<line x1="587.0" y1="473.7" x2="591.1" y2="472.2" stroke="#555" stroke-width="2.3" stroke-linecap="round"/>
<line x1="587.0" y1="473.7" x2="591.1" y2="472.2" stroke="#a4a4a4" stroke-width="1.3" stroke-linecap="round"/>
<circle cx="610.7" cy="473.0" r="1.7" fill="url(#gGy)"/>
<line x1="610.7" y1="473.0" x2="617.3" y2="473.3" stroke="#555" stroke-width="2.3" stroke-linecap="round"/>
<line x1="610.7" y1="473.0" x2="617.3" y2="473.3" stroke="#a4a4a4" stroke-width="1.3" stroke-linecap="round"/>
<circle cx="617.3" cy="473.3" r="1.7" fill="url(#gGy)"/>
<line x1="597.6" y1="472.4" x2="600.1" y2="474.3" stroke="#555" stroke-width="2.3" stroke-linecap="round"/>
<line x1="597.6" y1="472.4" x2="600.1" y2="474.3" stroke="#a4a4a4" stroke-width="1.3" stroke-linecap="round"/>
<circle cx="580.5" cy="473.4" r="1.7" fill="url(#gGy)"/>
<line x1="580.5" y1="473.4" x2="587.0" y2="473.7" stroke="#555" stroke-width="2.3" stroke-linecap="round"/>
<line x1="580.5" y1="473.4" x2="587.0" y2="473.7" stroke="#a4a4a4" stroke-width="1.3" stroke-linecap="round"/>
<circle cx="587.0" cy="473.7" r="1.7" fill="url(#gGy)"/>
<line x1="606.7" y1="474.5" x2="610.7" y2="473.0" stroke="#555" stroke-width="2.3" stroke-linecap="round"/>
<line x1="606.7" y1="474.5" x2="610.7" y2="473.0" stroke="#a4a4a4" stroke-width="1.3" stroke-linecap="round"/>
<circle cx="629.9" cy="474.0" r="2.5" fill="url(#gWh)" stroke="#aaa" stroke-width="0.25"/>
<line x1="617.3" y1="473.3" x2="619.7" y2="475.1" stroke="#555" stroke-width="2.3" stroke-linecap="round"/>
<line x1="617.3" y1="473.3" x2="619.7" y2="475.1" stroke="#a4a4a4" stroke-width="1.3" stroke-linecap="round"/>
<line x1="576.4" y1="475.0" x2="580.5" y2="473.4" stroke="#555" stroke-width="2.3" stroke-linecap="round"/>
<line x1="576.4" y1="475.0" x2="580.5" y2="473.4" stroke="#a4a4a4" stroke-width="1.3" stroke-linecap="round"/>
<circle cx="600.1" cy="474.3" r="1.7" fill="url(#gGy)"/>
<line x1="600.1" y1="474.3" x2="606.7" y2="474.5" stroke="#555" stroke-width="2.3" stroke-linecap="round"/>
<line x1="600.1" y1="474.3" x2="606.7" y2="474.5" stroke="#a4a4a4" stroke-width="1.3" stroke-linecap="round"/>
<circle cx="606.7" cy="474.5" r="1.7" fill="url(#gGy)"/>
<line x1="587.0" y1="473.7" x2="589.5" y2="475.6" stroke="#555" stroke-width="2.3" stroke-linecap="round"/>
<line x1="587.0" y1="473.7" x2="589.5" y2="475.6" stroke="#a4a4a4" stroke-width="1.3" stroke-linecap="round"/>
<circle cx="570.6" cy="474.8" r="2.5" fill="url(#gWh)" stroke="#aaa" stroke-width="0.25"/>
<circle cx="576.4" cy="475.0" r="1.7" fill="url(#gGy)"/>
<line x1="596.1" y1="475.8" x2="600.1" y2="474.3" stroke="#555" stroke-width="2.3" stroke-linecap="round"/>
<line x1="596.1" y1="475.8" x2="600.1" y2="474.3" stroke="#a4a4a4" stroke-width="1.3" stroke-linecap="round"/>
<circle cx="619.7" cy="475.1" r="1.7" fill="url(#gGy)"/>
<line x1="619.7" y1="475.1" x2="626.3" y2="475.4" stroke="#555" stroke-width="2.3" stroke-linecap="round"/>
<line x1="619.7" y1="475.1" x2="626.3" y2="475.4" stroke="#a4a4a4" stroke-width="1.3" stroke-linecap="round"/>
<circle cx="626.3" cy="475.4" r="1.7" fill="url(#gGy)"/>
<line x1="606.7" y1="474.5" x2="609.1" y2="476.4" stroke="#555" stroke-width="2.3" stroke-linecap="round"/>
<line x1="606.7" y1="474.5" x2="609.1" y2="476.4" stroke="#a4a4a4" stroke-width="1.3" stroke-linecap="round"/>
<circle cx="589.5" cy="475.6" r="1.7" fill="url(#gGy)"/>
<line x1="589.5" y1="475.6" x2="596.1" y2="475.8" stroke="#555" stroke-width="2.3" stroke-linecap="round"/>
<line x1="589.5" y1="475.6" x2="596.1" y2="475.8" stroke="#a4a4a4" stroke-width="1.3" stroke-linecap="round"/>
<circle cx="596.1" cy="475.8" r="1.7" fill="url(#gGy)"/>
<line x1="615.7" y1="476.7" x2="619.7" y2="475.1" stroke="#555" stroke-width="2.3" stroke-linecap="round"/>
<line x1="615.7" y1="476.7" x2="619.7" y2="475.1" stroke="#a4a4a4" stroke-width="1.3" stroke-linecap="round"/>
<line x1="576.4" y1="475.0" x2="578.9" y2="476.8" stroke="#555" stroke-width="2.3" stroke-linecap="round"/>
<line x1="576.4" y1="475.0" x2="578.9" y2="476.8" stroke="#a4a4a4" stroke-width="1.3" stroke-linecap="round"/>
<line x1="626.3" y1="475.4" x2="628.7" y2="477.2" stroke="#555" stroke-width="2.3" stroke-linecap="round"/>
<line x1="626.3" y1="475.4" x2="628.7" y2="477.2" stroke="#a4a4a4" stroke-width="1.3" stroke-linecap="round"/>
<line x1="585.5" y1="477.1" x2="589.5" y2="475.6" stroke="#555" stroke-width="2.3" stroke-linecap="round"/>
<line x1="585.5" y1="477.1" x2="589.5" y2="475.6" stroke="#a4a4a4" stroke-width="1.3" stroke-linecap="round"/>
<circle cx="609.1" cy="476.4" r="1.7" fill="url(#gGy)"/>
<line x1="609.1" y1="476.4" x2="615.7" y2="476.7" stroke="#555" stroke-width="2.3" stroke-linecap="round"/>
<line x1="609.1" y1="476.4" x2="615.7" y2="476.7" stroke="#a4a4a4" stroke-width="1.3" stroke-linecap="round"/>
<circle cx="615.7" cy="476.7" r="1.7" fill="url(#gGy)"/>
<line x1="596.1" y1="475.8" x2="598.5" y2="477.7" stroke="#555" stroke-width="2.3" stroke-linecap="round"/>
<line x1="596.1" y1="475.8" x2="598.5" y2="477.7" stroke="#a4a4a4" stroke-width="1.3" stroke-linecap="round"/>
<circle cx="578.9" cy="476.8" r="1.7" fill="url(#gGy)"/>
<line x1="578.9" y1="476.8" x2="585.5" y2="477.1" stroke="#555" stroke-width="2.3" stroke-linecap="round"/>
<line x1="578.9" y1="476.8" x2="585.5" y2="477.1" stroke="#a4a4a4" stroke-width="1.3" stroke-linecap="round"/>
<circle cx="585.5" cy="477.1" r="1.7" fill="url(#gGy)"/>
<line x1="605.1" y1="477.9" x2="609.1" y2="476.4" stroke="#555" stroke-width="2.3" stroke-linecap="round"/>
<line x1="605.1" y1="477.9" x2="609.1" y2="476.4" stroke="#a4a4a4" stroke-width="1.3" stroke-linecap="round"/>
<circle cx="628.7" cy="477.2" r="1.7" fill="url(#gGy)"/>
<circle cx="634.6" cy="477.5" r="2.5" fill="url(#gWh)" stroke="#aaa" stroke-width="0.25"/>
<line x1="615.7" y1="476.7" x2="618.1" y2="478.5" stroke="#555" stroke-width="2.3" stroke-linecap="round"/>
<line x1="615.7" y1="476.7" x2="618.1" y2="478.5" stroke="#a4a4a4" stroke-width="1.3" stroke-linecap="round"/>
<line x1="574.9" y1="478.4" x2="578.9" y2="476.8" stroke="#555" stroke-width="2.3" stroke-linecap="round"/>
<line x1="574.9" y1="478.4" x2="578.9" y2="476.8" stroke="#a4a4a4" stroke-width="1.3" stroke-linecap="round"/>
<circle cx="598.5" cy="477.7" r="1.7" fill="url(#gGy)"/>
<line x1="598.5" y1="477.7" x2="605.1" y2="477.9" stroke="#555" stroke-width="2.3" stroke-linecap="round"/>
<line x1="598.5" y1="477.7" x2="605.1" y2="477.9" stroke="#a4a4a4" stroke-width="1.3" stroke-linecap="round"/>
<circle cx="605.1" cy="477.9" r="1.7" fill="url(#gGy)"/>
<line x1="624.7" y1="478.8" x2="628.7" y2="477.2" stroke="#555" stroke-width="2.3" stroke-linecap="round"/>
<line x1="624.7" y1="478.8" x2="628.7" y2="477.2" stroke="#a4a4a4" stroke-width="1.3" stroke-linecap="round"/>
<line x1="585.5" y1="477.1" x2="587.9" y2="478.9" stroke="#555" stroke-width="2.3" stroke-linecap="round"/>
<line x1="585.5" y1="477.1" x2="587.9" y2="478.9" stroke="#a4a4a4" stroke-width="1.3" stroke-linecap="round"/>
<circle cx="569.0" cy="478.1" r="2.5" fill="url(#gWh)" stroke="#aaa" stroke-width="0.25"/>
<circle cx="574.9" cy="478.4" r="1.7" fill="url(#gGy)"/>
<line x1="594.5" y1="479.2" x2="598.5" y2="477.7" stroke="#555" stroke-width="2.3" stroke-linecap="round"/>
<line x1="594.5" y1="479.2" x2="598.5" y2="477.7" stroke="#a4a4a4" stroke-width="1.3" stroke-linecap="round"/>
<circle cx="618.1" cy="478.5" r="1.7" fill="url(#gGy)"/>
<line x1="618.1" y1="478.5" x2="624.7" y2="478.8" stroke="#555" stroke-width="2.3" stroke-linecap="round"/>
<line x1="618.1" y1="478.5" x2="624.7" y2="478.8" stroke="#a4a4a4" stroke-width="1.3" stroke-linecap="round"/>
<circle cx="624.7" cy="478.8" r="1.7" fill="url(#gGy)"/>
<line x1="605.1" y1="477.9" x2="607.5" y2="479.8" stroke="#555" stroke-width="2.3" stroke-linecap="round"/>
<line x1="605.1" y1="477.9" x2="607.5" y2="479.8" stroke="#a4a4a4" stroke-width="1.3" stroke-linecap="round"/>
<circle cx="587.9" cy="478.9" r="1.7" fill="url(#gGy)"/>
<line x1="587.9" y1="478.9" x2="594.5" y2="479.2" stroke="#555" stroke-width="2.3" stroke-linecap="round"/>
<line x1="587.9" y1="478.9" x2="594.5" y2="479.2" stroke="#a4a4a4" stroke-width="1.3" stroke-linecap="round"/>
<circle cx="594.5" cy="479.2" r="1.7" fill="url(#gGy)"/>
<line x1="614.1" y1="480.1" x2="618.1" y2="478.5" stroke="#555" stroke-width="2.3" stroke-linecap="round"/>
<line x1="614.1" y1="480.1" x2="618.1" y2="478.5" stroke="#a4a4a4" stroke-width="1.3" stroke-linecap="round"/>
<line x1="574.9" y1="478.4" x2="577.3" y2="480.2" stroke="#555" stroke-width="2.3" stroke-linecap="round"/>
<line x1="574.9" y1="478.4" x2="577.3" y2="480.2" stroke="#a4a4a4" stroke-width="1.3" stroke-linecap="round"/>
<line x1="624.7" y1="478.8" x2="627.1" y2="480.6" stroke="#555" stroke-width="2.3" stroke-linecap="round"/>
<line x1="624.7" y1="478.8" x2="627.1" y2="480.6" stroke="#a4a4a4" stroke-width="1.3" stroke-linecap="round"/>
<line x1="583.9" y1="480.5" x2="587.9" y2="478.9" stroke="#555" stroke-width="2.3" stroke-linecap="round"/>
<line x1="583.9" y1="480.5" x2="587.9" y2="478.9" stroke="#a4a4a4" stroke-width="1.3" stroke-linecap="round"/>
<circle cx="607.5" cy="479.8" r="1.7" fill="url(#gGy)"/>
<line x1="607.5" y1="479.8" x2="614.1" y2="480.1" stroke="#555" stroke-width="2.3" stroke-linecap="round"/>
<line x1="607.5" y1="479.8" x2="614.1" y2="480.1" stroke="#a4a4a4" stroke-width="1.3" stroke-linecap="round"/>
<circle cx="614.1" cy="480.1" r="1.7" fill="url(#gGy)"/>
<line x1="594.5" y1="479.2" x2="596.9" y2="481.1" stroke="#555" stroke-width="2.3" stroke-linecap="round"/>
<line x1="594.5" y1="479.2" x2="596.9" y2="481.1" stroke="#a4a4a4" stroke-width="1.3" stroke-linecap="round"/>
<circle cx="577.3" cy="480.2" r="1.7" fill="url(#gGy)"/>
<line x1="577.3" y1="480.2" x2="583.9" y2="480.5" stroke="#555" stroke-width="2.3" stroke-linecap="round"/>
<line x1="577.3" y1="480.2" x2="583.9" y2="480.5" stroke="#a4a4a4" stroke-width="1.3" stroke-linecap="round"/>
<circle cx="583.9" cy="480.5" r="1.7" fill="url(#gGy)"/>
<line x1="603.5" y1="481.3" x2="607.5" y2="479.8" stroke="#555" stroke-width="2.3" stroke-linecap="round"/>
<line x1="603.5" y1="481.3" x2="607.5" y2="479.8" stroke="#a4a4a4" stroke-width="1.3" stroke-linecap="round"/>
<circle cx="627.1" cy="480.6" r="1.7" fill="url(#gGy)"/>
<circle cx="633.0" cy="480.9" r="2.5" fill="url(#gWh)" stroke="#aaa" stroke-width="0.25"/>
<line x1="614.1" y1="480.1" x2="616.5" y2="481.9" stroke="#555" stroke-width="2.3" stroke-linecap="round"/>
<line x1="614.1" y1="480.1" x2="616.5" y2="481.9" stroke="#a4a4a4" stroke-width="1.3" stroke-linecap="round"/>
<line x1="573.3" y1="481.8" x2="577.3" y2="480.2" stroke="#555" stroke-width="2.3" stroke-linecap="round"/>
<line x1="573.3" y1="481.8" x2="577.3" y2="480.2" stroke="#a4a4a4" stroke-width="1.3" stroke-linecap="round"/>
<circle cx="596.9" cy="481.1" r="1.7" fill="url(#gGy)"/>
<line x1="596.9" y1="481.1" x2="603.5" y2="481.3" stroke="#555" stroke-width="2.3" stroke-linecap="round"/>
<line x1="596.9" y1="481.1" x2="603.5" y2="481.3" stroke="#a4a4a4" stroke-width="1.3" stroke-linecap="round"/>
<circle cx="603.5" cy="481.3" r="1.7" fill="url(#gGy)"/>
<line x1="623.1" y1="482.2" x2="627.1" y2="480.6" stroke="#555" stroke-width="2.3" stroke-linecap="round"/>
<line x1="623.1" y1="482.2" x2="627.1" y2="480.6" stroke="#a4a4a4" stroke-width="1.3" stroke-linecap="round"/>
<line x1="583.9" y1="480.5" x2="586.3" y2="482.3" stroke="#555" stroke-width="2.3" stroke-linecap="round"/>
<line x1="583.9" y1="480.5" x2="586.3" y2="482.3" stroke="#a4a4a4" stroke-width="1.3" stroke-linecap="round"/>
<circle cx="567.4" cy="481.5" r="2.5" fill="url(#gWh)" stroke="#aaa" stroke-width="0.25"/>
<circle cx="573.3" cy="481.8" r="1.7" fill="url(#gGy)"/>
<line x1="592.9" y1="482.6" x2="596.9" y2="481.1" stroke="#555" stroke-width="2.3" stroke-linecap="round"/>
<line x1="592.9" y1="482.6" x2="596.9" y2="481.1" stroke="#a4a4a4" stroke-width="1.3" stroke-linecap="round"/>
<circle cx="616.5" cy="481.9" r="1.7" fill="url(#gGy)"/>
<line x1="616.5" y1="481.9" x2="623.1" y2="482.2" stroke="#555" stroke-width="2.3" stroke-linecap="round"/>
<line x1="616.5" y1="481.9" x2="623.1" y2="482.2" stroke="#a4a4a4" stroke-width="1.3" stroke-linecap="round"/>
<circle cx="623.1" cy="482.2" r="1.7" fill="url(#gGy)"/>
<line x1="603.5" y1="481.3" x2="605.9" y2="483.2" stroke="#555" stroke-width="2.3" stroke-linecap="round"/>
<line x1="603.5" y1="481.3" x2="605.9" y2="483.2" stroke="#a4a4a4" stroke-width="1.3" stroke-linecap="round"/>
<circle cx="586.3" cy="482.3" r="1.7" fill="url(#gGy)"/>
<line x1="586.3" y1="482.3" x2="592.9" y2="482.6" stroke="#555" stroke-width="2.3" stroke-linecap="round"/>
<line x1="586.3" y1="482.3" x2="592.9" y2="482.6" stroke="#a4a4a4" stroke-width="1.3" stroke-linecap="round"/>
<circle cx="592.9" cy="482.6" r="1.7" fill="url(#gGy)"/>
<line x1="612.5" y1="483.4" x2="616.5" y2="481.9" stroke="#555" stroke-width="2.3" stroke-linecap="round"/>
<line x1="612.5" y1="483.4" x2="616.5" y2="481.9" stroke="#a4a4a4" stroke-width="1.3" stroke-linecap="round"/>
<line x1="573.3" y1="481.8" x2="575.7" y2="483.6" stroke="#555" stroke-width="2.3" stroke-linecap="round"/>
<line x1="573.3" y1="481.8" x2="575.7" y2="483.6" stroke="#a4a4a4" stroke-width="1.3" stroke-linecap="round"/>
<line x1="623.1" y1="482.2" x2="625.6" y2="484.0" stroke="#555" stroke-width="2.3" stroke-linecap="round"/>
<line x1="623.1" y1="482.2" x2="625.6" y2="484.0" stroke="#a4a4a4" stroke-width="1.3" stroke-linecap="round"/>
<line x1="582.3" y1="483.9" x2="586.3" y2="482.3" stroke="#555" stroke-width="2.3" stroke-linecap="round"/>
<line x1="582.3" y1="483.9" x2="586.3" y2="482.3" stroke="#a4a4a4" stroke-width="1.3" stroke-linecap="round"/>
<circle cx="605.9" cy="483.2" r="1.7" fill="url(#gGy)"/>
<line x1="605.9" y1="483.2" x2="612.5" y2="483.4" stroke="#555" stroke-width="2.3" stroke-linecap="round"/>
<line x1="605.9" y1="483.2" x2="612.5" y2="483.4" stroke="#a4a4a4" stroke-width="1.3" stroke-linecap="round"/>
<circle cx="612.5" cy="483.4" r="1.7" fill="url(#gGy)"/>
<line x1="592.9" y1="482.6" x2="595.3" y2="484.5" stroke="#555" stroke-width="2.3" stroke-linecap="round"/>
<line x1="592.9" y1="482.6" x2="595.3" y2="484.5" stroke="#a4a4a4" stroke-width="1.3" stroke-linecap="round"/>
<circle cx="575.7" cy="483.6" r="1.7" fill="url(#gGy)"/>
<line x1="575.7" y1="483.6" x2="582.3" y2="483.9" stroke="#555" stroke-width="2.3" stroke-linecap="round"/>
<line x1="575.7" y1="483.6" x2="582.3" y2="483.9" stroke="#a4a4a4" stroke-width="1.3" stroke-linecap="round"/>
<circle cx="582.3" cy="483.9" r="1.7" fill="url(#gGy)"/>
<line x1="601.9" y1="484.7" x2="605.9" y2="483.2" stroke="#555" stroke-width="2.3" stroke-linecap="round"/>
<line x1="601.9" y1="484.7" x2="605.9" y2="483.2" stroke="#a4a4a4" stroke-width="1.3" stroke-linecap="round"/>
<circle cx="625.6" cy="484.0" r="1.7" fill="url(#gGy)"/>
<circle cx="631.4" cy="484.2" r="2.5" fill="url(#gWh)" stroke="#aaa" stroke-width="0.25"/>
<line x1="612.5" y1="483.4" x2="615.0" y2="485.3" stroke="#555" stroke-width="2.3" stroke-linecap="round"/>
<line x1="612.5" y1="483.4" x2="615.0" y2="485.3" stroke="#a4a4a4" stroke-width="1.3" stroke-linecap="round"/>
<circle cx="595.3" cy="484.5" r="1.7" fill="url(#gGy)"/>
<line x1="595.3" y1="484.5" x2="601.9" y2="484.7" stroke="#555" stroke-width="2.3" stroke-linecap="round"/>
<line x1="595.3" y1="484.5" x2="601.9" y2="484.7" stroke="#a4a4a4" stroke-width="1.3" stroke-linecap="round"/>
<circle cx="601.9" cy="484.7" r="1.7" fill="url(#gGy)"/>
<line x1="621.5" y1="485.6" x2="625.6" y2="484.0" stroke="#555" stroke-width="2.3" stroke-linecap="round"/>
<line x1="621.5" y1="485.6" x2="625.6" y2="484.0" stroke="#a4a4a4" stroke-width="1.3" stroke-linecap="round"/>
<line x1="582.3" y1="483.9" x2="584.7" y2="485.7" stroke="#555" stroke-width="2.3" stroke-linecap="round"/>
<line x1="582.3" y1="483.9" x2="584.7" y2="485.7" stroke="#a4a4a4" stroke-width="1.3" stroke-linecap="round"/>
<circle cx="572.1" cy="485.0" r="2.5" fill="url(#gWh)" stroke="#aaa" stroke-width="0.25"/>
<line x1="591.3" y1="486.0" x2="595.3" y2="484.5" stroke="#555" stroke-width="2.3" stroke-linecap="round"/>
<line x1="591.3" y1="486.0" x2="595.3" y2="484.5" stroke="#a4a4a4" stroke-width="1.3" stroke-linecap="round"/>
<circle cx="615.0" cy="485.3" r="1.7" fill="url(#gGy)"/>
<line x1="615.0" y1="485.3" x2="621.5" y2="485.6" stroke="#555" stroke-width="2.3" stroke-linecap="round"/>
<line x1="615.0" y1="485.3" x2="621.5" y2="485.6" stroke="#a4a4a4" stroke-width="1.3" stroke-linecap="round"/>
<circle cx="621.5" cy="485.6" r="1.7" fill="url(#gGy)"/>
<line x1="601.9" y1="484.7" x2="604.4" y2="486.6" stroke="#555" stroke-width="2.3" stroke-linecap="round"/>
<line x1="601.9" y1="484.7" x2="604.4" y2="486.6" stroke="#a4a4a4" stroke-width="1.3" stroke-linecap="round"/>
<circle cx="584.7" cy="485.7" r="1.7" fill="url(#gGy)"/>
<line x1="584.7" y1="485.7" x2="591.3" y2="486.0" stroke="#555" stroke-width="2.3" stroke-linecap="round"/>
<line x1="584.7" y1="485.7" x2="591.3" y2="486.0" stroke="#a4a4a4" stroke-width="1.3" stroke-linecap="round"/>
<circle cx="591.3" cy="486.0" r="1.7" fill="url(#gGy)"/>
<line x1="610.9" y1="486.8" x2="615.0" y2="485.3" stroke="#555" stroke-width="2.3" stroke-linecap="round"/>
<line x1="610.9" y1="486.8" x2="615.0" y2="485.3" stroke="#a4a4a4" stroke-width="1.3" stroke-linecap="round"/>
<circle cx="604.4" cy="486.6" r="1.7" fill="url(#gGy)"/>
<line x1="604.4" y1="486.6" x2="610.9" y2="486.8" stroke="#555" stroke-width="2.3" stroke-linecap="round"/>
<line x1="604.4" y1="486.6" x2="610.9" y2="486.8" stroke="#a4a4a4" stroke-width="1.3" stroke-linecap="round"/>
<circle cx="610.9" cy="486.8" r="1.7" fill="url(#gGy)"/>
<line x1="591.3" y1="486.0" x2="593.8" y2="487.9" stroke="#555" stroke-width="2.3" stroke-linecap="round"/>
<line x1="591.3" y1="486.0" x2="593.8" y2="487.9" stroke="#a4a4a4" stroke-width="1.3" stroke-linecap="round"/>
<circle cx="581.1" cy="487.1" r="2.5" fill="url(#gWh)" stroke="#aaa" stroke-width="0.25"/>
<circle cx="623.7" cy="487.2" r="2.5" fill="url(#gWh)" stroke="#aaa" stroke-width="0.25"/>
<line x1="600.3" y1="488.1" x2="604.4" y2="486.6" stroke="#555" stroke-width="2.3" stroke-linecap="round"/>
<line x1="600.3" y1="488.1" x2="604.4" y2="486.6" stroke="#a4a4a4" stroke-width="1.3" stroke-linecap="round"/>
<circle cx="593.8" cy="487.9" r="1.7" fill="url(#gGy)"/>
<line x1="593.8" y1="487.9" x2="600.3" y2="488.1" stroke="#555" stroke-width="2.3" stroke-linecap="round"/>
<line x1="593.8" y1="487.9" x2="600.3" y2="488.1" stroke="#a4a4a4" stroke-width="1.3" stroke-linecap="round"/>
<circle cx="600.3" cy="488.1" r="1.7" fill="url(#gGy)"/>
<circle cx="613.1" cy="488.5" r="2.5" fill="url(#gWh)" stroke="#aaa" stroke-width="0.25"/>
<circle cx="590.1" cy="489.3" r="2.5" fill="url(#gWh)" stroke="#aaa" stroke-width="0.25"/>
<circle cx="602.5" cy="489.8" r="2.5" fill="url(#gWh)" stroke="#aaa" stroke-width="0.25"/>
<circle cx="594" cy="484" r="2.6" fill="url(#gRd)"/>
<circle cx="610.3" cy="485" r="2.6" fill="url(#gBn)"/>
<circle cx="598" cy="493" r="2.2" fill="url(#gWh)" stroke="#aaa" stroke-width="0.25"/>
<polyline points="592,466 606,461.5 620,466" fill="none" stroke="#e02020" stroke-width="1" stroke-dasharray="1.2,1"/>
<line x1="591" y1="466" x2="593" y2="482" stroke="#3ab" stroke-width="0.9" stroke-dasharray="1.1,1"/>
<line x1="577.9" y1="505.4" x2="577.8" y2="502.8" stroke="#dadada" stroke-width="2.7" stroke-linecap="round"/>
<line x1="577.9" y1="505.4" x2="577.8" y2="502.8" stroke="#f6f6f6" stroke-width="1.9" stroke-linecap="round"/>
<line x1="580.5" y1="508.5" x2="583.1" y2="509.1" stroke="#dadada" stroke-width="2.7" stroke-linecap="round"/>
<line x1="580.5" y1="508.5" x2="583.1" y2="509.1" stroke="#f6f6f6" stroke-width="1.9" stroke-linecap="round"/>
<line x1="578.0" y1="508.0" x2="577.9" y2="505.4" stroke="#d8b0b0" stroke-width="2.7" stroke-linecap="round"/>
<line x1="578.0" y1="508.0" x2="577.9" y2="505.4" stroke="#eea0a0" stroke-width="1.9" stroke-linecap="round"/>
<line x1="578.0" y1="508.0" x2="580.5" y2="508.5" stroke="#d8b0b0" stroke-width="2.7" stroke-linecap="round"/>
<line x1="578.0" y1="508.0" x2="580.5" y2="508.5" stroke="#eea0a0" stroke-width="1.9" stroke-linecap="round"/>
<line x1="557.5" y1="514.5" x2="560.1" y2="513.9" stroke="#dadada" stroke-width="2.7" stroke-linecap="round"/>
<line x1="557.5" y1="514.5" x2="560.1" y2="513.9" stroke="#f6f6f6" stroke-width="1.9" stroke-linecap="round"/>
<line x1="554.9" y1="517.6" x2="554.8" y2="520.2" stroke="#dadada" stroke-width="2.7" stroke-linecap="round"/>
<line x1="554.9" y1="517.6" x2="554.8" y2="520.2" stroke="#f6f6f6" stroke-width="1.9" stroke-linecap="round"/>
<line x1="555.0" y1="515.0" x2="557.5" y2="514.5" stroke="#d8b0b0" stroke-width="2.7" stroke-linecap="round"/>
<line x1="555.0" y1="515.0" x2="557.5" y2="514.5" stroke="#f4c4c4" stroke-width="1.9" stroke-linecap="round"/>
<line x1="555.0" y1="515.0" x2="554.9" y2="517.6" stroke="#d8b0b0" stroke-width="2.7" stroke-linecap="round"/>
<line x1="555.0" y1="515.0" x2="554.9" y2="517.6" stroke="#f4c4c4" stroke-width="1.9" stroke-linecap="round"/>
<line x1="600.8" y1="511.5" x2="601.6" y2="509.1" stroke="#dadada" stroke-width="2.7" stroke-linecap="round"/>
<line x1="600.8" y1="511.5" x2="601.6" y2="509.1" stroke="#f6f6f6" stroke-width="1.9" stroke-linecap="round"/>
<line x1="602.2" y1="515.4" x2="604.4" y2="516.8" stroke="#dadada" stroke-width="2.7" stroke-linecap="round"/>
<line x1="602.2" y1="515.4" x2="604.4" y2="516.8" stroke="#f6f6f6" stroke-width="1.9" stroke-linecap="round"/>
<line x1="600.0" y1="514.0" x2="600.8" y2="511.5" stroke="#d8b0b0" stroke-width="2.7" stroke-linecap="round"/>
<line x1="600.0" y1="514.0" x2="600.8" y2="511.5" stroke="#f4c4c4" stroke-width="1.9" stroke-linecap="round"/>
<line x1="600.0" y1="514.0" x2="602.2" y2="515.4" stroke="#d8b0b0" stroke-width="2.7" stroke-linecap="round"/>
<line x1="600.0" y1="514.0" x2="602.2" y2="515.4" stroke="#f4c4c4" stroke-width="1.9" stroke-linecap="round"/>
<line x1="621.7" y1="521.9" x2="623.5" y2="523.9" stroke="#dadada" stroke-width="2.7" stroke-linecap="round"/>
<line x1="621.7" y1="521.9" x2="623.5" y2="523.9" stroke="#f6f6f6" stroke-width="1.9" stroke-linecap="round"/>
<line x1="617.7" y1="521.2" x2="615.4" y2="522.4" stroke="#dadada" stroke-width="2.7" stroke-linecap="round"/>
<line x1="617.7" y1="521.2" x2="615.4" y2="522.4" stroke="#f6f6f6" stroke-width="1.9" stroke-linecap="round"/>
<line x1="620.0" y1="520.0" x2="621.7" y2="521.9" stroke="#d8b0b0" stroke-width="2.7" stroke-linecap="round"/>
<line x1="620.0" y1="520.0" x2="621.7" y2="521.9" stroke="#f4c4c4" stroke-width="1.9" stroke-linecap="round"/>
<line x1="620.0" y1="520.0" x2="617.7" y2="521.2" stroke="#d8b0b0" stroke-width="2.7" stroke-linecap="round"/>
<line x1="620.0" y1="520.0" x2="617.7" y2="521.2" stroke="#f4c4c4" stroke-width="1.9" stroke-linecap="round"/>
<line x1="642.4" y1="517.0" x2="644.8" y2="516.1" stroke="#dadada" stroke-width="2.7" stroke-linecap="round"/>
<line x1="642.4" y1="517.0" x2="644.8" y2="516.1" stroke="#f6f6f6" stroke-width="1.9" stroke-linecap="round"/>
<line x1="640.4" y1="520.6" x2="640.7" y2="523.1" stroke="#dadada" stroke-width="2.7" stroke-linecap="round"/>
<line x1="640.4" y1="520.6" x2="640.7" y2="523.1" stroke="#f6f6f6" stroke-width="1.9" stroke-linecap="round"/>
<line x1="640.0" y1="518.0" x2="642.4" y2="517.0" stroke="#d8b0b0" stroke-width="2.7" stroke-linecap="round"/>
<line x1="640.0" y1="518.0" x2="642.4" y2="517.0" stroke="#f4c4c4" stroke-width="1.9" stroke-linecap="round"/>
<line x1="640.0" y1="518.0" x2="640.4" y2="520.6" stroke="#d8b0b0" stroke-width="2.7" stroke-linecap="round"/>
<line x1="640.0" y1="518.0" x2="640.4" y2="520.6" stroke="#f4c4c4" stroke-width="1.9" stroke-linecap="round"/>
<line x1="657.8" y1="514.4" x2="655.6" y2="515.8" stroke="#dadada" stroke-width="2.7" stroke-linecap="round"/>
<line x1="657.8" y1="514.4" x2="655.6" y2="515.8" stroke="#f6f6f6" stroke-width="1.9" stroke-linecap="round"/>
<line x1="659.2" y1="510.5" x2="658.4" y2="508.1" stroke="#dadada" stroke-width="2.7" stroke-linecap="round"/>
<line x1="659.2" y1="510.5" x2="658.4" y2="508.1" stroke="#f6f6f6" stroke-width="1.9" stroke-linecap="round"/>
<line x1="660.0" y1="513.0" x2="657.8" y2="514.4" stroke="#d8b0b0" stroke-width="2.7" stroke-linecap="round"/>
<line x1="660.0" y1="513.0" x2="657.8" y2="514.4" stroke="#f4c4c4" stroke-width="1.9" stroke-linecap="round"/>
<line x1="660.0" y1="513.0" x2="659.2" y2="510.5" stroke="#d8b0b0" stroke-width="2.7" stroke-linecap="round"/>
<line x1="660.0" y1="513.0" x2="659.2" y2="510.5" stroke="#f4c4c4" stroke-width="1.9" stroke-linecap="round"/>
<line x1="674.0" y1="517.6" x2="673.1" y2="515.2" stroke="#dadada" stroke-width="2.7" stroke-linecap="round"/>
<line x1="674.0" y1="517.6" x2="673.1" y2="515.2" stroke="#f6f6f6" stroke-width="1.9" stroke-linecap="round"/>
<line x1="677.6" y1="519.6" x2="680.1" y2="519.3" stroke="#dadada" stroke-width="2.7" stroke-linecap="round"/>
<line x1="677.6" y1="519.6" x2="680.1" y2="519.3" stroke="#f6f6f6" stroke-width="1.9" stroke-linecap="round"/>
<line x1="675.0" y1="520.0" x2="674.0" y2="517.6" stroke="#d8b0b0" stroke-width="2.7" stroke-linecap="round"/>
<line x1="675.0" y1="520.0" x2="674.0" y2="517.6" stroke="#f4c4c4" stroke-width="1.9" stroke-linecap="round"/>
<line x1="675.0" y1="520.0" x2="677.6" y2="519.6" stroke="#d8b0b0" stroke-width="2.7" stroke-linecap="round"/>
<line x1="675.0" y1="520.0" x2="677.6" y2="519.6" stroke="#f4c4c4" stroke-width="1.9" stroke-linecap="round"/>
<line x1="571.0" y1="529.4" x2="571.9" y2="531.8" stroke="#dadada" stroke-width="2.7" stroke-linecap="round"/>
<line x1="571.0" y1="529.4" x2="571.9" y2="531.8" stroke="#f6f6f6" stroke-width="1.9" stroke-linecap="round"/>
<line x1="567.4" y1="527.4" x2="564.9" y2="527.7" stroke="#dadada" stroke-width="2.7" stroke-linecap="round"/>
<line x1="567.4" y1="527.4" x2="564.9" y2="527.7" stroke="#f6f6f6" stroke-width="1.9" stroke-linecap="round"/>
<line x1="570.0" y1="527.0" x2="571.0" y2="529.4" stroke="#d8b0b0" stroke-width="2.7" stroke-linecap="round"/>
<line x1="570.0" y1="527.0" x2="571.0" y2="529.4" stroke="#f4c4c4" stroke-width="1.9" stroke-linecap="round"/>
<line x1="570.0" y1="527.0" x2="567.4" y2="527.4" stroke="#d8b0b0" stroke-width="2.7" stroke-linecap="round"/>
<line x1="570.0" y1="527.0" x2="567.4" y2="527.4" stroke="#f4c4c4" stroke-width="1.9" stroke-linecap="round"/>
<line x1="592.2" y1="528.6" x2="594.4" y2="527.2" stroke="#dadada" stroke-width="2.7" stroke-linecap="round"/>
<line x1="592.2" y1="528.6" x2="594.4" y2="527.2" stroke="#f6f6f6" stroke-width="1.9" stroke-linecap="round"/>
<line x1="590.8" y1="532.5" x2="591.6" y2="534.9" stroke="#dadada" stroke-width="2.7" stroke-linecap="round"/>
<line x1="590.8" y1="532.5" x2="591.6" y2="534.9" stroke="#f6f6f6" stroke-width="1.9" stroke-linecap="round"/>
<line x1="590.0" y1="530.0" x2="592.2" y2="528.6" stroke="#d8b0b0" stroke-width="2.7" stroke-linecap="round"/>
<line x1="590.0" y1="530.0" x2="592.2" y2="528.6" stroke="#f4c4c4" stroke-width="1.9" stroke-linecap="round"/>
<line x1="590.0" y1="530.0" x2="590.8" y2="532.5" stroke="#d8b0b0" stroke-width="2.7" stroke-linecap="round"/>
<line x1="590.0" y1="530.0" x2="590.8" y2="532.5" stroke="#f4c4c4" stroke-width="1.9" stroke-linecap="round"/>
<line x1="610.4" y1="529.4" x2="610.7" y2="526.9" stroke="#dadada" stroke-width="2.7" stroke-linecap="round"/>
<line x1="610.4" y1="529.4" x2="610.7" y2="526.9" stroke="#f6f6f6" stroke-width="1.9" stroke-linecap="round"/>
<line x1="612.4" y1="533.0" x2="614.8" y2="533.9" stroke="#dadada" stroke-width="2.7" stroke-linecap="round"/>
<line x1="612.4" y1="533.0" x2="614.8" y2="533.9" stroke="#f6f6f6" stroke-width="1.9" stroke-linecap="round"/>
<line x1="610.0" y1="532.0" x2="610.4" y2="529.4" stroke="#d8b0b0" stroke-width="2.7" stroke-linecap="round"/>
<line x1="610.0" y1="532.0" x2="610.4" y2="529.4" stroke="#f4c4c4" stroke-width="1.9" stroke-linecap="round"/>
<line x1="610.0" y1="532.0" x2="612.4" y2="533.0" stroke="#d8b0b0" stroke-width="2.7" stroke-linecap="round"/>
<line x1="610.0" y1="532.0" x2="612.4" y2="533.0" stroke="#f4c4c4" stroke-width="1.9" stroke-linecap="round"/>
<line x1="632.3" y1="529.2" x2="634.6" y2="530.4" stroke="#dadada" stroke-width="2.7" stroke-linecap="round"/>
<line x1="632.3" y1="529.2" x2="634.6" y2="530.4" stroke="#f6f6f6" stroke-width="1.9" stroke-linecap="round"/>
<line x1="628.3" y1="529.9" x2="626.5" y2="531.9" stroke="#dadada" stroke-width="2.7" stroke-linecap="round"/>
<line x1="628.3" y1="529.9" x2="626.5" y2="531.9" stroke="#f6f6f6" stroke-width="1.9" stroke-linecap="round"/>
<line x1="630.0" y1="528.0" x2="632.3" y2="529.2" stroke="#d8b0b0" stroke-width="2.7" stroke-linecap="round"/>
<line x1="630.0" y1="528.0" x2="632.3" y2="529.2" stroke="#f4c4c4" stroke-width="1.9" stroke-linecap="round"/>
<line x1="630.0" y1="528.0" x2="628.3" y2="529.9" stroke="#d8b0b0" stroke-width="2.7" stroke-linecap="round"/>
<line x1="630.0" y1="528.0" x2="628.3" y2="529.9" stroke="#f4c4c4" stroke-width="1.9" stroke-linecap="round"/>
<line x1="649.6" y1="536.6" x2="649.3" y2="539.1" stroke="#dadada" stroke-width="2.7" stroke-linecap="round"/>
<line x1="649.6" y1="536.6" x2="649.3" y2="539.1" stroke="#f6f6f6" stroke-width="1.9" stroke-linecap="round"/>
<line x1="647.6" y1="533.0" x2="645.2" y2="532.1" stroke="#dadada" stroke-width="2.7" stroke-linecap="round"/>
<line x1="647.6" y1="533.0" x2="645.2" y2="532.1" stroke="#f6f6f6" stroke-width="1.9" stroke-linecap="round"/>
<line x1="650.0" y1="534.0" x2="649.6" y2="536.6" stroke="#d8b0b0" stroke-width="2.7" stroke-linecap="round"/>
<line x1="650.0" y1="534.0" x2="649.6" y2="536.6" stroke="#f4c4c4" stroke-width="1.9" stroke-linecap="round"/>
<line x1="650.0" y1="534.0" x2="647.6" y2="533.0" stroke="#d8b0b0" stroke-width="2.7" stroke-linecap="round"/>
<line x1="650.0" y1="534.0" x2="647.6" y2="533.0" stroke="#f4c4c4" stroke-width="1.9" stroke-linecap="round"/>
<line x1="670.5" y1="529.5" x2="673.1" y2="528.9" stroke="#dadada" stroke-width="2.7" stroke-linecap="round"/>
<line x1="670.5" y1="529.5" x2="673.1" y2="528.9" stroke="#f6f6f6" stroke-width="1.9" stroke-linecap="round"/>
<line x1="667.9" y1="532.6" x2="667.8" y2="535.2" stroke="#dadada" stroke-width="2.7" stroke-linecap="round"/>
<line x1="667.9" y1="532.6" x2="667.8" y2="535.2" stroke="#f6f6f6" stroke-width="1.9" stroke-linecap="round"/>
<line x1="668.0" y1="530.0" x2="670.5" y2="529.5" stroke="#d8b0b0" stroke-width="2.7" stroke-linecap="round"/>
<line x1="668.0" y1="530.0" x2="670.5" y2="529.5" stroke="#f4c4c4" stroke-width="1.9" stroke-linecap="round"/>
<line x1="668.0" y1="530.0" x2="667.9" y2="532.6" stroke="#d8b0b0" stroke-width="2.7" stroke-linecap="round"/>
<line x1="668.0" y1="530.0" x2="667.9" y2="532.6" stroke="#f4c4c4" stroke-width="1.9" stroke-linecap="round"/>
<line x1="582.8" y1="544.4" x2="580.6" y2="545.8" stroke="#dadada" stroke-width="2.7" stroke-linecap="round"/>
<line x1="582.8" y1="544.4" x2="580.6" y2="545.8" stroke="#f6f6f6" stroke-width="1.9" stroke-linecap="round"/>
<line x1="584.2" y1="540.5" x2="583.4" y2="538.1" stroke="#dadada" stroke-width="2.7" stroke-linecap="round"/>
<line x1="584.2" y1="540.5" x2="583.4" y2="538.1" stroke="#f6f6f6" stroke-width="1.9" stroke-linecap="round"/>
<line x1="585.0" y1="543.0" x2="582.8" y2="544.4" stroke="#d8b0b0" stroke-width="2.7" stroke-linecap="round"/>
<line x1="585.0" y1="543.0" x2="582.8" y2="544.4" stroke="#f4c4c4" stroke-width="1.9" stroke-linecap="round"/>
<line x1="585.0" y1="543.0" x2="584.2" y2="540.5" stroke="#d8b0b0" stroke-width="2.7" stroke-linecap="round"/>
<line x1="585.0" y1="543.0" x2="584.2" y2="540.5" stroke="#f4c4c4" stroke-width="1.9" stroke-linecap="round"/>
<line x1="602.6" y1="548.4" x2="605.1" y2="548.7" stroke="#dadada" stroke-width="2.7" stroke-linecap="round"/>
<line x1="602.6" y1="548.4" x2="605.1" y2="548.7" stroke="#f6f6f6" stroke-width="1.9" stroke-linecap="round"/>
<line x1="599.0" y1="550.4" x2="598.1" y2="552.8" stroke="#dadada" stroke-width="2.7" stroke-linecap="round"/>
<line x1="599.0" y1="550.4" x2="598.1" y2="552.8" stroke="#f6f6f6" stroke-width="1.9" stroke-linecap="round"/>
<line x1="600.0" y1="548.0" x2="602.6" y2="548.4" stroke="#d8b0b0" stroke-width="2.7" stroke-linecap="round"/>
<line x1="600.0" y1="548.0" x2="602.6" y2="548.4" stroke="#f4c4c4" stroke-width="1.9" stroke-linecap="round"/>
<line x1="600.0" y1="548.0" x2="599.0" y2="550.4" stroke="#d8b0b0" stroke-width="2.7" stroke-linecap="round"/>
<line x1="600.0" y1="548.0" x2="599.0" y2="550.4" stroke="#f4c4c4" stroke-width="1.9" stroke-linecap="round"/>
<line x1="617.0" y1="542.6" x2="616.1" y2="540.2" stroke="#dadada" stroke-width="2.7" stroke-linecap="round"/>
<line x1="617.0" y1="542.6" x2="616.1" y2="540.2" stroke="#f6f6f6" stroke-width="1.9" stroke-linecap="round"/>
<line x1="620.6" y1="544.6" x2="623.1" y2="544.3" stroke="#dadada" stroke-width="2.7" stroke-linecap="round"/>
<line x1="620.6" y1="544.6" x2="623.1" y2="544.3" stroke="#f6f6f6" stroke-width="1.9" stroke-linecap="round"/>
<line x1="618.0" y1="545.0" x2="617.0" y2="542.6" stroke="#d8b0b0" stroke-width="2.7" stroke-linecap="round"/>
<line x1="618.0" y1="545.0" x2="617.0" y2="542.6" stroke="#eea0a0" stroke-width="1.9" stroke-linecap="round"/>
<line x1="618.0" y1="545.0" x2="620.6" y2="544.6" stroke="#d8b0b0" stroke-width="2.7" stroke-linecap="round"/>
<line x1="618.0" y1="545.0" x2="620.6" y2="544.6" stroke="#eea0a0" stroke-width="1.9" stroke-linecap="round"/>
<line x1="641.7" y1="551.9" x2="643.5" y2="553.9" stroke="#dadada" stroke-width="2.7" stroke-linecap="round"/>
<line x1="641.7" y1="551.9" x2="643.5" y2="553.9" stroke="#f6f6f6" stroke-width="1.9" stroke-linecap="round"/>
<line x1="637.7" y1="551.2" x2="635.4" y2="552.4" stroke="#dadada" stroke-width="2.7" stroke-linecap="round"/>
<line x1="637.7" y1="551.2" x2="635.4" y2="552.4" stroke="#f6f6f6" stroke-width="1.9" stroke-linecap="round"/>
<line x1="640.0" y1="550.0" x2="641.7" y2="551.9" stroke="#d8b0b0" stroke-width="2.7" stroke-linecap="round"/>
<line x1="640.0" y1="550.0" x2="641.7" y2="551.9" stroke="#f4c4c4" stroke-width="1.9" stroke-linecap="round"/>
<line x1="640.0" y1="550.0" x2="637.7" y2="551.2" stroke="#d8b0b0" stroke-width="2.7" stroke-linecap="round"/>
<line x1="640.0" y1="550.0" x2="637.7" y2="551.2" stroke="#f4c4c4" stroke-width="1.9" stroke-linecap="round"/>
<line x1="662.2" y1="544.6" x2="664.4" y2="543.2" stroke="#dadada" stroke-width="2.7" stroke-linecap="round"/>
<line x1="662.2" y1="544.6" x2="664.4" y2="543.2" stroke="#f6f6f6" stroke-width="1.9" stroke-linecap="round"/>
<line x1="660.8" y1="548.5" x2="661.6" y2="550.9" stroke="#dadada" stroke-width="2.7" stroke-linecap="round"/>
<line x1="660.8" y1="548.5" x2="661.6" y2="550.9" stroke="#f6f6f6" stroke-width="1.9" stroke-linecap="round"/>
<line x1="660.0" y1="546.0" x2="662.2" y2="544.6" stroke="#d8b0b0" stroke-width="2.7" stroke-linecap="round"/>
<line x1="660.0" y1="546.0" x2="662.2" y2="544.6" stroke="#f4c4c4" stroke-width="1.9" stroke-linecap="round"/>
<line x1="660.0" y1="546.0" x2="660.8" y2="548.5" stroke="#d8b0b0" stroke-width="2.7" stroke-linecap="round"/>
<line x1="660.0" y1="546.0" x2="660.8" y2="548.5" stroke="#f4c4c4" stroke-width="1.9" stroke-linecap="round"/>
<line x1="676.0" y1="545.6" x2="675.1" y2="543.2" stroke="#dadada" stroke-width="2.7" stroke-linecap="round"/>
<line x1="676.0" y1="545.6" x2="675.1" y2="543.2" stroke="#f6f6f6" stroke-width="1.9" stroke-linecap="round"/>
<line x1="679.6" y1="547.6" x2="682.1" y2="547.3" stroke="#dadada" stroke-width="2.7" stroke-linecap="round"/>
<line x1="679.6" y1="547.6" x2="682.1" y2="547.3" stroke="#f6f6f6" stroke-width="1.9" stroke-linecap="round"/>
<line x1="677.0" y1="548.0" x2="676.0" y2="545.6" stroke="#d8b0b0" stroke-width="2.7" stroke-linecap="round"/>
<line x1="677.0" y1="548.0" x2="676.0" y2="545.6" stroke="#f4c4c4" stroke-width="1.9" stroke-linecap="round"/>
<line x1="677.0" y1="548.0" x2="679.6" y2="547.6" stroke="#d8b0b0" stroke-width="2.7" stroke-linecap="round"/>
<line x1="677.0" y1="548.0" x2="679.6" y2="547.6" stroke="#f4c4c4" stroke-width="1.9" stroke-linecap="round"/>
<line x1="562.0" y1="536.6" x2="564.1" y2="538.2" stroke="#dadada" stroke-width="2.7" stroke-linecap="round"/>
<line x1="562.0" y1="536.6" x2="564.1" y2="538.2" stroke="#f6f6f6" stroke-width="1.9" stroke-linecap="round"/>
<line x1="558.0" y1="536.6" x2="555.9" y2="538.2" stroke="#dadada" stroke-width="2.7" stroke-linecap="round"/>
<line x1="558.0" y1="536.6" x2="555.9" y2="538.2" stroke="#f6f6f6" stroke-width="1.9" stroke-linecap="round"/>
<line x1="560.0" y1="535.0" x2="562.0" y2="536.6" stroke="#d8b0b0" stroke-width="2.7" stroke-linecap="round"/>
<line x1="560.0" y1="535.0" x2="562.0" y2="536.6" stroke="#f4c4c4" stroke-width="1.9" stroke-linecap="round"/>
<line x1="560.0" y1="535.0" x2="558.0" y2="536.6" stroke="#d8b0b0" stroke-width="2.7" stroke-linecap="round"/>
<line x1="560.0" y1="535.0" x2="558.0" y2="536.6" stroke="#f4c4c4" stroke-width="1.9" stroke-linecap="round"/>
<line x1="607.4" y1="555.0" x2="609.8" y2="554.1" stroke="#dadada" stroke-width="2.7" stroke-linecap="round"/>
<line x1="607.4" y1="555.0" x2="609.8" y2="554.1" stroke="#f6f6f6" stroke-width="1.9" stroke-linecap="round"/>
<line x1="605.4" y1="558.6" x2="605.7" y2="561.1" stroke="#dadada" stroke-width="2.7" stroke-linecap="round"/>
<line x1="605.4" y1="558.6" x2="605.7" y2="561.1" stroke="#f6f6f6" stroke-width="1.9" stroke-linecap="round"/>
<line x1="605.0" y1="556.0" x2="607.4" y2="555.0" stroke="#d8b0b0" stroke-width="2.7" stroke-linecap="round"/>
<line x1="605.0" y1="556.0" x2="607.4" y2="555.0" stroke="#eea0a0" stroke-width="1.9" stroke-linecap="round"/>
<line x1="605.0" y1="556.0" x2="605.4" y2="558.6" stroke="#d8b0b0" stroke-width="2.7" stroke-linecap="round"/>
<line x1="605.0" y1="556.0" x2="605.4" y2="558.6" stroke="#eea0a0" stroke-width="1.9" stroke-linecap="round"/>
<line x1="622.6" y1="561.0" x2="620.2" y2="561.9" stroke="#dadada" stroke-width="2.7" stroke-linecap="round"/>
<line x1="622.6" y1="561.0" x2="620.2" y2="561.9" stroke="#f6f6f6" stroke-width="1.9" stroke-linecap="round"/>
<line x1="624.6" y1="557.4" x2="624.3" y2="554.9" stroke="#dadada" stroke-width="2.7" stroke-linecap="round"/>
<line x1="624.6" y1="557.4" x2="624.3" y2="554.9" stroke="#f6f6f6" stroke-width="1.9" stroke-linecap="round"/>
<line x1="625.0" y1="560.0" x2="622.6" y2="561.0" stroke="#d8b0b0" stroke-width="2.7" stroke-linecap="round"/>
<line x1="625.0" y1="560.0" x2="622.6" y2="561.0" stroke="#f4c4c4" stroke-width="1.9" stroke-linecap="round"/>
<line x1="625.0" y1="560.0" x2="624.6" y2="557.4" stroke="#d8b0b0" stroke-width="2.7" stroke-linecap="round"/>
<line x1="625.0" y1="560.0" x2="624.6" y2="557.4" stroke="#f4c4c4" stroke-width="1.9" stroke-linecap="round"/>
<line x1="650.8" y1="559.5" x2="651.6" y2="557.1" stroke="#dadada" stroke-width="2.7" stroke-linecap="round"/>
<line x1="650.8" y1="559.5" x2="651.6" y2="557.1" stroke="#f6f6f6" stroke-width="1.9" stroke-linecap="round"/>
<line x1="652.2" y1="563.4" x2="654.4" y2="564.8" stroke="#dadada" stroke-width="2.7" stroke-linecap="round"/>
<line x1="652.2" y1="563.4" x2="654.4" y2="564.8" stroke="#f6f6f6" stroke-width="1.9" stroke-linecap="round"/>
<line x1="650.0" y1="562.0" x2="650.8" y2="559.5" stroke="#d8b0b0" stroke-width="2.7" stroke-linecap="round"/>
<line x1="650.0" y1="562.0" x2="650.8" y2="559.5" stroke="#eea0a0" stroke-width="1.9" stroke-linecap="round"/>
<line x1="650.0" y1="562.0" x2="652.2" y2="563.4" stroke="#d8b0b0" stroke-width="2.7" stroke-linecap="round"/>
<line x1="650.0" y1="562.0" x2="652.2" y2="563.4" stroke="#eea0a0" stroke-width="1.9" stroke-linecap="round"/>
<line x1="667.5" y1="555.5" x2="670.1" y2="554.9" stroke="#dadada" stroke-width="2.7" stroke-linecap="round"/>
<line x1="667.5" y1="555.5" x2="670.1" y2="554.9" stroke="#f6f6f6" stroke-width="1.9" stroke-linecap="round"/>
<line x1="664.9" y1="558.6" x2="664.8" y2="561.2" stroke="#dadada" stroke-width="2.7" stroke-linecap="round"/>
<line x1="664.9" y1="558.6" x2="664.8" y2="561.2" stroke="#f6f6f6" stroke-width="1.9" stroke-linecap="round"/>
<line x1="665.0" y1="556.0" x2="667.5" y2="555.5" stroke="#d8b0b0" stroke-width="2.7" stroke-linecap="round"/>
<line x1="665.0" y1="556.0" x2="667.5" y2="555.5" stroke="#f4c4c4" stroke-width="1.9" stroke-linecap="round"/>
<line x1="665.0" y1="556.0" x2="664.9" y2="558.6" stroke="#d8b0b0" stroke-width="2.7" stroke-linecap="round"/>
<line x1="665.0" y1="556.0" x2="664.9" y2="558.6" stroke="#f4c4c4" stroke-width="1.9" stroke-linecap="round"/>
<line x1="589.6" y1="562.6" x2="589.3" y2="565.1" stroke="#dadada" stroke-width="2.7" stroke-linecap="round"/>
<line x1="589.6" y1="562.6" x2="589.3" y2="565.1" stroke="#f6f6f6" stroke-width="1.9" stroke-linecap="round"/>
<line x1="587.6" y1="559.0" x2="585.2" y2="558.1" stroke="#dadada" stroke-width="2.7" stroke-linecap="round"/>
<line x1="587.6" y1="559.0" x2="585.2" y2="558.1" stroke="#f6f6f6" stroke-width="1.9" stroke-linecap="round"/>
<line x1="590.0" y1="560.0" x2="589.6" y2="562.6" stroke="#d8b0b0" stroke-width="2.7" stroke-linecap="round"/>
<line x1="590.0" y1="560.0" x2="589.6" y2="562.6" stroke="#f4c4c4" stroke-width="1.9" stroke-linecap="round"/>
<line x1="590.0" y1="560.0" x2="587.6" y2="559.0" stroke="#d8b0b0" stroke-width="2.7" stroke-linecap="round"/>
<line x1="590.0" y1="560.0" x2="587.6" y2="559.0" stroke="#f4c4c4" stroke-width="1.9" stroke-linecap="round"/>
<line x1="670.5" y1="540.9" x2="672.5" y2="539.2" stroke="#dadada" stroke-width="2.7" stroke-linecap="round"/>
<line x1="670.5" y1="540.9" x2="672.5" y2="539.2" stroke="#f6f6f6" stroke-width="1.9" stroke-linecap="round"/>
<line x1="669.6" y1="544.9" x2="670.8" y2="547.3" stroke="#dadada" stroke-width="2.7" stroke-linecap="round"/>
<line x1="669.6" y1="544.9" x2="670.8" y2="547.3" stroke="#f6f6f6" stroke-width="1.9" stroke-linecap="round"/>
<line x1="668.5" y1="542.6" x2="670.5" y2="540.9" stroke="#d8b0b0" stroke-width="2.7" stroke-linecap="round"/>
<line x1="668.5" y1="542.6" x2="670.5" y2="540.9" stroke="#eea0a0" stroke-width="1.9" stroke-linecap="round"/>
<line x1="668.5" y1="542.6" x2="669.6" y2="544.9" stroke="#d8b0b0" stroke-width="2.7" stroke-linecap="round"/>
<line x1="668.5" y1="542.6" x2="669.6" y2="544.9" stroke="#eea0a0" stroke-width="1.9" stroke-linecap="round"/>
<line x1="622.6" y1="509.6" x2="623.5" y2="507.2" stroke="#dadada" stroke-width="2.7" stroke-linecap="round"/>
<line x1="622.6" y1="509.6" x2="623.5" y2="507.2" stroke="#f6f6f6" stroke-width="1.9" stroke-linecap="round"/>
<line x1="623.8" y1="513.5" x2="626.0" y2="515.0" stroke="#dadada" stroke-width="2.7" stroke-linecap="round"/>
<line x1="623.8" y1="513.5" x2="626.0" y2="515.0" stroke="#f6f6f6" stroke-width="1.9" stroke-linecap="round"/>
<line x1="621.7" y1="512.1" x2="622.6" y2="509.6" stroke="#d8b0b0" stroke-width="2.7" stroke-linecap="round"/>
<line x1="621.7" y1="512.1" x2="622.6" y2="509.6" stroke="#eea0a0" stroke-width="1.9" stroke-linecap="round"/>
<line x1="621.7" y1="512.1" x2="623.8" y2="513.5" stroke="#d8b0b0" stroke-width="2.7" stroke-linecap="round"/>
<line x1="621.7" y1="512.1" x2="623.8" y2="513.5" stroke="#eea0a0" stroke-width="1.9" stroke-linecap="round"/>
<line x1="581.8" y1="554.5" x2="584.4" y2="554.2" stroke="#dadada" stroke-width="2.7" stroke-linecap="round"/>
<line x1="581.8" y1="554.5" x2="584.4" y2="554.2" stroke="#f6f6f6" stroke-width="1.9" stroke-linecap="round"/>
<line x1="578.9" y1="557.4" x2="578.6" y2="560.0" stroke="#dadada" stroke-width="2.7" stroke-linecap="round"/>
<line x1="578.9" y1="557.4" x2="578.6" y2="560.0" stroke="#f6f6f6" stroke-width="1.9" stroke-linecap="round"/>
<line x1="579.2" y1="554.9" x2="581.8" y2="554.5" stroke="#d8b0b0" stroke-width="2.7" stroke-linecap="round"/>
<line x1="579.2" y1="554.9" x2="581.8" y2="554.5" stroke="#eea0a0" stroke-width="1.9" stroke-linecap="round"/>
<line x1="579.2" y1="554.9" x2="578.9" y2="557.4" stroke="#d8b0b0" stroke-width="2.7" stroke-linecap="round"/>
<line x1="579.2" y1="554.9" x2="578.9" y2="557.4" stroke="#eea0a0" stroke-width="1.9" stroke-linecap="round"/>
<line x1="617.0" y1="541.1" x2="617.8" y2="543.6" stroke="#dadada" stroke-width="2.7" stroke-linecap="round"/>
<line x1="617.0" y1="541.1" x2="617.8" y2="543.6" stroke="#f6f6f6" stroke-width="1.9" stroke-linecap="round"/>
<line x1="613.6" y1="538.9" x2="611.0" y2="539.1" stroke="#dadada" stroke-width="2.7" stroke-linecap="round"/>
<line x1="613.6" y1="538.9" x2="611.0" y2="539.1" stroke="#f6f6f6" stroke-width="1.9" stroke-linecap="round"/>
<line x1="616.2" y1="538.7" x2="617.0" y2="541.1" stroke="#d8b0b0" stroke-width="2.7" stroke-linecap="round"/>
<line x1="616.2" y1="538.7" x2="617.0" y2="541.1" stroke="#eea0a0" stroke-width="1.9" stroke-linecap="round"/>
<line x1="616.2" y1="538.7" x2="613.6" y2="538.9" stroke="#d8b0b0" stroke-width="2.7" stroke-linecap="round"/>
<line x1="616.2" y1="538.7" x2="613.6" y2="538.9" stroke="#eea0a0" stroke-width="1.9" stroke-linecap="round"/>
<line x1="582.7" y1="504.7" x2="582.2" y2="502.1" stroke="#dadada" stroke-width="2.7" stroke-linecap="round"/>
<line x1="582.7" y1="504.7" x2="582.2" y2="502.1" stroke="#f6f6f6" stroke-width="1.9" stroke-linecap="round"/>
<line x1="585.8" y1="507.4" x2="588.4" y2="507.6" stroke="#dadada" stroke-width="2.7" stroke-linecap="round"/>
<line x1="585.8" y1="507.4" x2="588.4" y2="507.6" stroke="#f6f6f6" stroke-width="1.9" stroke-linecap="round"/>
<line x1="583.2" y1="507.3" x2="582.7" y2="504.7" stroke="#d8b0b0" stroke-width="2.7" stroke-linecap="round"/>
<line x1="583.2" y1="507.3" x2="582.7" y2="504.7" stroke="#f4c4c4" stroke-width="1.9" stroke-linecap="round"/>
<line x1="583.2" y1="507.3" x2="585.8" y2="507.4" stroke="#d8b0b0" stroke-width="2.7" stroke-linecap="round"/>
<line x1="583.2" y1="507.3" x2="585.8" y2="507.4" stroke="#f4c4c4" stroke-width="1.9" stroke-linecap="round"/>
<line x1="657.9" y1="515.4" x2="659.1" y2="513.1" stroke="#dadada" stroke-width="2.7" stroke-linecap="round"/>
<line x1="657.9" y1="515.4" x2="659.1" y2="513.1" stroke="#f6f6f6" stroke-width="1.9" stroke-linecap="round"/>
<line x1="658.7" y1="519.4" x2="660.7" y2="521.1" stroke="#dadada" stroke-width="2.7" stroke-linecap="round"/>
<line x1="658.7" y1="519.4" x2="660.7" y2="521.1" stroke="#f6f6f6" stroke-width="1.9" stroke-linecap="round"/>
<line x1="656.8" y1="517.7" x2="657.9" y2="515.4" stroke="#d8b0b0" stroke-width="2.7" stroke-linecap="round"/>
<line x1="656.8" y1="517.7" x2="657.9" y2="515.4" stroke="#eea0a0" stroke-width="1.9" stroke-linecap="round"/>
<line x1="656.8" y1="517.7" x2="658.7" y2="519.4" stroke="#d8b0b0" stroke-width="2.7" stroke-linecap="round"/>
<line x1="656.8" y1="517.7" x2="658.7" y2="519.4" stroke="#eea0a0" stroke-width="1.9" stroke-linecap="round"/>
<line x1="651.2" y1="552.5" x2="648.8" y2="553.6" stroke="#dadada" stroke-width="2.7" stroke-linecap="round"/>
<line x1="651.2" y1="552.5" x2="648.8" y2="553.6" stroke="#f6f6f6" stroke-width="1.9" stroke-linecap="round"/>
<line x1="653.2" y1="549.0" x2="652.8" y2="546.4" stroke="#dadada" stroke-width="2.7" stroke-linecap="round"/>
<line x1="653.2" y1="549.0" x2="652.8" y2="546.4" stroke="#f6f6f6" stroke-width="1.9" stroke-linecap="round"/>
<line x1="653.6" y1="551.5" x2="651.2" y2="552.5" stroke="#d8b0b0" stroke-width="2.7" stroke-linecap="round"/>
<line x1="653.6" y1="551.5" x2="651.2" y2="552.5" stroke="#eea0a0" stroke-width="1.9" stroke-linecap="round"/>
<line x1="653.6" y1="551.5" x2="653.2" y2="549.0" stroke="#d8b0b0" stroke-width="2.7" stroke-linecap="round"/>
<line x1="653.6" y1="551.5" x2="653.2" y2="549.0" stroke="#eea0a0" stroke-width="1.9" stroke-linecap="round"/>
<line x1="574.1" y1="531.7" x2="573.0" y2="529.3" stroke="#dadada" stroke-width="2.7" stroke-linecap="round"/>
<line x1="574.1" y1="531.7" x2="573.0" y2="529.3" stroke="#f6f6f6" stroke-width="1.9" stroke-linecap="round"/>
<line x1="577.7" y1="533.6" x2="580.3" y2="533.1" stroke="#dadada" stroke-width="2.7" stroke-linecap="round"/>
<line x1="577.7" y1="533.6" x2="580.3" y2="533.1" stroke="#f6f6f6" stroke-width="1.9" stroke-linecap="round"/>
<line x1="575.2" y1="534.1" x2="574.1" y2="531.7" stroke="#d8b0b0" stroke-width="2.7" stroke-linecap="round"/>
<line x1="575.2" y1="534.1" x2="574.1" y2="531.7" stroke="#f4c4c4" stroke-width="1.9" stroke-linecap="round"/>
<line x1="575.2" y1="534.1" x2="577.7" y2="533.6" stroke="#d8b0b0" stroke-width="2.7" stroke-linecap="round"/>
<line x1="575.2" y1="534.1" x2="577.7" y2="533.6" stroke="#f4c4c4" stroke-width="1.9" stroke-linecap="round"/>
<line x1="674.2" y1="561.7" x2="674.0" y2="564.3" stroke="#dadada" stroke-width="2.7" stroke-linecap="round"/>
<line x1="674.2" y1="561.7" x2="674.0" y2="564.3" stroke="#f6f6f6" stroke-width="1.9" stroke-linecap="round"/>
<line x1="672.0" y1="558.3" x2="669.6" y2="557.4" stroke="#dadada" stroke-width="2.7" stroke-linecap="round"/>
<line x1="672.0" y1="558.3" x2="669.6" y2="557.4" stroke="#f6f6f6" stroke-width="1.9" stroke-linecap="round"/>
<line x1="674.5" y1="559.1" x2="674.2" y2="561.7" stroke="#d8b0b0" stroke-width="2.7" stroke-linecap="round"/>
<line x1="674.5" y1="559.1" x2="674.2" y2="561.7" stroke="#eea0a0" stroke-width="1.9" stroke-linecap="round"/>
<line x1="674.5" y1="559.1" x2="672.0" y2="558.3" stroke="#d8b0b0" stroke-width="2.7" stroke-linecap="round"/>
<line x1="674.5" y1="559.1" x2="672.0" y2="558.3" stroke="#eea0a0" stroke-width="1.9" stroke-linecap="round"/>
<line x1="617.5" y1="526.4" x2="619.0" y2="524.3" stroke="#dadada" stroke-width="2.7" stroke-linecap="round"/>
<line x1="617.5" y1="526.4" x2="619.0" y2="524.3" stroke="#f6f6f6" stroke-width="1.9" stroke-linecap="round"/>
<line x1="617.6" y1="530.5" x2="619.3" y2="532.5" stroke="#dadada" stroke-width="2.7" stroke-linecap="round"/>
<line x1="617.6" y1="530.5" x2="619.3" y2="532.5" stroke="#f6f6f6" stroke-width="1.9" stroke-linecap="round"/>
<line x1="616.0" y1="528.5" x2="617.5" y2="526.4" stroke="#d8b0b0" stroke-width="2.7" stroke-linecap="round"/>
<line x1="616.0" y1="528.5" x2="617.5" y2="526.4" stroke="#eea0a0" stroke-width="1.9" stroke-linecap="round"/>
<line x1="616.0" y1="528.5" x2="617.6" y2="530.5" stroke="#d8b0b0" stroke-width="2.7" stroke-linecap="round"/>
<line x1="616.0" y1="528.5" x2="617.6" y2="530.5" stroke="#eea0a0" stroke-width="1.9" stroke-linecap="round"/>
<line x1="561.0" y1="509.5" x2="558.7" y2="508.4" stroke="#dadada" stroke-width="2.7" stroke-linecap="round"/>
<line x1="561.0" y1="509.5" x2="558.7" y2="508.4" stroke="#f6f6f6" stroke-width="1.9" stroke-linecap="round"/>
<line x1="565.0" y1="508.7" x2="566.7" y2="506.7" stroke="#dadada" stroke-width="2.7" stroke-linecap="round"/>
<line x1="565.0" y1="508.7" x2="566.7" y2="506.7" stroke="#f6f6f6" stroke-width="1.9" stroke-linecap="round"/>
<line x1="563.3" y1="510.7" x2="561.0" y2="509.5" stroke="#d8b0b0" stroke-width="2.7" stroke-linecap="round"/>
<line x1="563.3" y1="510.7" x2="561.0" y2="509.5" stroke="#eea0a0" stroke-width="1.9" stroke-linecap="round"/>
<line x1="563.3" y1="510.7" x2="565.0" y2="508.7" stroke="#d8b0b0" stroke-width="2.7" stroke-linecap="round"/>
<line x1="563.3" y1="510.7" x2="565.0" y2="508.7" stroke="#eea0a0" stroke-width="1.9" stroke-linecap="round"/>
<line x1="619.3" y1="536.4" x2="617.2" y2="537.9" stroke="#dadada" stroke-width="2.7" stroke-linecap="round"/>
<line x1="619.3" y1="536.4" x2="617.2" y2="537.9" stroke="#f6f6f6" stroke-width="1.9" stroke-linecap="round"/>
<line x1="620.6" y1="532.5" x2="619.7" y2="530.1" stroke="#dadada" stroke-width="2.7" stroke-linecap="round"/>
<line x1="620.6" y1="532.5" x2="619.7" y2="530.1" stroke="#f6f6f6" stroke-width="1.9" stroke-linecap="round"/>
<line x1="621.5" y1="535.0" x2="619.3" y2="536.4" stroke="#d8b0b0" stroke-width="2.7" stroke-linecap="round"/>
<line x1="621.5" y1="535.0" x2="619.3" y2="536.4" stroke="#eea0a0" stroke-width="1.9" stroke-linecap="round"/>
<line x1="621.5" y1="535.0" x2="620.6" y2="532.5" stroke="#d8b0b0" stroke-width="2.7" stroke-linecap="round"/>
<line x1="621.5" y1="535.0" x2="620.6" y2="532.5" stroke="#eea0a0" stroke-width="1.9" stroke-linecap="round"/>
<line x1="585.3" y1="543.5" x2="583.1" y2="544.9" stroke="#dadada" stroke-width="2.7" stroke-linecap="round"/>
<line x1="585.3" y1="543.5" x2="583.1" y2="544.9" stroke="#f6f6f6" stroke-width="1.9" stroke-linecap="round"/>
<line x1="586.7" y1="539.7" x2="586.0" y2="537.2" stroke="#dadada" stroke-width="2.7" stroke-linecap="round"/>
<line x1="586.7" y1="539.7" x2="586.0" y2="537.2" stroke="#f6f6f6" stroke-width="1.9" stroke-linecap="round"/>
<line x1="587.5" y1="542.1" x2="585.3" y2="543.5" stroke="#d8b0b0" stroke-width="2.7" stroke-linecap="round"/>
<line x1="587.5" y1="542.1" x2="585.3" y2="543.5" stroke="#eea0a0" stroke-width="1.9" stroke-linecap="round"/>
<line x1="587.5" y1="542.1" x2="586.7" y2="539.7" stroke="#d8b0b0" stroke-width="2.7" stroke-linecap="round"/>
<line x1="587.5" y1="542.1" x2="586.7" y2="539.7" stroke="#eea0a0" stroke-width="1.9" stroke-linecap="round"/>
<line x1="583.1" y1="517.9" x2="583.9" y2="520.4" stroke="#dadada" stroke-width="2.7" stroke-linecap="round"/>
<line x1="583.1" y1="517.9" x2="583.9" y2="520.4" stroke="#f6f6f6" stroke-width="1.9" stroke-linecap="round"/>
<line x1="579.8" y1="515.5" x2="577.2" y2="515.6" stroke="#dadada" stroke-width="2.7" stroke-linecap="round"/>
<line x1="579.8" y1="515.5" x2="577.2" y2="515.6" stroke="#f6f6f6" stroke-width="1.9" stroke-linecap="round"/>
<line x1="582.4" y1="515.4" x2="583.1" y2="517.9" stroke="#d8b0b0" stroke-width="2.7" stroke-linecap="round"/>
<line x1="582.4" y1="515.4" x2="583.1" y2="517.9" stroke="#eea0a0" stroke-width="1.9" stroke-linecap="round"/>
<line x1="582.4" y1="515.4" x2="579.8" y2="515.5" stroke="#d8b0b0" stroke-width="2.7" stroke-linecap="round"/>
<line x1="582.4" y1="515.4" x2="579.8" y2="515.5" stroke="#eea0a0" stroke-width="1.9" stroke-linecap="round"/>
<line x1="604.3" y1="543.6" x2="605.7" y2="545.9" stroke="#dadada" stroke-width="2.7" stroke-linecap="round"/>
<line x1="604.3" y1="543.6" x2="605.7" y2="545.9" stroke="#f6f6f6" stroke-width="1.9" stroke-linecap="round"/>
<line x1="600.5" y1="542.2" x2="598.0" y2="543.0" stroke="#dadada" stroke-width="2.7" stroke-linecap="round"/>
<line x1="600.5" y1="542.2" x2="598.0" y2="543.0" stroke="#f6f6f6" stroke-width="1.9" stroke-linecap="round"/>
<line x1="603.0" y1="541.4" x2="604.3" y2="543.6" stroke="#d8b0b0" stroke-width="2.7" stroke-linecap="round"/>
<line x1="603.0" y1="541.4" x2="604.3" y2="543.6" stroke="#f4c4c4" stroke-width="1.9" stroke-linecap="round"/>
<line x1="603.0" y1="541.4" x2="600.5" y2="542.2" stroke="#d8b0b0" stroke-width="2.7" stroke-linecap="round"/>
<line x1="603.0" y1="541.4" x2="600.5" y2="542.2" stroke="#f4c4c4" stroke-width="1.9" stroke-linecap="round"/>
<line x1="566.4" y1="552.7" x2="564.6" y2="550.8" stroke="#dadada" stroke-width="2.7" stroke-linecap="round"/>
<line x1="566.4" y1="552.7" x2="564.6" y2="550.8" stroke="#f6f6f6" stroke-width="1.9" stroke-linecap="round"/>
<line x1="570.4" y1="553.4" x2="572.7" y2="552.2" stroke="#dadada" stroke-width="2.7" stroke-linecap="round"/>
<line x1="570.4" y1="553.4" x2="572.7" y2="552.2" stroke="#f6f6f6" stroke-width="1.9" stroke-linecap="round"/>
<line x1="568.1" y1="554.6" x2="566.4" y2="552.7" stroke="#d8b0b0" stroke-width="2.7" stroke-linecap="round"/>
<line x1="568.1" y1="554.6" x2="566.4" y2="552.7" stroke="#eea0a0" stroke-width="1.9" stroke-linecap="round"/>
<line x1="568.1" y1="554.6" x2="570.4" y2="553.4" stroke="#d8b0b0" stroke-width="2.7" stroke-linecap="round"/>
<line x1="568.1" y1="554.6" x2="570.4" y2="553.4" stroke="#eea0a0" stroke-width="1.9" stroke-linecap="round"/>
<line x1="644.8" y1="543.6" x2="644.9" y2="541.0" stroke="#dadada" stroke-width="2.7" stroke-linecap="round"/>
<line x1="644.8" y1="543.6" x2="644.9" y2="541.0" stroke="#f6f6f6" stroke-width="1.9" stroke-linecap="round"/>
<line x1="647.2" y1="546.9" x2="649.7" y2="547.6" stroke="#dadada" stroke-width="2.7" stroke-linecap="round"/>
<line x1="647.2" y1="546.9" x2="649.7" y2="547.6" stroke="#f6f6f6" stroke-width="1.9" stroke-linecap="round"/>
<line x1="644.7" y1="546.2" x2="644.8" y2="543.6" stroke="#d8b0b0" stroke-width="2.7" stroke-linecap="round"/>
<line x1="644.7" y1="546.2" x2="644.8" y2="543.6" stroke="#eea0a0" stroke-width="1.9" stroke-linecap="round"/>
<line x1="644.7" y1="546.2" x2="647.2" y2="546.9" stroke="#d8b0b0" stroke-width="2.7" stroke-linecap="round"/>
<line x1="644.7" y1="546.2" x2="647.2" y2="546.9" stroke="#eea0a0" stroke-width="1.9" stroke-linecap="round"/>
<line x1="611.5" y1="563.0" x2="612.6" y2="560.6" stroke="#dadada" stroke-width="2.7" stroke-linecap="round"/>
<line x1="611.5" y1="563.0" x2="612.6" y2="560.6" stroke="#f6f6f6" stroke-width="1.9" stroke-linecap="round"/>
<line x1="612.5" y1="566.9" x2="614.6" y2="568.5" stroke="#dadada" stroke-width="2.7" stroke-linecap="round"/>
<line x1="612.5" y1="566.9" x2="614.6" y2="568.5" stroke="#f6f6f6" stroke-width="1.9" stroke-linecap="round"/>
<line x1="610.5" y1="565.3" x2="611.5" y2="563.0" stroke="#d8b0b0" stroke-width="2.7" stroke-linecap="round"/>
<line x1="610.5" y1="565.3" x2="611.5" y2="563.0" stroke="#eea0a0" stroke-width="1.9" stroke-linecap="round"/>
<line x1="610.5" y1="565.3" x2="612.5" y2="566.9" stroke="#d8b0b0" stroke-width="2.7" stroke-linecap="round"/>
<line x1="610.5" y1="565.3" x2="612.5" y2="566.9" stroke="#eea0a0" stroke-width="1.9" stroke-linecap="round"/>
<line x1="669.8" y1="537.5" x2="670.1" y2="540.1" stroke="#dadada" stroke-width="2.7" stroke-linecap="round"/>
<line x1="669.8" y1="537.5" x2="670.1" y2="540.1" stroke="#f6f6f6" stroke-width="1.9" stroke-linecap="round"/>
<line x1="666.9" y1="534.6" x2="664.4" y2="534.3" stroke="#dadada" stroke-width="2.7" stroke-linecap="round"/>
<line x1="666.9" y1="534.6" x2="664.4" y2="534.3" stroke="#f6f6f6" stroke-width="1.9" stroke-linecap="round"/>
<line x1="669.5" y1="534.9" x2="669.8" y2="537.5" stroke="#d8b0b0" stroke-width="2.7" stroke-linecap="round"/>
<line x1="669.5" y1="534.9" x2="669.8" y2="537.5" stroke="#f4c4c4" stroke-width="1.9" stroke-linecap="round"/>
<line x1="669.5" y1="534.9" x2="666.9" y2="534.6" stroke="#d8b0b0" stroke-width="2.7" stroke-linecap="round"/>
<line x1="669.5" y1="534.9" x2="666.9" y2="534.6" stroke="#f4c4c4" stroke-width="1.9" stroke-linecap="round"/>
<line x1="671.0" y1="513.7" x2="673.3" y2="512.5" stroke="#dadada" stroke-width="2.7" stroke-linecap="round"/>
<line x1="671.0" y1="513.7" x2="673.3" y2="512.5" stroke="#f6f6f6" stroke-width="1.9" stroke-linecap="round"/>
<line x1="669.2" y1="517.4" x2="669.8" y2="520.0" stroke="#dadada" stroke-width="2.7" stroke-linecap="round"/>
<line x1="669.2" y1="517.4" x2="669.8" y2="520.0" stroke="#f6f6f6" stroke-width="1.9" stroke-linecap="round"/>
<line x1="668.6" y1="514.9" x2="671.0" y2="513.7" stroke="#d8b0b0" stroke-width="2.7" stroke-linecap="round"/>
<line x1="668.6" y1="514.9" x2="671.0" y2="513.7" stroke="#eea0a0" stroke-width="1.9" stroke-linecap="round"/>
<line x1="668.6" y1="514.9" x2="669.2" y2="517.4" stroke="#d8b0b0" stroke-width="2.7" stroke-linecap="round"/>
<line x1="668.6" y1="514.9" x2="669.2" y2="517.4" stroke="#eea0a0" stroke-width="1.9" stroke-linecap="round"/>
<line x1="655.0" y1="532.0" x2="654.1" y2="529.6" stroke="#dadada" stroke-width="2.7" stroke-linecap="round"/>
<line x1="655.0" y1="532.0" x2="654.1" y2="529.6" stroke="#f6f6f6" stroke-width="1.9" stroke-linecap="round"/>
<line x1="658.5" y1="534.2" x2="661.1" y2="533.9" stroke="#dadada" stroke-width="2.7" stroke-linecap="round"/>
<line x1="658.5" y1="534.2" x2="661.1" y2="533.9" stroke="#f6f6f6" stroke-width="1.9" stroke-linecap="round"/>
<line x1="656.0" y1="534.5" x2="655.0" y2="532.0" stroke="#d8b0b0" stroke-width="2.7" stroke-linecap="round"/>
<line x1="656.0" y1="534.5" x2="655.0" y2="532.0" stroke="#f4c4c4" stroke-width="1.9" stroke-linecap="round"/>
<line x1="656.0" y1="534.5" x2="658.5" y2="534.2" stroke="#d8b0b0" stroke-width="2.7" stroke-linecap="round"/>
<line x1="656.0" y1="534.5" x2="658.5" y2="534.2" stroke="#f4c4c4" stroke-width="1.9" stroke-linecap="round"/>
<line x1="591.6" y1="525.3" x2="591.2" y2="527.8" stroke="#dadada" stroke-width="2.7" stroke-linecap="round"/>
<line x1="591.6" y1="525.3" x2="591.2" y2="527.8" stroke="#f6f6f6" stroke-width="1.9" stroke-linecap="round"/>
<line x1="589.6" y1="521.7" x2="587.2" y2="520.6" stroke="#dadada" stroke-width="2.7" stroke-linecap="round"/>
<line x1="589.6" y1="521.7" x2="587.2" y2="520.6" stroke="#f6f6f6" stroke-width="1.9" stroke-linecap="round"/>
<line x1="592.0" y1="522.7" x2="591.6" y2="525.3" stroke="#d8b0b0" stroke-width="2.7" stroke-linecap="round"/>
<line x1="592.0" y1="522.7" x2="591.6" y2="525.3" stroke="#f4c4c4" stroke-width="1.9" stroke-linecap="round"/>
<line x1="592.0" y1="522.7" x2="589.6" y2="521.7" stroke="#d8b0b0" stroke-width="2.7" stroke-linecap="round"/>
<line x1="592.0" y1="522.7" x2="589.6" y2="521.7" stroke="#f4c4c4" stroke-width="1.9" stroke-linecap="round"/>
<line x1="568.7" y1="523.0" x2="568.8" y2="520.4" stroke="#dadada" stroke-width="2.7" stroke-linecap="round"/>
<line x1="568.7" y1="523.0" x2="568.8" y2="520.4" stroke="#f6f6f6" stroke-width="1.9" stroke-linecap="round"/>
<line x1="571.1" y1="526.3" x2="573.6" y2="527.0" stroke="#dadada" stroke-width="2.7" stroke-linecap="round"/>
<line x1="571.1" y1="526.3" x2="573.6" y2="527.0" stroke="#f6f6f6" stroke-width="1.9" stroke-linecap="round"/>
<line x1="568.6" y1="525.6" x2="568.7" y2="523.0" stroke="#d8b0b0" stroke-width="2.7" stroke-linecap="round"/>
<line x1="568.6" y1="525.6" x2="568.7" y2="523.0" stroke="#eea0a0" stroke-width="1.9" stroke-linecap="round"/>
<line x1="568.6" y1="525.6" x2="571.1" y2="526.3" stroke="#d8b0b0" stroke-width="2.7" stroke-linecap="round"/>
<line x1="568.6" y1="525.6" x2="571.1" y2="526.3" stroke="#eea0a0" stroke-width="1.9" stroke-linecap="round"/>
<line x1="654.5" y1="535.8" x2="656.5" y2="537.5" stroke="#dadada" stroke-width="2.7" stroke-linecap="round"/>
<line x1="654.5" y1="535.8" x2="656.5" y2="537.5" stroke="#f6f6f6" stroke-width="1.9" stroke-linecap="round"/>
<line x1="650.4" y1="535.8" x2="648.3" y2="537.4" stroke="#dadada" stroke-width="2.7" stroke-linecap="round"/>
<line x1="650.4" y1="535.8" x2="648.3" y2="537.4" stroke="#f6f6f6" stroke-width="1.9" stroke-linecap="round"/>
<line x1="652.5" y1="534.2" x2="654.5" y2="535.8" stroke="#d8b0b0" stroke-width="2.7" stroke-linecap="round"/>
<line x1="652.5" y1="534.2" x2="654.5" y2="535.8" stroke="#eea0a0" stroke-width="1.9" stroke-linecap="round"/>
<line x1="652.5" y1="534.2" x2="650.4" y2="535.8" stroke="#d8b0b0" stroke-width="2.7" stroke-linecap="round"/>
<line x1="652.5" y1="534.2" x2="650.4" y2="535.8" stroke="#eea0a0" stroke-width="1.9" stroke-linecap="round"/>
<line x1="627.1" y1="547.7" x2="629.1" y2="546.0" stroke="#dadada" stroke-width="2.7" stroke-linecap="round"/>
<line x1="627.1" y1="547.7" x2="629.1" y2="546.0" stroke="#f6f6f6" stroke-width="1.9" stroke-linecap="round"/>
<line x1="626.4" y1="551.7" x2="627.6" y2="554.0" stroke="#dadada" stroke-width="2.7" stroke-linecap="round"/>
<line x1="626.4" y1="551.7" x2="627.6" y2="554.0" stroke="#f6f6f6" stroke-width="1.9" stroke-linecap="round"/>
<line x1="625.2" y1="549.4" x2="627.1" y2="547.7" stroke="#d8b0b0" stroke-width="2.7" stroke-linecap="round"/>
<line x1="625.2" y1="549.4" x2="627.1" y2="547.7" stroke="#f4c4c4" stroke-width="1.9" stroke-linecap="round"/>
<line x1="625.2" y1="549.4" x2="626.4" y2="551.7" stroke="#d8b0b0" stroke-width="2.7" stroke-linecap="round"/>
<line x1="625.2" y1="549.4" x2="626.4" y2="551.7" stroke="#f4c4c4" stroke-width="1.9" stroke-linecap="round"/>
<line x1="663.7" y1="550.9" x2="663.5" y2="548.3" stroke="#dadada" stroke-width="2.7" stroke-linecap="round"/>
<line x1="663.7" y1="550.9" x2="663.5" y2="548.3" stroke="#f6f6f6" stroke-width="1.9" stroke-linecap="round"/>
<line x1="666.5" y1="553.9" x2="669.1" y2="554.4" stroke="#dadada" stroke-width="2.7" stroke-linecap="round"/>
<line x1="666.5" y1="553.9" x2="669.1" y2="554.4" stroke="#f6f6f6" stroke-width="1.9" stroke-linecap="round"/>
<line x1="663.9" y1="553.5" x2="663.7" y2="550.9" stroke="#d8b0b0" stroke-width="2.7" stroke-linecap="round"/>
<line x1="663.9" y1="553.5" x2="663.7" y2="550.9" stroke="#eea0a0" stroke-width="1.9" stroke-linecap="round"/>
<line x1="663.9" y1="553.5" x2="666.5" y2="553.9" stroke="#d8b0b0" stroke-width="2.7" stroke-linecap="round"/>
<line x1="663.9" y1="553.5" x2="666.5" y2="553.9" stroke="#eea0a0" stroke-width="1.9" stroke-linecap="round"/>
<line x1="612.1" y1="538.0" x2="611.4" y2="535.5" stroke="#dadada" stroke-width="2.7" stroke-linecap="round"/>
<line x1="612.1" y1="538.0" x2="611.4" y2="535.5" stroke="#f6f6f6" stroke-width="1.9" stroke-linecap="round"/>
<line x1="615.4" y1="540.3" x2="618.0" y2="540.2" stroke="#dadada" stroke-width="2.7" stroke-linecap="round"/>
<line x1="615.4" y1="540.3" x2="618.0" y2="540.2" stroke="#f6f6f6" stroke-width="1.9" stroke-linecap="round"/>
<line x1="612.8" y1="540.4" x2="612.1" y2="538.0" stroke="#d8b0b0" stroke-width="2.7" stroke-linecap="round"/>
<line x1="612.8" y1="540.4" x2="612.1" y2="538.0" stroke="#eea0a0" stroke-width="1.9" stroke-linecap="round"/>
<line x1="612.8" y1="540.4" x2="615.4" y2="540.3" stroke="#d8b0b0" stroke-width="2.7" stroke-linecap="round"/>
<line x1="612.8" y1="540.4" x2="615.4" y2="540.3" stroke="#eea0a0" stroke-width="1.9" stroke-linecap="round"/>
<line x1="624.4" y1="520.0" x2="622.6" y2="518.2" stroke="#dadada" stroke-width="2.7" stroke-linecap="round"/>
<line x1="624.4" y1="520.0" x2="622.6" y2="518.2" stroke="#f6f6f6" stroke-width="1.9" stroke-linecap="round"/>
<line x1="628.5" y1="520.5" x2="630.7" y2="519.1" stroke="#dadada" stroke-width="2.7" stroke-linecap="round"/>
<line x1="628.5" y1="520.5" x2="630.7" y2="519.1" stroke="#f6f6f6" stroke-width="1.9" stroke-linecap="round"/>
<line x1="626.3" y1="521.8" x2="624.4" y2="520.0" stroke="#d8b0b0" stroke-width="2.7" stroke-linecap="round"/>
<line x1="626.3" y1="521.8" x2="624.4" y2="520.0" stroke="#f4c4c4" stroke-width="1.9" stroke-linecap="round"/>
<line x1="626.3" y1="521.8" x2="628.5" y2="520.5" stroke="#d8b0b0" stroke-width="2.7" stroke-linecap="round"/>
<line x1="626.3" y1="521.8" x2="628.5" y2="520.5" stroke="#f4c4c4" stroke-width="1.9" stroke-linecap="round"/>
<line x1="646.9" y1="561.4" x2="648.7" y2="559.6" stroke="#dadada" stroke-width="2.7" stroke-linecap="round"/>
<line x1="646.9" y1="561.4" x2="648.7" y2="559.6" stroke="#f6f6f6" stroke-width="1.9" stroke-linecap="round"/>
<line x1="646.3" y1="565.5" x2="647.5" y2="567.7" stroke="#dadada" stroke-width="2.7" stroke-linecap="round"/>
<line x1="646.3" y1="565.5" x2="647.5" y2="567.7" stroke="#f6f6f6" stroke-width="1.9" stroke-linecap="round"/>
<line x1="645.0" y1="563.2" x2="646.9" y2="561.4" stroke="#d8b0b0" stroke-width="2.7" stroke-linecap="round"/>
<line x1="645.0" y1="563.2" x2="646.9" y2="561.4" stroke="#eea0a0" stroke-width="1.9" stroke-linecap="round"/>
<line x1="645.0" y1="563.2" x2="646.3" y2="565.5" stroke="#d8b0b0" stroke-width="2.7" stroke-linecap="round"/>
<line x1="645.0" y1="563.2" x2="646.3" y2="565.5" stroke="#eea0a0" stroke-width="1.9" stroke-linecap="round"/>
<line x1="637.4" y1="557.9" x2="635.0" y2="558.9" stroke="#dadada" stroke-width="2.7" stroke-linecap="round"/>
<line x1="637.4" y1="557.9" x2="635.0" y2="558.9" stroke="#f6f6f6" stroke-width="1.9" stroke-linecap="round"/>
<line x1="639.5" y1="554.4" x2="639.1" y2="551.8" stroke="#dadada" stroke-width="2.7" stroke-linecap="round"/>
<line x1="639.5" y1="554.4" x2="639.1" y2="551.8" stroke="#f6f6f6" stroke-width="1.9" stroke-linecap="round"/>
<line x1="639.8" y1="557.0" x2="637.4" y2="557.9" stroke="#d8b0b0" stroke-width="2.7" stroke-linecap="round"/>
<line x1="639.8" y1="557.0" x2="637.4" y2="557.9" stroke="#f4c4c4" stroke-width="1.9" stroke-linecap="round"/>
<line x1="639.8" y1="557.0" x2="639.5" y2="554.4" stroke="#d8b0b0" stroke-width="2.7" stroke-linecap="round"/>
<line x1="639.8" y1="557.0" x2="639.5" y2="554.4" stroke="#f4c4c4" stroke-width="1.9" stroke-linecap="round"/>
<line x1="615.2" y1="562.9" x2="614.5" y2="565.3" stroke="#b0b0b0" stroke-width="2.6" stroke-linecap="round"/>
<line x1="615.2" y1="562.9" x2="614.5" y2="565.3" stroke="#f4f4f4" stroke-width="1.8" stroke-linecap="round"/>
<line x1="613.9" y1="559.3" x2="611.8" y2="558.0" stroke="#b0b0b0" stroke-width="2.6" stroke-linecap="round"/>
<line x1="613.9" y1="559.3" x2="611.8" y2="558.0" stroke="#f4f4f4" stroke-width="1.8" stroke-linecap="round"/>
<line x1="616.0" y1="560.6" x2="615.2" y2="562.9" stroke="#8a1010" stroke-width="2.6" stroke-linecap="round"/>
<line x1="616.0" y1="560.6" x2="615.2" y2="562.9" stroke="#d81818" stroke-width="1.8" stroke-linecap="round"/>
<line x1="616.0" y1="560.6" x2="613.9" y2="559.3" stroke="#8a1010" stroke-width="2.6" stroke-linecap="round"/>
<line x1="616.0" y1="560.6" x2="613.9" y2="559.3" stroke="#d81818" stroke-width="1.8" stroke-linecap="round"/>
<line x1="638.6" y1="565.4" x2="640.9" y2="564.4" stroke="#b0b0b0" stroke-width="2.6" stroke-linecap="round"/>
<line x1="638.6" y1="565.4" x2="640.9" y2="564.4" stroke="#f4f4f4" stroke-width="1.8" stroke-linecap="round"/>
<line x1="636.6" y1="568.7" x2="637.0" y2="571.2" stroke="#b0b0b0" stroke-width="2.6" stroke-linecap="round"/>
<line x1="636.6" y1="568.7" x2="637.0" y2="571.2" stroke="#f4f4f4" stroke-width="1.8" stroke-linecap="round"/>
<line x1="636.3" y1="566.3" x2="638.6" y2="565.4" stroke="#8a1010" stroke-width="2.6" stroke-linecap="round"/>
<line x1="636.3" y1="566.3" x2="638.6" y2="565.4" stroke="#d81818" stroke-width="1.8" stroke-linecap="round"/>
<line x1="636.3" y1="566.3" x2="636.6" y2="568.7" stroke="#8a1010" stroke-width="2.6" stroke-linecap="round"/>
<line x1="636.3" y1="566.3" x2="636.6" y2="568.7" stroke="#d81818" stroke-width="1.8" stroke-linecap="round"/>
<line x1="602.3" y1="564.9" x2="602.2" y2="562.5" stroke="#b0b0b0" stroke-width="2.6" stroke-linecap="round"/>
<line x1="602.3" y1="564.9" x2="602.2" y2="562.5" stroke="#f4f4f4" stroke-width="1.8" stroke-linecap="round"/>
<line x1="604.8" y1="567.9" x2="607.2" y2="568.4" stroke="#b0b0b0" stroke-width="2.6" stroke-linecap="round"/>
<line x1="604.8" y1="567.9" x2="607.2" y2="568.4" stroke="#f4f4f4" stroke-width="1.8" stroke-linecap="round"/>
<line x1="602.4" y1="567.4" x2="602.3" y2="564.9" stroke="#8a1010" stroke-width="2.6" stroke-linecap="round"/>
<line x1="602.4" y1="567.4" x2="602.3" y2="564.9" stroke="#d81818" stroke-width="1.8" stroke-linecap="round"/>
<line x1="602.4" y1="567.4" x2="604.8" y2="567.9" stroke="#8a1010" stroke-width="2.6" stroke-linecap="round"/>
<line x1="602.4" y1="567.4" x2="604.8" y2="567.9" stroke="#d81818" stroke-width="1.8" stroke-linecap="round"/>
<line x1="677.9" y1="561.8" x2="678.9" y2="564.1" stroke="#b0b0b0" stroke-width="2.6" stroke-linecap="round"/>
<line x1="677.9" y1="561.8" x2="678.9" y2="564.1" stroke="#f4f4f4" stroke-width="1.8" stroke-linecap="round"/>
<line x1="674.6" y1="559.8" x2="672.1" y2="560.2" stroke="#b0b0b0" stroke-width="2.6" stroke-linecap="round"/>
<line x1="674.6" y1="559.8" x2="672.1" y2="560.2" stroke="#f4f4f4" stroke-width="1.8" stroke-linecap="round"/>
<line x1="677.0" y1="559.5" x2="677.9" y2="561.8" stroke="#8a1010" stroke-width="2.6" stroke-linecap="round"/>
<line x1="677.0" y1="559.5" x2="677.9" y2="561.8" stroke="#d81818" stroke-width="1.8" stroke-linecap="round"/>
<line x1="677.0" y1="559.5" x2="674.6" y2="559.8" stroke="#8a1010" stroke-width="2.6" stroke-linecap="round"/>
<line x1="677.0" y1="559.5" x2="674.6" y2="559.8" stroke="#d81818" stroke-width="1.8" stroke-linecap="round"/>
<line x1="549.4" y1="541.7" x2="551.9" y2="542.1" stroke="#b0b0b0" stroke-width="2.6" stroke-linecap="round"/>
<line x1="549.4" y1="541.7" x2="551.9" y2="542.1" stroke="#f4f4f4" stroke-width="1.8" stroke-linecap="round"/>
<line x1="546.1" y1="543.7" x2="545.1" y2="546.0" stroke="#b0b0b0" stroke-width="2.6" stroke-linecap="round"/>
<line x1="546.1" y1="543.7" x2="545.1" y2="546.0" stroke="#f4f4f4" stroke-width="1.8" stroke-linecap="round"/>
<line x1="547.0" y1="541.4" x2="549.4" y2="541.7" stroke="#8a1010" stroke-width="2.6" stroke-linecap="round"/>
<line x1="547.0" y1="541.4" x2="549.4" y2="541.7" stroke="#d81818" stroke-width="1.8" stroke-linecap="round"/>
<line x1="547.0" y1="541.4" x2="546.1" y2="543.7" stroke="#8a1010" stroke-width="2.6" stroke-linecap="round"/>
<line x1="547.0" y1="541.4" x2="546.1" y2="543.7" stroke="#d81818" stroke-width="1.8" stroke-linecap="round"/>
<line x1="561.7" y1="550.4" x2="557.6" y2="552.9" stroke="#ccc" stroke-width="1.6"/>
<circle cx="557.6" cy="552.9" r="2.0" fill="url(#gWh)" stroke="#aaa" stroke-width="0.3"/>
<line x1="561.7" y1="550.4" x2="560.2" y2="545.8" stroke="#ccc" stroke-width="1.6"/>
<circle cx="560.2" cy="545.8" r="2.0" fill="url(#gWh)" stroke="#aaa" stroke-width="0.3"/>
<circle cx="561.7" cy="550.4" r="2.7" fill="url(#gRd)"/>
<line x1="568.5" y1="551.6" x2="569.2" y2="546.8" stroke="#ccc" stroke-width="1.6"/>
<circle cx="569.2" cy="546.8" r="2.0" fill="url(#gWh)" stroke="#aaa" stroke-width="0.3"/>
<line x1="568.5" y1="551.6" x2="573.0" y2="553.4" stroke="#ccc" stroke-width="1.6"/>
<circle cx="573.0" cy="553.4" r="2.0" fill="url(#gWh)" stroke="#aaa" stroke-width="0.3"/>
<circle cx="568.5" cy="551.6" r="2.7" fill="url(#gRd)"/>
<line x1="554.9" y1="556.0" x2="558.1" y2="559.6" stroke="#ccc" stroke-width="1.6"/>
<circle cx="558.1" cy="559.6" r="2.0" fill="url(#gWh)" stroke="#aaa" stroke-width="0.3"/>
<line x1="554.9" y1="556.0" x2="550.7" y2="558.3" stroke="#ccc" stroke-width="1.6"/>
<circle cx="550.7" cy="558.3" r="2.0" fill="url(#gWh)" stroke="#aaa" stroke-width="0.3"/>
<circle cx="554.9" cy="556.0" r="2.7" fill="url(#gRd)"/>
<line x1="556.0" y1="562.9" x2="551.4" y2="561.4" stroke="#ccc" stroke-width="1.6"/>
<circle cx="551.4" cy="561.4" r="2.0" fill="url(#gWh)" stroke="#aaa" stroke-width="0.3"/>
<line x1="556.0" y1="562.9" x2="558.5" y2="558.8" stroke="#ccc" stroke-width="1.6"/>
<circle cx="558.5" cy="558.8" r="2.0" fill="url(#gWh)" stroke="#aaa" stroke-width="0.3"/>
<circle cx="556.0" cy="562.9" r="2.7" fill="url(#gRd)"/>
<line x1="566.2" y1="560.6" x2="570.9" y2="559.6" stroke="#ccc" stroke-width="1.6"/>
<circle cx="570.9" cy="559.6" r="2.0" fill="url(#gWh)" stroke="#aaa" stroke-width="0.3"/>
<line x1="566.2" y1="560.6" x2="566.0" y2="565.4" stroke="#ccc" stroke-width="1.6"/>
<circle cx="566.0" cy="565.4" r="2.0" fill="url(#gWh)" stroke="#aaa" stroke-width="0.3"/>
<circle cx="566.2" cy="560.6" r="2.7" fill="url(#gRd)"/>
<line x1="562.8" y1="573.0" x2="561.0" y2="568.5" stroke="#ccc" stroke-width="1.6"/>
<circle cx="561.0" cy="568.5" r="2.0" fill="url(#gWh)" stroke="#aaa" stroke-width="0.3"/>
<line x1="562.8" y1="573.0" x2="567.6" y2="572.3" stroke="#ccc" stroke-width="1.6"/>
<circle cx="567.6" cy="572.3" r="2.0" fill="url(#gWh)" stroke="#aaa" stroke-width="0.3"/>
<circle cx="562.8" cy="573.0" r="2.7" fill="url(#gRd)"/>
<line x1="547.0" y1="586.6" x2="551.5" y2="584.8" stroke="#ccc" stroke-width="1.6"/>
<circle cx="551.5" cy="584.8" r="2.0" fill="url(#gWh)" stroke="#aaa" stroke-width="0.3"/>
<line x1="547.0" y1="586.6" x2="547.7" y2="591.4" stroke="#ccc" stroke-width="1.6"/>
<circle cx="547.7" cy="591.4" r="2.0" fill="url(#gWh)" stroke="#aaa" stroke-width="0.3"/>
<circle cx="547.0" cy="586.6" r="2.7" fill="url(#gRd)"/>
<line x1="553.8" y1="596.8" x2="549.7" y2="599.3" stroke="#ccc" stroke-width="1.6"/>
<circle cx="549.7" cy="599.3" r="2.0" fill="url(#gWh)" stroke="#aaa" stroke-width="0.3"/>
<line x1="553.8" y1="596.8" x2="552.3" y2="592.2" stroke="#ccc" stroke-width="1.6"/>
<circle cx="552.3" cy="592.2" r="2.0" fill="url(#gWh)" stroke="#aaa" stroke-width="0.3"/>
<circle cx="553.8" cy="596.8" r="2.7" fill="url(#gRd)"/>
<line x1="559.4" y1="585.5" x2="561.2" y2="590.0" stroke="#ccc" stroke-width="1.6"/>
<circle cx="561.2" cy="590.0" r="2.0" fill="url(#gWh)" stroke="#aaa" stroke-width="0.3"/>
<line x1="559.4" y1="585.5" x2="554.6" y2="586.2" stroke="#ccc" stroke-width="1.6"/>
<circle cx="554.6" cy="586.2" r="2.0" fill="url(#gWh)" stroke="#aaa" stroke-width="0.3"/>
<circle cx="559.4" cy="585.5" r="2.7" fill="url(#gRd)"/>
<line x1="567.3" y1="592.3" x2="568.8" y2="587.7" stroke="#ccc" stroke-width="1.6"/>
<circle cx="568.8" cy="587.7" r="2.0" fill="url(#gWh)" stroke="#aaa" stroke-width="0.3"/>
<line x1="567.3" y1="592.3" x2="571.4" y2="594.8" stroke="#ccc" stroke-width="1.6"/>
<circle cx="571.4" cy="594.8" r="2.0" fill="url(#gWh)" stroke="#aaa" stroke-width="0.3"/>
<circle cx="567.3" cy="592.3" r="2.7" fill="url(#gRd)"/>
<line x1="542.4" y1="582.1" x2="546.2" y2="585.1" stroke="#ccc" stroke-width="1.6"/>
<circle cx="546.2" cy="585.1" r="2.0" fill="url(#gWh)" stroke="#aaa" stroke-width="0.3"/>
<line x1="542.4" y1="582.1" x2="538.6" y2="585.1" stroke="#ccc" stroke-width="1.6"/>
<circle cx="538.6" cy="585.1" r="2.0" fill="url(#gWh)" stroke="#aaa" stroke-width="0.3"/>
<circle cx="542.4" cy="582.1" r="2.7" fill="url(#gRd)"/>
<circle cx="618.5" cy="568.9" r="2.6" fill="url(#gWh)" stroke="#aaa" stroke-width="0.25"/>
<circle cx="634.8" cy="569.1" r="2.6" fill="url(#gWh)" stroke="#aaa" stroke-width="0.25"/>
<circle cx="605.1" cy="570.4" r="2.6" fill="url(#gWh)" stroke="#aaa" stroke-width="0.25"/>
<circle cx="621.8" cy="570.5" r="2.0" fill="url(#gGy)"/>
<line x1="621.8" y1="570.5" x2="630.4" y2="570.6" stroke="#555" stroke-width="2.2" stroke-linecap="round"/>
<line x1="621.8" y1="570.5" x2="630.4" y2="570.6" stroke="#a4a4a4" stroke-width="1.3" stroke-linecap="round"/>
<circle cx="630.4" cy="570.6" r="2.0" fill="url(#gGy)"/>
<circle cx="647.1" cy="571.0" r="2.6" fill="url(#gWh)" stroke="#aaa" stroke-width="0.25"/>
<line x1="617.0" y1="572.1" x2="621.8" y2="570.5" stroke="#555" stroke-width="2.2" stroke-linecap="round"/>
<line x1="617.0" y1="572.1" x2="621.8" y2="570.5" stroke="#a4a4a4" stroke-width="1.3" stroke-linecap="round"/>
<line x1="630.4" y1="570.6" x2="634.2" y2="572.4" stroke="#555" stroke-width="2.2" stroke-linecap="round"/>
<line x1="630.4" y1="570.6" x2="634.2" y2="572.4" stroke="#a4a4a4" stroke-width="1.3" stroke-linecap="round"/>
<circle cx="591.7" cy="571.9" r="2.6" fill="url(#gWh)" stroke="#aaa" stroke-width="0.25"/>
<circle cx="608.5" cy="572.0" r="2.0" fill="url(#gGy)"/>
<line x1="608.5" y1="572.0" x2="617.0" y2="572.1" stroke="#555" stroke-width="2.2" stroke-linecap="round"/>
<line x1="608.5" y1="572.0" x2="617.0" y2="572.1" stroke="#a4a4a4" stroke-width="1.3" stroke-linecap="round"/>
<circle cx="617.0" cy="572.1" r="2.0" fill="url(#gGy)"/>
<circle cx="634.2" cy="572.4" r="2.0" fill="url(#gGy)"/>
<line x1="634.2" y1="572.4" x2="642.8" y2="572.5" stroke="#555" stroke-width="2.2" stroke-linecap="round"/>
<line x1="634.2" y1="572.4" x2="642.8" y2="572.5" stroke="#a4a4a4" stroke-width="1.3" stroke-linecap="round"/>
<circle cx="642.8" cy="572.5" r="2.0" fill="url(#gGy)"/>
<line x1="603.7" y1="573.6" x2="608.5" y2="572.0" stroke="#555" stroke-width="2.2" stroke-linecap="round"/>
<line x1="603.7" y1="573.6" x2="608.5" y2="572.0" stroke="#a4a4a4" stroke-width="1.3" stroke-linecap="round"/>
<circle cx="659.5" cy="573.0" r="2.6" fill="url(#gWh)" stroke="#aaa" stroke-width="0.25"/>
<line x1="617.0" y1="572.1" x2="620.8" y2="573.9" stroke="#555" stroke-width="2.2" stroke-linecap="round"/>
<line x1="617.0" y1="572.1" x2="620.8" y2="573.9" stroke="#a4a4a4" stroke-width="1.3" stroke-linecap="round"/>
<line x1="629.4" y1="574.0" x2="634.2" y2="572.4" stroke="#555" stroke-width="2.2" stroke-linecap="round"/>
<line x1="629.4" y1="574.0" x2="634.2" y2="572.4" stroke="#a4a4a4" stroke-width="1.3" stroke-linecap="round"/>
<circle cx="578.3" cy="573.4" r="2.6" fill="url(#gWh)" stroke="#aaa" stroke-width="0.25"/>
<line x1="642.8" y1="572.5" x2="646.5" y2="574.3" stroke="#555" stroke-width="2.2" stroke-linecap="round"/>
<line x1="642.8" y1="572.5" x2="646.5" y2="574.3" stroke="#a4a4a4" stroke-width="1.3" stroke-linecap="round"/>
<circle cx="595.1" cy="573.5" r="2.0" fill="url(#gGy)"/>
<line x1="595.1" y1="573.5" x2="603.7" y2="573.6" stroke="#555" stroke-width="2.2" stroke-linecap="round"/>
<line x1="595.1" y1="573.5" x2="603.7" y2="573.6" stroke="#a4a4a4" stroke-width="1.3" stroke-linecap="round"/>
<circle cx="603.7" cy="573.6" r="2.0" fill="url(#gGy)"/>
<circle cx="620.8" cy="573.9" r="2.0" fill="url(#gGy)"/>
<line x1="620.8" y1="573.9" x2="629.4" y2="574.0" stroke="#555" stroke-width="2.2" stroke-linecap="round"/>
<line x1="620.8" y1="573.9" x2="629.4" y2="574.0" stroke="#a4a4a4" stroke-width="1.3" stroke-linecap="round"/>
<circle cx="629.4" cy="574.0" r="2.0" fill="url(#gGy)"/>
<line x1="590.3" y1="575.1" x2="595.1" y2="573.5" stroke="#555" stroke-width="2.2" stroke-linecap="round"/>
<line x1="590.3" y1="575.1" x2="595.1" y2="573.5" stroke="#a4a4a4" stroke-width="1.3" stroke-linecap="round"/>
<circle cx="646.5" cy="574.3" r="2.0" fill="url(#gGy)"/>
<line x1="646.5" y1="574.3" x2="655.1" y2="574.4" stroke="#555" stroke-width="2.2" stroke-linecap="round"/>
<line x1="646.5" y1="574.3" x2="655.1" y2="574.4" stroke="#a4a4a4" stroke-width="1.3" stroke-linecap="round"/>
<circle cx="655.1" cy="574.4" r="2.0" fill="url(#gGy)"/>
<line x1="603.7" y1="573.6" x2="607.4" y2="575.4" stroke="#555" stroke-width="2.2" stroke-linecap="round"/>
<line x1="603.7" y1="573.6" x2="607.4" y2="575.4" stroke="#a4a4a4" stroke-width="1.3" stroke-linecap="round"/>
<line x1="616.0" y1="575.5" x2="620.8" y2="573.9" stroke="#555" stroke-width="2.2" stroke-linecap="round"/>
<line x1="616.0" y1="575.5" x2="620.8" y2="573.9" stroke="#a4a4a4" stroke-width="1.3" stroke-linecap="round"/>
<circle cx="671.8" cy="574.9" r="2.6" fill="url(#gWh)" stroke="#aaa" stroke-width="0.25"/>
<line x1="629.4" y1="574.0" x2="633.2" y2="575.8" stroke="#555" stroke-width="2.2" stroke-linecap="round"/>
<line x1="629.4" y1="574.0" x2="633.2" y2="575.8" stroke="#a4a4a4" stroke-width="1.3" stroke-linecap="round"/>
<circle cx="581.7" cy="575.0" r="2.0" fill="url(#gGy)"/>
<line x1="581.7" y1="575.0" x2="590.3" y2="575.1" stroke="#555" stroke-width="2.2" stroke-linecap="round"/>
<line x1="581.7" y1="575.0" x2="590.3" y2="575.1" stroke="#a4a4a4" stroke-width="1.3" stroke-linecap="round"/>
<circle cx="590.3" cy="575.1" r="2.0" fill="url(#gGy)"/>
<line x1="641.7" y1="575.9" x2="646.5" y2="574.3" stroke="#555" stroke-width="2.2" stroke-linecap="round"/>
<line x1="641.7" y1="575.9" x2="646.5" y2="574.3" stroke="#a4a4a4" stroke-width="1.3" stroke-linecap="round"/>
<line x1="655.1" y1="574.4" x2="658.9" y2="576.2" stroke="#555" stroke-width="2.2" stroke-linecap="round"/>
<line x1="655.1" y1="574.4" x2="658.9" y2="576.2" stroke="#a4a4a4" stroke-width="1.3" stroke-linecap="round"/>
<circle cx="607.4" cy="575.4" r="2.0" fill="url(#gGy)"/>
<line x1="607.4" y1="575.4" x2="616.0" y2="575.5" stroke="#555" stroke-width="2.2" stroke-linecap="round"/>
<line x1="607.4" y1="575.4" x2="616.0" y2="575.5" stroke="#a4a4a4" stroke-width="1.3" stroke-linecap="round"/>
<circle cx="616.0" cy="575.5" r="2.0" fill="url(#gGy)"/>
<line x1="576.9" y1="576.6" x2="581.7" y2="575.0" stroke="#555" stroke-width="2.2" stroke-linecap="round"/>
<line x1="576.9" y1="576.6" x2="581.7" y2="575.0" stroke="#a4a4a4" stroke-width="1.3" stroke-linecap="round"/>
<circle cx="633.2" cy="575.8" r="2.0" fill="url(#gGy)"/>
<line x1="633.2" y1="575.8" x2="641.7" y2="575.9" stroke="#555" stroke-width="2.2" stroke-linecap="round"/>
<line x1="633.2" y1="575.8" x2="641.7" y2="575.9" stroke="#a4a4a4" stroke-width="1.3" stroke-linecap="round"/>
<circle cx="641.7" cy="575.9" r="2.0" fill="url(#gGy)"/>
<line x1="590.3" y1="575.1" x2="594.0" y2="576.9" stroke="#555" stroke-width="2.2" stroke-linecap="round"/>
<line x1="590.3" y1="575.1" x2="594.0" y2="576.9" stroke="#a4a4a4" stroke-width="1.3" stroke-linecap="round"/>
<line x1="602.6" y1="577.0" x2="607.4" y2="575.4" stroke="#555" stroke-width="2.2" stroke-linecap="round"/>
<line x1="602.6" y1="577.0" x2="607.4" y2="575.4" stroke="#a4a4a4" stroke-width="1.3" stroke-linecap="round"/>
<circle cx="658.9" cy="576.2" r="2.0" fill="url(#gGy)"/>
<line x1="658.9" y1="576.2" x2="667.5" y2="576.4" stroke="#555" stroke-width="2.2" stroke-linecap="round"/>
<line x1="658.9" y1="576.2" x2="667.5" y2="576.4" stroke="#a4a4a4" stroke-width="1.3" stroke-linecap="round"/>
<circle cx="667.5" cy="576.4" r="2.0" fill="url(#gGy)"/>
<line x1="616.0" y1="575.5" x2="619.8" y2="577.3" stroke="#555" stroke-width="2.2" stroke-linecap="round"/>
<line x1="616.0" y1="575.5" x2="619.8" y2="577.3" stroke="#a4a4a4" stroke-width="1.3" stroke-linecap="round"/>
<circle cx="569.2" cy="576.5" r="2.6" fill="url(#gWh)" stroke="#aaa" stroke-width="0.25"/>
<circle cx="576.9" cy="576.6" r="2.0" fill="url(#gGy)"/>
<line x1="628.3" y1="577.4" x2="633.2" y2="575.8" stroke="#555" stroke-width="2.2" stroke-linecap="round"/>
<line x1="628.3" y1="577.4" x2="633.2" y2="575.8" stroke="#a4a4a4" stroke-width="1.3" stroke-linecap="round"/>
<line x1="641.7" y1="575.9" x2="645.5" y2="577.7" stroke="#555" stroke-width="2.2" stroke-linecap="round"/>
<line x1="641.7" y1="575.9" x2="645.5" y2="577.7" stroke="#a4a4a4" stroke-width="1.3" stroke-linecap="round"/>
<circle cx="594.0" cy="576.9" r="2.0" fill="url(#gGy)"/>
<line x1="594.0" y1="576.9" x2="602.6" y2="577.0" stroke="#555" stroke-width="2.2" stroke-linecap="round"/>
<line x1="594.0" y1="576.9" x2="602.6" y2="577.0" stroke="#a4a4a4" stroke-width="1.3" stroke-linecap="round"/>
<circle cx="602.6" cy="577.0" r="2.0" fill="url(#gGy)"/>
<line x1="654.1" y1="577.9" x2="658.9" y2="576.2" stroke="#555" stroke-width="2.2" stroke-linecap="round"/>
<line x1="654.1" y1="577.9" x2="658.9" y2="576.2" stroke="#a4a4a4" stroke-width="1.3" stroke-linecap="round"/>
<line x1="667.5" y1="576.4" x2="671.2" y2="578.1" stroke="#555" stroke-width="2.2" stroke-linecap="round"/>
<line x1="667.5" y1="576.4" x2="671.2" y2="578.1" stroke="#a4a4a4" stroke-width="1.3" stroke-linecap="round"/>
<circle cx="619.8" cy="577.3" r="2.0" fill="url(#gGy)"/>
<line x1="619.8" y1="577.3" x2="628.3" y2="577.4" stroke="#555" stroke-width="2.2" stroke-linecap="round"/>
<line x1="619.8" y1="577.3" x2="628.3" y2="577.4" stroke="#a4a4a4" stroke-width="1.3" stroke-linecap="round"/>
<circle cx="628.3" cy="577.4" r="2.0" fill="url(#gGy)"/>
<line x1="576.9" y1="576.6" x2="580.6" y2="578.4" stroke="#555" stroke-width="2.2" stroke-linecap="round"/>
<line x1="576.9" y1="576.6" x2="580.6" y2="578.4" stroke="#a4a4a4" stroke-width="1.3" stroke-linecap="round"/>
<line x1="589.2" y1="578.5" x2="594.0" y2="576.9" stroke="#555" stroke-width="2.2" stroke-linecap="round"/>
<line x1="589.2" y1="578.5" x2="594.0" y2="576.9" stroke="#a4a4a4" stroke-width="1.3" stroke-linecap="round"/>
<circle cx="645.5" cy="577.7" r="2.0" fill="url(#gGy)"/>
<line x1="645.5" y1="577.7" x2="654.1" y2="577.9" stroke="#555" stroke-width="2.2" stroke-linecap="round"/>
<line x1="645.5" y1="577.7" x2="654.1" y2="577.9" stroke="#a4a4a4" stroke-width="1.3" stroke-linecap="round"/>
<circle cx="654.1" cy="577.9" r="2.0" fill="url(#gGy)"/>
<line x1="602.6" y1="577.0" x2="606.4" y2="578.8" stroke="#555" stroke-width="2.2" stroke-linecap="round"/>
<line x1="602.6" y1="577.0" x2="606.4" y2="578.8" stroke="#a4a4a4" stroke-width="1.3" stroke-linecap="round"/>
<line x1="615.0" y1="578.9" x2="619.8" y2="577.3" stroke="#555" stroke-width="2.2" stroke-linecap="round"/>
<line x1="615.0" y1="578.9" x2="619.8" y2="577.3" stroke="#a4a4a4" stroke-width="1.3" stroke-linecap="round"/>
<circle cx="671.2" cy="578.1" r="2.0" fill="url(#gGy)"/>
<circle cx="679.0" cy="578.3" r="2.6" fill="url(#gWh)" stroke="#aaa" stroke-width="0.25"/>
<line x1="628.3" y1="577.4" x2="632.1" y2="579.2" stroke="#555" stroke-width="2.2" stroke-linecap="round"/>
<line x1="628.3" y1="577.4" x2="632.1" y2="579.2" stroke="#a4a4a4" stroke-width="1.3" stroke-linecap="round"/>
<circle cx="580.6" cy="578.4" r="2.0" fill="url(#gGy)"/>
<line x1="580.6" y1="578.4" x2="589.2" y2="578.5" stroke="#555" stroke-width="2.2" stroke-linecap="round"/>
<line x1="580.6" y1="578.4" x2="589.2" y2="578.5" stroke="#a4a4a4" stroke-width="1.3" stroke-linecap="round"/>
<circle cx="589.2" cy="578.5" r="2.0" fill="url(#gGy)"/>
<line x1="640.7" y1="579.4" x2="645.5" y2="577.7" stroke="#555" stroke-width="2.2" stroke-linecap="round"/>
<line x1="640.7" y1="579.4" x2="645.5" y2="577.7" stroke="#a4a4a4" stroke-width="1.3" stroke-linecap="round"/>
<line x1="654.1" y1="577.9" x2="657.9" y2="579.6" stroke="#555" stroke-width="2.2" stroke-linecap="round"/>
<line x1="654.1" y1="577.9" x2="657.9" y2="579.6" stroke="#a4a4a4" stroke-width="1.3" stroke-linecap="round"/>
<circle cx="606.4" cy="578.8" r="2.0" fill="url(#gGy)"/>
<line x1="606.4" y1="578.8" x2="615.0" y2="578.9" stroke="#555" stroke-width="2.2" stroke-linecap="round"/>
<line x1="606.4" y1="578.8" x2="615.0" y2="578.9" stroke="#a4a4a4" stroke-width="1.3" stroke-linecap="round"/>
<circle cx="615.0" cy="578.9" r="2.0" fill="url(#gGy)"/>
<line x1="666.4" y1="579.8" x2="671.2" y2="578.1" stroke="#555" stroke-width="2.2" stroke-linecap="round"/>
<line x1="666.4" y1="579.8" x2="671.2" y2="578.1" stroke="#a4a4a4" stroke-width="1.3" stroke-linecap="round"/>
<line x1="575.8" y1="580.0" x2="580.6" y2="578.4" stroke="#555" stroke-width="2.2" stroke-linecap="round"/>
<line x1="575.8" y1="580.0" x2="580.6" y2="578.4" stroke="#a4a4a4" stroke-width="1.3" stroke-linecap="round"/>
<circle cx="632.1" cy="579.2" r="2.0" fill="url(#gGy)"/>
<line x1="632.1" y1="579.2" x2="640.7" y2="579.4" stroke="#555" stroke-width="2.2" stroke-linecap="round"/>
<line x1="632.1" y1="579.2" x2="640.7" y2="579.4" stroke="#a4a4a4" stroke-width="1.3" stroke-linecap="round"/>
<circle cx="640.7" cy="579.4" r="2.0" fill="url(#gGy)"/>
<line x1="589.2" y1="578.5" x2="593.0" y2="580.3" stroke="#555" stroke-width="2.2" stroke-linecap="round"/>
<line x1="589.2" y1="578.5" x2="593.0" y2="580.3" stroke="#a4a4a4" stroke-width="1.3" stroke-linecap="round"/>
<line x1="601.6" y1="580.4" x2="606.4" y2="578.8" stroke="#555" stroke-width="2.2" stroke-linecap="round"/>
<line x1="601.6" y1="580.4" x2="606.4" y2="578.8" stroke="#a4a4a4" stroke-width="1.3" stroke-linecap="round"/>
<circle cx="657.9" cy="579.6" r="2.0" fill="url(#gGy)"/>
<line x1="657.9" y1="579.6" x2="666.4" y2="579.8" stroke="#555" stroke-width="2.2" stroke-linecap="round"/>
<line x1="657.9" y1="579.6" x2="666.4" y2="579.8" stroke="#a4a4a4" stroke-width="1.3" stroke-linecap="round"/>
<circle cx="666.4" cy="579.8" r="2.0" fill="url(#gGy)"/>
<line x1="615.0" y1="578.9" x2="618.7" y2="580.7" stroke="#555" stroke-width="2.2" stroke-linecap="round"/>
<line x1="615.0" y1="578.9" x2="618.7" y2="580.7" stroke="#a4a4a4" stroke-width="1.3" stroke-linecap="round"/>
<circle cx="568.1" cy="579.9" r="2.6" fill="url(#gWh)" stroke="#aaa" stroke-width="0.25"/>
<circle cx="575.8" cy="580.0" r="2.0" fill="url(#gGy)"/>
<line x1="627.3" y1="580.9" x2="632.1" y2="579.2" stroke="#555" stroke-width="2.2" stroke-linecap="round"/>
<line x1="627.3" y1="580.9" x2="632.1" y2="579.2" stroke="#a4a4a4" stroke-width="1.3" stroke-linecap="round"/>
<line x1="640.7" y1="579.4" x2="644.5" y2="581.1" stroke="#555" stroke-width="2.2" stroke-linecap="round"/>
<line x1="640.7" y1="579.4" x2="644.5" y2="581.1" stroke="#a4a4a4" stroke-width="1.3" stroke-linecap="round"/>
<circle cx="593.0" cy="580.3" r="2.0" fill="url(#gGy)"/>
<line x1="593.0" y1="580.3" x2="601.6" y2="580.4" stroke="#555" stroke-width="2.2" stroke-linecap="round"/>
<line x1="593.0" y1="580.3" x2="601.6" y2="580.4" stroke="#a4a4a4" stroke-width="1.3" stroke-linecap="round"/>
<circle cx="601.6" cy="580.4" r="2.0" fill="url(#gGy)"/>
<line x1="653.0" y1="581.3" x2="657.9" y2="579.6" stroke="#555" stroke-width="2.2" stroke-linecap="round"/>
<line x1="653.0" y1="581.3" x2="657.9" y2="579.6" stroke="#a4a4a4" stroke-width="1.3" stroke-linecap="round"/>
<line x1="666.4" y1="579.8" x2="670.2" y2="581.6" stroke="#555" stroke-width="2.2" stroke-linecap="round"/>
<line x1="666.4" y1="579.8" x2="670.2" y2="581.6" stroke="#a4a4a4" stroke-width="1.3" stroke-linecap="round"/>
<circle cx="618.7" cy="580.7" r="2.0" fill="url(#gGy)"/>
<line x1="618.7" y1="580.7" x2="627.3" y2="580.9" stroke="#555" stroke-width="2.2" stroke-linecap="round"/>
<line x1="618.7" y1="580.7" x2="627.3" y2="580.9" stroke="#a4a4a4" stroke-width="1.3" stroke-linecap="round"/>
<circle cx="627.3" cy="580.9" r="2.0" fill="url(#gGy)"/>
<line x1="575.8" y1="580.0" x2="579.6" y2="581.8" stroke="#555" stroke-width="2.2" stroke-linecap="round"/>
<line x1="575.8" y1="580.0" x2="579.6" y2="581.8" stroke="#a4a4a4" stroke-width="1.3" stroke-linecap="round"/>
<line x1="588.2" y1="581.9" x2="593.0" y2="580.3" stroke="#555" stroke-width="2.2" stroke-linecap="round"/>
<line x1="588.2" y1="581.9" x2="593.0" y2="580.3" stroke="#a4a4a4" stroke-width="1.3" stroke-linecap="round"/>
<circle cx="644.5" cy="581.1" r="2.0" fill="url(#gGy)"/>
<line x1="644.5" y1="581.1" x2="653.0" y2="581.3" stroke="#555" stroke-width="2.2" stroke-linecap="round"/>
<line x1="644.5" y1="581.1" x2="653.0" y2="581.3" stroke="#a4a4a4" stroke-width="1.3" stroke-linecap="round"/>
<circle cx="653.0" cy="581.3" r="2.0" fill="url(#gGy)"/>
<line x1="601.6" y1="580.4" x2="605.3" y2="582.2" stroke="#555" stroke-width="2.2" stroke-linecap="round"/>
<line x1="601.6" y1="580.4" x2="605.3" y2="582.2" stroke="#a4a4a4" stroke-width="1.3" stroke-linecap="round"/>
<line x1="613.9" y1="582.4" x2="618.7" y2="580.7" stroke="#555" stroke-width="2.2" stroke-linecap="round"/>
<line x1="613.9" y1="582.4" x2="618.7" y2="580.7" stroke="#a4a4a4" stroke-width="1.3" stroke-linecap="round"/>
<circle cx="670.2" cy="581.6" r="2.0" fill="url(#gGy)"/>
<circle cx="677.9" cy="581.7" r="2.6" fill="url(#gWh)" stroke="#aaa" stroke-width="0.25"/>
<line x1="627.3" y1="580.9" x2="631.1" y2="582.6" stroke="#555" stroke-width="2.2" stroke-linecap="round"/>
<line x1="627.3" y1="580.9" x2="631.1" y2="582.6" stroke="#a4a4a4" stroke-width="1.3" stroke-linecap="round"/>
<circle cx="579.6" cy="581.8" r="2.0" fill="url(#gGy)"/>
<line x1="579.6" y1="581.8" x2="588.2" y2="581.9" stroke="#555" stroke-width="2.2" stroke-linecap="round"/>
<line x1="579.6" y1="581.8" x2="588.2" y2="581.9" stroke="#a4a4a4" stroke-width="1.3" stroke-linecap="round"/>
<circle cx="588.2" cy="581.9" r="2.0" fill="url(#gGy)"/>
<line x1="639.7" y1="582.8" x2="644.5" y2="581.1" stroke="#555" stroke-width="2.2" stroke-linecap="round"/>
<line x1="639.7" y1="582.8" x2="644.5" y2="581.1" stroke="#a4a4a4" stroke-width="1.3" stroke-linecap="round"/>
<line x1="653.0" y1="581.3" x2="656.8" y2="583.1" stroke="#555" stroke-width="2.2" stroke-linecap="round"/>
<line x1="653.0" y1="581.3" x2="656.8" y2="583.1" stroke="#a4a4a4" stroke-width="1.3" stroke-linecap="round"/>
<circle cx="605.3" cy="582.2" r="2.0" fill="url(#gGy)"/>
<line x1="605.3" y1="582.2" x2="613.9" y2="582.4" stroke="#555" stroke-width="2.2" stroke-linecap="round"/>
<line x1="605.3" y1="582.2" x2="613.9" y2="582.4" stroke="#a4a4a4" stroke-width="1.3" stroke-linecap="round"/>
<circle cx="613.9" cy="582.4" r="2.0" fill="url(#gGy)"/>
<line x1="665.4" y1="583.2" x2="670.2" y2="581.6" stroke="#555" stroke-width="2.2" stroke-linecap="round"/>
<line x1="665.4" y1="583.2" x2="670.2" y2="581.6" stroke="#a4a4a4" stroke-width="1.3" stroke-linecap="round"/>
<line x1="574.8" y1="583.4" x2="579.6" y2="581.8" stroke="#555" stroke-width="2.2" stroke-linecap="round"/>
<line x1="574.8" y1="583.4" x2="579.6" y2="581.8" stroke="#a4a4a4" stroke-width="1.3" stroke-linecap="round"/>
<circle cx="631.1" cy="582.6" r="2.0" fill="url(#gGy)"/>
<line x1="631.1" y1="582.6" x2="639.7" y2="582.8" stroke="#555" stroke-width="2.2" stroke-linecap="round"/>
<line x1="631.1" y1="582.6" x2="639.7" y2="582.8" stroke="#a4a4a4" stroke-width="1.3" stroke-linecap="round"/>
<circle cx="639.7" cy="582.8" r="2.0" fill="url(#gGy)"/>
<line x1="588.2" y1="581.9" x2="592.0" y2="583.7" stroke="#555" stroke-width="2.2" stroke-linecap="round"/>
<line x1="588.2" y1="581.9" x2="592.0" y2="583.7" stroke="#a4a4a4" stroke-width="1.3" stroke-linecap="round"/>
<line x1="600.5" y1="583.9" x2="605.3" y2="582.2" stroke="#555" stroke-width="2.2" stroke-linecap="round"/>
<line x1="600.5" y1="583.9" x2="605.3" y2="582.2" stroke="#a4a4a4" stroke-width="1.3" stroke-linecap="round"/>
<circle cx="656.8" cy="583.1" r="2.0" fill="url(#gGy)"/>
<line x1="656.8" y1="583.1" x2="665.4" y2="583.2" stroke="#555" stroke-width="2.2" stroke-linecap="round"/>
<line x1="656.8" y1="583.1" x2="665.4" y2="583.2" stroke="#a4a4a4" stroke-width="1.3" stroke-linecap="round"/>
<circle cx="665.4" cy="583.2" r="2.0" fill="url(#gGy)"/>
<line x1="613.9" y1="582.4" x2="617.7" y2="584.1" stroke="#555" stroke-width="2.2" stroke-linecap="round"/>
<line x1="613.9" y1="582.4" x2="617.7" y2="584.1" stroke="#a4a4a4" stroke-width="1.3" stroke-linecap="round"/>
<circle cx="567.1" cy="583.3" r="2.6" fill="url(#gWh)" stroke="#aaa" stroke-width="0.25"/>
<circle cx="574.8" cy="583.4" r="2.0" fill="url(#gGy)"/>
<line x1="626.3" y1="584.3" x2="631.1" y2="582.6" stroke="#555" stroke-width="2.2" stroke-linecap="round"/>
<line x1="626.3" y1="584.3" x2="631.1" y2="582.6" stroke="#a4a4a4" stroke-width="1.3" stroke-linecap="round"/>
<line x1="639.7" y1="582.8" x2="643.4" y2="584.6" stroke="#555" stroke-width="2.2" stroke-linecap="round"/>
<line x1="639.7" y1="582.8" x2="643.4" y2="584.6" stroke="#a4a4a4" stroke-width="1.3" stroke-linecap="round"/>
<circle cx="592.0" cy="583.7" r="2.0" fill="url(#gGy)"/>
<line x1="592.0" y1="583.7" x2="600.5" y2="583.9" stroke="#555" stroke-width="2.2" stroke-linecap="round"/>
<line x1="592.0" y1="583.7" x2="600.5" y2="583.9" stroke="#a4a4a4" stroke-width="1.3" stroke-linecap="round"/>
<circle cx="600.5" cy="583.9" r="2.0" fill="url(#gGy)"/>
<line x1="652.0" y1="584.7" x2="656.8" y2="583.1" stroke="#555" stroke-width="2.2" stroke-linecap="round"/>
<line x1="652.0" y1="584.7" x2="656.8" y2="583.1" stroke="#a4a4a4" stroke-width="1.3" stroke-linecap="round"/>
<line x1="665.4" y1="583.2" x2="669.2" y2="585.0" stroke="#555" stroke-width="2.2" stroke-linecap="round"/>
<line x1="665.4" y1="583.2" x2="669.2" y2="585.0" stroke="#a4a4a4" stroke-width="1.3" stroke-linecap="round"/>
<circle cx="617.7" cy="584.1" r="2.0" fill="url(#gGy)"/>
<line x1="617.7" y1="584.1" x2="626.3" y2="584.3" stroke="#555" stroke-width="2.2" stroke-linecap="round"/>
<line x1="617.7" y1="584.1" x2="626.3" y2="584.3" stroke="#a4a4a4" stroke-width="1.3" stroke-linecap="round"/>
<circle cx="626.3" cy="584.3" r="2.0" fill="url(#gGy)"/>
<line x1="574.8" y1="583.4" x2="578.6" y2="585.2" stroke="#555" stroke-width="2.2" stroke-linecap="round"/>
<line x1="574.8" y1="583.4" x2="578.6" y2="585.2" stroke="#a4a4a4" stroke-width="1.3" stroke-linecap="round"/>
<line x1="587.1" y1="585.4" x2="592.0" y2="583.7" stroke="#555" stroke-width="2.2" stroke-linecap="round"/>
<line x1="587.1" y1="585.4" x2="592.0" y2="583.7" stroke="#a4a4a4" stroke-width="1.3" stroke-linecap="round"/>
<circle cx="643.4" cy="584.6" r="2.0" fill="url(#gGy)"/>
<line x1="643.4" y1="584.6" x2="652.0" y2="584.7" stroke="#555" stroke-width="2.2" stroke-linecap="round"/>
<line x1="643.4" y1="584.6" x2="652.0" y2="584.7" stroke="#a4a4a4" stroke-width="1.3" stroke-linecap="round"/>
<circle cx="652.0" cy="584.7" r="2.0" fill="url(#gGy)"/>
<line x1="600.5" y1="583.9" x2="604.3" y2="585.6" stroke="#555" stroke-width="2.2" stroke-linecap="round"/>
<line x1="600.5" y1="583.9" x2="604.3" y2="585.6" stroke="#a4a4a4" stroke-width="1.3" stroke-linecap="round"/>
<line x1="612.9" y1="585.8" x2="617.7" y2="584.1" stroke="#555" stroke-width="2.2" stroke-linecap="round"/>
<line x1="612.9" y1="585.8" x2="617.7" y2="584.1" stroke="#a4a4a4" stroke-width="1.3" stroke-linecap="round"/>
<circle cx="669.2" cy="585.0" r="2.0" fill="url(#gGy)"/>
<circle cx="676.9" cy="585.1" r="2.6" fill="url(#gWh)" stroke="#aaa" stroke-width="0.25"/>
<line x1="626.3" y1="584.3" x2="630.0" y2="586.1" stroke="#555" stroke-width="2.2" stroke-linecap="round"/>
<line x1="626.3" y1="584.3" x2="630.0" y2="586.1" stroke="#a4a4a4" stroke-width="1.3" stroke-linecap="round"/>
<circle cx="578.6" cy="585.2" r="2.0" fill="url(#gGy)"/>
<line x1="578.6" y1="585.2" x2="587.1" y2="585.4" stroke="#555" stroke-width="2.2" stroke-linecap="round"/>
<line x1="578.6" y1="585.2" x2="587.1" y2="585.4" stroke="#a4a4a4" stroke-width="1.3" stroke-linecap="round"/>
<circle cx="587.1" cy="585.4" r="2.0" fill="url(#gGy)"/>
<line x1="638.6" y1="586.2" x2="643.4" y2="584.6" stroke="#555" stroke-width="2.2" stroke-linecap="round"/>
<line x1="638.6" y1="586.2" x2="643.4" y2="584.6" stroke="#a4a4a4" stroke-width="1.3" stroke-linecap="round"/>
<line x1="652.0" y1="584.7" x2="655.8" y2="586.5" stroke="#555" stroke-width="2.2" stroke-linecap="round"/>
<line x1="652.0" y1="584.7" x2="655.8" y2="586.5" stroke="#a4a4a4" stroke-width="1.3" stroke-linecap="round"/>
<circle cx="604.3" cy="585.6" r="2.0" fill="url(#gGy)"/>
<line x1="604.3" y1="585.6" x2="612.9" y2="585.8" stroke="#555" stroke-width="2.2" stroke-linecap="round"/>
<line x1="604.3" y1="585.6" x2="612.9" y2="585.8" stroke="#a4a4a4" stroke-width="1.3" stroke-linecap="round"/>
<circle cx="612.9" cy="585.8" r="2.0" fill="url(#gGy)"/>
<line x1="664.4" y1="586.6" x2="669.2" y2="585.0" stroke="#555" stroke-width="2.2" stroke-linecap="round"/>
<line x1="664.4" y1="586.6" x2="669.2" y2="585.0" stroke="#a4a4a4" stroke-width="1.3" stroke-linecap="round"/>
<line x1="573.8" y1="586.9" x2="578.6" y2="585.2" stroke="#555" stroke-width="2.2" stroke-linecap="round"/>
<line x1="573.8" y1="586.9" x2="578.6" y2="585.2" stroke="#a4a4a4" stroke-width="1.3" stroke-linecap="round"/>
<circle cx="630.0" cy="586.1" r="2.0" fill="url(#gGy)"/>
<line x1="630.0" y1="586.1" x2="638.6" y2="586.2" stroke="#555" stroke-width="2.2" stroke-linecap="round"/>
<line x1="630.0" y1="586.1" x2="638.6" y2="586.2" stroke="#a4a4a4" stroke-width="1.3" stroke-linecap="round"/>
<circle cx="638.6" cy="586.2" r="2.0" fill="url(#gGy)"/>
<line x1="587.1" y1="585.4" x2="590.9" y2="587.1" stroke="#555" stroke-width="2.2" stroke-linecap="round"/>
<line x1="587.1" y1="585.4" x2="590.9" y2="587.1" stroke="#a4a4a4" stroke-width="1.3" stroke-linecap="round"/>
<line x1="599.5" y1="587.3" x2="604.3" y2="585.6" stroke="#555" stroke-width="2.2" stroke-linecap="round"/>
<line x1="599.5" y1="587.3" x2="604.3" y2="585.6" stroke="#a4a4a4" stroke-width="1.3" stroke-linecap="round"/>
<circle cx="655.8" cy="586.5" r="2.0" fill="url(#gGy)"/>
<line x1="655.8" y1="586.5" x2="664.4" y2="586.6" stroke="#555" stroke-width="2.2" stroke-linecap="round"/>
<line x1="655.8" y1="586.5" x2="664.4" y2="586.6" stroke="#a4a4a4" stroke-width="1.3" stroke-linecap="round"/>
<circle cx="664.4" cy="586.6" r="2.0" fill="url(#gGy)"/>
<line x1="612.9" y1="585.8" x2="616.7" y2="587.6" stroke="#555" stroke-width="2.2" stroke-linecap="round"/>
<line x1="612.9" y1="585.8" x2="616.7" y2="587.6" stroke="#a4a4a4" stroke-width="1.3" stroke-linecap="round"/>
<circle cx="566.0" cy="586.7" r="2.6" fill="url(#gWh)" stroke="#aaa" stroke-width="0.25"/>
<circle cx="573.8" cy="586.9" r="2.0" fill="url(#gGy)"/>
<line x1="625.2" y1="587.7" x2="630.0" y2="586.1" stroke="#555" stroke-width="2.2" stroke-linecap="round"/>
<line x1="625.2" y1="587.7" x2="630.0" y2="586.1" stroke="#a4a4a4" stroke-width="1.3" stroke-linecap="round"/>
<line x1="638.6" y1="586.2" x2="642.4" y2="588.0" stroke="#555" stroke-width="2.2" stroke-linecap="round"/>
<line x1="638.6" y1="586.2" x2="642.4" y2="588.0" stroke="#a4a4a4" stroke-width="1.3" stroke-linecap="round"/>
<circle cx="590.9" cy="587.1" r="2.0" fill="url(#gGy)"/>
<line x1="590.9" y1="587.1" x2="599.5" y2="587.3" stroke="#555" stroke-width="2.2" stroke-linecap="round"/>
<line x1="590.9" y1="587.1" x2="599.5" y2="587.3" stroke="#a4a4a4" stroke-width="1.3" stroke-linecap="round"/>
<circle cx="599.5" cy="587.3" r="2.0" fill="url(#gGy)"/>
<line x1="651.0" y1="588.1" x2="655.8" y2="586.5" stroke="#555" stroke-width="2.2" stroke-linecap="round"/>
<line x1="651.0" y1="588.1" x2="655.8" y2="586.5" stroke="#a4a4a4" stroke-width="1.3" stroke-linecap="round"/>
<line x1="664.4" y1="586.6" x2="668.1" y2="588.4" stroke="#555" stroke-width="2.2" stroke-linecap="round"/>
<line x1="664.4" y1="586.6" x2="668.1" y2="588.4" stroke="#a4a4a4" stroke-width="1.3" stroke-linecap="round"/>
<circle cx="616.7" cy="587.6" r="2.0" fill="url(#gGy)"/>
<line x1="616.7" y1="587.6" x2="625.2" y2="587.7" stroke="#555" stroke-width="2.2" stroke-linecap="round"/>
<line x1="616.7" y1="587.6" x2="625.2" y2="587.7" stroke="#a4a4a4" stroke-width="1.3" stroke-linecap="round"/>
<circle cx="625.2" cy="587.7" r="2.0" fill="url(#gGy)"/>
<line x1="573.8" y1="586.9" x2="577.5" y2="588.6" stroke="#555" stroke-width="2.2" stroke-linecap="round"/>
<line x1="573.8" y1="586.9" x2="577.5" y2="588.6" stroke="#a4a4a4" stroke-width="1.3" stroke-linecap="round"/>
<line x1="586.1" y1="588.8" x2="590.9" y2="587.1" stroke="#555" stroke-width="2.2" stroke-linecap="round"/>
<line x1="586.1" y1="588.8" x2="590.9" y2="587.1" stroke="#a4a4a4" stroke-width="1.3" stroke-linecap="round"/>
<circle cx="642.4" cy="588.0" r="2.0" fill="url(#gGy)"/>
<line x1="642.4" y1="588.0" x2="651.0" y2="588.1" stroke="#555" stroke-width="2.2" stroke-linecap="round"/>
<line x1="642.4" y1="588.0" x2="651.0" y2="588.1" stroke="#a4a4a4" stroke-width="1.3" stroke-linecap="round"/>
<circle cx="651.0" cy="588.1" r="2.0" fill="url(#gGy)"/>
<line x1="599.5" y1="587.3" x2="603.3" y2="589.1" stroke="#555" stroke-width="2.2" stroke-linecap="round"/>
<line x1="599.5" y1="587.3" x2="603.3" y2="589.1" stroke="#a4a4a4" stroke-width="1.3" stroke-linecap="round"/>
<line x1="611.8" y1="589.2" x2="616.7" y2="587.6" stroke="#555" stroke-width="2.2" stroke-linecap="round"/>
<line x1="611.8" y1="589.2" x2="616.7" y2="587.6" stroke="#a4a4a4" stroke-width="1.3" stroke-linecap="round"/>
<circle cx="668.1" cy="588.4" r="2.0" fill="url(#gGy)"/>
<circle cx="675.8" cy="588.5" r="2.6" fill="url(#gWh)" stroke="#aaa" stroke-width="0.25"/>
<line x1="625.2" y1="587.7" x2="629.0" y2="589.5" stroke="#555" stroke-width="2.2" stroke-linecap="round"/>
<line x1="625.2" y1="587.7" x2="629.0" y2="589.5" stroke="#a4a4a4" stroke-width="1.3" stroke-linecap="round"/>
<circle cx="577.5" cy="588.6" r="2.0" fill="url(#gGy)"/>
<line x1="577.5" y1="588.6" x2="586.1" y2="588.8" stroke="#555" stroke-width="2.2" stroke-linecap="round"/>
<line x1="577.5" y1="588.6" x2="586.1" y2="588.8" stroke="#a4a4a4" stroke-width="1.3" stroke-linecap="round"/>
<circle cx="586.1" cy="588.8" r="2.0" fill="url(#gGy)"/>
<line x1="637.6" y1="589.6" x2="642.4" y2="588.0" stroke="#555" stroke-width="2.2" stroke-linecap="round"/>
<line x1="637.6" y1="589.6" x2="642.4" y2="588.0" stroke="#a4a4a4" stroke-width="1.3" stroke-linecap="round"/>
<line x1="651.0" y1="588.1" x2="654.7" y2="589.9" stroke="#555" stroke-width="2.2" stroke-linecap="round"/>
<line x1="651.0" y1="588.1" x2="654.7" y2="589.9" stroke="#a4a4a4" stroke-width="1.3" stroke-linecap="round"/>
<circle cx="603.3" cy="589.1" r="2.0" fill="url(#gGy)"/>
<line x1="603.3" y1="589.1" x2="611.8" y2="589.2" stroke="#555" stroke-width="2.2" stroke-linecap="round"/>
<line x1="603.3" y1="589.1" x2="611.8" y2="589.2" stroke="#a4a4a4" stroke-width="1.3" stroke-linecap="round"/>
<circle cx="611.8" cy="589.2" r="2.0" fill="url(#gGy)"/>
<line x1="663.3" y1="590.0" x2="668.1" y2="588.4" stroke="#555" stroke-width="2.2" stroke-linecap="round"/>
<line x1="663.3" y1="590.0" x2="668.1" y2="588.4" stroke="#a4a4a4" stroke-width="1.3" stroke-linecap="round"/>
<circle cx="629.0" cy="589.5" r="2.0" fill="url(#gGy)"/>
<line x1="629.0" y1="589.5" x2="637.6" y2="589.6" stroke="#555" stroke-width="2.2" stroke-linecap="round"/>
<line x1="629.0" y1="589.5" x2="637.6" y2="589.6" stroke="#a4a4a4" stroke-width="1.3" stroke-linecap="round"/>
<circle cx="637.6" cy="589.6" r="2.0" fill="url(#gGy)"/>
<line x1="586.1" y1="588.8" x2="589.9" y2="590.6" stroke="#555" stroke-width="2.2" stroke-linecap="round"/>
<line x1="586.1" y1="588.8" x2="589.9" y2="590.6" stroke="#a4a4a4" stroke-width="1.3" stroke-linecap="round"/>
<line x1="598.5" y1="590.7" x2="603.3" y2="589.1" stroke="#555" stroke-width="2.2" stroke-linecap="round"/>
<line x1="598.5" y1="590.7" x2="603.3" y2="589.1" stroke="#a4a4a4" stroke-width="1.3" stroke-linecap="round"/>
<circle cx="654.7" cy="589.9" r="2.0" fill="url(#gGy)"/>
<line x1="654.7" y1="589.9" x2="663.3" y2="590.0" stroke="#555" stroke-width="2.2" stroke-linecap="round"/>
<line x1="654.7" y1="589.9" x2="663.3" y2="590.0" stroke="#a4a4a4" stroke-width="1.3" stroke-linecap="round"/>
<circle cx="663.3" cy="590.0" r="2.0" fill="url(#gGy)"/>
<line x1="611.8" y1="589.2" x2="615.6" y2="591.0" stroke="#555" stroke-width="2.2" stroke-linecap="round"/>
<line x1="611.8" y1="589.2" x2="615.6" y2="591.0" stroke="#a4a4a4" stroke-width="1.3" stroke-linecap="round"/>
<circle cx="573.2" cy="590.1" r="2.6" fill="url(#gWh)" stroke="#aaa" stroke-width="0.25"/>
<line x1="624.2" y1="591.1" x2="629.0" y2="589.5" stroke="#555" stroke-width="2.2" stroke-linecap="round"/>
<line x1="624.2" y1="591.1" x2="629.0" y2="589.5" stroke="#a4a4a4" stroke-width="1.3" stroke-linecap="round"/>
<line x1="637.6" y1="589.6" x2="641.3" y2="591.4" stroke="#555" stroke-width="2.2" stroke-linecap="round"/>
<line x1="637.6" y1="589.6" x2="641.3" y2="591.4" stroke="#a4a4a4" stroke-width="1.3" stroke-linecap="round"/>
<circle cx="589.9" cy="590.6" r="2.0" fill="url(#gGy)"/>
<line x1="589.9" y1="590.6" x2="598.5" y2="590.7" stroke="#555" stroke-width="2.2" stroke-linecap="round"/>
<line x1="589.9" y1="590.6" x2="598.5" y2="590.7" stroke="#a4a4a4" stroke-width="1.3" stroke-linecap="round"/>
<circle cx="598.5" cy="590.7" r="2.0" fill="url(#gGy)"/>
<line x1="649.9" y1="591.5" x2="654.7" y2="589.9" stroke="#555" stroke-width="2.2" stroke-linecap="round"/>
<line x1="649.9" y1="591.5" x2="654.7" y2="589.9" stroke="#a4a4a4" stroke-width="1.3" stroke-linecap="round"/>
<circle cx="615.6" cy="591.0" r="2.0" fill="url(#gGy)"/>
<line x1="615.6" y1="591.0" x2="624.2" y2="591.1" stroke="#555" stroke-width="2.2" stroke-linecap="round"/>
<line x1="615.6" y1="591.0" x2="624.2" y2="591.1" stroke="#a4a4a4" stroke-width="1.3" stroke-linecap="round"/>
<circle cx="624.2" cy="591.1" r="2.0" fill="url(#gGy)"/>
<circle cx="641.3" cy="591.4" r="2.0" fill="url(#gGy)"/>
<line x1="641.3" y1="591.4" x2="649.9" y2="591.5" stroke="#555" stroke-width="2.2" stroke-linecap="round"/>
<line x1="641.3" y1="591.4" x2="649.9" y2="591.5" stroke="#a4a4a4" stroke-width="1.3" stroke-linecap="round"/>
<circle cx="649.9" cy="591.5" r="2.0" fill="url(#gGy)"/>
<line x1="598.5" y1="590.7" x2="602.2" y2="592.5" stroke="#555" stroke-width="2.2" stroke-linecap="round"/>
<line x1="598.5" y1="590.7" x2="602.2" y2="592.5" stroke="#a4a4a4" stroke-width="1.3" stroke-linecap="round"/>
<circle cx="666.7" cy="591.6" r="2.6" fill="url(#gWh)" stroke="#aaa" stroke-width="0.25"/>
<line x1="610.8" y1="592.6" x2="615.6" y2="591.0" stroke="#555" stroke-width="2.2" stroke-linecap="round"/>
<line x1="610.8" y1="592.6" x2="615.6" y2="591.0" stroke="#a4a4a4" stroke-width="1.3" stroke-linecap="round"/>
<line x1="624.2" y1="591.1" x2="628.0" y2="592.9" stroke="#555" stroke-width="2.2" stroke-linecap="round"/>
<line x1="624.2" y1="591.1" x2="628.0" y2="592.9" stroke="#a4a4a4" stroke-width="1.3" stroke-linecap="round"/>
<circle cx="585.5" cy="592.0" r="2.6" fill="url(#gWh)" stroke="#aaa" stroke-width="0.25"/>
<line x1="636.5" y1="593.0" x2="641.3" y2="591.4" stroke="#555" stroke-width="2.2" stroke-linecap="round"/>
<line x1="636.5" y1="593.0" x2="641.3" y2="591.4" stroke="#a4a4a4" stroke-width="1.3" stroke-linecap="round"/>
<circle cx="602.2" cy="592.5" r="2.0" fill="url(#gGy)"/>
<line x1="602.2" y1="592.5" x2="610.8" y2="592.6" stroke="#555" stroke-width="2.2" stroke-linecap="round"/>
<line x1="602.2" y1="592.5" x2="610.8" y2="592.6" stroke="#a4a4a4" stroke-width="1.3" stroke-linecap="round"/>
<circle cx="610.8" cy="592.6" r="2.0" fill="url(#gGy)"/>
<circle cx="628.0" cy="592.9" r="2.0" fill="url(#gGy)"/>
<line x1="628.0" y1="592.9" x2="636.5" y2="593.0" stroke="#555" stroke-width="2.2" stroke-linecap="round"/>
<line x1="628.0" y1="592.9" x2="636.5" y2="593.0" stroke="#a4a4a4" stroke-width="1.3" stroke-linecap="round"/>
<circle cx="636.5" cy="593.0" r="2.0" fill="url(#gGy)"/>
<circle cx="653.3" cy="593.1" r="2.6" fill="url(#gWh)" stroke="#aaa" stroke-width="0.25"/>
<line x1="610.8" y1="592.6" x2="614.6" y2="594.4" stroke="#555" stroke-width="2.2" stroke-linecap="round"/>
<line x1="610.8" y1="592.6" x2="614.6" y2="594.4" stroke="#a4a4a4" stroke-width="1.3" stroke-linecap="round"/>
<line x1="623.2" y1="594.5" x2="628.0" y2="592.9" stroke="#555" stroke-width="2.2" stroke-linecap="round"/>
<line x1="623.2" y1="594.5" x2="628.0" y2="592.9" stroke="#a4a4a4" stroke-width="1.3" stroke-linecap="round"/>
<circle cx="597.9" cy="594.0" r="2.6" fill="url(#gWh)" stroke="#aaa" stroke-width="0.25"/>
<circle cx="614.6" cy="594.4" r="2.0" fill="url(#gGy)"/>
<line x1="614.6" y1="594.4" x2="623.2" y2="594.5" stroke="#555" stroke-width="2.2" stroke-linecap="round"/>
<line x1="614.6" y1="594.4" x2="623.2" y2="594.5" stroke="#a4a4a4" stroke-width="1.3" stroke-linecap="round"/>
<circle cx="623.2" cy="594.5" r="2.0" fill="url(#gGy)"/>
<circle cx="639.9" cy="594.6" r="2.6" fill="url(#gWh)" stroke="#aaa" stroke-width="0.25"/>
<circle cx="610.2" cy="595.9" r="2.6" fill="url(#gWh)" stroke="#aaa" stroke-width="0.25"/>
<circle cx="626.5" cy="596.1" r="2.6" fill="url(#gWh)" stroke="#aaa" stroke-width="0.25"/>
<circle cx="568.5" cy="580.5" r="2.6" fill="url(#gBn)"/>
<circle cx="618.2" cy="581" r="2.6" fill="url(#gRd)"/>
<circle cx="568.5" cy="591.8" r="2.6" fill="url(#gRd)"/>
<polyline points="562.8,573 556,562.9 561.7,550.4" fill="none" stroke="#e02020" stroke-width="1" stroke-dasharray="1.2,1"/>
<polyline points="562.8,573 553,586 555,596" fill="none" stroke="#e02020" stroke-width="1" stroke-dasharray="1.2,1"/>
</svg></body></html>
